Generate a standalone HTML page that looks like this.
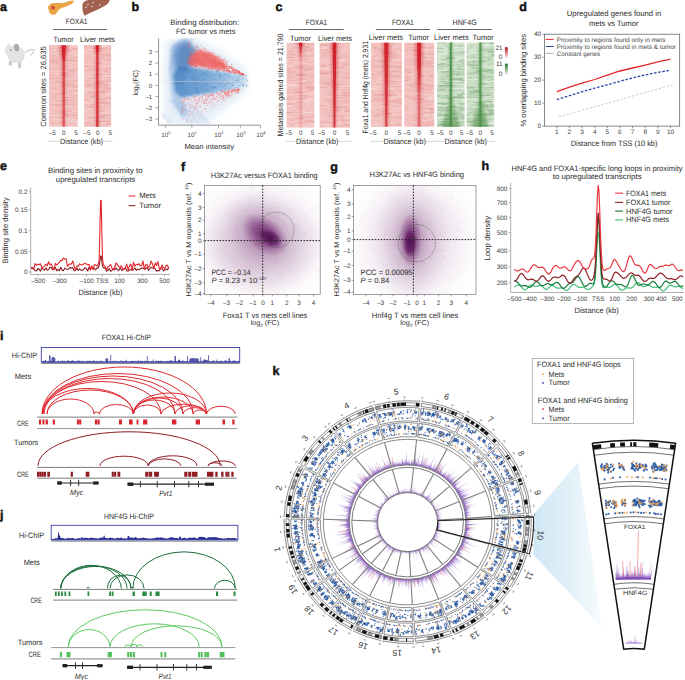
<!DOCTYPE html>
<html><head><meta charset="utf-8"><style>
html,body{margin:0;padding:0;background:#fff;}
body{width:685px;height:680px;overflow:hidden;}
svg{display:block;font-family:"Liberation Sans",sans-serif;}
</style></head><body>
<svg width="685" height="680" viewBox="0 0 685 680" text-rendering="geometricPrecision" fill="#2b2b2b">
<defs><filter id="hbl1" x="-50%" y="-5%" width="200%" height="110%"><feGaussianBlur stdDeviation="0.45 0.3"/></filter><filter id="hbl2" x="-50%" y="-5%" width="200%" height="110%"><feGaussianBlur stdDeviation="1.2 0.3"/></filter><linearGradient id="bg_red"><stop offset="0" stop-color="#c8141c" stop-opacity="0"/><stop offset="0.15" stop-color="#c8141c" stop-opacity="0.3"/><stop offset="0.3" stop-color="#c10f18"/><stop offset="0.7" stop-color="#c10f18"/><stop offset="0.85" stop-color="#c8141c" stop-opacity="0.3"/><stop offset="1" stop-color="#c8141c" stop-opacity="0"/></linearGradient><linearGradient id="bg_green"><stop offset="0" stop-color="#2e7d32" stop-opacity="0"/><stop offset="0.15" stop-color="#2e7d32" stop-opacity="0.3"/><stop offset="0.3" stop-color="#2a7530"/><stop offset="0.7" stop-color="#2a7530"/><stop offset="0.85" stop-color="#2e7d32" stop-opacity="0.3"/><stop offset="1" stop-color="#2e7d32" stop-opacity="0"/></linearGradient><linearGradient id="hb1" x1="0" y1="0" x2="0" y2="1"><stop offset="0.000" stop-color="#d0222a" stop-opacity="1.00"/><stop offset="0.025" stop-color="#d0222a" stop-opacity="1.00"/><stop offset="0.050" stop-color="#d0222a" stop-opacity="1.00"/><stop offset="0.075" stop-color="#d0222a" stop-opacity="0.95"/><stop offset="0.100" stop-color="#d0222a" stop-opacity="0.95"/><stop offset="0.125" stop-color="#d0222a" stop-opacity="0.95"/><stop offset="0.150" stop-color="#d0222a" stop-opacity="0.95"/><stop offset="0.175" stop-color="#d0222a" stop-opacity="0.95"/><stop offset="0.200" stop-color="#d0222a" stop-opacity="0.75"/><stop offset="0.225" stop-color="#d0222a" stop-opacity="0.74"/><stop offset="0.250" stop-color="#d0222a" stop-opacity="0.74"/><stop offset="0.275" stop-color="#d0222a" stop-opacity="0.73"/><stop offset="0.300" stop-color="#d0222a" stop-opacity="0.73"/><stop offset="0.325" stop-color="#d0222a" stop-opacity="0.72"/><stop offset="0.350" stop-color="#d0222a" stop-opacity="0.71"/><stop offset="0.375" stop-color="#d0222a" stop-opacity="0.71"/><stop offset="0.400" stop-color="#d0222a" stop-opacity="0.70"/><stop offset="0.425" stop-color="#d0222a" stop-opacity="0.69"/><stop offset="0.450" stop-color="#d0222a" stop-opacity="0.69"/><stop offset="0.475" stop-color="#d0222a" stop-opacity="0.68"/><stop offset="0.500" stop-color="#d0222a" stop-opacity="0.68"/><stop offset="0.525" stop-color="#d0222a" stop-opacity="0.67"/><stop offset="0.550" stop-color="#d0222a" stop-opacity="0.66"/><stop offset="0.575" stop-color="#d0222a" stop-opacity="0.66"/><stop offset="0.600" stop-color="#d0222a" stop-opacity="0.65"/><stop offset="0.625" stop-color="#d0222a" stop-opacity="0.64"/><stop offset="0.650" stop-color="#d0222a" stop-opacity="0.64"/><stop offset="0.675" stop-color="#d0222a" stop-opacity="0.63"/><stop offset="0.700" stop-color="#d0222a" stop-opacity="0.62"/><stop offset="0.725" stop-color="#d0222a" stop-opacity="0.62"/><stop offset="0.750" stop-color="#d0222a" stop-opacity="0.61"/><stop offset="0.775" stop-color="#d0222a" stop-opacity="0.61"/><stop offset="0.800" stop-color="#d0222a" stop-opacity="0.60"/><stop offset="0.825" stop-color="#d0222a" stop-opacity="0.59"/><stop offset="0.850" stop-color="#d0222a" stop-opacity="0.59"/><stop offset="0.875" stop-color="#d0222a" stop-opacity="0.58"/><stop offset="0.900" stop-color="#d0222a" stop-opacity="0.58"/><stop offset="0.925" stop-color="#d0222a" stop-opacity="0.57"/><stop offset="0.950" stop-color="#d0222a" stop-opacity="0.56"/><stop offset="0.975" stop-color="#d0222a" stop-opacity="0.56"/><stop offset="1.000" stop-color="#d0222a" stop-opacity="0.55"/></linearGradient><linearGradient id="hb2" x1="0" y1="0" x2="0" y2="1"><stop offset="0.000" stop-color="#d0222a" stop-opacity="1.00"/><stop offset="0.025" stop-color="#d0222a" stop-opacity="1.00"/><stop offset="0.050" stop-color="#d0222a" stop-opacity="1.00"/><stop offset="0.075" stop-color="#d0222a" stop-opacity="1.00"/><stop offset="0.100" stop-color="#d0222a" stop-opacity="0.85"/><stop offset="0.125" stop-color="#d0222a" stop-opacity="0.85"/><stop offset="0.150" stop-color="#d0222a" stop-opacity="0.85"/><stop offset="0.175" stop-color="#d0222a" stop-opacity="0.85"/><stop offset="0.200" stop-color="#d0222a" stop-opacity="0.85"/><stop offset="0.225" stop-color="#d0222a" stop-opacity="0.85"/><stop offset="0.250" stop-color="#d0222a" stop-opacity="0.85"/><stop offset="0.275" stop-color="#d0222a" stop-opacity="0.85"/><stop offset="0.300" stop-color="#d0222a" stop-opacity="0.85"/><stop offset="0.325" stop-color="#d0222a" stop-opacity="0.85"/><stop offset="0.350" stop-color="#d0222a" stop-opacity="0.85"/><stop offset="0.375" stop-color="#d0222a" stop-opacity="0.85"/><stop offset="0.400" stop-color="#d0222a" stop-opacity="0.85"/><stop offset="0.425" stop-color="#d0222a" stop-opacity="0.85"/><stop offset="0.450" stop-color="#d0222a" stop-opacity="0.85"/><stop offset="0.475" stop-color="#d0222a" stop-opacity="0.85"/><stop offset="0.500" stop-color="#d0222a" stop-opacity="0.85"/><stop offset="0.525" stop-color="#d0222a" stop-opacity="0.85"/><stop offset="0.550" stop-color="#d0222a" stop-opacity="0.85"/><stop offset="0.575" stop-color="#d0222a" stop-opacity="0.85"/><stop offset="0.600" stop-color="#d0222a" stop-opacity="0.85"/><stop offset="0.625" stop-color="#d0222a" stop-opacity="0.85"/><stop offset="0.650" stop-color="#d0222a" stop-opacity="0.85"/><stop offset="0.675" stop-color="#d0222a" stop-opacity="0.85"/><stop offset="0.700" stop-color="#d0222a" stop-opacity="0.85"/><stop offset="0.725" stop-color="#d0222a" stop-opacity="0.85"/><stop offset="0.750" stop-color="#d0222a" stop-opacity="0.85"/><stop offset="0.775" stop-color="#d0222a" stop-opacity="0.85"/><stop offset="0.800" stop-color="#d0222a" stop-opacity="0.85"/><stop offset="0.825" stop-color="#d0222a" stop-opacity="0.85"/><stop offset="0.850" stop-color="#d0222a" stop-opacity="0.85"/><stop offset="0.875" stop-color="#d0222a" stop-opacity="0.85"/><stop offset="0.900" stop-color="#d0222a" stop-opacity="0.85"/><stop offset="0.925" stop-color="#d0222a" stop-opacity="0.85"/><stop offset="0.950" stop-color="#d0222a" stop-opacity="0.85"/><stop offset="0.975" stop-color="#d0222a" stop-opacity="0.85"/><stop offset="1.000" stop-color="#d0222a" stop-opacity="0.85"/></linearGradient><filter id="blur1" x="-20%" y="-20%" width="140%" height="140%"><feGaussianBlur stdDeviation="1.6"/></filter><filter id="blur2" x="-20%" y="-20%" width="140%" height="140%"><feGaussianBlur stdDeviation="3"/></filter><linearGradient id="bfan" x1="0" x2="1" y1="0" y2="0"><stop offset="0" stop-color="#2f6fb8" stop-opacity="0.9"/><stop offset="0.5" stop-color="#5b93cf" stop-opacity="0.75"/><stop offset="1" stop-color="#b9d3ec" stop-opacity="0.35"/></linearGradient><clipPath id="clipb"><rect x="159" y="38" width="92" height="87.5"/></clipPath><linearGradient id="bcore" x1="0" x2="1" y1="0" y2="0"><stop offset="0" stop-color="#4f89c6"/><stop offset="0.45" stop-color="#6c9fd2"/><stop offset="0.8" stop-color="#a9c9e8"/><stop offset="1" stop-color="#d9e7f4"/></linearGradient><linearGradient id="hb3" x1="0" y1="0" x2="0" y2="1"><stop offset="0.000" stop-color="#d0222a" stop-opacity="1.00"/><stop offset="0.025" stop-color="#d0222a" stop-opacity="1.00"/><stop offset="0.050" stop-color="#d0222a" stop-opacity="0.80"/><stop offset="0.075" stop-color="#d0222a" stop-opacity="0.69"/><stop offset="0.100" stop-color="#d0222a" stop-opacity="0.58"/><stop offset="0.125" stop-color="#d0222a" stop-opacity="0.46"/><stop offset="0.150" stop-color="#d0222a" stop-opacity="0.35"/><stop offset="0.175" stop-color="#d0222a" stop-opacity="0.24"/><stop offset="0.200" stop-color="#d0222a" stop-opacity="0.16"/><stop offset="0.225" stop-color="#d0222a" stop-opacity="0.16"/><stop offset="0.250" stop-color="#d0222a" stop-opacity="0.16"/><stop offset="0.275" stop-color="#d0222a" stop-opacity="0.16"/><stop offset="0.300" stop-color="#d0222a" stop-opacity="0.16"/><stop offset="0.325" stop-color="#d0222a" stop-opacity="0.16"/><stop offset="0.350" stop-color="#d0222a" stop-opacity="0.16"/><stop offset="0.375" stop-color="#d0222a" stop-opacity="0.16"/><stop offset="0.400" stop-color="#d0222a" stop-opacity="0.16"/><stop offset="0.425" stop-color="#d0222a" stop-opacity="0.16"/><stop offset="0.450" stop-color="#d0222a" stop-opacity="0.16"/><stop offset="0.475" stop-color="#d0222a" stop-opacity="0.16"/><stop offset="0.500" stop-color="#d0222a" stop-opacity="0.16"/><stop offset="0.525" stop-color="#d0222a" stop-opacity="0.16"/><stop offset="0.550" stop-color="#d0222a" stop-opacity="0.16"/><stop offset="0.575" stop-color="#d0222a" stop-opacity="0.16"/><stop offset="0.600" stop-color="#d0222a" stop-opacity="0.16"/><stop offset="0.625" stop-color="#d0222a" stop-opacity="0.16"/><stop offset="0.650" stop-color="#d0222a" stop-opacity="0.16"/><stop offset="0.675" stop-color="#d0222a" stop-opacity="0.16"/><stop offset="0.700" stop-color="#d0222a" stop-opacity="0.16"/><stop offset="0.725" stop-color="#d0222a" stop-opacity="0.16"/><stop offset="0.750" stop-color="#d0222a" stop-opacity="0.16"/><stop offset="0.775" stop-color="#d0222a" stop-opacity="0.16"/><stop offset="0.800" stop-color="#d0222a" stop-opacity="0.16"/><stop offset="0.825" stop-color="#d0222a" stop-opacity="0.16"/><stop offset="0.850" stop-color="#d0222a" stop-opacity="0.16"/><stop offset="0.875" stop-color="#d0222a" stop-opacity="0.16"/><stop offset="0.900" stop-color="#d0222a" stop-opacity="0.16"/><stop offset="0.925" stop-color="#d0222a" stop-opacity="0.16"/><stop offset="0.950" stop-color="#d0222a" stop-opacity="0.16"/><stop offset="0.975" stop-color="#d0222a" stop-opacity="0.16"/><stop offset="1.000" stop-color="#d0222a" stop-opacity="0.16"/></linearGradient><linearGradient id="hb4" x1="0" y1="0" x2="0" y2="1"><stop offset="0.000" stop-color="#d0222a" stop-opacity="1.00"/><stop offset="0.025" stop-color="#d0222a" stop-opacity="1.00"/><stop offset="0.050" stop-color="#d0222a" stop-opacity="0.99"/><stop offset="0.075" stop-color="#d0222a" stop-opacity="0.99"/><stop offset="0.100" stop-color="#d0222a" stop-opacity="0.98"/><stop offset="0.125" stop-color="#d0222a" stop-opacity="0.98"/><stop offset="0.150" stop-color="#d0222a" stop-opacity="0.98"/><stop offset="0.175" stop-color="#d0222a" stop-opacity="0.97"/><stop offset="0.200" stop-color="#d0222a" stop-opacity="0.97"/><stop offset="0.225" stop-color="#d0222a" stop-opacity="0.97"/><stop offset="0.250" stop-color="#d0222a" stop-opacity="0.96"/><stop offset="0.275" stop-color="#d0222a" stop-opacity="0.96"/><stop offset="0.300" stop-color="#d0222a" stop-opacity="0.95"/><stop offset="0.325" stop-color="#d0222a" stop-opacity="0.95"/><stop offset="0.350" stop-color="#d0222a" stop-opacity="0.95"/><stop offset="0.375" stop-color="#d0222a" stop-opacity="0.94"/><stop offset="0.400" stop-color="#d0222a" stop-opacity="0.94"/><stop offset="0.425" stop-color="#d0222a" stop-opacity="0.94"/><stop offset="0.450" stop-color="#d0222a" stop-opacity="0.93"/><stop offset="0.475" stop-color="#d0222a" stop-opacity="0.93"/><stop offset="0.500" stop-color="#d0222a" stop-opacity="0.93"/><stop offset="0.525" stop-color="#d0222a" stop-opacity="0.92"/><stop offset="0.550" stop-color="#d0222a" stop-opacity="0.92"/><stop offset="0.575" stop-color="#d0222a" stop-opacity="0.91"/><stop offset="0.600" stop-color="#d0222a" stop-opacity="0.91"/><stop offset="0.625" stop-color="#d0222a" stop-opacity="0.91"/><stop offset="0.650" stop-color="#d0222a" stop-opacity="0.90"/><stop offset="0.675" stop-color="#d0222a" stop-opacity="0.90"/><stop offset="0.700" stop-color="#d0222a" stop-opacity="0.90"/><stop offset="0.725" stop-color="#d0222a" stop-opacity="0.89"/><stop offset="0.750" stop-color="#d0222a" stop-opacity="0.89"/><stop offset="0.775" stop-color="#d0222a" stop-opacity="0.88"/><stop offset="0.800" stop-color="#d0222a" stop-opacity="0.88"/><stop offset="0.825" stop-color="#d0222a" stop-opacity="0.88"/><stop offset="0.850" stop-color="#d0222a" stop-opacity="0.87"/><stop offset="0.875" stop-color="#d0222a" stop-opacity="0.87"/><stop offset="0.900" stop-color="#d0222a" stop-opacity="0.86"/><stop offset="0.925" stop-color="#d0222a" stop-opacity="0.86"/><stop offset="0.950" stop-color="#d0222a" stop-opacity="0.86"/><stop offset="0.975" stop-color="#d0222a" stop-opacity="0.85"/><stop offset="1.000" stop-color="#d0222a" stop-opacity="0.85"/></linearGradient><linearGradient id="hb5" x1="0" y1="0" x2="0" y2="1"><stop offset="0.000" stop-color="#d0222a" stop-opacity="0.97"/><stop offset="0.025" stop-color="#d0222a" stop-opacity="0.96"/><stop offset="0.050" stop-color="#d0222a" stop-opacity="0.96"/><stop offset="0.075" stop-color="#d0222a" stop-opacity="0.95"/><stop offset="0.100" stop-color="#d0222a" stop-opacity="0.94"/><stop offset="0.125" stop-color="#d0222a" stop-opacity="0.94"/><stop offset="0.150" stop-color="#d0222a" stop-opacity="0.93"/><stop offset="0.175" stop-color="#d0222a" stop-opacity="0.93"/><stop offset="0.200" stop-color="#d0222a" stop-opacity="0.92"/><stop offset="0.225" stop-color="#d0222a" stop-opacity="0.91"/><stop offset="0.250" stop-color="#d0222a" stop-opacity="0.91"/><stop offset="0.275" stop-color="#d0222a" stop-opacity="0.90"/><stop offset="0.300" stop-color="#d0222a" stop-opacity="0.90"/><stop offset="0.325" stop-color="#d0222a" stop-opacity="0.89"/><stop offset="0.350" stop-color="#d0222a" stop-opacity="0.88"/><stop offset="0.375" stop-color="#d0222a" stop-opacity="0.88"/><stop offset="0.400" stop-color="#d0222a" stop-opacity="0.87"/><stop offset="0.425" stop-color="#d0222a" stop-opacity="0.86"/><stop offset="0.450" stop-color="#d0222a" stop-opacity="0.86"/><stop offset="0.475" stop-color="#d0222a" stop-opacity="0.85"/><stop offset="0.500" stop-color="#d0222a" stop-opacity="0.84"/><stop offset="0.525" stop-color="#d0222a" stop-opacity="0.84"/><stop offset="0.550" stop-color="#d0222a" stop-opacity="0.83"/><stop offset="0.575" stop-color="#d0222a" stop-opacity="0.83"/><stop offset="0.600" stop-color="#d0222a" stop-opacity="0.82"/><stop offset="0.625" stop-color="#d0222a" stop-opacity="0.81"/><stop offset="0.650" stop-color="#d0222a" stop-opacity="0.81"/><stop offset="0.675" stop-color="#d0222a" stop-opacity="0.80"/><stop offset="0.700" stop-color="#d0222a" stop-opacity="0.79"/><stop offset="0.725" stop-color="#d0222a" stop-opacity="0.79"/><stop offset="0.750" stop-color="#d0222a" stop-opacity="0.78"/><stop offset="0.775" stop-color="#d0222a" stop-opacity="0.78"/><stop offset="0.800" stop-color="#d0222a" stop-opacity="0.77"/><stop offset="0.825" stop-color="#d0222a" stop-opacity="0.76"/><stop offset="0.850" stop-color="#d0222a" stop-opacity="0.76"/><stop offset="0.875" stop-color="#d0222a" stop-opacity="0.75"/><stop offset="0.900" stop-color="#d0222a" stop-opacity="0.74"/><stop offset="0.925" stop-color="#d0222a" stop-opacity="0.74"/><stop offset="0.950" stop-color="#d0222a" stop-opacity="0.73"/><stop offset="0.975" stop-color="#d0222a" stop-opacity="0.73"/><stop offset="1.000" stop-color="#d0222a" stop-opacity="0.72"/></linearGradient><linearGradient id="hb6" x1="0" y1="0" x2="0" y2="1"><stop offset="0.000" stop-color="#d0222a" stop-opacity="1.00"/><stop offset="0.025" stop-color="#d0222a" stop-opacity="1.00"/><stop offset="0.050" stop-color="#d0222a" stop-opacity="1.00"/><stop offset="0.075" stop-color="#d0222a" stop-opacity="1.00"/><stop offset="0.100" stop-color="#d0222a" stop-opacity="1.00"/><stop offset="0.125" stop-color="#d0222a" stop-opacity="1.00"/><stop offset="0.150" stop-color="#d0222a" stop-opacity="1.00"/><stop offset="0.175" stop-color="#d0222a" stop-opacity="1.00"/><stop offset="0.200" stop-color="#d0222a" stop-opacity="1.00"/><stop offset="0.225" stop-color="#d0222a" stop-opacity="1.00"/><stop offset="0.250" stop-color="#d0222a" stop-opacity="1.00"/><stop offset="0.275" stop-color="#d0222a" stop-opacity="1.00"/><stop offset="0.300" stop-color="#d0222a" stop-opacity="1.00"/><stop offset="0.325" stop-color="#d0222a" stop-opacity="0.95"/><stop offset="0.350" stop-color="#d0222a" stop-opacity="0.91"/><stop offset="0.375" stop-color="#d0222a" stop-opacity="0.86"/><stop offset="0.400" stop-color="#d0222a" stop-opacity="0.82"/><stop offset="0.425" stop-color="#d0222a" stop-opacity="0.78"/><stop offset="0.450" stop-color="#d0222a" stop-opacity="0.73"/><stop offset="0.475" stop-color="#d0222a" stop-opacity="0.69"/><stop offset="0.500" stop-color="#d0222a" stop-opacity="0.64"/><stop offset="0.525" stop-color="#d0222a" stop-opacity="0.59"/><stop offset="0.550" stop-color="#d0222a" stop-opacity="0.55"/><stop offset="0.575" stop-color="#d0222a" stop-opacity="0.51"/><stop offset="0.600" stop-color="#d0222a" stop-opacity="0.45"/><stop offset="0.625" stop-color="#d0222a" stop-opacity="0.45"/><stop offset="0.650" stop-color="#d0222a" stop-opacity="0.45"/><stop offset="0.675" stop-color="#d0222a" stop-opacity="0.45"/><stop offset="0.700" stop-color="#d0222a" stop-opacity="0.45"/><stop offset="0.725" stop-color="#d0222a" stop-opacity="0.45"/><stop offset="0.750" stop-color="#d0222a" stop-opacity="0.45"/><stop offset="0.775" stop-color="#d0222a" stop-opacity="0.45"/><stop offset="0.800" stop-color="#d0222a" stop-opacity="0.45"/><stop offset="0.825" stop-color="#d0222a" stop-opacity="0.45"/><stop offset="0.850" stop-color="#d0222a" stop-opacity="0.45"/><stop offset="0.875" stop-color="#d0222a" stop-opacity="0.45"/><stop offset="0.900" stop-color="#d0222a" stop-opacity="0.45"/><stop offset="0.925" stop-color="#d0222a" stop-opacity="0.45"/><stop offset="0.950" stop-color="#d0222a" stop-opacity="0.45"/><stop offset="0.975" stop-color="#d0222a" stop-opacity="0.45"/><stop offset="1.000" stop-color="#d0222a" stop-opacity="0.45"/></linearGradient><linearGradient id="hb7" x1="0" y1="0" x2="0" y2="1"><stop offset="0.000" stop-color="#4a8f45" stop-opacity="0.90"/><stop offset="0.025" stop-color="#4a8f45" stop-opacity="0.90"/><stop offset="0.050" stop-color="#4a8f45" stop-opacity="0.90"/><stop offset="0.075" stop-color="#4a8f45" stop-opacity="0.90"/><stop offset="0.100" stop-color="#4a8f45" stop-opacity="0.90"/><stop offset="0.125" stop-color="#4a8f45" stop-opacity="0.90"/><stop offset="0.150" stop-color="#4a8f45" stop-opacity="0.90"/><stop offset="0.175" stop-color="#4a8f45" stop-opacity="0.90"/><stop offset="0.200" stop-color="#4a8f45" stop-opacity="0.90"/><stop offset="0.225" stop-color="#4a8f45" stop-opacity="0.90"/><stop offset="0.250" stop-color="#4a8f45" stop-opacity="0.90"/><stop offset="0.275" stop-color="#4a8f45" stop-opacity="0.90"/><stop offset="0.300" stop-color="#4a8f45" stop-opacity="0.90"/><stop offset="0.325" stop-color="#4a8f45" stop-opacity="0.90"/><stop offset="0.350" stop-color="#4a8f45" stop-opacity="0.90"/><stop offset="0.375" stop-color="#4a8f45" stop-opacity="0.90"/><stop offset="0.400" stop-color="#4a8f45" stop-opacity="0.90"/><stop offset="0.425" stop-color="#4a8f45" stop-opacity="0.90"/><stop offset="0.450" stop-color="#4a8f45" stop-opacity="0.90"/><stop offset="0.475" stop-color="#4a8f45" stop-opacity="0.90"/><stop offset="0.500" stop-color="#4a8f45" stop-opacity="0.90"/><stop offset="0.525" stop-color="#4a8f45" stop-opacity="0.90"/><stop offset="0.550" stop-color="#4a8f45" stop-opacity="0.90"/><stop offset="0.575" stop-color="#4a8f45" stop-opacity="0.90"/><stop offset="0.600" stop-color="#4a8f45" stop-opacity="0.90"/><stop offset="0.625" stop-color="#4a8f45" stop-opacity="0.90"/><stop offset="0.650" stop-color="#4a8f45" stop-opacity="0.90"/><stop offset="0.675" stop-color="#4a8f45" stop-opacity="0.90"/><stop offset="0.700" stop-color="#4a8f45" stop-opacity="0.90"/><stop offset="0.725" stop-color="#4a8f45" stop-opacity="0.90"/><stop offset="0.750" stop-color="#4a8f45" stop-opacity="0.90"/><stop offset="0.775" stop-color="#4a8f45" stop-opacity="0.90"/><stop offset="0.800" stop-color="#4a8f45" stop-opacity="0.90"/><stop offset="0.825" stop-color="#4a8f45" stop-opacity="0.90"/><stop offset="0.850" stop-color="#4a8f45" stop-opacity="0.90"/><stop offset="0.875" stop-color="#4a8f45" stop-opacity="0.90"/><stop offset="0.900" stop-color="#4a8f45" stop-opacity="0.90"/><stop offset="0.925" stop-color="#4a8f45" stop-opacity="0.90"/><stop offset="0.950" stop-color="#4a8f45" stop-opacity="0.90"/><stop offset="0.975" stop-color="#4a8f45" stop-opacity="0.90"/><stop offset="1.000" stop-color="#4a8f45" stop-opacity="0.90"/></linearGradient><linearGradient id="hb7s" x1="0" y1="0" x2="0" y2="1"><stop offset="0" stop-color="#4a8f45" stop-opacity="0"/><stop offset="0.8" stop-color="#4a8f45" stop-opacity="0.45"/><stop offset="1" stop-color="#4a8f45" stop-opacity="0.6"/></linearGradient><linearGradient id="hb8" x1="0" y1="0" x2="0" y2="1"><stop offset="0.000" stop-color="#4a8f45" stop-opacity="0.85"/><stop offset="0.025" stop-color="#4a8f45" stop-opacity="0.85"/><stop offset="0.050" stop-color="#4a8f45" stop-opacity="0.85"/><stop offset="0.075" stop-color="#4a8f45" stop-opacity="0.85"/><stop offset="0.100" stop-color="#4a8f45" stop-opacity="0.85"/><stop offset="0.125" stop-color="#4a8f45" stop-opacity="0.85"/><stop offset="0.150" stop-color="#4a8f45" stop-opacity="0.85"/><stop offset="0.175" stop-color="#4a8f45" stop-opacity="0.85"/><stop offset="0.200" stop-color="#4a8f45" stop-opacity="0.85"/><stop offset="0.225" stop-color="#4a8f45" stop-opacity="0.85"/><stop offset="0.250" stop-color="#4a8f45" stop-opacity="0.85"/><stop offset="0.275" stop-color="#4a8f45" stop-opacity="0.85"/><stop offset="0.300" stop-color="#4a8f45" stop-opacity="0.85"/><stop offset="0.325" stop-color="#4a8f45" stop-opacity="0.85"/><stop offset="0.350" stop-color="#4a8f45" stop-opacity="0.85"/><stop offset="0.375" stop-color="#4a8f45" stop-opacity="0.85"/><stop offset="0.400" stop-color="#4a8f45" stop-opacity="0.85"/><stop offset="0.425" stop-color="#4a8f45" stop-opacity="0.85"/><stop offset="0.450" stop-color="#4a8f45" stop-opacity="0.85"/><stop offset="0.475" stop-color="#4a8f45" stop-opacity="0.85"/><stop offset="0.500" stop-color="#4a8f45" stop-opacity="0.85"/><stop offset="0.525" stop-color="#4a8f45" stop-opacity="0.85"/><stop offset="0.550" stop-color="#4a8f45" stop-opacity="0.85"/><stop offset="0.575" stop-color="#4a8f45" stop-opacity="0.85"/><stop offset="0.600" stop-color="#4a8f45" stop-opacity="0.85"/><stop offset="0.625" stop-color="#4a8f45" stop-opacity="0.85"/><stop offset="0.650" stop-color="#4a8f45" stop-opacity="0.85"/><stop offset="0.675" stop-color="#4a8f45" stop-opacity="0.85"/><stop offset="0.700" stop-color="#4a8f45" stop-opacity="0.85"/><stop offset="0.725" stop-color="#4a8f45" stop-opacity="0.85"/><stop offset="0.750" stop-color="#4a8f45" stop-opacity="0.85"/><stop offset="0.775" stop-color="#4a8f45" stop-opacity="0.85"/><stop offset="0.800" stop-color="#4a8f45" stop-opacity="0.85"/><stop offset="0.825" stop-color="#4a8f45" stop-opacity="0.85"/><stop offset="0.850" stop-color="#4a8f45" stop-opacity="0.85"/><stop offset="0.875" stop-color="#4a8f45" stop-opacity="0.85"/><stop offset="0.900" stop-color="#4a8f45" stop-opacity="0.85"/><stop offset="0.925" stop-color="#4a8f45" stop-opacity="0.85"/><stop offset="0.950" stop-color="#4a8f45" stop-opacity="0.85"/><stop offset="0.975" stop-color="#4a8f45" stop-opacity="0.85"/><stop offset="1.000" stop-color="#4a8f45" stop-opacity="0.85"/></linearGradient><linearGradient id="hb8s" x1="0" y1="0" x2="0" y2="1"><stop offset="0" stop-color="#4a8f45" stop-opacity="0"/><stop offset="0.8" stop-color="#4a8f45" stop-opacity="0.45"/><stop offset="1" stop-color="#4a8f45" stop-opacity="0.6"/></linearGradient><linearGradient id="lgr" x1="0" y1="0" x2="0" y2="1"><stop offset="0" stop-color="#b3121b"/><stop offset="1" stop-color="#fbecec"/></linearGradient><linearGradient id="lgg" x1="0" y1="0" x2="0" y2="1"><stop offset="0" stop-color="#23702c"/><stop offset="1" stop-color="#eef5ec"/></linearGradient><radialGradient id="pg1"><stop offset="0" stop-color="#6a1f6a" stop-opacity="0.95"/><stop offset="0.5" stop-color="#7a3278" stop-opacity="0.6"/><stop offset="1" stop-color="#8a4a88" stop-opacity="0"/></radialGradient><radialGradient id="pg0"><stop offset="0" stop-color="#c9a9c8" stop-opacity="0.55"/><stop offset="0.6" stop-color="#dcc8db" stop-opacity="0.35"/><stop offset="1" stop-color="#efe6ef" stop-opacity="0"/></radialGradient><radialGradient id="pg2"><stop offset="0" stop-color="#8e5a8c" stop-opacity="0.55"/><stop offset="0.6" stop-color="#b895b6" stop-opacity="0.3"/><stop offset="1" stop-color="#d9c6d8" stop-opacity="0"/></radialGradient><radialGradient id="pg3"><stop offset="0" stop-color="#4d0f4f" stop-opacity="1"/><stop offset="0.6" stop-color="#5e1a5f" stop-opacity="0.7"/><stop offset="1" stop-color="#6d2a6c" stop-opacity="0"/></radialGradient><clipPath id="clipf"><rect x="204.5" y="185.5" width="115.69999999999999" height="109.0"/></clipPath><clipPath id="clipg"><rect x="353.6" y="185.5" width="122.39999999999998" height="108.89999999999998"/></clipPath><linearGradient id="cone" x1="0" y1="0" x2="1" y2="0"><stop offset="0" stop-color="#cfe7f4"/><stop offset="0.55" stop-color="#e3f1f9"/><stop offset="1" stop-color="#f7fbfd"/></linearGradient><radialGradient id="spk1" gradientUnits="userSpaceOnUse" cx="407.6" cy="522.0" r="79"><stop offset="0.74" stop-color="#7b4bb8"/><stop offset="0.88" stop-color="#9a72cc"/><stop offset="1" stop-color="#c9b3e6"/></radialGradient><radialGradient id="spk2" gradientUnits="userSpaceOnUse" cx="407.6" cy="522.0" r="42"><stop offset="0.72" stop-color="#8353bd"/><stop offset="0.85" stop-color="#a582d2"/><stop offset="1" stop-color="#d2c0ea"/></radialGradient><linearGradient id="zsp" gradientUnits="userSpaceOnUse" x1="0" y1="579" x2="0" y2="552"><stop offset="0" stop-color="#7a45b5"/><stop offset="0.5" stop-color="#9a70cc"/><stop offset="1" stop-color="#c4aee6"/></linearGradient></defs>
<text x="0" y="11" font-size="12.5" fill="#111" font-weight="bold" stroke="#111" stroke-width="0.45">a</text>
<path d="M48.5,9.5 C47,6 50,3.5 54,3 C59,2.6 62,3.8 66,2.2 C69,1 72,0 73.8,0.6 C74,2.5 72,4.2 68,5.8 C64,7.4 60,8 58.5,10 C57.2,12.5 56,14.8 53,14.8 C50,14.8 49,12 48.5,9.5 Z" fill="#e9a545"/>
<circle cx="53" cy="7.8" r="2" fill="#d9493d"/>
<path d="M82.5,5 C83,1.5 86,0 90,0 L109.5,0 C110,1.5 108,4 104.5,6 C100,8.5 96,10.5 92,12 C88,13.5 86,15.5 84.5,15.5 C82.5,13 82.2,8 82.5,5 Z" fill="#a4604f"/>
<circle cx="88" cy="4.5" r="0.8" fill="#cfe3f5"/>
<circle cx="93" cy="2.5" r="0.8" fill="#cfe3f5"/>
<circle cx="92" cy="6.5" r="0.8" fill="#cfe3f5"/>
<circle cx="86" cy="7.5" r="0.8" fill="#cfe3f5"/>
<circle cx="100" cy="5" r="0.8" fill="#cfe3f5"/>
<g><path d="M24.5,52.8 C28,50.5 31,49.2 33.6,49.6 C35,50.2 33,53 30.6,55.6" fill="none" stroke="#b5b5b5" stroke-width="0.9"/><path d="M9,61 L8.6,65.2 L11.8,65.4 L12,61 Z M18,62 L18.3,68.3 L21,68.2 L21.2,62 Z" fill="#c9c9c9"/><path d="M4.8,50.8 C5.2,47 7.5,44.5 8.2,43.4 C9.5,43.6 10.2,45 10.6,46 C13,45.5 18,45.5 21,47.5 C24.5,50 25.5,55 24.2,58.8 C23,62 19,63.6 14.5,63 C10.5,62.5 8.2,59.5 7.6,55.5 C6.2,54.5 4.8,53 4.8,50.8 Z" fill="#e3e3e3"/><ellipse cx="16.6" cy="47.6" rx="2.6" ry="3.9" fill="#a9a9a9" transform="rotate(-8 16.6 47.6)"/><circle cx="10.8" cy="50" r="0.7" fill="#555"/></g>
<text x="65.8" y="23.6" font-size="7.8" textLength="21.7" lengthAdjust="spacingAndGlyphs">FOXA1</text>
<line x1="53" y1="29.5" x2="107" y2="29.5" stroke="#555" stroke-width="0.9"/>
<text x="53.4" y="41.6" font-size="7.8" textLength="20.1" lengthAdjust="spacingAndGlyphs">Tumor</text>
<text x="80" y="41.6" font-size="7.8" textLength="34.8" lengthAdjust="spacingAndGlyphs">Liver mets</text>
<rect x="49.1" y="45.3" width="28.7" height="81.4" fill="#f3c3c1"/>
<path d="M62.6,45.3h4v1.3h-4zM49.1,45.3h5v0.7h-5zM62.5,46.9h5v1.3h-5zM58.3,49.7h3.9v1.3h-3.9zM56.2,49.7h10.5v0.7h-10.5zM70.4,50.6h3.1v0.7h-3.1zM61,50.6h4.6v1.3h-4.6zM56.6,51.5h7.4v1h-7.4zM49.1,51.5h7.9v1.3h-7.9zM58.9,52.3h13.9v1h-13.9zM60.8,52.3h13.5v0.7h-13.5zM68.9,56.1h8.9v0.7h-8.9zM60.8,58.9h10.1v0.7h-10.1zM62.7,58.9h5.6v1h-5.6zM49.1,60.9h10v1.3h-10zM68.6,60.9h6v1.3h-6zM52.9,65.8h6.6v1.3h-6.6zM49.1,66.6h4.1v0.7h-4.1zM54,66.6h5.2v1h-5.2zM60,66.6h6.2v0.7h-6.2zM72.3,67.8h5.5v1.3h-5.5zM58.7,68.9h6.2v0.7h-6.2zM64.9,69.9h6.1v0.7h-6.1zM70,69.9h4v0.7h-4zM59.6,74h10.5v0.7h-10.5zM60.5,75.1h6.2v1h-6.2zM74.1,76.7h3.7v0.7h-3.7zM49.1,77.7h12.7v1.3h-12.7zM51.4,77.7h10.7v1h-10.7zM70.6,78.5h4.1v1h-4.1zM65.3,80.3h8.3v0.7h-8.3zM69.2,82.2h8.6v0.7h-8.6zM74.6,86.6h3.2v1.3h-3.2zM59.9,86.6h3.2v1.3h-3.2zM65.3,86.6h5.8v1h-5.8zM63,87.9h3.6v1h-3.6zM75.3,90.6h2.5v1h-2.5zM57.8,90.6h12v0.7h-12zM60.2,97.2h13.9v0.7h-13.9zM55.2,100.1h10.8v0.7h-10.8zM55.9,100.9h7.5v1.3h-7.5zM59.8,100.9h3.3v1h-3.3zM65.1,100.9h11.8v0.7h-11.8zM50.6,102.2h11v0.7h-11zM53.1,103.4h4.6v1.3h-4.6zM69.2,104.3h8.6v0.7h-8.6zM72.8,104.3h5v1.3h-5zM71.3,104.3h6.5v1.3h-6.5zM69.8,106.3h8v1h-8zM60.1,107.7h3.6v1h-3.6zM75.2,109h2.6v1h-2.6zM51.6,110.3h9.8v1h-9.8zM55.5,111.2h9.4v0.7h-9.4zM72.5,112.5h5.3v1.3h-5.3zM57.8,113.5h9.8v1.3h-9.8zM51.3,113.5h4.5v1.3h-4.5zM60.5,114.8h9.6v1h-9.6zM61.6,115.6h3.1v0.7h-3.1zM72.3,116.9h3.5v1h-3.5zM49.5,120.6h9.2v0.7h-9.2zM49.2,120.6h9.8v0.7h-9.8zM67.9,122.9h4v1.3h-4zM49.1,124.4h4.7v1.3h-4.7z" fill="#e07d79" opacity="0.10"/>
<path d="M49.1,46.9h6v0.7h-6zM57.7,46.9h10.5v1h-10.5zM66.3,47.9h11.5v0.7h-11.5zM49.1,47.9h12.5v1h-12.5zM55.2,48.9h6.7v1h-6.7zM63.5,49.7h6.9v1h-6.9zM71.5,49.7h6.3v1h-6.3zM75.3,51.5h2.5v1h-2.5zM52.1,51.5h4.6v1h-4.6zM59.1,54.4h11.7v0.7h-11.7zM49.1,59.7h4.3v1.3h-4.3zM63.4,59.7h11.5v0.7h-11.5zM60.2,60.9h11.9v0.7h-11.9zM49.1,62.5h11.6v0.7h-11.6zM51.7,62.5h3.8v0.7h-3.8zM51.1,63.4h13.6v0.7h-13.6zM65.3,63.4h4.8v0.7h-4.8zM56.9,63.4h13.9v1h-13.9zM61.7,64.3h3.2v1h-3.2zM69.1,64.3h8.7v0.7h-8.7zM49.1,67.8h11.7v1.3h-11.7zM57.8,68.9h12.7v0.7h-12.7zM61.4,69.9h13.7v0.7h-13.7zM49.9,69.9h5.4v1h-5.4zM66.8,71h10.2v1.3h-10.2zM49.1,72.4h7.8v0.7h-7.8zM62.1,75.1h6.3v0.7h-6.3zM65.4,75.1h6v1.3h-6zM49.1,76.7h4.2v1h-4.2zM55,77.7h4.5v1h-4.5zM64.8,80.3h11.1v1h-11.1zM61.5,81.2h7.7v0.7h-7.7zM56.2,81.2h12.6v1.3h-12.6zM54,83.3h7.8v0.7h-7.8zM70.3,83.3h4.2v1.3h-4.2zM60.7,85.6h3.8v1.3h-3.8zM63.2,85.6h5.5v0.7h-5.5zM68.2,90.6h9.2v1h-9.2zM51.5,92.9h3.3v1h-3.3zM73.1,94.5h4.7v1h-4.7zM68.9,94.5h7v0.7h-7zM51.9,94.5h11.3v0.7h-11.3zM62.1,97.2h6.2v1h-6.2zM51.9,97.2h5.2v0.7h-5.2zM62.4,97.2h12.7v1h-12.7zM55.9,100.1h13.2v0.7h-13.2zM57.1,102.2h10.6v1h-10.6zM71.5,102.2h6.3v1h-6.3zM70.1,102.2h7.7v1h-7.7zM49.1,103.4h1.1v0.7h-1.1zM61.9,105.2h3.5v1.3h-3.5zM67,109h10.5v0.7h-10.5zM60,110.3h4.6v1h-4.6zM64.3,110.3h7.4v1h-7.4zM56.6,111.2h9.9v1h-9.9zM62.6,113.5h5.5v1.3h-5.5zM65.2,114.8h4.6v1h-4.6zM67.8,118.2h10v1h-10zM69.2,122.9h4.5v1.3h-4.5zM52.4,122.9h6.7v1h-6.7zM68.3,125.7h5.2v0.7h-5.2z" fill="#e07d79" opacity="0.18"/>
<path d="M56.6,45.3h13.4v0.7h-13.4zM49.1,45.3h11v0.7h-11zM61.2,46.9h7.6v1.3h-7.6zM71.8,47.9h6v1.3h-6zM49.1,48.9h1.7v1h-1.7zM67.3,48.9h3.7v1h-3.7zM60.4,50.6h10.6v1.3h-10.6zM55,52.3h4.1v1h-4.1zM51.3,53.6h11.1v1.3h-11.1zM50.3,55.3h5.5v0.7h-5.5zM59.3,55.3h12.2v1.3h-12.2zM49.5,57.3h11v0.7h-11zM69.7,57.3h8.1v0.7h-8.1zM61.5,58.9h4.7v0.7h-4.7zM50.8,58.9h12.1v1h-12.1zM65.1,59.7h12.7v1.3h-12.7zM49.1,59.7h8.6v0.7h-8.6zM73,60.9h4.8v1h-4.8zM50.4,60.9h9.7v1h-9.7zM61.1,65.8h7.5v1.3h-7.5zM52.6,66.6h13.2v0.7h-13.2zM70.6,68.9h7.2v0.7h-7.2zM65.4,68.9h12.4v1h-12.4zM70.6,71h3.5v1.3h-3.5zM62.6,72.4h12.1v1.3h-12.1zM61.8,74h12.2v1.3h-12.2zM60,74h11.2v1.3h-11.2zM49.1,75.1h3.5v1h-3.5zM59.7,77.7h3v1h-3zM49.1,78.5h11v0.7h-11zM55.9,78.5h6.2v1h-6.2zM69.8,79.5h8v1.3h-8zM57.3,80.3h4.9v1h-4.9zM54.2,81.2h9.1v1h-9.1zM62.3,82.2h8.5v1h-8.5zM49.1,83.3h4.2v0.7h-4.2zM64,84.1h13.6v1.3h-13.6zM72.1,86.6h5.7v1h-5.7zM51.1,87.9h5.5v1h-5.5zM50,87.9h8.5v0.7h-8.5zM66.6,89.5h7.6v0.7h-7.6zM73.2,90.6h4.6v0.7h-4.6zM58.8,92.1h7.1v0.7h-7.1zM54.7,92.9h7v1.3h-7zM54.1,92.9h10.9v1h-10.9zM69.5,94.5h5v1.3h-5zM50.7,95.7h9.9v1h-9.9zM49.6,95.7h13.7v0.7h-13.7zM53.4,98.5h3.4v0.7h-3.4zM65.2,100.1h11.5v0.7h-11.5zM59.4,104.3h13.7v0.7h-13.7zM49.9,104.3h12.1v0.7h-12.1zM53.9,105.2h10.1v0.7h-10.1zM55.7,106.3h6.9v1h-6.9zM62.5,111.2h9.1v0.7h-9.1zM60.5,112.5h6.3v1h-6.3zM55.4,113.5h3v0.7h-3zM66.5,114.8h11.3v1h-11.3zM49.6,116.9h11.9v1h-11.9zM57.9,116.9h7.1v1h-7.1zM51.3,116.9h8v0.7h-8zM73.5,118.2h4.3v0.7h-4.3zM50.6,122.9h4.2v0.7h-4.2z" fill="#e07d79" opacity="0.28"/>
<path d="M63.9,64.3h6.6v1.3h-6.6zM49.1,65.8h1.5v0.7h-1.5zM49.1,66.6h10.1v0.7h-10.1zM55,67.8h13.8v1.3h-13.8zM51.5,71h6.3v1.3h-6.3zM59.8,71h10.9v1h-10.9zM68,72.4h9.8v1.3h-9.8zM73,75.1h3.8v1h-3.8zM56.7,87.9h7v0.7h-7zM74.8,87.9h3v1h-3zM64.8,89.5h5.1v1.3h-5.1zM49.1,90.6h1.4v1h-1.4zM52,92.1h9.9v1.3h-9.9zM73.2,92.9h4.6v1.3h-4.6zM51.5,95.7h12.8v1.3h-12.8zM63.8,103.4h4v1h-4zM51.9,105.2h4.4v1.3h-4.4zM51.6,115.6h7.5v0.7h-7.5zM52.4,118.2h3.2v0.7h-3.2zM74.4,121.4h3.4v1.3h-3.4z" fill="#ffffff" opacity="0.15"/>
<path d="M51.1,46.9h3.5v1.3h-3.5zM74.6,48.9h3.2v0.7h-3.2zM53.1,48.9h12v1h-12zM51.9,49.7h4.4v1h-4.4zM63.6,51.5h13.4v0.7h-13.4zM53.5,52.3h11.3v1.3h-11.3zM51.2,53.6h6.9v1.3h-6.9zM63.5,53.6h10v0.7h-10zM73.8,54.4h4v1h-4zM64.3,56.1h7.8v0.7h-7.8zM72.5,62.5h5.3v0.7h-5.3zM68.8,64.3h3.4v1h-3.4zM51.2,65.8h9.7v1h-9.7zM67.5,74h3.7v1h-3.7zM68.1,74h5.6v0.7h-5.6zM60.2,76.7h3.8v1h-3.8zM73.4,78.5h3.8v1h-3.8zM54.1,79.5h7.8v1h-7.8zM66.9,79.5h9v0.7h-9zM68,79.5h8v1.3h-8zM58.5,81.2h9.1v1h-9.1zM72.5,83.3h5.3v1h-5.3zM56.5,83.3h3v1.3h-3zM49.1,84.1h2v1.3h-2zM67.3,89.5h10.5v0.7h-10.5zM63.3,94.5h11.5v1h-11.5zM57.6,95.7h4.8v0.7h-4.8zM59.1,98.5h4.1v0.7h-4.1zM67.3,100.9h3.4v0.7h-3.4zM54,102.2h13.5v1.3h-13.5zM63.1,105.2h4.3v1.3h-4.3zM58.8,106.3h13.8v1h-13.8zM64.3,106.3h3.4v0.7h-3.4zM72.5,110.3h4.7v1h-4.7zM60.9,111.2h4.3v1.3h-4.3zM49.1,114.8h10.4v1.3h-10.4zM54.7,116.9h3.4v1.3h-3.4zM65.6,118.2h10v1.3h-10zM71.1,119.3h6.7v1.3h-6.7zM60.9,119.3h8.2v0.7h-8.2zM51.5,119.3h13.5v1h-13.5zM67.5,121.4h10.3v0.7h-10.3zM68.2,122.9h3.5v1h-3.5zM49.1,124.4h7.7v1.3h-7.7zM66.1,125.7h4.1v0.7h-4.1zM60.4,125.7h13.5v1.3h-13.5z" fill="#ffffff" opacity="0.25"/>
<polygon points="59.3,45.3 59.3,47.3 59.3,49.4 59.5,51.4 59.8,53.4 60.2,55.5 60.5,57.5 60.8,59.5 61.2,61.6 61.2,63.6 61.2,65.7 61.2,67.7 61.2,69.7 61.2,71.8 61.2,73.8 61.2,75.8 61.2,77.9 61.2,79.9 61.2,81.9 61.2,84 61.2,86 61.2,88 61.2,90.1 61.2,92.1 61.2,94.1 61.2,96.2 61.2,98.2 61.2,100.2 61.2,102.3 61.2,104.3 61.2,106.3 61.2,108.4 61.2,110.4 61.2,112.5 61.2,114.5 61.2,116.5 61.2,118.6 61.2,120.6 61.2,122.6 61.2,124.7 61.2,126.7 66.2,126.7 66.2,124.7 66.2,122.6 66.2,120.6 66.2,118.6 66.2,116.5 66.2,114.5 66.2,112.5 66.2,110.4 66.2,108.4 66.2,106.3 66.2,104.3 66.2,102.3 66.2,100.2 66.2,98.2 66.2,96.2 66.2,94.1 66.2,92.1 66.2,90.1 66.2,88 66.2,86 66.2,84 66.2,81.9 66.2,79.9 66.2,77.9 66.2,75.8 66.2,73.8 66.2,71.8 66.2,69.7 66.2,67.7 66.2,65.7 66.2,63.6 66.2,61.6 66.6,59.5 66.9,57.5 67.2,55.5 67.6,53.4 67.9,51.4 68.1,49.4 68.1,47.3 68.1,45.3" fill="url(#hb1)" opacity="0.35" filter="url(#hbl2)"/>
<polygon points="61.7,45.3 61.7,47.3 61.7,49.4 61.8,51.4 61.9,53.4 62.1,55.5 62.2,57.5 62.4,59.5 62.6,61.6 62.6,63.6 62.6,65.7 62.6,67.7 62.6,69.7 62.6,71.8 62.6,73.8 62.6,75.8 62.6,77.9 62.6,79.9 62.6,81.9 62.6,84 62.6,86 62.6,88 62.6,90.1 62.6,92.1 62.6,94.1 62.6,96.2 62.6,98.2 62.6,100.2 62.6,102.3 62.6,104.3 62.6,106.3 62.6,108.4 62.6,110.4 62.6,112.5 62.6,114.5 62.6,116.5 62.6,118.6 62.6,120.6 62.6,122.6 62.6,124.7 62.6,126.7 64.9,126.7 64.9,124.7 64.9,122.6 64.9,120.6 64.9,118.6 64.9,116.5 64.9,114.5 64.9,112.5 64.9,110.4 64.9,108.4 64.9,106.3 64.9,104.3 64.9,102.3 64.9,100.2 64.9,98.2 64.9,96.2 64.9,94.1 64.9,92.1 64.9,90.1 64.9,88 64.9,86 64.9,84 64.9,81.9 64.9,79.9 64.9,77.9 64.9,75.8 64.9,73.8 64.9,71.8 64.9,69.7 64.9,67.7 64.9,65.7 64.9,63.6 64.9,61.6 65,59.5 65.2,57.5 65.3,55.5 65.5,53.4 65.6,51.4 65.7,49.4 65.7,47.3 65.7,45.3" fill="url(#hb1)" opacity="1.0" filter="url(#hbl1)"/>
<path d="M58.6,47.4h6.7v.7h-6.7zM63.4,53h3.6v.7h-3.6zM59.3,68.4h6.9v.7h-6.9zM60.3,72.3h5v.7h-5zM61.1,75.3h4.9v.7h-4.9zM60.7,81.9h4.3v.7h-4.3zM61.3,84h3.7v.7h-3.7zM61.9,102h6.8v.7h-6.8zM62.9,109.7h2.7v.7h-2.7zM61.4,112h2.5v.7h-2.5zM61,116.9h6.3v.7h-6.3zM61.3,121.2h3.3v.7h-3.3zM59.3,122.7h6.3v.7h-6.3z" fill="#d0222a" opacity="0.18"/>
<rect x="84.1" y="45.3" width="27" height="81.4" fill="#f3c3c1"/>
<path d="M95.4,46.5h3.4v0.7h-3.4zM84.1,46.5h6.7v1.3h-6.7zM84.1,47.7h10.1v1.3h-10.1zM98.6,49.3h11.4v1h-11.4zM89.5,50.5h8.8v1.3h-8.8zM86.6,51.4h10.2v0.7h-10.2zM104.3,52.9h6.8v0.7h-6.8zM101.4,52.9h8.8v1h-8.8zM103.9,54.1h7.2v1h-7.2zM84.1,55.2h9.7v1h-9.7zM100.6,55.2h3.4v1.3h-3.4zM84.1,56.2h9.7v1.3h-9.7zM84.1,57.4h5.5v1h-5.5zM106.4,57.4h4.7v1.3h-4.7zM99.1,57.4h5.3v1h-5.3zM84.1,60.6h4.9v0.7h-4.9zM84.1,60.6h9.2v0.7h-9.2zM90.1,61.5h13.2v1.3h-13.2zM84.1,62.9h9.6v0.7h-9.6zM97.1,66.8h12.1v1h-12.1zM102,68.2h9.1v0.7h-9.1zM101.6,69.5h5.2v0.7h-5.2zM94.8,69.5h12.7v1h-12.7zM84.1,70.4h5.3v1.3h-5.3zM94.7,71.4h6.8v0.7h-6.8zM105.1,71.4h6v1h-6zM105.2,72.4h5.9v1h-5.9zM84.1,73.9h3.3v1.3h-3.3zM90.8,75.2h7.1v1h-7.1zM85,75.2h10.9v0.7h-10.9zM84.1,76.1h2.1v1.3h-2.1zM89.1,77.2h12.2v0.7h-12.2zM104.2,78.1h6.9v0.7h-6.9zM84.1,79.7h9.2v1.3h-9.2zM106.5,79.7h4.6v0.7h-4.6zM86,80.6h8.7v0.7h-8.7zM84.1,80.6h4v1.3h-4zM86.4,83.8h4.5v0.7h-4.5zM100.2,84.7h8.8v0.7h-8.8zM84.1,85.9h2.9v0.7h-2.9zM97.2,85.9h9.6v0.7h-9.6zM102.4,88.3h8.7v1h-8.7zM91,91.4h13.7v1h-13.7zM88.9,91.4h6.6v1h-6.6zM94.6,92.9h10.2v1h-10.2zM88.1,96.6h7.2v1.3h-7.2zM96.7,97.8h12.9v1.3h-12.9zM84.1,98.8h4.3v1h-4.3zM94.8,98.8h9.9v1.3h-9.9zM94.8,102.2h4.9v1h-4.9zM92.6,103.2h6.8v1h-6.8zM105.4,104.2h5.7v1h-5.7zM102.7,106.6h8.4v1.3h-8.4zM85.3,106.6h13.5v1h-13.5zM91.2,108.1h8.9v1.3h-8.9zM90.8,108.9h6.4v0.7h-6.4zM98,111.8h9.1v0.7h-9.1zM100,114.8h3.6v1h-3.6zM102.5,116h4.8v0.7h-4.8zM84.1,116h13.6v1h-13.6zM101.9,118.3h9v0.7h-9zM87.8,120.7h9.3v1.3h-9.3zM106.7,122.9h4.4v1.3h-4.4zM97.9,122.9h9.6v0.7h-9.6zM84.8,123.8h7.8v1.3h-7.8z" fill="#e07d79" opacity="0.10"/>
<path d="M98.3,45.3h10.5v1h-10.5zM84.1,45.3h7.8v1h-7.8zM90.6,47.7h5.8v0.7h-5.8zM98,47.7h13.1v1.3h-13.1zM98.3,49.3h6.9v1h-6.9zM98.7,50.5h6.9v1h-6.9zM84.1,50.5h7.4v1h-7.4zM92.7,51.4h5v0.7h-5zM106.3,54.1h4.8v1.3h-4.8zM97.1,54.1h4.8v1.3h-4.8zM96,54.1h8.1v1.3h-8.1zM84.1,55.2h5.7v0.7h-5.7zM95.7,56.2h7.6v1h-7.6zM98.7,56.2h12.4v0.7h-12.4zM103.8,58.2h7.1v1h-7.1zM84.6,58.2h12.5v0.7h-12.5zM91.5,60.6h8.2v0.7h-8.2zM95.8,62.9h6.2v1h-6.2zM88.5,64.4h7.3v1.3h-7.3zM84.1,65.7h12.1v1.3h-12.1zM92.9,69.5h11.7v0.7h-11.7zM86.1,69.5h11.5v1.3h-11.5zM102.5,70.4h6.9v0.7h-6.9zM92.3,75.2h9.5v1.3h-9.5zM93.4,76.1h12.1v1.3h-12.1zM102.8,79.7h7.9v1.3h-7.9zM105.8,80.6h5.3v1.3h-5.3zM93.9,81.8h12.5v0.7h-12.5zM96.9,82.8h7.1v0.7h-7.1zM84.1,82.8h10.8v1h-10.8zM86.9,84.7h11.1v1.3h-11.1zM84.1,85.9h11.9v1.3h-11.9zM103.9,85.9h4.8v1.3h-4.8zM94.2,88.3h7.8v0.7h-7.8zM103.3,88.3h7.8v0.7h-7.8zM107.6,89.2h3.5v1h-3.5zM101.2,90.1h6v1.3h-6zM88.2,91.4h12.8v1h-12.8zM89.1,91.4h3.3v0.7h-3.3zM102.1,94.1h3v1.3h-3zM92.7,95.6h7.2v1h-7.2zM90.4,96.6h7.8v0.7h-7.8zM105.8,96.6h5.3v0.7h-5.3zM89.8,97.8h7.3v1.3h-7.3zM99.4,97.8h11.7v1.3h-11.7zM84.1,98.8h4.3v1.3h-4.3zM94.5,101.4h12.9v0.7h-12.9zM90.8,104.2h5.7v1.3h-5.7zM84.2,104.2h4v1h-4zM90,104.2h7.4v1h-7.4zM91.8,105.3h13.6v1h-13.6zM87.6,105.3h5.1v0.7h-5.1zM86.4,106.6h11.9v0.7h-11.9zM99,108.9h6.5v0.7h-6.5zM101.9,108.9h9.2v0.7h-9.2zM100.6,109.8h4.4v1h-4.4zM99.5,109.8h3.3v1.3h-3.3zM100.2,109.8h3.3v1h-3.3zM97.4,110.9h7.5v1h-7.5zM84.1,114.8h3.8v1h-3.8zM101.3,120.7h6.6v1h-6.6zM93.8,120.7h13.5v1.3h-13.5zM84.1,122h7.5v1.3h-7.5zM98.5,122h7.2v1h-7.2zM104.8,123.8h6.3v1.3h-6.3zM96.1,125.4h10.4v1h-10.4z" fill="#e07d79" opacity="0.18"/>
<path d="M92.8,47.7h11.2v1.3h-11.2zM99.7,52.9h9.7v0.7h-9.7zM99.4,55.2h11.7v0.7h-11.7zM106.7,59.5h4.4v1h-4.4zM84.1,65.7h3v1.3h-3zM88.7,68.2h10.6v1h-10.6zM105.1,68.2h6v1.3h-6zM106.5,68.2h4.6v1h-4.6zM103.3,70.4h4v1h-4zM100.3,73.9h10.8v0.7h-10.8zM107.4,73.9h3.7v1h-3.7zM104.2,73.9h6.9v0.7h-6.9zM91.5,77.2h5.9v0.7h-5.9zM106.2,77.2h4.9v0.7h-4.9zM87.8,78.1h4.1v0.7h-4.1zM99.9,81.8h3.1v1.3h-3.1zM94.7,81.8h13.1v1h-13.1zM96,82.8h5.7v1h-5.7zM93.9,83.8h13.5v1.3h-13.5zM103.6,84.7h5.8v0.7h-5.8zM84.1,84.7h7.2v0.7h-7.2zM104.3,87.3h6.8v1.3h-6.8zM99,87.3h12.1v0.7h-12.1zM96.2,90.1h9.7v1.3h-9.7zM102.3,91.4h6.3v0.7h-6.3zM99.1,92.9h7.6v0.7h-7.6zM87.4,92.9h9.7v1.3h-9.7zM90.8,95.6h6.2v1.3h-6.2zM108,97.8h3.1v1h-3.1zM84.1,100h5.9v0.7h-5.9zM102.2,101.4h4.9v1.3h-4.9zM99.6,102.2h10.2v1.3h-10.2zM96.6,103.2h12.8v0.7h-12.8zM89.7,106.6h4.8v1.3h-4.8zM101.3,114.8h9.8v1.3h-9.8zM100.2,116h3.5v1.3h-3.5zM100.3,117.3h4.5v1.3h-4.5zM94.6,117.3h5.7v1h-5.7zM88.1,117.3h6.9v1.3h-6.9zM108.5,120.7h2.6v1h-2.6zM98.4,120.7h12.7v1.3h-12.7zM86.7,122.9h12.2v0.7h-12.2zM105.8,123.8h5.3v0.7h-5.3zM84.1,125.4h12.9v1h-12.9z" fill="#e07d79" opacity="0.28"/>
<path d="M90.8,46.5h11.6v1h-11.6zM88.2,47.7h4.2v1h-4.2zM84.1,49.3h8v0.7h-8zM96,49.3h8.2v0.7h-8.2zM90.4,49.3h5.9v1h-5.9zM84.1,50.5h9.1v1.3h-9.1zM90.1,55.2h12.5v1h-12.5zM106.7,57.4h4.4v1.3h-4.4zM100,57.4h9.9v1.3h-9.9zM91.7,58.2h12.6v0.7h-12.6zM96.2,61.5h6v1h-6zM99.6,66.8h7.1v1.3h-7.1zM93.1,69.5h10.5v0.7h-10.5zM107.5,72.4h3.6v1.3h-3.6zM84.1,73.9h7.7v0.7h-7.7zM92.1,78.1h13.7v1h-13.7zM105.1,82.8h6v1.3h-6zM106.5,87.3h4.6v1h-4.6zM84.1,87.3h6v1.3h-6zM108.8,92.9h2.3v1.3h-2.3zM109,92.9h2.1v1h-2.1zM104.4,96.6h6.6v0.7h-6.6zM91.1,97.8h7.1v1.3h-7.1zM106.6,100h4.5v1h-4.5zM84.1,101.4h9v1.3h-9zM87.1,103.2h4.9v0.7h-4.9zM85.8,103.2h5.6v0.7h-5.6zM97.2,104.2h6.3v1h-6.3zM105.6,109.8h5.5v0.7h-5.5zM84.1,110.9h3.5v1.3h-3.5zM102.4,113.4h8.7v1h-8.7zM99.5,113.4h11.6v0.7h-11.6zM84.1,114.8h8.8v1.3h-8.8zM92.9,118.3h9.6v1h-9.6zM100.1,119.6h5.2v1h-5.2zM88,122h12.2v0.7h-12.2zM92,125.4h8.7v1.3h-8.7z" fill="#ffffff" opacity="0.15"/>
<path d="M98,45.3h10.8v1h-10.8zM98.9,46.5h8.7v0.7h-8.7zM94.5,46.5h10.9v1.3h-10.9zM94.2,56.2h7.4v1h-7.4zM94.8,59.5h8.5v0.7h-8.5zM88.6,64.4h9.7v1.3h-9.7zM102.4,65.7h8.2v1h-8.2zM84.1,72.4h1.9v0.7h-1.9zM84.1,75.2h3v0.7h-3zM103.3,75.2h7.8v1.3h-7.8zM84.1,76.1h12v1h-12zM98,76.1h12.3v1h-12.3zM98.3,88.3h3.4v1h-3.4zM84.1,89.2h8.7v1.3h-8.7zM94.4,90.1h7.8v1h-7.8zM96.3,94.1h13.6v1h-13.6zM94,96.6h9.2v1.3h-9.2zM87.9,98.8h10.2v1h-10.2zM109,108.1h2.1v1.3h-2.1zM84.1,108.1h8.2v1h-8.2zM100.6,111.8h9.3v1h-9.3zM85.3,119.6h7v0.7h-7zM100.7,122h4.1v1h-4.1zM93.9,122.9h13.4v1h-13.4z" fill="#ffffff" opacity="0.25"/>
<polygon points="93.3,45.3 93.7,47.3 94.1,49.4 94.5,51.4 94.9,53.4 94.9,55.5 94.9,57.5 94.9,59.5 94.9,61.6 94.9,63.6 94.9,65.7 94.9,67.7 94.9,69.7 94.9,71.8 94.9,73.8 94.9,75.8 94.9,77.9 94.9,79.9 94.9,81.9 94.9,84 94.9,86 94.9,88 94.9,90.1 94.9,92.1 94.9,94.1 94.9,96.2 94.9,98.2 94.9,100.2 94.9,102.3 94.9,104.3 94.9,106.3 94.9,108.4 94.9,110.4 94.9,112.5 94.9,114.5 94.9,116.5 94.9,118.6 94.9,120.6 94.9,122.6 94.9,124.7 94.9,126.7 99.7,126.7 99.7,124.7 99.7,122.6 99.7,120.6 99.7,118.6 99.7,116.5 99.7,114.5 99.7,112.5 99.7,110.4 99.7,108.4 99.7,106.3 99.7,104.3 99.7,102.3 99.7,100.2 99.7,98.2 99.7,96.2 99.7,94.1 99.7,92.1 99.7,90.1 99.7,88 99.7,86 99.7,84 99.7,81.9 99.7,79.9 99.7,77.9 99.7,75.8 99.7,73.8 99.7,71.8 99.7,69.7 99.7,67.7 99.7,65.7 99.7,63.6 99.7,61.6 99.7,59.5 99.7,57.5 99.7,55.5 99.7,53.4 100.1,51.4 100.5,49.4 100.9,47.3 101.3,45.3" fill="url(#hb2)" opacity="0.35" filter="url(#hbl2)"/>
<polygon points="95.5,45.3 95.7,47.3 95.8,49.4 96,51.4 96.2,53.4 96.2,55.5 96.2,57.5 96.2,59.5 96.2,61.6 96.2,63.6 96.2,65.7 96.2,67.7 96.2,69.7 96.2,71.8 96.2,73.8 96.2,75.8 96.2,77.9 96.2,79.9 96.2,81.9 96.2,84 96.2,86 96.2,88 96.2,90.1 96.2,92.1 96.2,94.1 96.2,96.2 96.2,98.2 96.2,100.2 96.2,102.3 96.2,104.3 96.2,106.3 96.2,108.4 96.2,110.4 96.2,112.5 96.2,114.5 96.2,116.5 96.2,118.6 96.2,120.6 96.2,122.6 96.2,124.7 96.2,126.7 98.4,126.7 98.4,124.7 98.4,122.6 98.4,120.6 98.4,118.6 98.4,116.5 98.4,114.5 98.4,112.5 98.4,110.4 98.4,108.4 98.4,106.3 98.4,104.3 98.4,102.3 98.4,100.2 98.4,98.2 98.4,96.2 98.4,94.1 98.4,92.1 98.4,90.1 98.4,88 98.4,86 98.4,84 98.4,81.9 98.4,79.9 98.4,77.9 98.4,75.8 98.4,73.8 98.4,71.8 98.4,69.7 98.4,67.7 98.4,65.7 98.4,63.6 98.4,61.6 98.4,59.5 98.4,57.5 98.4,55.5 98.4,53.4 98.6,51.4 98.8,49.4 98.9,47.3 99.1,45.3" fill="url(#hb2)" opacity="1.0" filter="url(#hbl1)"/>
<path d="M92.7,53h4.9v.7h-4.9zM97.1,58h6.4v.7h-6.4zM95.3,62.6h5.3v.7h-5.3zM94.7,70.8h2.9v.7h-2.9zM95.7,73.7h6.3v.7h-6.3zM96.8,80.5h4.9v.7h-4.9zM94.9,98.7h6.2v.7h-6.2zM97.2,107h3.9v.7h-3.9zM94.8,110h3.5v.7h-3.5zM95.3,122.2h5.7v.7h-5.7z" fill="#d0222a" opacity="0.18"/>
<text x="46.5" y="126.7" font-size="7.8" textLength="80.5" lengthAdjust="spacingAndGlyphs" transform="rotate(-90 46.5 126.7)">Common sites = 26,635</text>
<text x="52.3" y="135" font-size="6.4" text-anchor="middle" fill="#444">–5</text>
<text x="63.7" y="135" font-size="6.4" text-anchor="middle" fill="#444">0</text>
<text x="76" y="135" font-size="6.4" text-anchor="middle" fill="#444">5</text>
<text x="86.9" y="135" font-size="6.4" text-anchor="middle" fill="#444">–5</text>
<text x="97.8" y="135" font-size="6.4" text-anchor="middle" fill="#444">0</text>
<text x="110.4" y="135" font-size="6.4" text-anchor="middle" fill="#444">5</text>
<text x="60" y="143.5" font-size="7.8" textLength="43" lengthAdjust="spacingAndGlyphs">Distance (kb)</text>
<line x1="49" y1="141.3" x2="59.5" y2="141.3" stroke="#777" stroke-width="0.6" stroke-dasharray="0.8 0.8"/>
<line x1="103.5" y1="141.3" x2="113" y2="141.3" stroke="#777" stroke-width="0.6" stroke-dasharray="0.8 0.8"/>
<text x="131.5" y="11.3" font-size="12.5" fill="#111" font-weight="bold" stroke="#111" stroke-width="0.45">b</text>
<text x="170.3" y="25" font-size="7.8" textLength="68.9" lengthAdjust="spacingAndGlyphs">Binding distribution:</text>
<text x="176" y="33.8" font-size="7.8" textLength="59.4" lengthAdjust="spacingAndGlyphs">FC tumor vs mets</text>
<g clip-path="url(#clipb)">
<path d="M166,40 L196,38.5 L222,52 L246,70 L247,92 L226,108 L205,125 L166,125 L163,80 Z" fill="#dde9f5" opacity="0.75" filter="url(#blur2)"/>
<path d="M168.5,99.5 L189,123.5 M170.9,99.9 L191.4,123.5 M173.3,100.3 L193.8,123.5 M175.7,100.7 L196.2,123.5 M178.1,101.1 L198.6,123.5 M180.5,101.5 L201,123.5 M182.9,101.9 L203.4,123.5 M185.3,102.3 L205.8,123.5 M187.7,102.7 L208.2,123.5 M190.1,103.1 L210.6,123.5" stroke="#a9c6e6" stroke-width="0.6" fill="none" opacity="0.9"/>
<path d="M161.5,114.5 L169,123 M163,113 L171.5,123" stroke="#b3cde9" stroke-width="0.7" fill="none"/>
<path d="M168,52 L180,38.5 M170.2,51.4 L182.2,38.5 M172.4,50.8 L184.4,38.5 M174.6,50.2 L186.6,38.5 M176.8,49.6 L188.8,38.5 M179,49 L191,38.5 M181.2,48.4 L193.2,38.5 M183.4,47.8 L195.4,38.5" stroke="#b9d1eb" stroke-width="0.6" fill="none" opacity="0.8"/>
<path d="M172,45 L186,39 L196,50 L190,66 L181,98 L188,112 L182,118 L172,100 L169,70 Z" fill="#9fc0e4" opacity="0.75" filter="url(#blur1)"/>
<path d="M179,65.7 L236,73.7 L247,78 L247,85 L236,89 L181.3,97.8 L175,91 L173,75 Z" fill="url(#bcore)" opacity="0.9" filter="url(#blur1)"/>
<path d="M176,46 L186,40 L197,50 L194,65.5 L186,70 L177,72 L173,58 Z" fill="#3168ad" opacity="0.62" filter="url(#blur2)"/>
<path d="M189,65 L228,70.5 L224,61 L211,53 L199,49.5 L191,55 Z" fill="#f25e5e" opacity="0.85" filter="url(#blur1)"/>
<path transform="scale(.1)" d="m1904 426h0m-5 15h0m-8 8h0m-14-26h0m161 56h0m-25-22h0m-35 16h0m0-7h0m-11-14h0m-18 22h0m-46 1h0m-12-14h0m-2 13h0m37 34h0m9-15h0m11 16h0m13-12h0m42 10h0m11-7h0m31-15h0m3 20h0m18-8h0m137 61h0m-19 7h0m-23 1h0m-20-15h0m-23 4h0m-5-6h0m-2 8h0m-40-3h0m-1 2h0m-18 7h0m-5-21h0m-1 1h0m-17 17h0m-7-3h0m-49 2h0m-6 10h0m-23-24h0m-20 11h0m-2 1h0m-16-11h0m-8 23h0m-7-7h0m8-38h0m7 12h0m55-5h0m4 8h0m2-25h0m48-3h0m5 8h0m53 11h0m14 4h0m6-11h0m27 12h0m9-8h0m120 66h0m-54-15h0m-32 1h0m-8 2h0m-3 6h0m-9 11h0m-26 1h0m-26 0h0m-3-9h0m-15-12h0m-13 22h0m-8-27h0m-10 1h0m-10 14h0m-7 12h0m-25-18h0m-3 5h0m-20-17h0m-12 18h0m-2 7h0m-1-3h0m-7 3h0m-7 4h0m-5-1h0m-1-23h0m-5 3h0m-12-6h0m-17 9h0m-3 10h0m-2-11h0m-8 0h0m-11 12h0m-6-8h0m-2 26h0m2 9h0m1 5h0m4-5h0m9 9h0m4-1h0m9 0h0m0-13h0m2 8h0m1 2h0m3-9h0m6-9h0m13 1h0m4 18h0m4-15h0m3 4h0m4-3h0m8 13h0m6-1h0m1 6h0m18-24h0m1 2h0m0 1h0m8 9h0m2 9h0m5 2h0m9-25h0m3 2h0m2 17h0m25-14h0m1 4h0m45-11h0m17 15h0m16 5h0m9-13h0m1 21h0m7-21h0m7 3h0m4 8h0m6-15h0m11 13h0m6 10h0m38-2h0m3-2h0m32-21h0m4 0h0m31 13h0m9 4h0m61 61h0m-9-6h0m-3 12h0m-6-1h0m-2-1h0m-2-2h0m0 2h0m-3-6h0m-1-13h0m-2 14h0m-10-2h0m0-15h0m-1 15h0m-7 8h0m-1-8h0m0-9h0m-7 14h0m-7-17h0m-3 21h0m-2-23h0m-8 1h0m-3 12h0m-1 11h0m-1-20h0m-10-5h0m-3 4h0m-4 2h0m-4 11h0m-6-13h0m-11 10h0m-1 0h0m-1 4h0m-13 2h0m-3 1h0m-28 1h0m-6 3h0m-16-6h0m-2-3h0m-6-4h0m0-12h0m-2 27h0m-3-6h0m-12 6h0m-8-2h0m-1-12h0m-2 2h0m-1-5h0m-8 16h0m-1-25h0m-21 22h0m-1-11h0m-1 0h0m-13-9h0m-10 17h0m-36-8h0m-63-6h0m-2-3h0m-2 1h0m-10-3h0m-63-32h0m15 12h0m1 8h0m4-17h0m6 8h0m8 8h0m7 5h0m3-7h0m4-2h0m21 12h0m4-5h0m2 0h0m3-23h0m7 24h0m7-9h0m13-7h0m11 7h0m1 5h0m6 7h0m9-23h0m8 24h0m12-8h0m2-11h0m0 21h0m0-6h0m10 4h0m8-2h0m12 1h0m32-21h0m12 13h0m1 11h0m13-6h0m5-23h0m2-1h0m17 1h0m0 25h0m10 1h0m2-14h0m9 5h0m1-4h0m8-8h0m5 23h0m7-28h0m2 1h0m10 15h0m0-10h0m7 3h0m2 10h0m2-2h0m3-1h0m5-12h0m1 17h0m1-7h0m7-6h0m5 21h0m9-12h0m14-15h0m4 10h0m7 5h0m23 10h0m20-11h0m79 66h0m-3 4h0m-3-2h0m-2 3h0m-5-1h0m-3-6h0m-1-6h0m-1 5h0m-1-3h0m-7 2h0m-1 7h0m-3-12h0m-1-9h0m-6 10h0m-4-14h0m-3 24h0m0-17h0m-3 17h0m-1-5h0m-6 8h0m0-9h0m-1-3h0m0-10h0m-2 6h0m0-4h0m-6 7h0m-1 2h0m-2-3h0m-3-8h0m-2 16h0m-1-14h0m-3 18h0m-13 2h0m0 1h0m-6-2h0m-2-9h0m-4-4h0m-1 15h0m-2-10h0m-1-4h0m-1 0h0m-1 0h0m-3 8h0m-5-22h0m-3 28h0m-1-28h0m-3 16h0m0 1h0m-11-1h0m-1 9h0m-16-10h0m-1-2h0m-3 2h0m-9 1h0m-8 1h0m-32-5h0m-1-10h0m-6 6h0m0-3h0m-9 6h0m-2-12h0m-12 12h0m-74-12h0m203 31h0m20 0h0m5 6h0m17-1h0m3 3h0m1-3h0m7 4h0m2-2h0m8 2h0m1-4h0m1 6h0m1-3h0m5 6h0m1 0h0m12-6h0m0-8h0m1 4h0m6 0h0m0 1h0m8 0h0m0-2h0m1 3h0m1 5h0m2 4h0m2 4h0m3-9h0m1-1h0m2-2h0m4 14h0m4 1h0m0-7h0m1 2h0m0-2h0m2 1h0m2 2h0m0-2h0m0-3h0m3 8h0m0-10h0m0 8h0m3 4h0m1-10h0m0 10h0m1-8h0m2 7h0m3 2h0m0 0h0m2-6h0m1 3h0m0 2h0m2 2h0m2 0h0m1 1h0m2 1h0m0-2h0m4 2h0m0 0h0" stroke="#ef5a5a" stroke-width="8" stroke-linecap="square" fill="none" opacity="0.8"/>
<path transform="scale(.1)" d="m2399 901h0m-2 3h0m-10 12h0m-1-15h0m-2 14h0m-1-12h0m-1-2h0m0 20h0m-1-17h0m0 7h0m-1-8h0m-1 22h0m0 2h0m-1-17h0m0 14h0m-5-22h0m-1 17h0m-3-12h0m0 22h0m-1 0h0m-1-24h0m-1 24h0m-4-24h0m-1 12h0m-6 1h0m-4-14h0m-1 16h0m-2-17h0m-2 10h0m0-2h0m-3-9h0m-3 6h0m-4 2h0m0-7h0m-1 14h0m0-17h0m-2 5h0m-4-4h0m-1 2h0m-1 5h0m-2 13h0m-3 1h0m0-3h0m-2 10h0m-1-10h0m-1-5h0m-3 6h0m-2 3h0m-1-22h0m-1 10h0m0-2h0m-7 12h0m-4-5h0m-5 8h0m-1-17h0m-1 2h0m-7-4h0m0 19h0m-1 3h0m-1-6h0m0 2h0m-2-16h0m-5 13h0m-1 4h0m0-5h0m-1-10h0m-2 17h0m-6-12h0m0-3h0m-1 4h0m-6 4h0m-6 10h0m-1-2h0m-2-3h0m-1-6h0m-1-7h0m0 18h0m-2-11h0m-13-3h0m0-2h0m0 0h0m-9-1h0m-2 2h0m-2 3h0m-5-2h0m-1 7h0m-6 6h0m-31-9h0m-9 7h0m-5 2h0m145-28h0m4 0h0m14-4h0m3 1h0m13 1h0m5 0h0m1 1h0m5-1h0m2-3h0m0 0h0m7-3h0m3 0h0m3 7h0m6-1h0m0-1h0m3 1h0m3-8h0m3 4h0m0-7h0m2 8h0m0 0h0m2 0h0m2-8h0m0 7h0m7 2h0m-48 41h0m-24 10h0m-7-8h0m-1 19h0m-5-8h0m-11 7h0m-3-18h0m-3 13h0m-1-6h0m-3 13h0m0-6h0m-3-19h0m-3 2h0m-3 18h0m0-19h0m-2 13h0m-1-3h0m-2-6h0m-6 4h0m0-6h0m-1 10h0m-2 12h0m-1-18h0m-2-6h0m0-3h0m-2 15h0m-1-9h0m-1 17h0m-3-10h0m-1 4h0m-5-2h0m0-14h0m-1 0h0m-5 2h0m-2 6h0m-1 18h0m-8-6h0m-3-2h0m-10-19h0m-4 24h0m-3 2h0m-7-25h0m-2 12h0m-3 3h0m0 2h0m-2-12h0m-11 13h0m-4-8h0m0 6h0m-1-6h0m-1-5h0m-5-1h0m-8-1h0m-2 0h0m-7 24h0m-20-26h0m-2 8h0m-3 13h0m-4-20h0m-4 23h0m-3-8h0m-3 3h0m0-9h0m0 6h0m-5 5h0m-1-4h0m-2-8h0m-3-12h0m-4 12h0m-3 10h0m-4-19h0m-1 24h0m-6-8h0m-10 9h0m-4-4h0m-12-10h0m-3 7h0m-10-12h0m-1 10h0m-10 2h0m-4-7h0m-6 12h0m-4-13h0m-82 15h0m-127 25h0m17 1h0m19 0h0m0 3h0m9-5h0m0-10h0m11 16h0m19-2h0m26-14h0m11-1h0m2 0h0m9 13h0m2-18h0m9 7h0m1-9h0m14 8h0m8-11h0m9 25h0m11-15h0m0 14h0m6-12h0m14-5h0m2-3h0m4 18h0m0 2h0m0-21h0m17 25h0m15-26h0m4 15h0m13-8h0m0 4h0m3-14h0m8 0h0m7 7h0m0 3h0m7-2h0m2 2h0m29 4h0m5 13h0m1-25h0m1 12h0m0-12h0m1 19h0m13 3h0m9-2h0m1-3h0m6-13h0m0-6h0m14 13h0m6 5h0m19 11h0m3-21h0m1-3h0m1-1h0m1-1h0m15 19h0m1-2h0m3-4h0m2 13h0m3-17h0m0-7h0m7 6h0m11 15h0m6-1h0m6-25h0m1 5h0m8 18h0m6-23h0m5 3h0m23 7h0m-94 52h0m-24 22h0m-30 0h0m-11-4h0m-16-19h0m-16 16h0m-9-16h0m-17 15h0m-1 0h0m-2-16h0m-21 17h0m-3-10h0m0-7h0m-7 11h0m-8 0h0m-8-2h0m-5 9h0m-2-5h0m-15-13h0m-16 27h0m-1-25h0m-22 6h0m-5 4h0m-1-2h0m-3-5h0m-6 14h0m0-3h0m-1-6h0m-12-1h0m-2 19h0m-25-22h0m-2 23h0m-11-28h0m-9 19h0m-17 2h0m-6-9h0m-38-12h0m-3 25h0m-2-23h0m-13 6h0m-4 8h0m-3-16h0m-1 10h0m-5-29h0m9-2h0m10 9h0m5 3h0m6 6h0m3-17h0m2-10h0m7 3h0m4 15h0m19 5h0m2-19h0m8-4h0m0 0h0m1 16h0m15 8h0m8-16h0m7-3h0m15 13h0m5 0h0m9 3h0m0-20h0m7 1h0m1 4h0m3 7h0m12 1h0m2 0h0m10-7h0m1 2h0m8-8h0m0 0h0m6 19h0m2-5h0m1 7h0m19-4h0m5-18h0m8 19h0m5-1h0m6 8h0m5-4h0m1-11h0m8-6h0m0-5h0m6 13h0m3-13h0m2 4h0m2 8h0m7-14h0m4 5h0m15 19h0m3 1h0m2-21h0m16 2h0m0 19h0m7-18h0m2-5h0m19 1h0m13 5h0m0-5h0m9 27h0m13-14h0m1 7h0m4-9h0m2-4h0m16 18h0m28-20h0m4 5h0m12 7h0m-105 56h0m-7-7h0m-27-7h0m-5 24h0m-29-22h0m-3-1h0m-59 13h0m-2 4h0m-6-7h0m-13-1h0m-14-11h0m-7 0h0m-7 14h0m-5 3h0m-8 4h0m-6-13h0m-9 13h0m-13-12h0m-13 5h0m-3 2h0m-9 5h0m-36-18h0m-1 0h0m-6 12h0m-7-13h0m-15 25h0m-1-7h0m-13-8h0m-7 40h0m8-7h0m7 4h0m3 0h0m4-7h0m17 1h0m0 11h0m12-15h0m36 20h0m11-22h0m37-7h0m1 15h0m4-2h0m6-13h0m16 1h0m6 0h0m3 23h0m60-13h0m9-6h0m4 4h0m12-1h0m52 1h0m-90 56h0m-47 2h0m-55 14h0m-31-12h0m0 8h0m-5 8h0m-18-20h0m-16-5h0m-38 1h0m-6-18h0m8-4h0m1 1h0m60-6h0m23 4h0m9 19h0m6-11h0m3-17h0m14 22h0m39-15h0m3 7h0m31 8h0m8-20h0m5 3h0m42-3h0m-119 79h0m-62 8h0m-53-4h0m-4 4h0m39 21h0m13-19h0m41 12h0" stroke="#f07070" stroke-width="7.5" stroke-linecap="square" fill="none" opacity="0.55"/>
<path transform="scale(.1)" d="m1989 686h0m-138-16h0m-29-4h0m-68 8h0m431 45h0m-8-3h0m-3 1h0m-7-6h0m-1-1h0m-89-8h0m-9 7h0m-4-1h0m-30 9h0m-20-24h0m-43 2h0m-9 9h0m-12-1h0m-20 0h0m-16 4h0m-50-14h0m-11 27h0m-5-24h0m-3-5h0m-8 20h0m-84 4h0m16 32h0m26-6h0m36 4h0m7-12h0m27 4h0m13-16h0m47 26h0m26-14h0m52 1h0m22 14h0m18-9h0m4-16h0m7 12h0m1 14h0m18-3h0m1-1h0m31 3h0m18 0h0m6 2h0m38-23h0m8 20h0m15-16h0m16 10h0m7 5h0m18-10h0m13 11h0m7-4h0m7-8h0m18 2h0m3 10h0m9-16h0m3 19h0m17-18h0m72 15h0m16-4h0m77 62h0m-8-23h0m0 13h0m-12-14h0m-18 17h0m-3-17h0m-3 16h0m-9-12h0m-17 11h0m-10-16h0m-4 16h0m-3 9h0m-4-4h0m-3-16h0m-3 5h0m-5 12h0m-1 4h0m-3-1h0m-10-24h0m-7 19h0m-21-1h0m-36-12h0m-30 18h0m-20-7h0m-5 11h0m-7-18h0m-20-10h0m-18 11h0m-38 9h0m-2-6h0m-19-5h0m-14 18h0m-82-16h0m-9-6h0m-36 0h0m-20 13h0m-11 1h0m-18 5h0m-4-13h0m-15 0h0m-8-10h0m-3-1h0m-66 3h0m-4 11h0m-6-9h0m-3 6h0m-71-42h0m7 26h0m5-12h0m32-2h0m14-12h0m1 0h0m20 10h0m21 9h0m1 9h0m8-3h0m45-6h0m4-13h0m10 11h0m17-4h0m10 13h0m4-4h0m20 3h0m21-19h0m15 0h0m17 1h0m41-3h0m9 21h0m23 1h0m31-20h0m2-4h0m55 14h0m3 7h0m0-21h0m4 2h0m4 7h0m1-10h0m31 28h0m0-11h0m19 2h0m5-17h0m11 18h0m8-3h0m3-8h0m18 13h0m2-14h0m18 14h0m28-11h0m1 5h0m23-5h0m9-11h0m1 23h0m11-17h0m7 2h0m6 1h0m5-8h0m0 11h0m10 5h0m9-7h0m25-4h0m4 2h0m2 0h0m7 53h0m-26 24h0m-1-3h0m-28-3h0m-16-9h0m-6-7h0m-16 2h0m-3 4h0m-6-4h0m-11-2h0m-2 1h0m-24 2h0m-3 8h0m-12 12h0m-20-8h0m-3 1h0m-15 4h0m-4-1h0m-5 0h0m-36-18h0m-3 20h0m-6-13h0m-8 2h0m-1 8h0m-25-6h0m-12 11h0m-7-23h0m-10 1h0m-28 8h0m-10-6h0m-3 11h0m-26-11h0m-40 17h0m-2-19h0m-6-4h0m-33 2h0m-8-1h0m-22 20h0m-11-4h0m-18-3h0m-21 13h0m-95-7h0m-11 9h0m-14-12h0m-25-8h0m-5 10h0m-9-1h0m-16 11h0m-1-7h0m-1-11h0m-3 28h0m7-1h0m55 0h0m53 16h0m11-24h0m56 26h0m3-20h0m22-7h0m12 6h0m9 5h0m33 18h0m2-5h0m4-1h0m3-13h0m20 5h0m23 6h0m5-19h0m12 17h0m64 6h0m28-23h0m16 21h0m4-16h0m0-6h0m31 13h0m19-6h0m1 6h0m4-10h0m11 10h0m57-3h0m0-3h0m2 6h0m5 2h0m4-1h0m54 0h0m13 4h0m1-2h0m18-12h0m1 0h0m10 10h0m2-7h0m1 4h0m3 17h0m0-11h0m26-6h0m5 9h0m1 1h0m1-4h0m2-5h0m-224 48h0m-20 2h0m-21 4h0m-29-6h0m-32 21h0m-22 0h0m-16 6h0m-27-10h0m-6-10h0m-7-7h0m-20 10h0m-17 9h0m-33 5h0m-11-2h0m-5-4h0m-3-7h0m-7-12h0m-8 23h0m-2-21h0m-73 24h0m-35-18h0m-11 16h0m-74-13h0m-3 11h0m-13-14h0m29-24h0m26 10h0m0-2h0m12-15h0m16 15h0m15 7h0m13-6h0m29-18h0m4 14h0m13-16h0m13-2h0m26 10h0m2 5h0m15-7h0m3 20h0m2-4h0m1-7h0m7 5h0m2-12h0m12 16h0m12-18h0m6 12h0m21 9h0m8-2h0m3-27h0m44 23h0m18-24h0m13 29h0m9-29h0m5 2h0m7 10h0m0-7h0m10-2h0m5 7h0m4-3h0m9 3h0m54 10h0m8-18h0m24 9h0m5 8h0m12-12h0m18 5h0m6 8h0m6-9h0m11-4h0m39 3h0m13-5h0m7 4h0m13-4h0m-339 56h0m-43 13h0m-26-12h0m-67 9h0m-1 1h0m-13 7h0m-27-14h0m-9-2h0m-28 8h0m-7 13h0m-4-23h0m-27 22h0m-8-3h0m1 30h0m64-13h0m3-5h0" stroke="#3f7cc0" stroke-width="7.5" stroke-linecap="square" fill="none" opacity="0.45"/>
</g>
<line x1="159" y1="81.5" x2="251" y2="81.5" stroke="#e6d6d6" stroke-width="0.4"/>
<line x1="158.6" y1="38.4" x2="158.6" y2="125.5" stroke="#888" stroke-width="0.9"/>
<line x1="158.6" y1="125.2" x2="260.8" y2="125.2" stroke="#888" stroke-width="0.9"/>
<line x1="155" y1="51.8" x2="158.6" y2="51.8" stroke="#888" stroke-width="0.7"/>
<text x="152.2" y="54" font-size="6.1" text-anchor="end" fill="#444">3</text>
<line x1="155" y1="63" x2="158.6" y2="63" stroke="#888" stroke-width="0.7"/>
<text x="152.2" y="65.2" font-size="6.1" text-anchor="end" fill="#444">2</text>
<line x1="155" y1="74.2" x2="158.6" y2="74.2" stroke="#888" stroke-width="0.7"/>
<text x="152.2" y="76.4" font-size="6.1" text-anchor="end" fill="#444">1</text>
<line x1="155" y1="85.4" x2="158.6" y2="85.4" stroke="#888" stroke-width="0.7"/>
<text x="152.2" y="87.6" font-size="6.1" text-anchor="end" fill="#444">0</text>
<line x1="155" y1="96.6" x2="158.6" y2="96.6" stroke="#888" stroke-width="0.7"/>
<text x="152.2" y="98.8" font-size="6.1" text-anchor="end" fill="#444">–1</text>
<line x1="155" y1="107.8" x2="158.6" y2="107.8" stroke="#888" stroke-width="0.7"/>
<text x="152.2" y="110" font-size="6.1" text-anchor="end" fill="#444">–2</text>
<line x1="155" y1="119" x2="158.6" y2="119" stroke="#888" stroke-width="0.7"/>
<text x="152.2" y="121.2" font-size="6.1" text-anchor="end" fill="#444">–3</text>
<line x1="165.4" y1="125.2" x2="165.4" y2="128.2" stroke="#888" stroke-width="0.7"/>
<line x1="191.8" y1="125.2" x2="191.8" y2="128.2" stroke="#888" stroke-width="0.7"/>
<line x1="218.5" y1="125.2" x2="218.5" y2="128.2" stroke="#888" stroke-width="0.7"/>
<line x1="240.4" y1="125.2" x2="240.4" y2="128.2" stroke="#888" stroke-width="0.7"/>
<line x1="260.4" y1="125.2" x2="260.4" y2="128.2" stroke="#888" stroke-width="0.7"/>
<text x="161.2" y="137.2" font-size="6.3" fill="#444">10<tspan font-size="4" dy="-2.8">0</tspan></text>
<text x="187.6" y="137.2" font-size="6.3" fill="#444">10<tspan font-size="4" dy="-2.8">1</tspan></text>
<text x="214.3" y="137.2" font-size="6.3" fill="#444">10<tspan font-size="4" dy="-2.8">2</tspan></text>
<text x="236.2" y="137.2" font-size="6.3" fill="#444">10<tspan font-size="4" dy="-2.8">3</tspan></text>
<text x="256.2" y="137.2" font-size="6.3" fill="#444">10<tspan font-size="4" dy="-2.8">4</tspan></text>
<text x="184.4" y="148.7" font-size="7.3" textLength="49.6" lengthAdjust="spacingAndGlyphs">Mean intensity</text>
<text x="137.8" y="95.5" font-size="7" transform="rotate(-90 137.8 95.5)" textLength="25.5" lengthAdjust="spacingAndGlyphs">log<tspan font-size="4.5" dy="1.5">2</tspan><tspan dy="-1.5">(FC)</tspan></text>
<text x="275.5" y="11" font-size="12.5" fill="#111" font-weight="bold" stroke="#111" stroke-width="0.45">c</text>
<text x="305.8" y="24.7" font-size="7.8" textLength="21.4" lengthAdjust="spacingAndGlyphs">FOXA1</text>
<line x1="289" y1="29.5" x2="343.7" y2="29.5" stroke="#555" stroke-width="0.9"/>
<text x="290.1" y="40.5" font-size="7.8" textLength="20.8" lengthAdjust="spacingAndGlyphs">Tumor</text>
<text x="317.9" y="40.5" font-size="7.8" textLength="34.1" lengthAdjust="spacingAndGlyphs">Liver mets</text>
<rect x="286.6" y="42.8" width="27.7" height="84.8" fill="#f3c3c1"/>
<path d="M293.6,42.8h8.4v0.7h-8.4zM290.8,43.6h11v1.3h-11zM287.1,50.3h10.9v0.7h-10.9zM286.6,50.3h2.8v1.3h-2.8zM306,50.3h8.3v0.7h-8.3zM303.2,52.7h3.9v1h-3.9zM286.6,55.6h11.3v0.7h-11.3zM303.1,55.6h10v0.7h-10zM303.1,58.5h7.4v1.3h-7.4zM300.7,59.4h7.4v1.3h-7.4zM309.7,59.4h4.6v0.7h-4.6zM300,60.5h4.9v0.7h-4.9zM304.7,61.3h9.6v1.3h-9.6zM302.8,66.6h9v1h-9zM299.5,67.6h12.2v1.3h-12.2zM310.6,68.7h3.7v1.3h-3.7zM305,68.7h6.8v1.3h-6.8zM302.8,73.9h9.8v0.7h-9.8zM295.6,74.7h13.5v0.7h-13.5zM301.3,75.6h8.3v1.3h-8.3zM286.6,76.6h9.8v1h-9.8zM290.9,77.6h11.7v0.7h-11.7zM302,79h3.2v1h-3.2zM302.8,79h11.5v1.3h-11.5zM297.7,79h6.2v0.7h-6.2zM298.8,87.6h10v1.3h-10zM296.7,87.6h6.2v1h-6.2zM304.9,87.6h7.4v1.3h-7.4zM286.6,89.7h6.4v1.3h-6.4zM310.7,89.7h3.6v0.7h-3.6zM286.6,91.3h2.9v1.3h-2.9zM301.5,95.1h3.7v1h-3.7zM291.5,95.1h12.7v0.7h-12.7zM309.9,96.6h4.4v0.7h-4.4zM286.6,96.6h11.7v1.3h-11.7zM296.3,97.5h4.2v1.3h-4.2zM298.9,97.5h4.9v1.3h-4.9zM286.6,98.5h8.5v0.7h-8.5zM297.1,99.6h4.4v0.7h-4.4zM286.6,101h2.5v1.3h-2.5zM292.3,102h9v1.3h-9zM309,107.5h5.3v1.3h-5.3zM292.8,108.5h6.1v0.7h-6.1zM309,112h3.8v0.7h-3.8zM310.7,113h3.6v1.3h-3.6zM311.5,113.9h2.8v1h-2.8zM286.6,113.9h11v1h-11zM299.2,115.4h13.2v1.3h-13.2zM295.6,115.4h7.8v0.7h-7.8zM297.4,117.6h3.9v0.7h-3.9zM303.1,117.6h8.9v0.7h-8.9zM295.5,118.5h3.5v0.7h-3.5zM298.1,118.5h5.9v1h-5.9zM286.6,118.5h7.1v1h-7.1zM301,121h7v1h-7zM303.1,127.1h4.8v1h-4.8z" fill="#e07d79" opacity="0.10"/>
<path d="M294.1,45.1h3.4v1.3h-3.4zM302,46.1h7.4v1.3h-7.4zM299.8,48.8h9.9v1.3h-9.9zM300.5,51.4h6.3v1.3h-6.3zM297.3,51.4h3.4v1h-3.4zM289.9,52.7h3.8v1.3h-3.8zM308.2,55.6h6v0.7h-6zM299.4,55.6h13.4v1.3h-13.4zM288.4,57.1h12.9v0.7h-12.9zM296.1,60.5h4.8v0.7h-4.8zM300.1,65.4h6.7v1h-6.7zM292.8,65.4h7.2v0.7h-7.2zM307.4,68.7h6.9v1h-6.9zM299.2,69.7h11.3v1.3h-11.3zM289.9,69.7h5.3v1.3h-5.3zM306.5,69.7h7.8v0.7h-7.8zM287.7,69.7h8.3v1h-8.3zM299.9,72.3h5.7v1.3h-5.7zM292.1,72.3h4.8v0.7h-4.8zM294.8,74.7h13.4v1h-13.4zM310.5,74.7h3.8v0.7h-3.8zM286.6,75.6h4.5v1.3h-4.5zM305.9,76.6h5.5v0.7h-5.5zM294.9,77.6h11.1v1h-11.1zM307.7,77.6h6.6v0.7h-6.6zM286.6,77.6h3.4v0.7h-3.4zM299.9,79h6.2v1h-6.2zM306.5,80.3h7.8v1h-7.8zM294.1,80.3h4.4v0.7h-4.4zM286.6,81.5h5v1h-5zM310.1,82.6h4.2v1.3h-4.2zM311.2,82.6h3.1v1.3h-3.1zM297.3,84.1h9.1v1h-9.1zM304.9,85.4h9.4v1h-9.4zM307.2,86.7h6.6v0.7h-6.6zM306.3,87.6h8v1.3h-8zM310.7,88.9h3.6v1.3h-3.6zM305.3,89.7h4.2v1.3h-4.2zM294.1,91.3h8.5v1.3h-8.5zM294.1,92.5h10.5v1h-10.5zM301.7,92.5h4.4v0.7h-4.4zM299.2,95.1h4.5v0.7h-4.5zM310.5,96.6h3.4v1h-3.4zM304.1,96.6h9.3v0.7h-9.3zM299.3,97.5h5.7v1.3h-5.7zM298.5,98.5h7.8v1.3h-7.8zM295.3,101h13.6v0.7h-13.6zM286.6,103.4h3.3v1h-3.3zM303.9,104.9h9.1v0.7h-9.1zM286.6,106h1.1v0.7h-1.1zM306,109.4h7.8v0.7h-7.8zM304.9,110.6h3.9v1.3h-3.9zM293.3,110.6h3.4v0.7h-3.4zM286.6,112h11.5v1.3h-11.5zM300.9,116.5h3.4v1.3h-3.4zM299,116.5h10.6v0.7h-10.6zM295,118.5h10.9v0.7h-10.9zM295.1,122.3h10.9v1h-10.9zM295.1,123.4h4.9v1h-4.9z" fill="#e07d79" opacity="0.18"/>
<path d="M294.4,42.8h8.3v1.3h-8.3zM304.3,43.6h10v1.3h-10zM303.1,46.1h5.5v1h-5.5zM299.1,47.2h11.3v1h-11.3zM304.1,47.2h3.4v1h-3.4zM295.1,47.2h13.3v1h-13.3zM291.6,47.2h7.8v1h-7.8zM308.7,48.8h5.6v1.3h-5.6zM302.5,50.3h11.8v1h-11.8zM288.4,51.4h7.8v1h-7.8zM304.4,54.1h9.9v0.7h-9.9zM304.5,54.1h5.9v1h-5.9zM286.6,54.1h10.7v0.7h-10.7zM286.6,57.1h7.3v1h-7.3zM301.5,58.5h7.8v0.7h-7.8zM289.3,59.4h13.4v1.3h-13.4zM303.6,59.4h6.1v0.7h-6.1zM286.6,62.7h3.8v0.7h-3.8zM293.5,64.3h6.6v1h-6.6zM296.2,64.3h9.2v1h-9.2zM300.1,65.4h4.1v1.3h-4.1zM294.2,66.6h5.1v1.3h-5.1zM307.1,66.6h7.2v1h-7.2zM286.6,67.6h8.2v0.7h-8.2zM286.6,68.7h4.8v0.7h-4.8zM299.1,68.7h7.3v1h-7.3zM286.6,71.3h8.9v0.7h-8.9zM286.8,71.3h9.6v0.7h-9.6zM286.6,72.3h5.6v1.3h-5.6zM310.3,73.9h4v1.3h-4zM295.3,74.7h13v1.3h-13zM287.1,80.3h7.2v0.7h-7.2zM306,81.5h5.3v1.3h-5.3zM299.4,82.6h9.5v1h-9.5zM305.2,86.7h8.5v1h-8.5zM311.8,87.6h2.5v1h-2.5zM302,88.9h12.3v0.7h-12.3zM293.6,88.9h4v1.3h-4zM296.9,91.3h3.9v1h-3.9zM291.9,92.5h9.9v1.3h-9.9zM302.1,95.1h5.3v1.3h-5.3zM286.6,98.5h4.7v1.3h-4.7zM293.3,98.5h6.1v0.7h-6.1zM294.4,98.5h11.7v0.7h-11.7zM286.6,103.4h7.4v1.3h-7.4zM310.9,103.4h3.4v1.3h-3.4zM309.6,108.5h4.7v0.7h-4.7zM286.6,112h4.8v0.7h-4.8zM304.4,113h4.8v1h-4.8zM302.7,113h7.1v0.7h-7.1zM306.8,113.9h7.1v0.7h-7.1zM311.3,115.4h3v1.3h-3zM299.3,117.6h4.7v0.7h-4.7zM304.2,119.9h10.1v1.3h-10.1zM286.6,119.9h8.3v0.7h-8.3zM306.5,121h7.8v1h-7.8zM304,122.3h10.3v0.7h-10.3zM298.5,123.4h11.5v1h-11.5zM304.4,124.3h7.9v0.7h-7.9zM290.5,124.3h3.5v0.7h-3.5z" fill="#e07d79" opacity="0.28"/>
<path d="M300.4,45.1h3.1v1h-3.1zM286.6,45.1h7.3v1h-7.3zM309.2,45.1h5.1v0.7h-5.1zM287.4,47.2h8.1v0.7h-8.1zM305.9,50.3h8.1v1.3h-8.1zM294.6,58.5h11v1.3h-11zM286.6,60.5h11.5v0.7h-11.5zM294.4,61.3h4.3v1h-4.3zM295.3,62.7h13.9v1h-13.9zM291.4,69.7h12.2v1.3h-12.2zM301.3,75.6h8.9v1h-8.9zM307.9,79h6.4v1h-6.4zM293,81.5h14v1h-14zM286.6,84.1h5.7v1.3h-5.7zM308,95.1h3.3v0.7h-3.3zM307.2,97.5h7.1v1h-7.1zM307,106h6.9v0.7h-6.9zM290.2,107.5h4v1h-4zM308.2,109.4h6.1v1h-6.1zM301.6,112h12.6v1h-12.6zM290.7,113h13.8v1.3h-13.8zM299.4,113.9h14v1h-14zM299.2,116.5h4.1v1h-4.1zM293.2,116.5h9v0.7h-9zM286.6,119.9h4.5v1h-4.5zM305.4,122.3h7v1.3h-7zM308.8,124.3h5.5v1.3h-5.5zM286.6,127.1h6.4v1.3h-6.4z" fill="#ffffff" opacity="0.15"/>
<path d="M294.3,45.1h6.8v1h-6.8zM295.4,51.4h4.3v0.7h-4.3zM292.2,51.4h5.8v1.3h-5.8zM305.1,52.7h4.6v1.3h-4.6zM306.7,54.1h6.4v1h-6.4zM307,58.5h7.3v1h-7.3zM297.7,61.3h6.2v1h-6.2zM292.6,64.3h11.2v1.3h-11.2zM286.6,66.6h8.8v1h-8.8zM295.5,76.6h5.5v0.7h-5.5zM286.6,76.6h2.1v0.7h-2.1zM294.7,77.6h6.2v0.7h-6.2zM300.7,80.3h11.3v1.3h-11.3zM289.9,84.1h8.5v1h-8.5zM292.8,84.1h6.4v1.3h-6.4zM291,84.1h3.6v0.7h-3.6zM287.5,85.4h7.8v1.3h-7.8zM302.8,88.9h4.3v1h-4.3zM307.7,92.5h6.4v1.3h-6.4zM291.2,93.7h13.3v1h-13.3zM297.2,93.7h9.3v1.3h-9.3zM294.2,97.5h9.8v1h-9.8zM298.1,99.6h13.6v1.3h-13.6zM306.4,99.6h7.9v1h-7.9zM286.6,101h7.2v1h-7.2zM293.6,101h13.1v1h-13.1zM304.6,102h7.4v0.7h-7.4zM310.8,103.4h3.4v1h-3.4zM287.7,104.9h5.9v1h-5.9zM286.6,106h5.7v0.7h-5.7zM308.8,109.4h5.5v0.7h-5.5zM301.7,109.4h12v0.7h-12zM296.5,110.6h10.9v1h-10.9zM302.4,112h9.4v1.3h-9.4zM305.9,113h5v0.7h-5zM286.6,116.5h6.8v1.3h-6.8zM311.7,119.9h2.6v0.7h-2.6zM294.7,121h10.8v0.7h-10.8zM296.4,123.4h4.3v1h-4.3zM299.6,123.4h13.8v1.3h-13.8zM295.1,124.3h7.6v1.3h-7.6zM300.4,124.3h13.8v1h-13.8zM293.8,125.6h4.9v0.7h-4.9zM300.1,125.6h7.2v1h-7.2zM296.4,127.1h13.7v0.7h-13.7z" fill="#ffffff" opacity="0.25"/>
<polygon points="297,42.8 297,44.9 297.8,47 297.8,49.2 297.8,51.3 297.8,53.4 297.8,55.5 297.8,57.6 298.5,59.8 298.5,61.9 298.5,64 298.5,66.1 298.5,68.2 298.5,70.4 298.5,72.5 298.5,74.6 298.5,76.7 298.5,78.8 298.5,81 298.5,83.1 298.5,85.2 298.5,87.3 298.5,89.4 298.5,91.6 298.5,93.7 298.5,95.8 298.5,97.9 298.5,100 298.5,102.2 298.5,104.3 298.5,106.4 298.5,108.5 298.5,110.6 298.5,112.8 298.5,114.9 298.5,117 298.5,119.1 298.5,121.2 298.5,123.4 298.5,125.5 298.5,127.6 302.9,127.6 302.9,125.5 302.9,123.4 302.9,121.2 302.9,119.1 302.9,117 302.9,114.9 302.9,112.8 302.9,110.6 302.9,108.5 302.9,106.4 302.9,104.3 302.9,102.2 302.9,100 302.9,97.9 302.9,95.8 302.9,93.7 302.9,91.6 302.9,89.4 302.9,87.3 302.9,85.2 302.9,83.1 302.9,81 302.9,78.8 302.9,76.7 302.9,74.6 302.9,72.5 302.9,70.4 302.9,68.2 302.9,66.1 302.9,64 302.9,61.9 302.9,59.8 303.6,57.6 303.6,55.5 303.6,53.4 303.6,51.3 303.6,49.2 303.6,47 304.4,44.9 304.4,42.8" fill="url(#hb3)" opacity="0.35" filter="url(#hbl2)"/>
<polygon points="299,42.8 299,44.9 299.4,47 299.4,49.2 299.4,51.3 299.4,53.4 299.4,55.5 299.4,57.6 299.7,59.8 299.7,61.9 299.7,64 299.7,66.1 299.7,68.2 299.7,70.4 299.7,72.5 299.7,74.6 299.7,76.7 299.7,78.8 299.7,81 299.7,83.1 299.7,85.2 299.7,87.3 299.7,89.4 299.7,91.6 299.7,93.7 299.7,95.8 299.7,97.9 299.7,100 299.7,102.2 299.7,104.3 299.7,106.4 299.7,108.5 299.7,110.6 299.7,112.8 299.7,114.9 299.7,117 299.7,119.1 299.7,121.2 299.7,123.4 299.7,125.5 299.7,127.6 301.7,127.6 301.7,125.5 301.7,123.4 301.7,121.2 301.7,119.1 301.7,117 301.7,114.9 301.7,112.8 301.7,110.6 301.7,108.5 301.7,106.4 301.7,104.3 301.7,102.2 301.7,100 301.7,97.9 301.7,95.8 301.7,93.7 301.7,91.6 301.7,89.4 301.7,87.3 301.7,85.2 301.7,83.1 301.7,81 301.7,78.8 301.7,76.7 301.7,74.6 301.7,72.5 301.7,70.4 301.7,68.2 301.7,66.1 301.7,64 301.7,61.9 301.7,59.8 302,57.6 302,55.5 302,53.4 302,51.3 302,49.2 302,47 302.4,44.9 302.4,42.8" fill="url(#hb3)" opacity="1.0" filter="url(#hbl1)"/>
<path d="M296.9,51.2h5.5v.7h-5.5zM300.4,67.4h4v.7h-4zM298.5,74.5h6.3v.7h-6.3zM294.6,83.2h6.1v.7h-6.1zM299.8,88.5h2v.7h-2zM297,101.3h6.4v.7h-6.4zM296.7,105.9h6.2v.7h-6.2z" fill="#d0222a" opacity="0.18"/>
<rect x="319.6" y="42.8" width="30.4" height="84.8" fill="#f3c3c1"/>
<path d="M344,42.8h6v0.7h-6zM332.6,42.8h13.3v1.3h-13.3zM321.3,44.8h9.7v1.3h-9.7zM319.6,49.8h8.6v1h-8.6zM341.8,53.4h7.1v1h-7.1zM326.6,53.4h13.4v0.7h-13.4zM340.9,54.4h6.6v1.3h-6.6zM319.6,58.4h10.6v1h-10.6zM335.3,58.4h10v1h-10zM329.9,58.4h11.5v1.3h-11.5zM344.2,62.7h5.8v1.3h-5.8zM323.6,64h8v0.7h-8zM347,65.3h3v1.3h-3zM337.3,65.3h3.9v1h-3.9zM333.1,66.7h6.9v0.7h-6.9zM340.8,67.9h7.7v1h-7.7zM327.2,68.9h4.6v1.3h-4.6zM333,71.6h13.5v1h-13.5zM320.9,71.6h5.8v1.3h-5.8zM325.2,74.2h11.5v1h-11.5zM333.9,75.6h12.5v1.3h-12.5zM335.2,75.6h9.8v1.3h-9.8zM340.8,77.1h9.2v0.7h-9.2zM336.1,78.5h13.4v0.7h-13.4zM319.6,81.3h7.1v0.7h-7.1zM319.6,82.5h9v1.3h-9zM319.6,84.4h8.5v0.7h-8.5zM336.5,84.4h7.1v0.7h-7.1zM331.3,85.4h11.8v1.3h-11.8zM331.9,87h7.2v1h-7.2zM326.9,88.6h3.3v1.3h-3.3zM340.6,89.4h9.4v1.3h-9.4zM327.5,90.4h5.7v1h-5.7zM322.3,92.3h12.5v0.7h-12.5zM337.3,97.5h4.7v1h-4.7zM323.8,98.6h6.6v1.3h-6.6zM343.9,102.3h5.5v1.3h-5.5zM338.6,103.8h3.5v1.3h-3.5zM336.4,106.1h9v1h-9zM342.6,107.3h3.8v1.3h-3.8zM335.2,107.3h5.2v1h-5.2zM326.4,109.7h13.5v1.3h-13.5zM319.6,110.6h1.2v1h-1.2zM324.7,110.6h5.5v0.7h-5.5zM345.5,111.9h4.5v1h-4.5zM334.8,112.8h3.8v1h-3.8zM322,118.9h9.6v0.7h-9.6zM331.5,121.4h4.5v0.7h-4.5zM319.6,123h6.7v1h-6.7zM341.5,123h4.2v0.7h-4.2zM326.5,125.3h4.4v0.7h-4.4zM328.2,125.3h6v1.3h-6zM319.6,126.1h5.7v1.3h-5.7zM341.1,126.1h8.9v1h-8.9z" fill="#e07d79" opacity="0.10"/>
<path d="M325.3,42.8h8.4v1.3h-8.4zM346.2,42.8h3.8v1.3h-3.8zM338,43.8h4.5v0.7h-4.5zM321,43.8h6.6v1.3h-6.6zM328.9,46.4h5.9v1.3h-5.9zM334.7,46.4h9.5v1h-9.5zM329.4,48.5h13.1v1h-13.1zM319.6,49.8h9.8v1.3h-9.8zM326.2,49.8h9.6v0.7h-9.6zM342,54.4h7.1v1h-7.1zM328.1,54.4h6.6v1.3h-6.6zM321.5,55.5h10.4v1.3h-10.4zM319.6,58.4h2.4v1h-2.4zM333.9,60.5h3.2v1h-3.2zM335.4,61.5h7.5v1h-7.5zM334.3,62.7h13.3v0.7h-13.3zM328.1,64h8.2v1.3h-8.2zM319.6,65.3h6.2v1.3h-6.2zM330.6,66.7h6.1v1h-6.1zM332.8,66.7h10.8v1h-10.8zM326.7,71.6h4.5v0.7h-4.5zM326.3,72.7h4.1v0.7h-4.1zM336.3,72.7h13.1v0.7h-13.1zM319.6,72.7h9.8v0.7h-9.8zM346.6,74.2h3.4v1h-3.4zM345.8,77.1h4.2v1.3h-4.2zM325.1,77.1h10.3v1h-10.3zM331.4,79.8h5.7v1h-5.7zM319.6,79.8h3v0.7h-3zM338.5,81.3h11.5v0.7h-11.5zM327.7,81.3h6.9v1.3h-6.9zM324.8,82.5h12.1v1.3h-12.1zM347.5,89.4h2.5v0.7h-2.5zM324.5,90.4h13.4v0.7h-13.4zM326.3,91.4h3.9v1.3h-3.9zM341.7,92.3h8.3v1h-8.3zM343.1,92.3h6.9v1h-6.9zM342.4,93.9h7.6v1.3h-7.6zM332.5,95h4.9v0.7h-4.9zM320.8,95h9v1h-9zM342.7,96.5h5.5v1h-5.5zM326.6,100.8h9.3v1h-9.3zM339.7,102.3h4.7v1h-4.7zM333.5,107.3h6.9v1.3h-6.9zM334.3,108.4h9v1h-9zM328.8,108.4h12v0.7h-12zM319.6,108.4h4.2v1.3h-4.2zM326.2,110.6h8.4v0.7h-8.4zM322.7,112.8h12v1.3h-12zM324.6,112.8h6.9v0.7h-6.9zM325,113.9h9.9v1h-9.9zM340.9,115.3h4.6v1.3h-4.6zM338.2,116.4h4.5v1.3h-4.5zM347.5,116.4h2.5v1.3h-2.5zM341.9,116.4h8.1v0.7h-8.1zM341.1,119.9h4v1.3h-4zM333.7,119.9h8.7v1h-8.7zM327.3,121.4h9.2v0.7h-9.2zM345.7,125.3h4.3v1h-4.3zM333.1,126.1h4.9v1h-4.9zM339.3,126.1h3.9v1h-3.9z" fill="#e07d79" opacity="0.18"/>
<path d="M330.9,42.8h10.1v1h-10.1zM319.6,44.8h9.5v1h-9.5zM319.6,46.4h2v1h-2zM330.3,47.4h11.5v1.3h-11.5zM327.2,51.2h11.6v0.7h-11.6zM322.5,52.2h9v0.7h-9zM319.6,52.2h9.2v1.3h-9.2zM322.7,54.4h4.6v1.3h-4.6zM344.7,56.8h5.3v0.7h-5.3zM337.4,56.8h4.8v1h-4.8zM342.3,64h7v1.3h-7zM322.3,65.3h3.9v1.3h-3.9zM335.4,66.7h11.1v0.7h-11.1zM319.6,70.4h2.3v1h-2.3zM322,71.6h10.9v0.7h-10.9zM319.6,72.7h8.7v1.3h-8.7zM324.3,72.7h12.8v1.3h-12.8zM320,74.2h6.6v0.7h-6.6zM347.2,77.1h2.8v0.7h-2.8zM320,79.8h11.2v0.7h-11.2zM323.7,79.8h10.1v1h-10.1zM319.6,82.5h11.2v0.7h-11.2zM335.6,83.4h10.4v1h-10.4zM325.9,84.4h13.9v1.3h-13.9zM326.4,84.4h9.1v1h-9.1zM330.5,87h10.2v0.7h-10.2zM343.8,87h4.9v0.7h-4.9zM319.6,87h6.6v1h-6.6zM335.2,88.6h3.7v1h-3.7zM342.3,92.3h7.7v1.3h-7.7zM326.4,93.9h5.3v1.3h-5.3zM337.7,95h12.3v0.7h-12.3zM343.4,95h6.6v1.3h-6.6zM346.4,96.5h3.6v0.7h-3.6zM332.2,97.5h13.4v1h-13.4zM324.5,99.6h11.4v0.7h-11.4zM344.2,99.6h5.6v1h-5.6zM335.7,100.8h12.9v1h-12.9zM326.9,102.3h10v1h-10zM329.8,103.8h7.2v1.3h-7.2zM330.4,103.8h7v0.7h-7zM319.6,105h11.2v1.3h-11.2zM330.4,106.1h11.9v1.3h-11.9zM342.1,106.1h6v0.7h-6zM344.4,107.3h4.1v1h-4.1zM332.7,109.7h7.9v1h-7.9zM344.2,109.7h3.8v1.3h-3.8zM344.6,110.6h5.4v1.3h-5.4zM326,111.9h5.2v0.7h-5.2zM335.4,115.3h8.4v0.7h-8.4zM327.1,115.3h9.5v1.3h-9.5zM340.7,118.9h4.1v1h-4.1zM341.7,119.9h8.3v1h-8.3zM321.1,121.4h9.2v1h-9.2zM319.6,121.4h9v1h-9zM343.8,123.9h6.2v1.3h-6.2zM339.3,125.3h7.4v0.7h-7.4z" fill="#e07d79" opacity="0.28"/>
<path d="M344.3,44.8h5.7v1.3h-5.7zM319.6,46.4h7.6v1.3h-7.6zM320.2,47.4h4.6v1.3h-4.6zM343.5,49.8h6.5v1h-6.5zM319.6,51.2h4v1h-4zM341.8,53.4h4.7v0.7h-4.7zM324.1,53.4h7.8v0.7h-7.8zM343.5,54.4h6.5v0.7h-6.5zM347.8,55.5h2.2v1h-2.2zM335.7,61.5h7.2v1.3h-7.2zM347.3,64h2.7v1.3h-2.7zM333.3,77.1h8.8v0.7h-8.8zM334.9,78.5h6.3v1h-6.3zM333,78.5h4.3v1.3h-4.3zM320.2,79.8h13.6v1h-13.6zM330.9,83.4h6v0.7h-6zM334.8,87h8.3v0.7h-8.3zM319.6,89.4h2.4v1.3h-2.4zM324.8,91.4h12v0.7h-12zM326.1,96.5h6.8v1.3h-6.8zM327.2,103.8h3.3v1h-3.3zM340.9,103.8h6.8v0.7h-6.8zM325.6,105h8.2v1.3h-8.2zM323.3,105h5.5v0.7h-5.5zM321.5,107.3h5.8v0.7h-5.8zM319.6,108.4h3v1.3h-3zM324.2,112.8h12.2v1.3h-12.2zM325.9,112.8h12.3v1h-12.3zM329.8,113.9h4.3v1.3h-4.3zM344.1,117.7h5.9v1.3h-5.9zM319.6,117.7h4.2v1h-4.2zM328,119.9h5.2v1.3h-5.2zM329.7,123h4.6v1.3h-4.6zM335.8,125.3h12.7v0.7h-12.7zM322.5,126.1h7.3v1h-7.3z" fill="#ffffff" opacity="0.15"/>
<path d="M333.2,43.8h6.9v1h-6.9zM332.9,47.4h8.1v1.3h-8.1zM334.7,48.5h12.3v1.3h-12.3zM328.3,53.4h10.9v0.7h-10.9zM325.6,59.4h13.4v1h-13.4zM332.7,59.4h8.5v1h-8.5zM319.6,59.4h7.6v0.7h-7.6zM334,59.4h11.5v1h-11.5zM339.7,60.5h5v1h-5zM344.6,66.7h5.4v0.7h-5.4zM321,67.9h8.9v1h-8.9zM326.3,68.9h3.5v1h-3.5zM327.6,70.4h10.9v0.7h-10.9zM319.6,82.5h1.1v1.3h-1.1zM343.1,85.4h6.9v1.3h-6.9zM336.9,85.4h10.9v1h-10.9zM324.8,90.4h4.6v0.7h-4.6zM328,91.4h12.4v0.7h-12.4zM321.1,95h8.7v0.7h-8.7zM345.4,98.6h4.6v1h-4.6zM347.3,111.9h2.7v1h-2.7zM344.3,116.4h5.7v1.3h-5.7zM337.6,119.9h3v0.7h-3zM334.7,123h4.2v1.3h-4.2zM322.5,123.9h8.8v1.3h-8.8z" fill="#ffffff" opacity="0.25"/>
<polygon points="330.3,42.8 330.4,44.9 330.4,47 330.5,49.2 330.6,51.3 330.6,53.4 330.7,55.5 330.7,57.6 330.8,59.8 330.9,61.9 330.9,64 331,66.1 331,68.2 331.1,70.4 331.2,72.5 331.2,74.6 331.3,76.7 331.3,78.8 331.4,81 331.5,83.1 331.5,85.2 331.6,87.3 331.7,89.4 331.7,91.6 331.8,93.7 331.8,95.8 331.9,97.9 332,100 332,102.2 332.1,104.3 332.1,106.4 332.2,108.5 332.3,110.6 332.3,112.8 332.4,114.9 332.4,117 332.5,119.1 332.6,121.2 332.6,123.4 332.7,125.5 332.7,127.6 336.3,127.6 336.3,125.5 336.4,123.4 336.4,121.2 336.5,119.1 336.6,117 336.6,114.9 336.7,112.8 336.7,110.6 336.8,108.5 336.9,106.4 336.9,104.3 337,102.2 337,100 337.1,97.9 337.2,95.8 337.2,93.7 337.3,91.6 337.3,89.4 337.4,87.3 337.5,85.2 337.5,83.1 337.6,81 337.7,78.8 337.7,76.7 337.8,74.6 337.8,72.5 337.9,70.4 338,68.2 338,66.1 338.1,64 338.1,61.9 338.2,59.8 338.3,57.6 338.3,55.5 338.4,53.4 338.4,51.3 338.5,49.2 338.6,47 338.6,44.9 338.7,42.8" fill="url(#hb4)" opacity="0.35" filter="url(#hbl2)"/>
<polygon points="332.6,42.8 332.6,44.9 332.7,47 332.7,49.2 332.7,51.3 332.7,53.4 332.8,55.5 332.8,57.6 332.8,59.8 332.8,61.9 332.9,64 332.9,66.1 332.9,68.2 333,70.4 333,72.5 333,74.6 333,76.7 333.1,78.8 333.1,81 333.1,83.1 333.1,85.2 333.2,87.3 333.2,89.4 333.2,91.6 333.3,93.7 333.3,95.8 333.3,97.9 333.3,100 333.4,102.2 333.4,104.3 333.4,106.4 333.5,108.5 333.5,110.6 333.5,112.8 333.5,114.9 333.6,117 333.6,119.1 333.6,121.2 333.6,123.4 333.7,125.5 333.7,127.6 335.3,127.6 335.3,125.5 335.4,123.4 335.4,121.2 335.4,119.1 335.4,117 335.5,114.9 335.5,112.8 335.5,110.6 335.5,108.5 335.6,106.4 335.6,104.3 335.6,102.2 335.7,100 335.7,97.9 335.7,95.8 335.7,93.7 335.8,91.6 335.8,89.4 335.8,87.3 335.9,85.2 335.9,83.1 335.9,81 335.9,78.8 336,76.7 336,74.6 336,72.5 336,70.4 336.1,68.2 336.1,66.1 336.1,64 336.2,61.9 336.2,59.8 336.2,57.6 336.2,55.5 336.3,53.4 336.3,51.3 336.3,49.2 336.3,47 336.4,44.9 336.4,42.8" fill="url(#hb4)" opacity="1.0" filter="url(#hbl1)"/>
<path d="M332.6,42.8h2.4v.7h-2.4zM330.5,48.3h4.5v.7h-4.5zM331,54.9h4.6v.7h-4.6zM330.8,59.3h4.7v.7h-4.7zM330.4,60.9h4.2v.7h-4.2zM333.2,71.9h5.8v.7h-5.8zM332.9,77.9h3.3v.7h-3.3zM332.5,81.6h2.6v.7h-2.6zM333.1,95.3h4.8v.7h-4.8zM331.4,102.4h4.1v.7h-4.1zM334.4,111.1h4.4v.7h-4.4zM329.3,123h5.8v.7h-5.8zM333.5,124.6h4.4v.7h-4.4z" fill="#d0222a" opacity="0.18"/>
<text x="282.5" y="136.5" font-size="7.8" textLength="103" lengthAdjust="spacingAndGlyphs" transform="rotate(-90 282.5 136.5)">Metastasis gained sites = 21,790</text>
<text x="288.5" y="134.8" font-size="6.4" text-anchor="middle" fill="#444">–5</text>
<text x="300.7" y="134.8" font-size="6.4" text-anchor="middle" fill="#444">0</text>
<text x="312.5" y="134.8" font-size="6.4" text-anchor="middle" fill="#444">5</text>
<text x="321.5" y="134.8" font-size="6.4" text-anchor="middle" fill="#444">–5</text>
<text x="334.5" y="134.8" font-size="6.4" text-anchor="middle" fill="#444">0</text>
<text x="347.5" y="134.8" font-size="6.4" text-anchor="middle" fill="#444">5</text>
<text x="296" y="143.6" font-size="7.8" textLength="42.5" lengthAdjust="spacingAndGlyphs">Distance (kb)</text>
<line x1="286" y1="141.4" x2="295.5" y2="141.4" stroke="#777" stroke-width="0.6" stroke-dasharray="0.8 0.8"/>
<line x1="339" y1="141.4" x2="351" y2="141.4" stroke="#777" stroke-width="0.6" stroke-dasharray="0.8 0.8"/>
<text x="392.1" y="24.6" font-size="7.8" textLength="21.6" lengthAdjust="spacingAndGlyphs">FOXA1</text>
<line x1="375.8" y1="29.5" x2="430" y2="29.5" stroke="#555" stroke-width="0.9"/>
<text x="452.6" y="24.6" font-size="7.8" textLength="24.1" lengthAdjust="spacingAndGlyphs">HNF4G</text>
<line x1="437.3" y1="29.5" x2="492" y2="29.5" stroke="#555" stroke-width="0.9"/>
<text x="368.8" y="40.4" font-size="7.8" textLength="34.2" lengthAdjust="spacingAndGlyphs">Liver mets</text>
<text x="408.2" y="40.4" font-size="7.8" textLength="20.7" lengthAdjust="spacingAndGlyphs">Tumor</text>
<text x="434" y="40.4" font-size="7.8" textLength="34.7" lengthAdjust="spacingAndGlyphs">Liver mets</text>
<text x="472.6" y="40.4" font-size="7.8" textLength="21.2" lengthAdjust="spacingAndGlyphs">Tumor</text>
<rect x="371" y="42.7" width="30.9" height="84.1" fill="#f3c3c1"/>
<path d="M378.4,42.7h9.1v1h-9.1zM371,44h5.6v1h-5.6zM391.3,44h10.6v1h-10.6zM381,44h5.4v1h-5.4zM371,45.5h4.2v1h-4.2zM395.4,48.2h5.9v1.3h-5.9zM389.3,48.2h5.7v1h-5.7zM371,51.2h9.2v0.7h-9.2zM383.3,52.1h13v1h-13zM373.2,54.1h10.4v1.3h-10.4zM393.8,57.5h8.1v1h-8.1zM372.9,57.5h8.4v1h-8.4zM373.7,59.1h4.4v1h-4.4zM371,59.1h4.2v1h-4.2zM371,60.2h5.5v0.7h-5.5zM371,61.3h5.6v1.3h-5.6zM399,61.3h2.9v1h-2.9zM387,61.3h12.4v0.7h-12.4zM398.9,62.3h3v0.7h-3zM371,63.8h6v1h-6zM382.4,64.9h4.5v1h-4.5zM385.2,66.1h13.1v1.3h-13.1zM394.6,66.9h7.3v1h-7.3zM378.2,66.9h5.2v1.3h-5.2zM371,69.4h4.3v0.7h-4.3zM371.3,69.4h6.5v0.7h-6.5zM391.8,70.5h5v0.7h-5zM393.8,72.4h8.1v1h-8.1zM386,73.2h6.8v0.7h-6.8zM371,74.2h12.4v0.7h-12.4zM372.9,76.7h3.7v1h-3.7zM397.7,79.7h4.2v1h-4.2zM393.9,80.9h8v1h-8zM390.3,80.9h11.2v1h-11.2zM389.7,83.4h3.1v0.7h-3.1zM391.5,85.7h5.8v1h-5.8zM397.4,89h4.5v1.3h-4.5zM387.5,93.7h5v1.3h-5zM394,94.8h3v0.7h-3zM377.7,96.9h3.2v1.3h-3.2zM396.8,98.3h5.1v1.3h-5.1zM399.6,102.5h2.3v1h-2.3zM387.6,105.2h13.4v0.7h-13.4zM385.9,108.6h7.8v1.3h-7.8zM371,109.5h9.4v1.3h-9.4zM375.2,109.5h7.9v1h-7.9zM398.3,115.9h3.6v1.3h-3.6zM371,119.9h1.3v1h-1.3zM378.2,122.5h7.6v1.3h-7.6zM394.9,122.5h7v1.3h-7zM387.2,124.4h4.8v0.7h-4.8z" fill="#e07d79" opacity="0.10"/>
<path d="M375.4,42.7h4.1v1.3h-4.1zM383.3,45.5h9.3v0.7h-9.3zM385,45.5h8.2v0.7h-8.2zM386.4,46.7h5.2v1h-5.2zM381.8,49.2h14v1h-14zM399.3,49.2h2.6v1h-2.6zM385.9,51.2h13.2v1h-13.2zM376.8,53.1h11.3v1.3h-11.3zM378.8,53.1h11.1v1h-11.1zM385.2,54.1h13.3v1.3h-13.3zM389.7,55.5h8.1v1h-8.1zM379.1,55.5h9.2v0.7h-9.2zM399.6,55.5h2.3v0.7h-2.3zM371,56.5h4.4v1h-4.4zM391.8,64.9h10.1v0.7h-10.1zM397,66.9h4.9v0.7h-4.9zM390.7,66.9h10.4v1h-10.4zM397.2,68.5h4.7v1h-4.7zM390.3,70.5h11.1v0.7h-11.1zM375.5,71.4h6.8v1.3h-6.8zM398.5,72.4h3.4v0.7h-3.4zM375.5,73.2h7.9v0.7h-7.9zM371,73.2h4.5v0.7h-4.5zM372.2,74.2h10.1v0.7h-10.1zM389,76.7h12.9v1h-12.9zM371.9,78.2h3.1v1.3h-3.1zM379.1,79.7h13.1v1h-13.1zM381.5,80.9h8.7v0.7h-8.7zM392.5,81.8h3.2v0.7h-3.2zM386.2,83.4h13.3v1.3h-13.3zM375,83.4h13v1.3h-13zM385.3,84.6h13.5v0.7h-13.5zM378.6,88.1h10.7v1h-10.7zM371,89h7.9v1h-7.9zM390,90.4h6.6v1h-6.6zM371,91.4h5.5v1h-5.5zM371,91.4h3.6v1.3h-3.6zM379.2,93.7h10.7v0.7h-10.7zM376.5,94.8h7.4v1h-7.4zM374.2,96.9h13.7v0.7h-13.7zM378.8,96.9h8.3v0.7h-8.3zM373.7,98.3h11.5v1h-11.5zM379.3,101.1h5.7v0.7h-5.7zM398,102.5h3.9v1h-3.9zM381.3,103.7h5.6v1.3h-5.6zM390.1,106.2h11.3v1h-11.3zM385.2,108.6h3.8v1.3h-3.8zM376.5,109.5h3.4v1.3h-3.4zM383.4,109.5h7.9v1.3h-7.9zM371,111h4.2v0.7h-4.2zM394.8,112h5.2v0.7h-5.2zM384.1,115.9h10.6v1h-10.6zM397.9,117.2h4v1h-4zM372.7,118.5h5.8v1h-5.8zM390.8,121.4h11.1v1.3h-11.1zM386.3,121.4h9.2v1.3h-9.2zM399.2,123.5h2.7v1h-2.7zM394.6,124.4h6v1.3h-6z" fill="#e07d79" opacity="0.18"/>
<path d="M392.2,42.7h3.3v1.3h-3.3zM372.6,46.7h6.2v1h-6.2zM374.1,48.2h11.3v1.3h-11.3zM380,50.1h6.2v1h-6.2zM384.8,50.1h3.5v0.7h-3.5zM378,50.1h10v1h-10zM387,52.1h5.1v0.7h-5.1zM388,53.1h6.7v1h-6.7zM373.9,54.1h5.9v1.3h-5.9zM390.4,56.5h6.6v1.3h-6.6zM384.4,56.5h7.6v1.3h-7.6zM379.6,60.2h6.5v1.3h-6.5zM377.2,61.3h11.9v1.3h-11.9zM395.8,62.3h6.1v1.3h-6.1zM371,63.8h2.8v1h-2.8zM382.9,64.9h7v1h-7zM371,66.1h7.1v1.3h-7.1zM391,66.1h10.5v0.7h-10.5zM371,66.1h12.5v1h-12.5zM391.5,70.5h7.7v1.3h-7.7zM382.5,70.5h6.2v1h-6.2zM396.8,71.4h5.1v1.3h-5.1zM371,73.2h3.7v1.3h-3.7zM387.9,75.5h12.4v1.3h-12.4zM371,78.2h1.8v0.7h-1.8zM387.6,81.8h7.6v1.3h-7.6zM393.6,85.7h8.3v0.7h-8.3zM392.5,85.7h7.2v1.3h-7.2zM394.1,85.7h5.5v0.7h-5.5zM382.3,90.4h8.5v1h-8.5zM379.5,90.4h6.7v1.3h-6.7zM399.7,91.4h2.2v0.7h-2.2zM388.2,92.5h6.7v1.3h-6.7zM379.8,93.7h9.1v0.7h-9.1zM380.2,94.8h3.5v0.7h-3.5zM383.4,94.8h13.7v1.3h-13.7zM373.1,94.8h10.4v1.3h-10.4zM371.3,99.6h13.5v1.3h-13.5zM392.6,99.6h9.3v1.3h-9.3zM388.8,101.1h8.3v1.3h-8.3zM385.6,101.1h4.3v1.3h-4.3zM396.4,102.5h5.2v1h-5.2zM396,105.2h3.1v1.3h-3.1zM381.7,111h6v1.3h-6zM380.4,111h7.8v1.3h-7.8zM371,112h2.6v0.7h-2.6zM387.8,112h5v1.3h-5zM376.1,113.2h12.4v1.3h-12.4zM386.8,113.2h4.3v1.3h-4.3zM372.5,114.8h12.7v1.3h-12.7zM388.3,117.2h4.2v1h-4.2zM393.4,117.2h8.5v1h-8.5zM394.8,123.5h7.1v1.3h-7.1zM379.6,124.4h13.3v1h-13.3zM371.1,125.3h13.8v1.3h-13.8z" fill="#e07d79" opacity="0.28"/>
<path d="M373,42.7h5.4v0.7h-5.4zM390.3,44h8.4v0.7h-8.4zM381.8,49.2h5.7v0.7h-5.7zM371,53.1h10.6v0.7h-10.6zM397.1,57.5h4.8v1.3h-4.8zM376.1,57.5h12.1v1.3h-12.1zM395.8,60.2h6.1v1.3h-6.1zM382.9,61.3h8.6v1.3h-8.6zM375.1,63.8h3.6v0.7h-3.6zM376.7,66.9h3.8v0.7h-3.8zM382,68.5h12.1v0.7h-12.1zM390.9,69.4h11v1.3h-11zM390.6,69.4h11.3v1.3h-11.3zM393.1,72.4h8.4v1.3h-8.4zM377.2,73.2h8.5v0.7h-8.5zM381,75.5h6.7v0.7h-6.7zM396.4,79.7h5.5v1.3h-5.5zM375.9,83.4h3.9v0.7h-3.9zM375,86.7h10.2v1.3h-10.2zM372.5,86.7h5.4v0.7h-5.4zM372.3,88.1h3v1.3h-3zM371.2,88.1h7.1v0.7h-7.1zM371,89h10.1v1h-10.1zM379.3,90.4h7.9v0.7h-7.9zM394.6,92.5h7.3v1h-7.3zM383.3,92.5h3.1v0.7h-3.1zM396.9,96.1h5v1h-5zM373.4,96.9h9v0.7h-9zM385.5,98.3h11.9v1.3h-11.9zM390.8,103.7h7.2v0.7h-7.2zM394.2,105.2h6.4v1h-6.4zM386.9,108.6h7.1v1.3h-7.1zM384.1,111h13.1v0.7h-13.1zM372.2,111h6.1v0.7h-6.1zM385.8,119.9h8.4v0.7h-8.4zM393.5,121.4h8.4v1.3h-8.4zM375.2,122.5h12.5v1.3h-12.5zM378.5,125.3h11.5v0.7h-11.5zM376.6,125.3h11.1v1h-11.1zM394.8,125.3h7.1v1.3h-7.1z" fill="#ffffff" opacity="0.15"/>
<path d="M394.7,51.2h4.5v0.7h-4.5zM398.9,53.1h3v1.3h-3zM371,54.1h11.1v1.3h-11.1zM371,57.5h7.9v0.7h-7.9zM397.9,60.2h4v0.7h-4zM393.7,60.2h5.5v1h-5.5zM397.5,63.8h4.4v1h-4.4zM387.1,63.8h5.9v1.3h-5.9zM371,72.4h6.2v1h-6.2zM384.8,78.2h3.1v1h-3.1zM379.4,78.2h4v1.3h-4zM376.1,80.9h5.4v1h-5.4zM388.8,83.4h6.8v0.7h-6.8zM393.3,84.6h8.6v1.3h-8.6zM371,85.7h4v1h-4zM371,86.7h1.7v1h-1.7zM380.6,88.1h12.9v1.3h-12.9zM371,88.1h8.1v1.3h-8.1zM371,89h3.1v1.3h-3.1zM392,96.1h3v1.3h-3zM378.1,107.2h7.7v0.7h-7.7zM393.8,107.2h8.1v1h-8.1zM371,108.6h5.4v1h-5.4zM386.2,112h7.8v0.7h-7.8zM379.3,114.8h7.4v0.7h-7.4zM372.8,118.5h6.2v1.3h-6.2zM390.9,122.5h11v1.3h-11zM372.8,124.4h12.3v1.3h-12.3zM371.5,124.4h5.3v1h-5.3z" fill="#ffffff" opacity="0.25"/>
<polygon points="381.7,42.7 381.7,44.8 381.8,46.9 381.9,49 381.9,51.1 382,53.2 382,55.3 382.1,57.4 382.2,59.5 382.2,61.6 382.3,63.7 382.3,65.8 382.4,67.9 382.5,70 382.5,72.1 382.6,74.2 382.6,76.3 382.7,78.4 382.8,80.5 382.8,82.6 382.9,84.8 383,86.9 383,89 383.1,91.1 383.1,93.2 383.2,95.3 383.3,97.4 383.3,99.5 383.4,101.6 383.4,103.7 383.5,105.8 383.6,107.9 383.6,110 383.7,112.1 383.7,114.2 383.8,116.3 383.9,118.4 383.9,120.5 384,122.6 384,124.7 384.1,126.8 388.5,126.8 388.6,124.7 388.6,122.6 388.7,120.5 388.7,118.4 388.8,116.3 388.9,114.2 388.9,112.1 389,110 389,107.9 389.1,105.8 389.2,103.7 389.2,101.6 389.3,99.5 389.3,97.4 389.4,95.3 389.5,93.2 389.5,91.1 389.6,89 389.6,86.9 389.7,84.8 389.8,82.6 389.8,80.5 389.9,78.4 390,76.3 390,74.2 390.1,72.1 390.1,70 390.2,67.9 390.3,65.8 390.3,63.7 390.4,61.6 390.4,59.5 390.5,57.4 390.6,55.3 390.6,53.2 390.7,51.1 390.7,49 390.8,46.9 390.9,44.8 390.9,42.7" fill="url(#hb5)" opacity="0.35" filter="url(#hbl2)"/>
<polygon points="384.2,42.7 384.2,44.8 384.3,46.9 384.3,49 384.3,51.1 384.3,53.2 384.4,55.3 384.4,57.4 384.4,59.5 384.4,61.6 384.5,63.7 384.5,65.8 384.5,67.9 384.6,70 384.6,72.1 384.6,74.2 384.6,76.3 384.7,78.4 384.7,80.5 384.7,82.6 384.8,84.8 384.8,86.9 384.8,89 384.8,91.1 384.9,93.2 384.9,95.3 384.9,97.4 384.9,99.5 385,101.6 385,103.7 385,105.8 385.1,107.9 385.1,110 385.1,112.1 385.1,114.2 385.2,116.3 385.2,118.4 385.2,120.5 385.2,122.6 385.3,124.7 385.3,126.8 387.3,126.8 387.3,124.7 387.4,122.6 387.4,120.5 387.4,118.4 387.4,116.3 387.5,114.2 387.5,112.1 387.5,110 387.5,107.9 387.6,105.8 387.6,103.7 387.6,101.6 387.7,99.5 387.7,97.4 387.7,95.3 387.7,93.2 387.8,91.1 387.8,89 387.8,86.9 387.9,84.8 387.9,82.6 387.9,80.5 387.9,78.4 388,76.3 388,74.2 388,72.1 388,70 388.1,67.9 388.1,65.8 388.1,63.7 388.2,61.6 388.2,59.5 388.2,57.4 388.2,55.3 388.3,53.2 388.3,51.1 388.3,49 388.3,46.9 388.4,44.8 388.4,42.7" fill="url(#hb5)" opacity="1.0" filter="url(#hbl1)"/>
<path d="M384.8,42.7h2.9v.7h-2.9zM384.5,48.8h2.9v.7h-2.9zM381.3,52.1h5.6v.7h-5.6zM385.5,56.8h2.5v.7h-2.5zM384.1,74.7h5.5v.7h-5.5zM385.7,80.3h4.1v.7h-4.1zM384.8,82.1h4.3v.7h-4.3zM380.5,87.6h6v.7h-6zM385.5,95.1h6.2v.7h-6.2zM382.6,98.1h4.9v.7h-4.9zM385.7,100.4h2.7v.7h-2.7zM384.3,103.7h6.1v.7h-6.1zM385.7,113h5.5v.7h-5.5zM386.1,115h2.6v.7h-2.6zM383.5,122.9h2.8v.7h-2.8zM384.5,125.1h2.7v.7h-2.7z" fill="#d0222a" opacity="0.18"/>
<rect x="404.2" y="42.7" width="30" height="84.1" fill="#f3c3c1"/>
<path d="M404.2,44h5.7v0.7h-5.7zM416.4,45.4h8v1.3h-8zM417.6,46.9h13.4v1.3h-13.4zM431.1,51.8h3.1v1.3h-3.1zM419.3,51.8h13.9v1.3h-13.9zM421.3,53.1h5.1v1.3h-5.1zM428.8,54.3h5.4v1h-5.4zM422.7,54.3h6.1v0.7h-6.1zM423.2,60.3h11v1h-11zM406,60.3h3.2v0.7h-3.2zM406.2,61.2h9v1.3h-9zM422.5,61.2h10.4v1.3h-10.4zM424.6,63.8h3.1v0.7h-3.1zM411.5,63.8h10.5v1h-10.5zM409.5,63.8h13.2v1h-13.2zM413.5,70.2h3.4v0.7h-3.4zM404.2,70.2h5.3v1h-5.3zM427.7,71.6h6.4v1.3h-6.4zM404.9,74.3h12v1h-12zM419.9,74.3h6.3v1.3h-6.3zM425.5,76.3h8.7v0.7h-8.7zM425,77.5h9.2v0.7h-9.2zM404.2,78.8h7.8v1h-7.8zM404.2,84h4.2v0.7h-4.2zM413.2,86.5h7.9v1.3h-7.9zM428.1,86.5h6.1v1.3h-6.1zM428.3,87.8h5.9v1.3h-5.9zM412.7,87.8h12.5v1.3h-12.5zM413.1,90.7h7.4v1.3h-7.4zM427.3,93.5h6.9v0.7h-6.9zM404.2,96.8h10.6v0.7h-10.6zM414.4,98.2h7.4v0.7h-7.4zM419.3,99.4h6.3v1h-6.3zM413.6,100.9h5.6v0.7h-5.6zM428.8,102.1h5.4v1h-5.4zM422.4,103.5h3.5v1.3h-3.5zM418,111.8h9.4v0.7h-9.4zM431,112.9h3.2v0.7h-3.2zM427.8,112.9h5.3v0.7h-5.3zM422.8,114.2h3.2v1.3h-3.2zM414.4,118.1h9v1h-9zM421.3,118.1h10.7v1h-10.7zM431,122.3h3.2v1.3h-3.2zM428.7,123.4h5.5v1.3h-5.5zM429.2,123.4h3v1h-3zM414.6,125.6h6.4v1.3h-6.4z" fill="#e07d79" opacity="0.10"/>
<path d="M409.9,44h10.4v1.3h-10.4zM406.8,44h7.1v1.3h-7.1zM429,46.9h5.2v1h-5.2zM421.7,46.9h5v1h-5zM408.5,46.9h5.7v1.3h-5.7zM405.5,46.9h6.9v1.3h-6.9zM426.8,47.9h7.4v1h-7.4zM411,49.1h7.2v1.3h-7.2zM406.6,50.5h13.8v1.3h-13.8zM406.3,53.1h3.9v1.3h-3.9zM429.7,53.1h4.5v0.7h-4.5zM411,54.3h12.1v0.7h-12.1zM427.9,54.3h6.3v1h-6.3zM428.6,56.7h5.5v1h-5.5zM429.2,61.2h5v1h-5zM425.7,61.2h8.5v1h-8.5zM411.4,63.8h10.2v1h-10.2zM422.5,63.8h8.8v1.3h-8.8zM422.3,66.7h9.8v1.3h-9.8zM416.4,66.7h13.9v1.3h-13.9zM412.3,66.7h10.7v0.7h-10.7zM404.2,67.6h6.3v1h-6.3zM404.2,68.9h11v1.3h-11zM409,68.9h6.5v1h-6.5zM427.8,72.9h3.8v0.7h-3.8zM414.8,72.9h8.1v1.3h-8.1zM430,74.3h4.2v1h-4.2zM429.5,75.5h4.7v1h-4.7zM416.6,78.8h5.5v1.3h-5.5zM428.1,79.8h4.9v0.7h-4.9zM422.9,79.8h10.2v1.3h-10.2zM404.2,80.8h7.3v1.3h-7.3zM413.8,82.5h4.2v1h-4.2zM404.2,84h9.9v1h-9.9zM412.8,84h5.6v0.7h-5.6zM417.8,90.7h3.5v1h-3.5zM416.5,90.7h4.2v1h-4.2zM407.7,90.7h3.8v0.7h-3.8zM422.9,92.2h11.3v1.3h-11.3zM423.7,92.2h7.5v1.3h-7.5zM404.2,95.7h4.9v0.7h-4.9zM404.2,95.7h2.6v1h-2.6zM418.5,95.7h9.7v0.7h-9.7zM404.7,96.8h12.1v0.7h-12.1zM413.7,98.2h11.8v1h-11.8zM414.7,98.2h12.4v1h-12.4zM418.7,100.9h8v0.7h-8zM404.2,102.1h1.2v0.7h-1.2zM428.6,103.5h5.6v1.3h-5.6zM428.6,103.5h5.6v1h-5.6zM404.2,104.6h4.3v0.7h-4.3zM424.3,104.6h8.8v1h-8.8zM404.2,107.2h3.6v1h-3.6zM421,108.1h11.8v0.7h-11.8zM416.4,109.6h6.3v1.3h-6.3zM430,111.8h4.2v1h-4.2zM419.1,112.9h6.6v0.7h-6.6zM410.1,114.2h3.7v1h-3.7zM409.4,114.2h9.2v0.7h-9.2zM424.2,118.1h3.5v1.3h-3.5zM406.6,118.1h4.8v0.7h-4.8zM426.3,121.1h7.9v1.3h-7.9zM428.1,121.1h6.1v0.7h-6.1zM417.5,122.3h10.7v1h-10.7zM410.7,124.3h8.4v0.7h-8.4zM418.3,124.3h11.3v1.3h-11.3z" fill="#e07d79" opacity="0.18"/>
<path d="M419.7,47.9h4.2v1h-4.2zM422.9,47.9h9v0.7h-9zM404.6,49.1h5.3v1h-5.3zM413.1,50.5h5v1.3h-5zM412.9,54.3h4.4v1.3h-4.4zM420.4,56.7h7.1v1.3h-7.1zM408.5,57.7h5.1v1h-5.1zM430.2,57.7h4v0.7h-4zM415.6,59.1h5.6v1h-5.6zM409.1,60.3h6.6v1.3h-6.6zM413.6,62.6h9.4v0.7h-9.4zM421.8,62.6h12v1h-12zM429.3,65.4h3.5v0.7h-3.5zM426.1,65.4h8.1v1.3h-8.1zM406.5,71.6h8.8v1.3h-8.8zM405.8,71.6h5.7v0.7h-5.7zM431.8,75.5h2.4v0.7h-2.4zM428.1,75.5h6.1v1h-6.1zM404.2,76.3h5.6v0.7h-5.6zM404.9,77.5h5.2v1h-5.2zM404.2,79.8h4.2v1.3h-4.2zM413.9,84h13v1h-13zM409.6,85.1h4.3v1.3h-4.3zM422.6,85.1h11.6v1.3h-11.6zM414.4,87.8h9.4v1h-9.4zM404.2,89.3h8.4v0.7h-8.4zM422.6,89.3h9v1h-9zM411.3,94.7h5v1h-5zM405.9,94.7h11v1h-11zM412.6,94.7h4.1v1.3h-4.1zM413.4,95.7h6.2v0.7h-6.2zM411.7,98.2h13.2v1h-13.2zM416.8,99.4h10.9v0.7h-10.9zM431.6,100.9h2.6v1.3h-2.6zM419.9,100.9h10.8v1h-10.8zM419.7,106.1h8v0.7h-8zM426.2,107.2h8v0.7h-8zM404.2,108.1h2.3v0.7h-2.3zM420.4,108.1h7.2v0.7h-7.2zM427.7,108.1h6.5v1.3h-6.5zM430,109.6h4.2v1.3h-4.2zM424.7,111.8h9.5v1.3h-9.5zM430.7,111.8h3.5v1h-3.5zM411.9,116.7h9.1v1.3h-9.1zM408.7,116.7h4v0.7h-4zM411.8,119.7h8.2v0.7h-8.2zM412,119.7h6.2v1h-6.2zM426.3,123.4h7.9v0.7h-7.9zM423.7,124.3h10.5v1.3h-10.5z" fill="#e07d79" opacity="0.28"/>
<path d="M420.6,42.7h7.8v0.7h-7.8zM407.4,45.4h11.3v0.7h-11.3zM421.7,45.4h5.7v1.3h-5.7zM421.5,49.1h12.7v0.7h-12.7zM422,49.1h11.6v1.3h-11.6zM416.9,50.5h5v1.3h-5zM421.2,50.5h4.1v1.3h-4.1zM404.2,53.1h8.7v1h-8.7zM424.8,55.6h6.6v0.7h-6.6zM406.8,56.7h3.1v0.7h-3.1zM428.3,59.1h3.8v1.3h-3.8zM431.7,61.2h2.5v1h-2.5zM429.8,72.9h4.4v1h-4.4zM415.1,76.3h5.4v0.7h-5.4zM421.4,80.8h7.1v0.7h-7.1zM425.6,81.7h8.6v0.7h-8.6zM404.2,82.5h2.9v1.3h-2.9zM404.2,86.5h1.8v0.7h-1.8zM408.3,87.8h10.7v0.7h-10.7zM408.2,89.3h3.7v0.7h-3.7zM431.9,90.7h2.3v0.7h-2.3zM426,94.7h8.2v1h-8.2zM404.9,100.9h6.2v0.7h-6.2zM419.6,110.5h7.2v1.3h-7.2zM409.3,111.8h3.7v1h-3.7zM417.4,114.2h8v1.3h-8zM404.2,116.7h11.3v1h-11.3zM427.3,118.1h6.9v0.7h-6.9z" fill="#ffffff" opacity="0.15"/>
<path d="M417.2,47.9h10v1.3h-10zM424.5,47.9h9.7v0.7h-9.7zM417.6,50.5h8.4v0.7h-8.4zM428.3,55.6h5.9v1h-5.9zM411.1,66.7h12.2v0.7h-12.2zM406,66.7h8.5v0.7h-8.5zM419.5,67.6h10.6v1h-10.6zM412.2,71.6h5.6v1.3h-5.6zM421.6,72.9h3.3v1.3h-3.3zM408.4,74.3h9.5v0.7h-9.5zM431.2,79.8h3v0.7h-3zM404.4,81.7h5.7v0.7h-5.7zM424.5,93.5h9.7v0.7h-9.7zM407,93.5h12.2v0.7h-12.2zM406.8,94.7h9.3v1h-9.3zM426.9,96.8h7.3v1.3h-7.3zM424.2,98.2h8.9v1.3h-8.9zM429.4,102.1h4.8v1h-4.8zM404.2,103.5h1.8v1.3h-1.8zM430.1,103.5h4.1v0.7h-4.1zM424.9,106.1h8.7v1.3h-8.7zM426.1,110.5h4.7v1.3h-4.7zM404.2,112.9h8.2v0.7h-8.2zM420.2,114.2h9.7v1h-9.7zM424.4,115.3h4v1h-4zM422.7,119.7h7.5v0.7h-7.5zM429.8,125.6h4v0.7h-4z" fill="#ffffff" opacity="0.25"/>
<polygon points="414.5,42.7 414.5,44.8 414.6,46.9 414.6,49 414.7,51.1 414.8,53.2 414.8,55.3 414.9,57.4 414.9,59.5 415,61.6 415,63.7 415.1,65.8 415.6,67.9 415.6,70 415.6,72.1 415.6,74.2 415.6,76.3 415.6,78.4 415.6,80.5 415.6,82.6 415.6,84.8 415.6,86.9 415.6,89 415.6,91.1 416.2,93.2 416.2,95.3 416.2,97.4 416.2,99.5 416.2,101.6 416.2,103.7 416.2,105.8 416.2,107.9 416.2,110 416.2,112.1 416.2,114.2 416.2,116.3 416.2,118.4 416.2,120.5 416.2,122.6 416.2,124.7 416.2,126.8 422,126.8 422,124.7 422,122.6 422,120.5 422,118.4 422,116.3 422,114.2 422,112.1 422,110 422,107.9 422,105.8 422,103.7 422,101.6 422,99.5 422,97.4 422,95.3 422,93.2 422.6,91.1 422.6,89 422.6,86.9 422.6,84.8 422.6,82.6 422.6,80.5 422.6,78.4 422.6,76.3 422.6,74.2 422.6,72.1 422.6,70 422.6,67.9 423.1,65.8 423.2,63.7 423.2,61.6 423.3,59.5 423.3,57.4 423.4,55.3 423.4,53.2 423.5,51.1 423.6,49 423.6,46.9 423.7,44.8 423.7,42.7" fill="url(#hb6)" opacity="0.35" filter="url(#hbl2)"/>
<polygon points="417,42.7 417,44.8 417.1,46.9 417.1,49 417.1,51.1 417.1,53.2 417.2,55.3 417.2,57.4 417.2,59.5 417.2,61.6 417.2,63.7 417.3,65.8 417.5,67.9 417.5,70 417.5,72.1 417.5,74.2 417.5,76.3 417.5,78.4 417.5,80.5 417.5,82.6 417.5,84.8 417.5,86.9 417.5,89 417.5,91.1 417.8,93.2 417.8,95.3 417.8,97.4 417.8,99.5 417.8,101.6 417.8,103.7 417.8,105.8 417.8,107.9 417.8,110 417.8,112.1 417.8,114.2 417.8,116.3 417.8,118.4 417.8,120.5 417.8,122.6 417.8,124.7 417.8,126.8 420.4,126.8 420.4,124.7 420.4,122.6 420.4,120.5 420.4,118.4 420.4,116.3 420.4,114.2 420.4,112.1 420.4,110 420.4,107.9 420.4,105.8 420.4,103.7 420.4,101.6 420.4,99.5 420.4,97.4 420.4,95.3 420.4,93.2 420.7,91.1 420.7,89 420.7,86.9 420.7,84.8 420.7,82.6 420.7,80.5 420.7,78.4 420.7,76.3 420.7,74.2 420.7,72.1 420.7,70 420.7,67.9 420.9,65.8 421,63.7 421,61.6 421,59.5 421,57.4 421.1,55.3 421.1,53.2 421.1,51.1 421.1,49 421.2,46.9 421.2,44.8 421.2,42.7" fill="url(#hb6)" opacity="1.0" filter="url(#hbl1)"/>
<path d="M414.6,46.7h5.9v.7h-5.9zM413.7,49.1h5.6v.7h-5.6zM417.4,52.3h3.4v.7h-3.4zM419,55.3h4v.7h-4zM416.3,68.5h4.3v.7h-4.3zM418.2,76h6.7v.7h-6.7zM417.4,95.2h3.9v.7h-3.9zM417.5,99h4.1v.7h-4.1zM416.3,102.5h6.6v.7h-6.6zM417.5,106.6h2.7v.7h-2.7zM412.4,108.4h6.9v.7h-6.9zM418.1,114.3h6.2v.7h-6.2z" fill="#d0222a" opacity="0.18"/>
<rect x="437" y="42.5" width="27.6" height="84.3" fill="#d4e4cf"/>
<path d="M460.4,43.8h4.2v1.3h-4.2zM451.2,45h9.9v0.7h-9.9zM442.9,45h3.4v0.7h-3.4zM445.2,45.9h3.3v1.3h-3.3zM437,48.7h6.9v0.7h-6.9zM448.5,50h7.8v0.7h-7.8zM458.9,51.3h5.7v1.3h-5.7zM460.9,51.3h3.7v1.3h-3.7zM460.5,54.1h4.1v0.7h-4.1zM458.7,54.1h5.9v1h-5.9zM445.4,55h10.7v1.3h-10.7zM455.6,55h3.9v0.7h-3.9zM439.6,57.6h10.5v0.7h-10.5zM461.4,61.4h3.2v1.3h-3.2zM437,63h5.4v1h-5.4zM457.3,64.9h6.7v1.3h-6.7zM456.6,66.3h4.5v1.3h-4.5zM459.2,66.3h5.4v1h-5.4zM458,67.9h6.6v1.3h-6.6zM449.5,68.9h3.3v1h-3.3zM456.6,69.7h8v0.7h-8zM450.7,69.7h3.8v1.3h-3.8zM440.9,71.2h11.8v1.3h-11.8zM458.4,71.2h6.2v0.7h-6.2zM443.9,71.2h4.4v0.7h-4.4zM454.8,73.2h5v1h-5zM438.6,75.7h11.7v1.3h-11.7zM442.8,78.2h10.6v0.7h-10.6zM437,78.2h7.1v1.3h-7.1zM450.7,78.2h11.8v1h-11.8zM441.8,79.6h9.8v0.7h-9.8zM438.8,81h7.4v1.3h-7.4zM451.1,81.9h10.1v1h-10.1zM456,82.7h8.6v1.3h-8.6zM437,84.3h4.6v0.7h-4.6zM447.2,84.3h3.8v1.3h-3.8zM445.3,85.1h11.1v1.3h-11.1zM439.6,86.4h8.3v1h-8.3zM440.6,95.3h8.7v1h-8.7zM454,96.7h10.6v1h-10.6zM453.9,99.9h7.1v1.3h-7.1zM462.1,102.2h2.5v0.7h-2.5zM450.1,106.3h8.6v1h-8.6zM442.3,106.3h3.5v1h-3.5zM456.9,106.3h7.7v1h-7.7zM444,108.3h11v1.3h-11zM458.7,108.3h5.9v0.7h-5.9zM461.9,109.6h2.7v1.3h-2.7zM444,110.9h12.2v0.7h-12.2zM437,110.9h6.2v1h-6.2zM451.5,113.1h5.6v1.3h-5.6zM459.8,114.2h4.8v0.7h-4.8zM441,115h3.9v1h-3.9zM452.7,117.2h11.9v1.3h-11.9zM440,123.9h8.1v1h-8.1zM461.8,123.9h2.8v1.3h-2.8zM462,124.9h2.6v0.7h-2.6z" fill="#73a36d" opacity="0.16"/>
<path d="M454.8,45h7.2v0.7h-7.2zM437,45.9h1.2v1h-1.2zM458.3,45.9h6.3v1.3h-6.3zM457.6,48.7h7v1h-7zM455,51.3h9.6v1.3h-9.6zM437,51.3h6.7v1.3h-6.7zM445,56.5h8.1v0.7h-8.1zM454.7,61.4h9.9v1h-9.9zM453.6,61.4h5.4v1h-5.4zM460.8,63h3.8v1h-3.8zM454.4,64.1h10.2v1h-10.2zM447.6,64.9h6.4v1h-6.4zM457.2,66.3h7.4v0.7h-7.4zM454.8,66.3h5.5v0.7h-5.5zM437,67.9h7.7v1h-7.7zM458.2,68.9h6.4v1h-6.4zM462.6,69.7h2v1h-2zM453.9,69.7h10.7v0.7h-10.7zM441.1,71.2h13.6v0.7h-13.6zM441.4,72.2h4.9v0.7h-4.9zM457.4,72.2h7.2v1h-7.2zM462.4,73.2h2.2v1.3h-2.2zM445.6,74.2h12.8v1h-12.8zM448.6,74.2h11.8v1h-11.8zM455.9,74.2h8.7v1h-8.7zM462.1,78.2h2.5v0.7h-2.5zM456.5,79.6h7.7v0.7h-7.7zM440.7,81h11.5v1h-11.5zM440.5,85.1h13.2v1.3h-13.2zM440.7,85.1h8.6v1h-8.6zM442.6,87.7h3.5v1.3h-3.5zM438.2,87.7h6.5v1h-6.5zM448.6,89.2h4.4v1.3h-4.4zM450.2,90.5h14v0.7h-14zM458.9,90.5h5.7v1h-5.7zM437,91.3h8.8v0.7h-8.8zM446.7,96.7h4.4v1.3h-4.4zM450.5,96.7h13.1v1.3h-13.1zM441.2,97.7h13.8v1.3h-13.8zM437,102.2h5.6v1.3h-5.6zM461.1,104.3h3.5v0.7h-3.5zM458.4,104.3h6.2v1.3h-6.2zM448.4,105.4h8.1v1.3h-8.1zM450.3,106.3h6.7v1h-6.7zM439.8,107.2h7.7v0.7h-7.7zM441.6,107.2h6.7v1.3h-6.7zM445.9,108.3h3.7v1h-3.7zM457.7,109.6h6.9v1.3h-6.9zM437,109.6h6.7v1.3h-6.7zM451.6,111.8h12.8v1h-12.8zM437,113.1h4v1.3h-4zM452.9,113.1h8.3v1h-8.3zM454.1,114.2h10.5v0.7h-10.5zM437,115h11.6v1h-11.6zM448.3,116.3h11.2v1.3h-11.2zM445,117.2h10.6v0.7h-10.6zM446.9,117.2h11.1v0.7h-11.1zM457.1,118.6h7.5v0.7h-7.5zM444.8,118.6h13.2v1.3h-13.2zM461.8,121.1h2.8v1.3h-2.8zM456.4,122.5h6.5v1h-6.5zM437,124.9h11.5v0.7h-11.5z" fill="#73a36d" opacity="0.29"/>
<path d="M437,42.5h9.7v1h-9.7zM437,47.7h6.4v1.3h-6.4zM447.4,52.8h9v1.3h-9zM455.8,52.8h8.8v1h-8.8zM445.7,57.6h8.9v1.3h-8.9zM441.6,59.2h6.6v0.7h-6.6zM461.2,59.2h3.4v1h-3.4zM441.5,59.2h7.3v1h-7.3zM458.3,60h6.3v1.3h-6.3zM440.6,63h6.7v1h-6.7zM439.2,64.1h9.7v0.7h-9.7zM437,64.1h6.3v1.3h-6.3zM437,66.3h11.2v0.7h-11.2zM457,67.9h3.3v1.3h-3.3zM456.1,74.2h3.5v1.3h-3.5zM445.8,75.7h5.4v1h-5.4zM451.8,78.2h10.4v1h-10.4zM450.5,79.6h13v1h-13zM459.9,79.6h4.7v1.3h-4.7zM458.7,81.9h5.9v0.7h-5.9zM443.3,82.7h7.2v1.3h-7.2zM442.6,84.3h10v1h-10zM438.1,85.1h10.4v1.3h-10.4zM437,89.2h12.4v0.7h-12.4zM439.3,89.2h5.7v1.3h-5.7zM437,90.5h2.7v0.7h-2.7zM461.3,92.7h3.3v1.3h-3.3zM457.8,93.9h5.2v1.3h-5.2zM457.6,93.9h7v0.7h-7zM445.2,95.3h3.1v0.7h-3.1zM437,95.3h4.3v0.7h-4.3zM457.1,95.3h5.6v0.7h-5.6zM437,95.3h2.5v1.3h-2.5zM454.5,96.7h10.1v0.7h-10.1zM455.8,97.7h7.3v0.7h-7.3zM462.5,97.7h2.1v1.3h-2.1zM458,98.8h3.5v1.3h-3.5zM438,103h12.3v1.3h-12.3zM457.6,103h7v1.3h-7zM461.2,103h3.4v1.3h-3.4zM442,104.3h4v0.7h-4zM437.9,107.2h5.4v1.3h-5.4zM456.1,107.2h8.5v1h-8.5zM459.8,108.3h4.8v1h-4.8zM442,109.6h9.7v0.7h-9.7zM438.9,114.2h12.7v1h-12.7zM437,115h2.3v0.7h-2.3zM457.3,115h7.3v1.3h-7.3zM460.9,116.3h3.7v1.3h-3.7zM461.7,118.6h2.9v0.7h-2.9zM442.1,119.5h12.5v0.7h-12.5zM444.3,119.5h9v0.7h-9zM437,121.1h9.6v0.7h-9.6zM446.6,121.1h4.9v0.7h-4.9zM438.7,122.5h12.3v1h-12.3zM445.2,123.9h7.2v0.7h-7.2zM437,123.9h7.7v1.3h-7.7z" fill="#73a36d" opacity="0.45"/>
<path d="M437.8,43.8h3.6v1h-3.6zM438,45.9h6.1v0.7h-6.1zM459.8,48.7h4.8v0.7h-4.8zM445.7,52.8h10.8v1h-10.8zM455.5,52.8h5.9v1.3h-5.9zM444.8,54.1h9.1v1h-9.1zM456.8,59.2h7.8v1.3h-7.8zM459.2,64.1h5.4v0.7h-5.4zM452.1,64.9h4.8v1h-4.8zM447.7,76.6h3.2v1.3h-3.2zM445.4,79.6h13.7v1.3h-13.7zM451.7,81h10v1.3h-10zM457.2,82.7h7.4v1h-7.4zM437,82.7h6.8v1h-6.8zM454.2,84.3h9.3v0.7h-9.3zM461.2,87.7h3.4v1.3h-3.4zM460.1,89.2h3v1h-3zM458.7,90.5h5.9v1h-5.9zM441.7,92.7h9.4v0.7h-9.4zM453.9,97.7h10.5v1.3h-10.5zM456.6,98.8h8v1.3h-8zM455.8,99.9h8.8v1h-8.8zM440.1,101.3h3.2v1h-3.2zM453.2,102.2h6.9v1h-6.9zM459.7,103h4.9v1h-4.9zM437,104.3h1.3v1.3h-1.3zM437,105.4h6.8v0.7h-6.8zM461.9,108.3h2.7v1h-2.7zM442.3,111.8h11.2v1h-11.2zM445.9,116.3h10.8v1h-10.8zM452.8,119.5h9.4v1.3h-9.4zM437.4,121.1h4.9v0.7h-4.9zM449.2,125.9h5.4v1.3h-5.4z" fill="#ffffff" opacity="0.15"/>
<path d="M456.1,46.8h8.5v1.3h-8.5zM453.6,46.8h8.6v0.7h-8.6zM437.9,47.7h4.2v0.7h-4.2zM457.7,48.7h6.9v1.3h-6.9zM437,48.7h4.9v0.7h-4.9zM449.6,50h11.1v1.3h-11.1zM449.1,51.3h11.7v1h-11.7zM439.7,52.8h14v1h-14zM457.1,56.5h5.2v1.3h-5.2zM455.6,59.2h6.8v0.7h-6.8zM462.4,60h2.2v1.3h-2.2zM445.4,63h8.9v0.7h-8.9zM451.5,69.7h10.6v1h-10.6zM437.5,71.2h7.7v1h-7.7zM446.4,75.7h13.4v1h-13.4zM437,75.7h8.5v0.7h-8.5zM451.5,76.6h8.2v0.7h-8.2zM448.3,81h9.2v1.3h-9.2zM442,84.3h9.6v1.3h-9.6zM442.2,86.4h11.8v0.7h-11.8zM452.7,87.7h11.9v1.3h-11.9zM444.2,89.2h5.9v1.3h-5.9zM437,91.3h8.1v1h-8.1zM452.7,91.3h9.6v1h-9.6zM458.2,98.8h6.4v0.7h-6.4zM437,101.3h11.7v0.7h-11.7zM437.1,101.3h3.7v0.7h-3.7zM446.1,101.3h9.1v1h-9.1zM448.7,102.2h13.3v0.7h-13.3zM447.3,103h6.6v0.7h-6.6zM455.2,104.3h7.6v1.3h-7.6zM462.1,106.3h2.5v0.7h-2.5zM437,110.9h3.1v1h-3.1zM445.6,111.8h4.5v1h-4.5zM444.2,111.8h12.2v1.3h-12.2zM459.6,111.8h5v1.3h-5zM451,115h13.6v1.3h-13.6zM437,117.2h9.5v1.3h-9.5zM454.2,123.9h5.2v1.3h-5.2zM456.4,125.9h8.2v1.3h-8.2z" fill="#ffffff" opacity="0.25"/>
<path d="M437.8,71.3H463.4v.6H437.8zM437.8,72.2H460.9v.6H437.8zM441,73.3H462.1v.6H441zM439.7,74.9H462v.6H439.7zM439.2,77.3H462.6v.6H439.2zM439.6,79.1H461.7v.6H439.6zM439.9,82H463.7v.6H439.9zM440.7,85.6H463.4v.6H440.7zM437.4,87.2H464.1v.6H437.4zM439.7,90.3H462.8v.6H439.7zM440.9,92H463.9v.6H440.9zM438,94.4H461.9v.6H438zM437.5,96.3H462.6v.6H437.5zM438.4,97.3H461v.6H438.4zM440.6,101.3H461.7v.6H440.6zM439.8,102.7H461.7v.6H439.8zM439.9,103.7H462.7v.6H439.9zM437.7,106.7H463.1v.6H437.7zM437.6,109.8H462.3v.6H437.6zM440.2,111.6H461.8v.6H440.2zM438.5,112.7H462.2v.6H438.5zM439.7,114H462v.6H439.7zM438.3,115.7H464.6v.6H438.3zM439.5,118.4H461.5v.6H439.5zM437.2,119.5H462.3v.6H437.2zM439.8,121.6H462.6v.6H439.8zM440.2,122.9H462.9v.6H440.2zM439.7,124.5H463.6v.6H439.7zM437.9,125.3H461.1v.6H437.9zM437.6,126.1H462.4v.6H437.6z" fill="#5f965a" opacity="0.22"/>
<polygon points="448.6,42.5 448.6,44.6 448.6,46.7 448.6,48.8 448.6,50.9 448.6,53 448.6,55.1 448.6,57.3 448.6,59.4 448.6,61.5 448.6,63.6 448.6,65.7 448.6,67.8 448.6,69.9 448.6,72 448.6,74.1 448.6,76.2 448.6,78.3 448.6,80.4 448.6,82.5 448.6,84.7 448.6,86.8 448.6,88.9 448.6,91 448.6,93.1 448.6,95.2 448.6,97.3 448.6,99.4 448.6,101.5 448.6,103.6 448.6,105.7 448.6,107.8 448.6,109.9 448.6,112 448.6,114.2 448.6,116.3 448.6,118.4 448.6,120.5 448.6,122.6 448.6,124.7 448.6,126.8 453.2,126.8 453.2,124.7 453.2,122.6 453.2,120.5 453.2,118.4 453.2,116.3 453.2,114.2 453.2,112 453.2,109.9 453.2,107.8 453.2,105.7 453.2,103.6 453.2,101.5 453.2,99.4 453.2,97.3 453.2,95.2 453.2,93.1 453.2,91 453.2,88.9 453.2,86.8 453.2,84.7 453.2,82.5 453.2,80.4 453.2,78.3 453.2,76.2 453.2,74.1 453.2,72 453.2,69.9 453.2,67.8 453.2,65.7 453.2,63.6 453.2,61.5 453.2,59.4 453.2,57.3 453.2,55.1 453.2,53 453.2,50.9 453.2,48.8 453.2,46.7 453.2,44.6 453.2,42.5" fill="url(#hb7)" opacity="0.35" filter="url(#hbl2)"/>
<polygon points="449.8,42.5 449.8,44.6 449.8,46.7 449.8,48.8 449.8,50.9 449.8,53 449.8,55.1 449.8,57.3 449.8,59.4 449.8,61.5 449.8,63.6 449.8,65.7 449.8,67.8 449.8,69.9 449.8,72 449.8,74.1 449.8,76.2 449.8,78.3 449.8,80.4 449.8,82.5 449.8,84.7 449.8,86.8 449.8,88.9 449.8,91 449.8,93.1 449.8,95.2 449.8,97.3 449.8,99.4 449.8,101.5 449.8,103.6 449.8,105.7 449.8,107.8 449.8,109.9 449.8,112 449.8,114.2 449.8,116.3 449.8,118.4 449.8,120.5 449.8,122.6 449.8,124.7 449.8,126.8 451.9,126.8 451.9,124.7 451.9,122.6 451.9,120.5 451.9,118.4 451.9,116.3 451.9,114.2 451.9,112 451.9,109.9 451.9,107.8 451.9,105.7 451.9,103.6 451.9,101.5 451.9,99.4 451.9,97.3 451.9,95.2 451.9,93.1 451.9,91 451.9,88.9 451.9,86.8 451.9,84.7 451.9,82.5 451.9,80.4 451.9,78.3 451.9,76.2 451.9,74.1 451.9,72 451.9,69.9 451.9,67.8 451.9,65.7 451.9,63.6 451.9,61.5 451.9,59.4 451.9,57.3 451.9,55.1 451.9,53 451.9,50.9 451.9,48.8 451.9,46.7 451.9,44.6 451.9,42.5" fill="url(#hb7)" opacity="1.0" filter="url(#hbl1)"/>
<polygon points="449.4,94.8 452.4,94.8 459.9,126.8 441.9,126.8" fill="url(#hb7s)" filter="url(#hbl2)"/>
<path d="M447.9,98.2H452.1v.7H447.9zM448.6,99.2H452.7v.7H448.6zM449.1,101.1H454.4v.7H449.1zM447.2,105.9H454.5v.7H447.2zM445.5,107.2H456.3v.7H445.5zM447.3,109.7H456.4v.7H447.3zM447.7,111.7H453.9v.7H447.7zM445.5,113.8H454.8v.7H445.5zM444.5,115.1H454.3v.7H444.5zM446.6,116.4H454.4v.7H446.6zM445,118.1H457.7v.7H445zM442.2,121.8H460.9v.7H442.2zM445.9,123.5H456.4v.7H445.9zM442.5,125.1H460.5v.7H442.5z" fill="#4a8f45" opacity="0.2"/>
<path d="M450.4,42.5h5v.7h-5zM447.2,45.8h6.3v.7h-6.3zM448.2,48.5h3.9v.7h-3.9zM449.2,51.6h6v.7h-6zM450.2,57h3v.7h-3zM445.7,61.6h6.2v.7h-6.2zM449.6,64.8h3.1v.7h-3.1zM450.8,68.8h6.1v.7h-6.1zM450.4,97.1h6.5v.7h-6.5zM447.7,98.7h6.5v.7h-6.5zM446.7,102.6h6v.7h-6z" fill="#4a8f45" opacity="0.18"/>
<rect x="466.6" y="42.5" width="27.6" height="84.3" fill="#d4e4cf"/>
<path d="M491,43.6h3.2v0.7h-3.2zM479.9,46.5h3.9v1.3h-3.9zM466.6,46.5h6.1v1.3h-6.1zM487,46.5h7.2v0.7h-7.2zM466.7,47.8h13.8v0.7h-13.8zM466.6,47.8h4.9v1.3h-4.9zM466.6,48.7h3.1v1.3h-3.1zM476.2,49.8h6.5v1h-6.5zM480.6,49.8h13.6v1.3h-13.6zM472.7,51.1h7.5v0.7h-7.5zM489.9,52h4.3v1h-4.3zM484.2,53.2h3.2v0.7h-3.2zM478.3,53.2h6.9v1h-6.9zM469.6,54h9.5v1h-9.5zM472.8,54h10.8v1.3h-10.8zM490.7,54.9h3.5v1.3h-3.5zM471.8,54.9h6.5v0.7h-6.5zM466.6,56.4h1.3v1.3h-1.3zM486.4,58.7h5.1v1.3h-5.1zM472.2,59.8h4.7v1h-4.7zM487.9,62.3h6.3v1h-6.3zM486.7,64.6h3.8v0.7h-3.8zM468.5,64.6h6.5v1h-6.5zM478.7,65.6h3.7v1h-3.7zM475.7,68.1h11.8v1.3h-11.8zM488.7,70.4h4.5v0.7h-4.5zM467.3,71.8h11v1h-11zM472.7,73.7h13.3v0.7h-13.3zM490.4,73.7h3.8v1.3h-3.8zM477.3,73.7h9v1.3h-9zM475.2,76.3h11.2v1.3h-11.2zM480.1,77.4h6.3v1h-6.3zM468.7,77.4h3.5v1.3h-3.5zM481.2,81.9h3.6v1.3h-3.6zM477,83.3h10.5v1h-10.5zM484.7,84.3h9.5v0.7h-9.5zM486.9,84.3h7.3v1.3h-7.3zM466.8,85.2h11.7v1h-11.7zM476.4,87.2h6.7v0.7h-6.7zM484.2,88.7h6.4v0.7h-6.4zM482.4,89.6h11.8v0.7h-11.8zM466.6,89.6h6.9v0.7h-6.9zM486.3,91.8h7.9v1.3h-7.9zM468,92.7h8.1v1h-8.1zM480.5,92.7h9.5v0.7h-9.5zM467.9,94.1h6.7v1.3h-6.7zM484.8,95h9.4v1h-9.4zM473.6,95h9.9v0.7h-9.9zM491.4,96.5h2.8v0.7h-2.8zM490.2,104.5h4v1.3h-4zM470.9,107.9h9.3v0.7h-9.3zM466.6,107.9h8.2v1h-8.2zM486.5,110.8h7.7v0.7h-7.7zM467.4,112.1h9.1v1h-9.1zM479.1,113.6h6.7v0.7h-6.7zM466.6,113.6h5.4v0.7h-5.4zM471.6,117.6h11.7v1h-11.7zM480.6,120.6h12.2v1.3h-12.2zM466.6,121.5h10.5v1.3h-10.5zM474.6,122.8h11.1v1h-11.1zM468.7,124.1h3.2v1.3h-3.2zM466.6,125.2h8.7v1h-8.7z" fill="#73a36d" opacity="0.16"/>
<path d="M486.8,42.5h7.4v1h-7.4zM483.8,51.1h10.4v1h-10.4zM490.8,51.1h3.4v1h-3.4zM467.3,54.9h5.6v0.7h-5.6zM483,56.4h10.4v1h-10.4zM468.1,57.5h13.3v0.7h-13.3zM480.6,57.5h11v1.3h-11zM488.8,59.8h5.4v1h-5.4zM486.2,63.6h8v1h-8zM466.6,63.6h6.5v1.3h-6.5zM466.6,63.6h11.3v0.7h-11.3zM466.6,64.6h5.4v1h-5.4zM471.6,65.6h5.7v1.3h-5.7zM470.5,66.9h10.6v1h-10.6zM469.7,66.9h8.7v1.3h-8.7zM478.3,69.5h12v1h-12zM485.1,70.4h8.7v1h-8.7zM472.4,71.8h10.8v0.7h-10.8zM474.3,72.7h7.1v0.7h-7.1zM466.6,72.7h5.8v0.7h-5.8zM486.9,76.3h7.3v0.7h-7.3zM467.6,77.4h6.4v1h-6.4zM475.7,77.4h9.4v1.3h-9.4zM480.9,78.6h12.1v0.7h-12.1zM481.2,78.6h7.1v0.7h-7.1zM491.1,81.9h3.1v1.3h-3.1zM491.2,85.2h3v1h-3zM477.5,86.4h3.9v1h-3.9zM466.6,86.4h8.8v1h-8.8zM482.8,87.2h10.1v1h-10.1zM491.4,88.7h2.8v1.3h-2.8zM471,91.8h8.3v1h-8.3zM468.1,91.8h4.6v1.3h-4.6zM473.5,96.5h11.3v1h-11.3zM486.8,100.7h5v1.3h-5zM473.9,101.9h9.9v1.3h-9.9zM489.7,103.4h3.3v0.7h-3.3zM483.1,104.5h5.3v1h-5.3zM484.7,105.5h9.5v1h-9.5zM484.4,105.5h4.4v1.3h-4.4zM471.1,110.8h11.9v1h-11.9zM489.1,114.8h3.5v1.3h-3.5zM487.9,118.4h6.3v1.3h-6.3zM487.8,118.4h4.6v1h-4.6zM477.1,119.6h7.7v1.3h-7.7zM473.1,119.6h12.2v1h-12.2zM470.5,122.8h4.7v1h-4.7zM469.8,124.1h7.6v1h-7.6zM473.7,124.1h13v0.7h-13zM476.1,125.2h11.5v1.3h-11.5z" fill="#73a36d" opacity="0.29"/>
<path d="M480.2,42.5h7v1.3h-7zM488.8,42.5h5.1v1.3h-5.1zM469.2,44.9h6v0.7h-6zM490.4,47.8h3.8v0.7h-3.8zM480.6,48.7h13.6v1.3h-13.6zM466.6,51.1h2.4v1.3h-2.4zM487.8,51.1h6.4v1.3h-6.4zM488.3,54h5.9v1h-5.9zM492.1,54.9h2.1v1.3h-2.1zM466.6,56.4h9.2v1h-9.2zM480.6,59.8h10v1h-10zM466.6,60.9h3.7v0.7h-3.7zM472.3,60.9h14v1.3h-14zM466.6,62.3h8.1v0.7h-8.1zM469,64.6h9.8v1.3h-9.8zM472,68.1h5.1v0.7h-5.1zM487.8,69.5h6.4v1.3h-6.4zM476,70.4h12.7v1.3h-12.7zM484.8,70.4h8v0.7h-8zM475.6,70.4h10.2v1h-10.2zM486.6,71.8h7.6v1h-7.6zM468.1,73.7h6.3v0.7h-6.3zM480.5,76.3h12.4v0.7h-12.4zM485.7,76.3h4.1v1h-4.1zM491.5,78.6h2.7v1h-2.7zM487.7,79.9h4.7v0.7h-4.7zM477.8,84.3h7.9v1h-7.9zM466.6,87.2h8.8v1.3h-8.8zM490.5,87.2h3.7v0.7h-3.7zM473.5,89.6h6.6v1.3h-6.6zM471.6,90.7h7.9v1h-7.9zM467.8,91.8h12.3v1h-12.3zM466.6,94.1h3.4v0.7h-3.4zM484.9,95h4.9v1h-4.9zM481,95h3.2v1h-3.2zM466.6,96.5h10.6v1.3h-10.6zM466.6,96.5h4.1v1.3h-4.1zM485,99.2h9.2v0.7h-9.2zM483.8,100.7h8v1.3h-8zM478.8,101.9h8.1v0.7h-8.1zM481,103.4h5v1h-5zM489.9,104.5h4.3v0.7h-4.3zM490.9,104.5h3.3v0.7h-3.3zM479.8,105.5h8.3v1.3h-8.3zM487.3,106.6h6.9v0.7h-6.9zM481.1,106.6h9.9v1.3h-9.9zM486.3,109.4h7.9v1.3h-7.9zM488.3,110.8h5.9v1h-5.9zM489,112.1h5.2v1.3h-5.2zM485.6,113.6h8.6v1.3h-8.6zM477.2,113.6h13v1.3h-13zM482.8,114.8h6.9v1h-6.9zM466.6,114.8h3.1v1.3h-3.1zM472.9,114.8h11.9v1.3h-11.9zM477.4,116.3h8.6v1.3h-8.6zM466.6,118.4h3.6v1h-3.6zM479.6,119.6h3.6v0.7h-3.6zM466.6,120.6h9.4v0.7h-9.4zM466.6,121.5h7.4v1h-7.4zM476.8,121.5h3.2v1h-3.2zM485.8,125.2h8.4v1h-8.4zM488.3,125.2h3.9v0.7h-3.9z" fill="#73a36d" opacity="0.45"/>
<path d="M473.7,43.6h12.3v0.7h-12.3zM469.3,43.6h8.2v0.7h-8.2zM485.5,43.6h3.2v1.3h-3.2zM487.8,47.8h6.4v1h-6.4zM482.7,49.8h4v0.7h-4zM471,58.7h12v1h-12zM466.6,58.7h7.5v0.7h-7.5zM466.6,65.6h10.2v1h-10.2zM470.7,66.9h12.8v1h-12.8zM485.3,66.9h5.4v0.7h-5.4zM466.6,68.1h5.6v1h-5.6zM485.2,72.7h5.1v1h-5.1zM476,76.3h11v1.3h-11zM471.3,77.4h13.6v1.3h-13.6zM485.8,81h4.7v0.7h-4.7zM466.6,83.3h3.8v0.7h-3.8zM480.3,85.2h8.6v1.3h-8.6zM491.8,85.2h2.4v0.7h-2.4zM468.4,87.2h6.4v1h-6.4zM480.3,97.9h9.3v1h-9.3zM471.5,97.9h8.5v1.3h-8.5zM475.3,97.9h7.7v1h-7.7zM480.7,104.5h5.5v0.7h-5.5zM469.6,105.5h11.5v1h-11.5zM466.6,109.4h6.8v1h-6.8zM485.4,117.6h4.6v0.7h-4.6zM467.8,119.6h12.2v0.7h-12.2zM466.6,119.6h3.6v1.3h-3.6zM481.3,121.5h10.5v0.7h-10.5zM475.1,124.1h7.1v1h-7.1z" fill="#ffffff" opacity="0.15"/>
<path d="M477.8,43.6h10.8v1h-10.8zM482.9,44.9h6v1h-6zM473.9,46.5h5.4v0.7h-5.4zM466.6,49.8h7.6v0.7h-7.6zM466.6,49.8h7.5v0.7h-7.5zM466.6,52h8v1h-8zM467.8,56.4h3.2v1.3h-3.2zM481.3,58.7h7.6v1h-7.6zM489.4,75.1h4.1v0.7h-4.1zM488.6,75.1h5.6v1h-5.6zM475.2,75.1h7.2v1h-7.2zM466.6,78.6h11.9v1.3h-11.9zM483,81h11.2v1.3h-11.2zM467.8,84.3h5.5v0.7h-5.5zM485.4,85.2h8.8v0.7h-8.8zM475.9,86.4h9.5v1h-9.5zM470,88.7h13.9v0.7h-13.9zM483.8,88.7h10.4v0.7h-10.4zM484.1,90.7h9.5v1h-9.5zM466.6,91.8h6.3v0.7h-6.3zM473.5,96.5h13.9v1.3h-13.9zM480.5,97.9h3.8v1h-3.8zM490.5,97.9h3.7v1.3h-3.7zM483.2,99.2h10.3v1.3h-10.3zM479.9,101.9h12.1v0.7h-12.1zM467.5,103.4h3.5v0.7h-3.5zM466.6,105.5h2.1v1h-2.1zM467.9,116.3h10.2v0.7h-10.2zM481.7,116.3h11.6v1h-11.6zM481.9,121.5h12.3v1.3h-12.3zM484.4,122.8h8.1v0.7h-8.1zM471.7,122.8h3.1v0.7h-3.1zM483.5,122.8h4.4v0.7h-4.4zM480.8,124.1h5.4v0.7h-5.4z" fill="#ffffff" opacity="0.25"/>
<path d="M469.8,68.7H491.4v.6H469.8zM469.2,70.5H492.8v.6H469.2zM468.4,73.3H493.7v.6H468.4zM468.3,74.9H492.2v.6H468.3zM466.8,77.7H492.6v.6H466.8zM468.2,80H491.6v.6H468.2zM466.6,82.8H492.4v.6H466.6zM467,83.7H491.3v.6H467zM467,87.6H493.8v.6H467zM468.1,89.6H491.3v.6H468.1zM468.4,91.1H490.5v.6H468.4zM470.1,92.8H493.9v.6H470.1zM470.2,94.1H492.3v.6H470.2zM468.8,95H491.9v.6H468.8zM470.4,96.9H493.9v.6H470.4zM466.9,100.9H493.7v.6H466.9zM469.4,102.5H492.4v.6H469.4zM470.5,104H492.2v.6H470.5zM467.7,105.1H492.9v.6H467.7zM467.7,108H492.2v.6H467.7zM468.6,109H492.4v.6H468.6zM467.5,110.3H493v.6H467.5zM467.7,112H491.3v.6H467.7zM470.3,113.2H491.3v.6H470.3zM467.7,114.1H492.8v.6H467.7zM469.6,116H490.7v.6H469.6zM468.2,117.6H491.2v.6H468.2zM467.1,118.8H492v.6H467.1zM468.7,119.8H490.8v.6H468.7zM468.7,121.1H490.3v.6H468.7zM466.7,122.5H490.4v.6H466.7zM468.4,125.3H493.1v.6H468.4z" fill="#5f965a" opacity="0.22"/>
<polygon points="478.1,42.5 478.1,44.6 478.1,46.7 478.1,48.8 478.1,50.9 478.1,53 478.1,55.1 478.1,57.3 478.1,59.4 478.1,61.5 478.1,63.6 478.1,65.7 478.1,67.8 478.1,69.9 478.1,72 478.1,74.1 478.1,76.2 478.1,78.3 478.1,80.4 478.1,82.5 478.1,84.7 478.1,86.8 478.1,88.9 478.1,91 478.1,93.1 478.1,95.2 478.1,97.3 478.1,99.4 478.1,101.5 478.1,103.6 478.1,105.7 478.1,107.8 478.1,109.9 478.1,112 478.1,114.2 478.1,116.3 478.1,118.4 478.1,120.5 478.1,122.6 478.1,124.7 478.1,126.8 482.7,126.8 482.7,124.7 482.7,122.6 482.7,120.5 482.7,118.4 482.7,116.3 482.7,114.2 482.7,112 482.7,109.9 482.7,107.8 482.7,105.7 482.7,103.6 482.7,101.5 482.7,99.4 482.7,97.3 482.7,95.2 482.7,93.1 482.7,91 482.7,88.9 482.7,86.8 482.7,84.7 482.7,82.5 482.7,80.4 482.7,78.3 482.7,76.2 482.7,74.1 482.7,72 482.7,69.9 482.7,67.8 482.7,65.7 482.7,63.6 482.7,61.5 482.7,59.4 482.7,57.3 482.7,55.1 482.7,53 482.7,50.9 482.7,48.8 482.7,46.7 482.7,44.6 482.7,42.5" fill="url(#hb8)" opacity="0.35" filter="url(#hbl2)"/>
<polygon points="479.3,42.5 479.3,44.6 479.3,46.7 479.3,48.8 479.3,50.9 479.3,53 479.3,55.1 479.3,57.3 479.3,59.4 479.3,61.5 479.3,63.6 479.3,65.7 479.3,67.8 479.3,69.9 479.3,72 479.3,74.1 479.3,76.2 479.3,78.3 479.3,80.4 479.3,82.5 479.3,84.7 479.3,86.8 479.3,88.9 479.3,91 479.3,93.1 479.3,95.2 479.3,97.3 479.3,99.4 479.3,101.5 479.3,103.6 479.3,105.7 479.3,107.8 479.3,109.9 479.3,112 479.3,114.2 479.3,116.3 479.3,118.4 479.3,120.5 479.3,122.6 479.3,124.7 479.3,126.8 481.4,126.8 481.4,124.7 481.4,122.6 481.4,120.5 481.4,118.4 481.4,116.3 481.4,114.2 481.4,112 481.4,109.9 481.4,107.8 481.4,105.7 481.4,103.6 481.4,101.5 481.4,99.4 481.4,97.3 481.4,95.2 481.4,93.1 481.4,91 481.4,88.9 481.4,86.8 481.4,84.7 481.4,82.5 481.4,80.4 481.4,78.3 481.4,76.2 481.4,74.1 481.4,72 481.4,69.9 481.4,67.8 481.4,65.7 481.4,63.6 481.4,61.5 481.4,59.4 481.4,57.3 481.4,55.1 481.4,53 481.4,50.9 481.4,48.8 481.4,46.7 481.4,44.6 481.4,42.5" fill="url(#hb8)" opacity="1.0" filter="url(#hbl1)"/>
<polygon points="478.9,94.8 481.9,94.8 488.4,126.8 472.4,126.8" fill="url(#hb8s)" filter="url(#hbl2)"/>
<path d="M479.4,94.8H482.1v.7H479.4zM478.3,97.8H482.5v.7H478.3zM477.6,101.9H483v.7H477.6zM477.7,103.6H483.4v.7H477.7zM476.8,104.8H483.8v.7H476.8zM475.4,109H485v.7H475.4zM477.7,110.9H483.1v.7H477.7zM475.4,112.7H486.6v.7H475.4zM473.7,114.6H487.2v.7H473.7zM476,116.1H483.6v.7H476zM476.7,118.2H484.6v.7H476.7zM474.4,119.8H485.5v.7H474.4zM475,122.7H485.3v.7H475zM474.8,123.9H484.7v.7H474.8zM475.1,125H490.2v.7H475.1z" fill="#4a8f45" opacity="0.2"/>
<path d="M477,51.1h4.3v.7h-4.3zM480.3,56.2h2.3v.7h-2.3zM477.4,62.6h6.1v.7h-6.1zM476.4,71.7h4.2v.7h-4.2zM478.3,75h5v.7h-5zM475,81.3h6.6v.7h-6.6zM477.7,86.7h3.2v.7h-3.2zM477.9,93.8h4.2v.7h-4.2zM480,101.4h5.6v.7h-5.6zM478,103.6h6.4v.7h-6.4zM477.7,111.1h6.8v.7h-6.8zM479,120.7h6v.7h-6z" fill="#4a8f45" opacity="0.18"/>
<text x="368.3" y="133.5" font-size="7.8" textLength="92.5" lengthAdjust="spacingAndGlyphs" transform="rotate(-90 368.3 133.5)">Foxa1 and Hnf4g (mets) 2,931</text>
<text x="373" y="134.8" font-size="6.4" text-anchor="middle" fill="#444">–5</text>
<text x="386.3" y="134.8" font-size="6.4" text-anchor="middle" fill="#444">0</text>
<text x="399.5" y="134.8" font-size="6.4" text-anchor="middle" fill="#444">5</text>
<text x="407" y="134.8" font-size="6.4" text-anchor="middle" fill="#444">–5</text>
<text x="419.1" y="134.8" font-size="6.4" text-anchor="middle" fill="#444">0</text>
<text x="432" y="134.8" font-size="6.4" text-anchor="middle" fill="#444">5</text>
<text x="440" y="134.8" font-size="6.4" text-anchor="middle" fill="#444">–5</text>
<text x="450.9" y="134.8" font-size="6.4" text-anchor="middle" fill="#444">0</text>
<text x="461.5" y="134.8" font-size="6.4" text-anchor="middle" fill="#444">5</text>
<text x="469.5" y="134.8" font-size="6.4" text-anchor="middle" fill="#444">–5</text>
<text x="480.4" y="134.8" font-size="6.4" text-anchor="middle" fill="#444">0</text>
<text x="492" y="134.8" font-size="6.4" text-anchor="middle" fill="#444">5</text>
<text x="383.5" y="143.6" font-size="7.8" textLength="42.5" lengthAdjust="spacingAndGlyphs">Distance (kb)</text>
<text x="444.5" y="143.6" font-size="7.8" textLength="42.5" lengthAdjust="spacingAndGlyphs">Distance (kb)</text>
<line x1="371" y1="141.4" x2="383" y2="141.4" stroke="#777" stroke-width="0.6" stroke-dasharray="0.8 0.8"/>
<line x1="426.5" y1="141.4" x2="444" y2="141.4" stroke="#777" stroke-width="0.6" stroke-dasharray="0.8 0.8"/>
<line x1="487.5" y1="141.4" x2="495" y2="141.4" stroke="#777" stroke-width="0.6" stroke-dasharray="0.8 0.8"/>
<rect x="504.9" y="47.2" width="2.9" height="11" fill="url(#lgr)"/>
<rect x="504.9" y="63.7" width="2.9" height="11.3" fill="url(#lgg)"/>
<text x="502.6" y="49.7" font-size="6.4" text-anchor="end" fill="#444">21</text>
<text x="502.3" y="59.3" font-size="6.4" text-anchor="end" fill="#444">0</text>
<text x="502.6" y="65.9" font-size="6.4" text-anchor="end" fill="#444">11</text>
<text x="502.3" y="76" font-size="6.4" text-anchor="end" fill="#444">0</text>
<text x="519.3" y="11" font-size="12.5" fill="#111" font-weight="bold" stroke="#111" stroke-width="0.45">d</text>
<text x="566.7" y="16.3" font-size="7.8" textLength="94.6" lengthAdjust="spacingAndGlyphs">Upregulated genes found in</text>
<text x="589" y="25.5" font-size="7.8" textLength="49.5" lengthAdjust="spacingAndGlyphs">mets vs Tumor</text>
<rect x="544.4" y="34.2" width="135.3" height="91.9" fill="none" stroke="#555" stroke-width="0.7"/>
<line x1="542.4" y1="126.1" x2="544.4" y2="126.1" stroke="#555" stroke-width="0.6"/>
<text x="541" y="128.2" font-size="6.4" text-anchor="end" fill="#444">0</text>
<line x1="542.4" y1="103.1" x2="544.4" y2="103.1" stroke="#555" stroke-width="0.6"/>
<text x="541" y="105.2" font-size="6.4" text-anchor="end" fill="#444">10</text>
<line x1="542.4" y1="80.2" x2="544.4" y2="80.2" stroke="#555" stroke-width="0.6"/>
<text x="541" y="82.3" font-size="6.4" text-anchor="end" fill="#444">20</text>
<line x1="542.4" y1="57.2" x2="544.4" y2="57.2" stroke="#555" stroke-width="0.6"/>
<text x="541" y="59.4" font-size="6.4" text-anchor="end" fill="#444">30</text>
<line x1="542.4" y1="34.3" x2="544.4" y2="34.3" stroke="#555" stroke-width="0.6"/>
<text x="541" y="36.4" font-size="6.4" text-anchor="end" fill="#444">40</text>
<line x1="556.8" y1="126.1" x2="556.8" y2="128.1" stroke="#555" stroke-width="0.6"/>
<text x="556.8" y="133.6" font-size="6.4" text-anchor="middle" fill="#444">1</text>
<line x1="569.4" y1="126.1" x2="569.4" y2="128.1" stroke="#555" stroke-width="0.6"/>
<text x="569.4" y="133.6" font-size="6.4" text-anchor="middle" fill="#444">2</text>
<line x1="582.1" y1="126.1" x2="582.1" y2="128.1" stroke="#555" stroke-width="0.6"/>
<text x="582.1" y="133.6" font-size="6.4" text-anchor="middle" fill="#444">3</text>
<line x1="594.7" y1="126.1" x2="594.7" y2="128.1" stroke="#555" stroke-width="0.6"/>
<text x="594.7" y="133.6" font-size="6.4" text-anchor="middle" fill="#444">4</text>
<line x1="607.3" y1="126.1" x2="607.3" y2="128.1" stroke="#555" stroke-width="0.6"/>
<text x="607.3" y="133.6" font-size="6.4" text-anchor="middle" fill="#444">5</text>
<line x1="619.9" y1="126.1" x2="619.9" y2="128.1" stroke="#555" stroke-width="0.6"/>
<text x="619.9" y="133.6" font-size="6.4" text-anchor="middle" fill="#444">6</text>
<line x1="632.6" y1="126.1" x2="632.6" y2="128.1" stroke="#555" stroke-width="0.6"/>
<text x="632.6" y="133.6" font-size="6.4" text-anchor="middle" fill="#444">7</text>
<line x1="645.2" y1="126.1" x2="645.2" y2="128.1" stroke="#555" stroke-width="0.6"/>
<text x="645.2" y="133.6" font-size="6.4" text-anchor="middle" fill="#444">8</text>
<line x1="657.8" y1="126.1" x2="657.8" y2="128.1" stroke="#555" stroke-width="0.6"/>
<text x="657.8" y="133.6" font-size="6.4" text-anchor="middle" fill="#444">9</text>
<line x1="670.5" y1="126.1" x2="670.5" y2="128.1" stroke="#555" stroke-width="0.6"/>
<text x="670.5" y="133.6" font-size="6.4" text-anchor="middle" fill="#444">10</text>
<text x="570.7" y="145.8" font-size="7.8" textLength="86.7" lengthAdjust="spacingAndGlyphs">Distance from TSS (10 kb)</text>
<text x="526.2" y="126.5" font-size="7.8" textLength="92.5" lengthAdjust="spacingAndGlyphs" transform="rotate(-90 526.2 126.5)">% overlapping binding sites</text>
<polyline points="556.8,91.7 569.4,87.1 582.1,83.2 594.7,79.5 607.3,75.2 619.9,71 632.6,68 645.2,65.1 657.8,61.8 670.5,59.1" fill="none" stroke="#e8262b" stroke-width="1.3"/>
<polyline points="556.8,99.7 569.4,95.6 582.1,91.7 594.7,88.2 607.3,84.8 619.9,81.3 632.6,77.9 645.2,74.9 657.8,72.4 670.5,70.3" fill="none" stroke="#2745a8" stroke-width="1.3" stroke-dasharray="2.6 1.6"/>
<line x1="558.9" y1="116.9" x2="673.2" y2="84.6" stroke="#c8c8c8" stroke-width="1" stroke-dasharray="2.2 1.8"/>
<line x1="545.7" y1="39.4" x2="553.6" y2="39.4" stroke="#e8262b" stroke-width="1"/>
<line x1="545.7" y1="46.5" x2="553.6" y2="46.5" stroke="#2745a8" stroke-width="1"/>
<line x1="545.7" y1="53.3" x2="553.6" y2="53.3" stroke="#aaa" stroke-width="1"/>
<text x="556.8" y="42" font-size="6.4" fill="#444" textLength="108.5" lengthAdjust="spacingAndGlyphs">Proximity to regions found only in mets</text>
<text x="556.8" y="48.9" font-size="6.4" fill="#444" textLength="119" lengthAdjust="spacingAndGlyphs">Proximity to regions found in mets &amp; tumor</text>
<text x="556.8" y="55.7" font-size="6.4" fill="#444" textLength="43.3" lengthAdjust="spacingAndGlyphs">Constant genes</text>
<text x="0" y="170.4" font-size="12.5" fill="#111" font-weight="bold" stroke="#111" stroke-width="0.45">e</text>
<text x="48" y="173" font-size="7.8" textLength="94.5" lengthAdjust="spacingAndGlyphs">Binding sites in proximity to</text>
<text x="55.8" y="181.5" font-size="7.8" textLength="79.5" lengthAdjust="spacingAndGlyphs">upregulated transcripts</text>
<line x1="30.7" y1="187.5" x2="30.7" y2="274.4" stroke="#999" stroke-width="0.8"/>
<line x1="30.7" y1="274.4" x2="170" y2="274.4" stroke="#999" stroke-width="0.8"/>
<line x1="28.8" y1="191.8" x2="30.7" y2="191.8" stroke="#777" stroke-width="0.6"/>
<text x="27.5" y="193.9" font-size="6.4" text-anchor="end" fill="#444">0.2</text>
<line x1="28.8" y1="209.8" x2="30.7" y2="209.8" stroke="#777" stroke-width="0.6"/>
<text x="27.5" y="211.9" font-size="6.4" text-anchor="end" fill="#444">0.15</text>
<line x1="28.8" y1="230.6" x2="30.7" y2="230.6" stroke="#777" stroke-width="0.6"/>
<text x="27.5" y="232.7" font-size="6.4" text-anchor="end" fill="#444">0.1</text>
<line x1="28.8" y1="251.7" x2="30.7" y2="251.7" stroke="#777" stroke-width="0.6"/>
<text x="27.5" y="253.8" font-size="6.4" text-anchor="end" fill="#444">0.05</text>
<line x1="28.8" y1="272" x2="30.7" y2="272" stroke="#777" stroke-width="0.6"/>
<text x="27.5" y="274.1" font-size="6.4" text-anchor="end" fill="#444">0</text>
<line x1="38.1" y1="274.4" x2="38.1" y2="276.3" stroke="#777" stroke-width="0.6"/>
<text x="38.1" y="282.7" font-size="6.4" text-anchor="middle" fill="#444">–500</text>
<line x1="59.8" y1="274.4" x2="59.8" y2="276.3" stroke="#777" stroke-width="0.6"/>
<text x="59.8" y="282.7" font-size="6.4" text-anchor="middle" fill="#444">–300</text>
<line x1="86.7" y1="274.4" x2="86.7" y2="276.3" stroke="#777" stroke-width="0.6"/>
<text x="86.7" y="282.7" font-size="6.4" text-anchor="middle" fill="#444">–100</text>
<line x1="102.2" y1="274.4" x2="102.2" y2="276.3" stroke="#777" stroke-width="0.6"/>
<text x="102.2" y="282.7" font-size="6.4" text-anchor="middle" fill="#444">TSS</text>
<line x1="119.6" y1="274.4" x2="119.6" y2="276.3" stroke="#777" stroke-width="0.6"/>
<text x="119.6" y="282.7" font-size="6.4" text-anchor="middle" fill="#444">100</text>
<line x1="142.6" y1="274.4" x2="142.6" y2="276.3" stroke="#777" stroke-width="0.6"/>
<text x="142.6" y="282.7" font-size="6.4" text-anchor="middle" fill="#444">300</text>
<line x1="164.5" y1="274.4" x2="164.5" y2="276.3" stroke="#777" stroke-width="0.6"/>
<text x="164.5" y="282.7" font-size="6.4" text-anchor="middle" fill="#444">500</text>
<text x="78.6" y="295.2" font-size="7.8" textLength="43.8" lengthAdjust="spacingAndGlyphs">Distance (kb)</text>
<text x="8.2" y="263.7" font-size="7.8" textLength="66.5" lengthAdjust="spacingAndGlyphs" transform="rotate(-90 8.2 263.7)">Binding site density</text>
<polyline points="31,267.5 32.4,268.8 33.7,268.7 35.1,270.8 36.4,271 37.8,268.6 39.1,269.1 40.5,271.1 41.8,267.8 43.2,269.2 44.5,270.1 45.9,267.8 47.2,270.3 48.6,269.6 49.9,267.3 51.3,267.5 52.6,269.6 54,268.1 55.3,267.3 56.7,270.8 58,269.4 59.4,270.7 60.7,267.3 62.1,270.3 63.4,270.8 64.8,268.1 66.1,268.9 67.5,269.4 68.8,268.9 70.2,267.5 71.5,268.2 72.8,267.6 74.2,270.8 75.5,270.2 76.9,267.9 78.2,270.5 79.6,268.9 80.9,270.1 82.3,270.1 83.6,269.7 85,267.6 86.3,268.4 87.7,271.1 89,267.3 90.4,269.3 91.7,267.2 93.1,268.2 94.4,268.4 95.8,269.8 97.1,267.7 98.2,268 99.5,264 100.6,255.9 101.4,256.7 102.4,266 103.5,268 105.2,267.8 106.6,271.1 107.9,270.3 109.3,268.7 110.6,271.2 112,270.4 113.3,268.5 114.7,269.9 116,268 117.4,269.7 118.7,270.6 120.1,267.8 121.4,270.1 122.8,270.1 124.1,268.7 125.5,267.8 126.8,270.9 128.2,271 129.5,270 130.9,269.4 132.2,270.2 133.6,269.4 134.9,268 136.3,270.4 137.6,269.3 139,269.8 140.3,268.7 141.7,268 143,268.3 144.4,268.7 145.7,268.9 147.1,267.4 148.4,270.4 149.8,268.6 151.1,267.3 152.5,268 153.8,267.8 155.2,269 156.5,271.1 157.9,270.5 159.2,270.6 160.6,268.3 161.9,267.4 163.3,270.9 164.6,270 166,269.1 167.3,269.9 168.7,267.6" fill="none" stroke="#8c1c22" stroke-width="1.1" stroke-linejoin="round"/>
<polyline points="31,267.5 32.4,267.4 33.7,269.2 35.1,263.5 36.4,265.2 37.8,264.1 39.1,264.7 40.5,263.8 41.8,267.4 43.2,267.1 44.5,266.1 45.9,264 47.2,265.8 48.6,261.7 49.9,264.9 51.3,263.9 52.6,267.4 54,269.9 55.3,263.4 56.7,265 58,263.7 59.4,262.2 60.7,260.2 62.1,260.7 63.4,257.9 64.8,259.2 66.1,258.7 67.5,266.5 68.8,264.2 70.2,264.1 71.5,264 72.8,260.9 74.2,266.5 75.5,270.1 76.9,265.9 78.2,266.6 79.6,263.8 80.9,264.9 82.3,264.7 83.6,264.1 85,263.3 86.3,264.1 87.7,264.6 89,264.5 90.4,270.3 91.7,265.7 93.1,269.9 94.4,264.6 95.8,265.3 97.1,266 98.2,264 99.2,259.9 100,223.8 100.6,200.4 101.2,200.4 101.8,231.8 102.6,259.9 103.5,264.8 105.2,266.7 106.6,269.9 107.9,266.5 109.3,265.9 110.6,264.5 112,268.5 113.3,269.3 114.7,267.5 116,263 117.4,264.5 118.7,266.6 120.1,267.2 121.4,265.8 122.8,269.3 124.1,269 125.5,267.2 126.8,264.1 128.2,270.2 129.5,265.8 130.9,264.2 132.2,270.2 133.6,262.2 134.9,266.3 136.3,264.2 137.6,264.7 139,263.7 140.3,265.9 141.7,265.5 143,261 144.4,269.6 145.7,264.5 147.1,264.7 148.4,267.4 149.8,265.7 151.1,261.1 152.5,264.1 153.8,268.3 155.2,263 156.5,265.5 157.9,261.5 159.2,268.2 160.6,269.4 161.9,265 163.3,267.2 164.6,269 166,265.7 167.3,265 168.7,267.9" fill="none" stroke="#e3262d" stroke-width="1.1" stroke-linejoin="round"/>
<line x1="128.5" y1="196" x2="135.4" y2="196" stroke="#e3262d" stroke-width="1"/>
<line x1="128.5" y1="205.7" x2="135.4" y2="205.7" stroke="#8c1c22" stroke-width="1"/>
<text x="139.2" y="198.4" font-size="7.8" textLength="16.6" lengthAdjust="spacingAndGlyphs">Mets</text>
<text x="139.2" y="208.1" font-size="7.8" textLength="21.8" lengthAdjust="spacingAndGlyphs">Tumor</text>
<text x="181" y="170.5" font-size="12.5" fill="#111" font-weight="bold" stroke="#111" stroke-width="0.45">f</text>
<text x="210.7" y="178" font-size="7.8" textLength="107" lengthAdjust="spacingAndGlyphs">H3K27Ac versus FOXA1 binding</text>
<g clip-path="url(#clipf)">
<ellipse cx="262" cy="240" rx="80" ry="70" fill="url(#pg0)" opacity="1" transform="rotate(0 262 240)"/>
<ellipse cx="262" cy="245" rx="62" ry="52" fill="url(#pg2)" opacity="0.9" transform="rotate(0 262 245)"/>
<ellipse cx="262" cy="232" rx="46" ry="36" fill="url(#pg2)" opacity="1" transform="rotate(40 262 232)"/>
<ellipse cx="265" cy="235" rx="27" ry="17" fill="url(#pg1)" opacity="1" transform="rotate(38 265 235)"/>
<ellipse cx="270" cy="238" rx="13.5" ry="8.5" fill="url(#pg3)" opacity="1" transform="rotate(33 270 238)"/>
<path transform="scale(.1)" d="m2633 1572h0m541 134h0m-1004 26h0m497 60h0m-36 32h0m311 45h0m-277 16h0m-149 0h0m-105-27h0m588 53h0m-347-3h0m-144-4h0m157 28h0m-54 58h0m-13-7h0m-89-17h0m21-2h0m482 47h0m-239 20h0m-188 30h0m251-13h0m52-3h0m287 19h0m40 56h0m-286-19h0m-46 2h0m-59 15h0m-111 8h0m-50-1h0m-37-24h0m-152 3h0m-7 9h0m-54-2h0m-97-4h0m-200-5h0m414-22h0m218-7h0m45 5h0m313 20h0m198-12h0m-466 68h0m-34-7h0m-15 12h0m-4-26h0m-339 14h0m-177-9h0m277 50h0m36-8h0m185 2h0m500-11h0m72 65h0m-380 14h0m-140-4h0m-105-14h0m-26-7h0m-138 12h0m-223-45h0m68 21h0m53-23h0m26 10h0m110-9h0m78 11h0m46 12h0m241 45h0m-30 14h0m-21-8h0m-36-14h0m-140 13h0m-311-3h0m-45 17h0m-4 1h0m-184-17h0m-193 45h0m296-26h0m29 23h0m32-8h0m2 5h0m163-9h0m136 15h0m21-9h0m39-4h0m17 13h0m7-7h0m79 6h0m173-1h0m118-6h0m306 55h0m-180-7h0m-318 19h0m-101-20h0m-109-3h0m-68 18h0m-235-16h0m-24 0h0m-190-7h0m39-1h0m67 2h0m54-10h0m45 4h0m120-13h0m27 16h0m35-17h0m19-7h0m20 28h0m79-27h0m141 23h0m214 2h0m4-3h0m22-7h0m45-10h0m14 2h0m108 14h0m193 56h0m-310 10h0m-3-12h0m-282-14h0m-82 19h0m-103-19h0m-13 22h0m-60-23h0m-40 3h0m-21-5h0m-143 2h0m-140 20h0m-49-9h0m133 29h0m475 10h0m38 6h0m59-9h0m81-3h0m-40 67h0m-105-23h0m-107 24h0m-26-5h0m-99 7h0m-52-14h0m-111-38h0m35 23h0m210-15h0m80 3h0m41 10h0m4-3h0m77 3h0m170-11h0m-50 69h0m-85-1h0m-180-17h0m-143 4h0m-28 15h0m-78-20h0m-52 19h0m-237-6h0m78 33h0m109-9h0m274 15h0m26-25h0m394 88h0m-19-16h0m-143 12h0m-127-5h0m-22-19h0m-264 10h0m-31 4h0m-15-33h0m21-12h0m51 15h0m12 0h0m151 13h0m61-26h0m21 14h0m2 6h0m581 1h0m-407 51h0m-497-5h0m-134 15h0m190 20h0m27 13h0m32-20h0m128 8h0m64-16h0m71 30h0m43-13h0m144 1h0m59 10h0m199-7h0m99-9h0m-181 63h0m-371 12h0m-171-24h0m-103 12h0m-29-12h0m-265-19h0m181 12h0m215-14h0m29-9h0m102-1h0m81 4h0m137 75h0m-158-2h0m-452-10h0m-191 29h0m595 19h0m19-21h0m158 11h0m200-3h0m-435 53h0m-11 7h0m-132-15h0m325-11h0m11-6h0m-142 50h0m57 57h0m-193 54h0m-228-2h0m266 26h0m-31 7h0m-173 95h0m288-43h0m-75 108h0m208 193h0" stroke="#b592b3" stroke-width="6" stroke-linecap="square" fill="none" opacity="0.45"/>
</g>
<rect x="204.5" y="185.5" width="115.69999999999999" height="109.0" fill="none" stroke="#777" stroke-width="0.7"/>
<line x1="262.7" y1="185.5" x2="262.7" y2="294.5" stroke="#222" stroke-width="1" stroke-dasharray="1.6 1.4"/>
<line x1="204.5" y1="240.6" x2="320.2" y2="240.6" stroke="#222" stroke-width="1" stroke-dasharray="1.6 1.4"/>
<circle cx="276.2" cy="229.9" r="17.8" fill="none" stroke="#666" stroke-width="0.85" stroke-dasharray="0.9 0.9"/>
<line x1="202.5" y1="193.4" x2="204.5" y2="193.4" stroke="#666" stroke-width="0.6"/>
<text x="201.5" y="195.5" font-size="6.4" text-anchor="end" fill="#444">4</text>
<line x1="202.5" y1="207.6" x2="204.5" y2="207.6" stroke="#666" stroke-width="0.6"/>
<text x="201.5" y="209.7" font-size="6.4" text-anchor="end" fill="#444">3</text>
<line x1="202.5" y1="220.2" x2="204.5" y2="220.2" stroke="#666" stroke-width="0.6"/>
<text x="201.5" y="222.3" font-size="6.4" text-anchor="end" fill="#444">2</text>
<line x1="202.5" y1="233.9" x2="204.5" y2="233.9" stroke="#666" stroke-width="0.6"/>
<text x="201.5" y="236" font-size="6.4" text-anchor="end" fill="#444">1</text>
<line x1="202.5" y1="241.3" x2="204.5" y2="241.3" stroke="#666" stroke-width="0.6"/>
<text x="201.5" y="243.4" font-size="6.4" text-anchor="end" fill="#444">0</text>
<line x1="202.5" y1="254.2" x2="204.5" y2="254.2" stroke="#666" stroke-width="0.6"/>
<text x="201.5" y="256.3" font-size="6.4" text-anchor="end" fill="#444">–1</text>
<line x1="202.5" y1="268.6" x2="204.5" y2="268.6" stroke="#666" stroke-width="0.6"/>
<text x="201.5" y="270.7" font-size="6.4" text-anchor="end" fill="#444">–2</text>
<line x1="202.5" y1="282.8" x2="204.5" y2="282.8" stroke="#666" stroke-width="0.6"/>
<text x="201.5" y="284.9" font-size="6.4" text-anchor="end" fill="#444">–3</text>
<line x1="202.5" y1="293.5" x2="204.5" y2="293.5" stroke="#666" stroke-width="0.6"/>
<text x="201.5" y="295.6" font-size="6.4" text-anchor="end" fill="#444">–4</text>
<line x1="211" y1="294.5" x2="211" y2="296.5" stroke="#666" stroke-width="0.6"/>
<text x="211" y="305.3" font-size="6.4" text-anchor="middle" fill="#444">–4</text>
<line x1="226.6" y1="294.5" x2="226.6" y2="296.5" stroke="#666" stroke-width="0.6"/>
<text x="226.6" y="305.3" font-size="6.4" text-anchor="middle" fill="#444">–3</text>
<line x1="239.5" y1="294.5" x2="239.5" y2="296.5" stroke="#666" stroke-width="0.6"/>
<text x="239.5" y="305.3" font-size="6.4" text-anchor="middle" fill="#444">–2</text>
<line x1="253.1" y1="294.5" x2="253.1" y2="296.5" stroke="#666" stroke-width="0.6"/>
<text x="253.1" y="305.3" font-size="6.4" text-anchor="middle" fill="#444">–1</text>
<line x1="263" y1="294.5" x2="263" y2="296.5" stroke="#666" stroke-width="0.6"/>
<text x="263" y="305.3" font-size="6.4" text-anchor="middle" fill="#444">0</text>
<line x1="272.3" y1="294.5" x2="272.3" y2="296.5" stroke="#666" stroke-width="0.6"/>
<text x="272.3" y="305.3" font-size="6.4" text-anchor="middle" fill="#444">1</text>
<line x1="286.7" y1="294.5" x2="286.7" y2="296.5" stroke="#666" stroke-width="0.6"/>
<text x="286.7" y="305.3" font-size="6.4" text-anchor="middle" fill="#444">2</text>
<line x1="299" y1="294.5" x2="299" y2="296.5" stroke="#666" stroke-width="0.6"/>
<text x="299" y="305.3" font-size="6.4" text-anchor="middle" fill="#444">3</text>
<line x1="313.5" y1="294.5" x2="313.5" y2="296.5" stroke="#666" stroke-width="0.6"/>
<text x="313.5" y="305.3" font-size="6.4" text-anchor="middle" fill="#444">4</text>
<text x="211.5" y="274.7" font-size="7.8" textLength="39" lengthAdjust="spacingAndGlyphs">PCC = –0.14</text>
<text x="211.5" y="282.8" font-size="7.6"><tspan font-style="italic">P</tspan> = 8.23 × 10<tspan font-size="4.2" dy="-2.6">–107</tspan></text>
<text x="222.7" y="317.5" font-size="7.8" textLength="84.6" lengthAdjust="spacingAndGlyphs">Foxa1 T vs mets cell lines</text>
<text x="250.7" y="325" font-size="7" textLength="28.5" lengthAdjust="spacingAndGlyphs">log<tspan font-size="4.5" dy="1.6">2</tspan><tspan dy="-1.6"> (FC)</tspan></text>
<text x="190.5" y="296.5" font-size="7" transform="rotate(-90 190.5 296.5)" textLength="114" lengthAdjust="spacingAndGlyphs">H3K27Ac T vs M organoids (ref. <tspan font-size="4.2" dy="-2.5">10</tspan><tspan dy="2.5">)</tspan></text>
<text x="330.2" y="170.5" font-size="12.5" fill="#111" font-weight="bold" stroke="#111" stroke-width="0.45">g</text>
<text x="369.6" y="177.3" font-size="7.8" textLength="94.4" lengthAdjust="spacingAndGlyphs">H3K27Ac vs HNF4G binding</text>
<g clip-path="url(#clipg)">
<ellipse cx="414" cy="240" rx="70" ry="75" fill="url(#pg0)" opacity="1" transform="rotate(0 414 240)"/>
<ellipse cx="412" cy="242" rx="40" ry="62" fill="url(#pg2)" opacity="0.9" transform="rotate(0 412 242)"/>
<ellipse cx="411" cy="240" rx="21" ry="42" fill="url(#pg2)" opacity="1" transform="rotate(0 411 240)"/>
<ellipse cx="410.5" cy="240" rx="11.5" ry="27" fill="url(#pg1)" opacity="1" transform="rotate(0 410.5 240)"/>
<ellipse cx="410" cy="243" rx="7" ry="15" fill="url(#pg3)" opacity="1" transform="rotate(0 410 243)"/>
<path transform="scale(.1)" d="m3591 1753h0m1333 39h0m-952 7h0m138 28h0m157 74h0m-182-2h0m-181 33h0m329 17h0m96-15h0m189 14h0m476-2h0m-469 41h0m-60-2h0m-528 4h0m312-27h0m622 65h0m-709 11h0m-161-19h0m-26-8h0m139 30h0m261 25h0m21 3h0m22-14h0m-134 73h0m-403-18h0m107-23h0m74 13h0m220-19h0m135 9h0m227 6h0m55-16h0m264 20h0m-661 47h0m-125 13h0m-359-5h0m-157 3h0m-49 5h0m4-1h0m327 10h0m221-12h0m5 8h0m42 1h0m144 16h0m99-24h0m54-1h0m99 62h0m-240-2h0m-64 16h0m-2 12h0m-31-23h0m-29 15h0m-82-14h0m-72 7h0m-599-32h0m309 6h0m271-2h0m85 2h0m63-10h0m49 10h0m253-2h0m-32 58h0m-315-5h0m-43 9h0m-59 4h0m-32 4h0m-14-25h0m-14 20h0m-142-12h0m-64 8h0m34 40h0m66-24h0m60 17h0m217-19h0m89 14h0m67 10h0m30-12h0m205-10h0m20 18h0m10 7h0m315 40h0m-182-1h0m-349 3h0m-64-8h0m-95 12h0m-70-12h0m-27 16h0m-16-14h0m-19 25h0m-105-1h0m-137-24h0m-5 3h0m8-35h0m135 10h0m50 8h0m528 44h0m-193 13h0m-80-1h0m-9 9h0m-68 3h0m-90 3h0m-10-16h0m-99 16h0m-44-27h0m-69 22h0m-130-24h0m-96 1h0m-51 9h0m72 49h0m296-10h0m29 8h0m137-4h0m312 4h0m24-8h0m48 0h0m218-16h0m-306 57h0m-294 20h0m-6 5h0m-416 1h0m-501-10h0m631-40h0m32 15h0m102-21h0m86 6h0m9 12h0m9 8h0m232-18h0m50-6h0m31 15h0m133-13h0m577 19h0m-297 58h0m-343-8h0m-58 2h0m-18 9h0m-3-9h0m-12-5h0m-13 2h0m-97 12h0m0-22h0m-75 8h0m-307 15h0m-189-9h0m10 16h0m134-2h0m145 20h0m59 0h0m211-1h0m23-9h0m342 2h0m539 59h0m-284 9h0m-461 6h0m-47 1h0m-28-23h0m-48-3h0m-210 6h0m-660-21h0m280 2h0m212-14h0m44-3h0m22 7h0m195 21h0m100-1h0m137-17h0m7 4h0m29 69h0m-222-7h0m-10-2h0m-23 1h0m-91 6h0m-16-18h0m-118 15h0m-51 6h0m-212-5h0m-114 10h0m214 3h0m31 6h0m51-6h0m84 10h0m108 0h0m234-7h0m342 17h0m116-5h0m-557 52h0m-269 16h0m-41-22h0m-12 12h0m-17-32h0m183 11h0m230-8h0m328-11h0m-31 73h0m-104-19h0m-51 17h0m-176 1h0m-49 2h0m-59 7h0m-1-26h0m-31 2h0m-301 14h0m298 32h0m198-16h0m153 22h0m22-11h0m127 64h0m-117-13h0m-223 14h0m-605-29h0m1240 2h0m-767 68h0m41 5h0m-151 72h0m-175-13h0m551-26h0m27 11h0m326-19h0m-766 75h0m426 28h0m-375 197h0" stroke="#b592b3" stroke-width="6" stroke-linecap="square" fill="none" opacity="0.45"/>
</g>
<rect x="353.6" y="185.5" width="122.39999999999998" height="108.89999999999998" fill="none" stroke="#777" stroke-width="0.7"/>
<line x1="413.4" y1="185.5" x2="413.4" y2="294.4" stroke="#222" stroke-width="1" stroke-dasharray="1.6 1.4"/>
<line x1="353.6" y1="239.6" x2="476" y2="239.6" stroke="#222" stroke-width="1" stroke-dasharray="1.6 1.4"/>
<circle cx="416.8" cy="243.1" r="18.6" fill="none" stroke="#666" stroke-width="0.85" stroke-dasharray="0.9 0.9"/>
<line x1="351.6" y1="189.7" x2="353.6" y2="189.7" stroke="#666" stroke-width="0.6"/>
<text x="350.6" y="191.8" font-size="6.4" text-anchor="end" fill="#444">4</text>
<line x1="351.6" y1="204.1" x2="353.6" y2="204.1" stroke="#666" stroke-width="0.6"/>
<text x="350.6" y="206.2" font-size="6.4" text-anchor="end" fill="#444">3</text>
<line x1="351.6" y1="216.5" x2="353.6" y2="216.5" stroke="#666" stroke-width="0.6"/>
<text x="350.6" y="218.6" font-size="6.4" text-anchor="end" fill="#444">2</text>
<line x1="351.6" y1="230.7" x2="353.6" y2="230.7" stroke="#666" stroke-width="0.6"/>
<text x="350.6" y="232.8" font-size="6.4" text-anchor="end" fill="#444">1</text>
<line x1="351.6" y1="239.4" x2="353.6" y2="239.4" stroke="#666" stroke-width="0.6"/>
<text x="350.6" y="241.5" font-size="6.4" text-anchor="end" fill="#444">0</text>
<line x1="351.6" y1="251.3" x2="353.6" y2="251.3" stroke="#666" stroke-width="0.6"/>
<text x="350.6" y="253.4" font-size="6.4" text-anchor="end" fill="#444">–1</text>
<line x1="351.6" y1="265.4" x2="353.6" y2="265.4" stroke="#666" stroke-width="0.6"/>
<text x="350.6" y="267.5" font-size="6.4" text-anchor="end" fill="#444">–2</text>
<line x1="351.6" y1="280.3" x2="353.6" y2="280.3" stroke="#666" stroke-width="0.6"/>
<text x="350.6" y="282.4" font-size="6.4" text-anchor="end" fill="#444">–3</text>
<line x1="351.6" y1="292.2" x2="353.6" y2="292.2" stroke="#666" stroke-width="0.6"/>
<text x="350.6" y="294.3" font-size="6.4" text-anchor="end" fill="#444">–4</text>
<line x1="366" y1="294.4" x2="366" y2="296.4" stroke="#666" stroke-width="0.6"/>
<text x="366" y="305.3" font-size="6.4" text-anchor="middle" fill="#444">–4</text>
<line x1="380.6" y1="294.4" x2="380.6" y2="296.4" stroke="#666" stroke-width="0.6"/>
<text x="380.6" y="305.3" font-size="6.4" text-anchor="middle" fill="#444">–3</text>
<line x1="393" y1="294.4" x2="393" y2="296.4" stroke="#666" stroke-width="0.6"/>
<text x="393" y="305.3" font-size="6.4" text-anchor="middle" fill="#444">–2</text>
<line x1="407" y1="294.4" x2="407" y2="296.4" stroke="#666" stroke-width="0.6"/>
<text x="407" y="305.3" font-size="6.4" text-anchor="middle" fill="#444">–1</text>
<line x1="417" y1="294.4" x2="417" y2="296.4" stroke="#666" stroke-width="0.6"/>
<text x="417" y="305.3" font-size="6.4" text-anchor="middle" fill="#444">0</text>
<line x1="424.3" y1="294.4" x2="424.3" y2="296.4" stroke="#666" stroke-width="0.6"/>
<text x="424.3" y="305.3" font-size="6.4" text-anchor="middle" fill="#444">1</text>
<line x1="438.5" y1="294.4" x2="438.5" y2="296.4" stroke="#666" stroke-width="0.6"/>
<text x="438.5" y="305.3" font-size="6.4" text-anchor="middle" fill="#444">2</text>
<line x1="451.3" y1="294.4" x2="451.3" y2="296.4" stroke="#666" stroke-width="0.6"/>
<text x="451.3" y="305.3" font-size="6.4" text-anchor="middle" fill="#444">3</text>
<line x1="466.2" y1="294.4" x2="466.2" y2="296.4" stroke="#666" stroke-width="0.6"/>
<text x="466.2" y="305.3" font-size="6.4" text-anchor="middle" fill="#444">4</text>
<text x="360.6" y="274.7" font-size="7.8" textLength="52" lengthAdjust="spacingAndGlyphs">PCC = 0.00095</text>
<text x="360.6" y="282.8" font-size="7.6"><tspan font-style="italic">P</tspan> = 0.84</text>
<text x="371.7" y="317.5" font-size="7.8" textLength="86.6" lengthAdjust="spacingAndGlyphs">Hnf4g T vs mets cell lines</text>
<text x="400.2" y="325" font-size="7" textLength="29" lengthAdjust="spacingAndGlyphs">log<tspan font-size="4.5" dy="1.6">2</tspan><tspan dy="-1.6"> (FC)</tspan></text>
<text x="338.5" y="296.5" font-size="7" transform="rotate(-90 338.5 296.5)" textLength="114" lengthAdjust="spacingAndGlyphs">H3K27Ac T vs M organoids (ref. <tspan font-size="4.2" dy="-2.5">10</tspan><tspan dy="2.5">)</tspan></text>
<text x="481.5" y="170" font-size="12.5" fill="#111" font-weight="bold" stroke="#111" stroke-width="0.45">h</text>
<text x="511.5" y="170.6" font-size="7.8" textLength="171" lengthAdjust="spacingAndGlyphs">HNF4G and FOXA1-specific long loops in proximity</text>
<text x="552.7" y="178.7" font-size="7.8" textLength="88.9" lengthAdjust="spacingAndGlyphs">to upregulated transcripts</text>
<line x1="510.7" y1="183" x2="510.7" y2="292.5" stroke="#999" stroke-width="0.8"/>
<line x1="510.7" y1="292.5" x2="684" y2="292.5" stroke="#999" stroke-width="0.8"/>
<line x1="508.8" y1="188.6" x2="510.7" y2="188.6" stroke="#777" stroke-width="0.6"/>
<text x="507.4" y="190.7" font-size="6.4" text-anchor="end" fill="#444">800</text>
<line x1="508.8" y1="202.7" x2="510.7" y2="202.7" stroke="#777" stroke-width="0.6"/>
<text x="507.4" y="204.8" font-size="6.4" text-anchor="end" fill="#444">700</text>
<line x1="508.8" y1="217.5" x2="510.7" y2="217.5" stroke="#777" stroke-width="0.6"/>
<text x="507.4" y="219.6" font-size="6.4" text-anchor="end" fill="#444">600</text>
<line x1="508.8" y1="232.6" x2="510.7" y2="232.6" stroke="#777" stroke-width="0.6"/>
<text x="507.4" y="234.7" font-size="6.4" text-anchor="end" fill="#444">500</text>
<line x1="508.8" y1="251.2" x2="510.7" y2="251.2" stroke="#777" stroke-width="0.6"/>
<text x="507.4" y="253.3" font-size="6.4" text-anchor="end" fill="#444">400</text>
<line x1="508.8" y1="267.2" x2="510.7" y2="267.2" stroke="#777" stroke-width="0.6"/>
<text x="507.4" y="269.3" font-size="6.4" text-anchor="end" fill="#444">300</text>
<line x1="508.8" y1="283.1" x2="510.7" y2="283.1" stroke="#777" stroke-width="0.6"/>
<text x="507.4" y="285.2" font-size="6.4" text-anchor="end" fill="#444">200</text>
<text x="514.4" y="301.3" font-size="6.4" text-anchor="middle" fill="#444">–500</text>
<text x="529.6" y="301.3" font-size="6.4" text-anchor="middle" fill="#444">–400</text>
<text x="547.3" y="301.3" font-size="6.4" text-anchor="middle" fill="#444">–300</text>
<text x="563.8" y="301.3" font-size="6.4" text-anchor="middle" fill="#444">–200</text>
<text x="580.3" y="301.3" font-size="6.4" text-anchor="middle" fill="#444">–100</text>
<text x="598.2" y="301.3" font-size="6.4" text-anchor="middle" fill="#444">TSS</text>
<text x="614.7" y="301.3" font-size="6.4" text-anchor="middle" fill="#444">100</text>
<text x="631.7" y="301.3" font-size="6.4" text-anchor="middle" fill="#444">200</text>
<text x="649.1" y="301.3" font-size="6.4" text-anchor="middle" fill="#444">300</text>
<text x="661.3" y="301.3" font-size="6.4" text-anchor="middle" fill="#444">400</text>
<text x="677.3" y="301.3" font-size="6.4" text-anchor="middle" fill="#444">500</text>
<text x="574.5" y="313.2" font-size="7.8" textLength="44.2" lengthAdjust="spacingAndGlyphs">Distance (kb)</text>
<text x="490.3" y="260.7" font-size="7.8" textLength="45" lengthAdjust="spacingAndGlyphs" transform="rotate(-90 490.3 260.7)">Loop density</text>
<polyline points="514.2,286.8 514.9,286.6 515.6,286.3 516.3,285.9 517,285.5 517.7,285.2 518.4,285.1 519.1,285.2 519.9,285.6 520.6,286.1 521.3,286.8 522,287.6 522.7,288.5 523.4,289.1 524.1,289.6 524.8,289.9 525.5,289.8 526.2,289.4 526.9,288.8 527.6,288 528.3,287.2 529,286.5 529.7,285.8 530.4,285.4 531.2,285.2 531.9,285.2 532.6,285.4 533.3,285.7 534,286 534.7,286.3 535.4,286.5 536.1,286.5 536.8,286.4 537.5,286.1 538.2,285.8 538.9,285.6 539.6,285.4 540.3,285.4 541,285.7 541.7,286.1 542.5,286.6 543.2,287.3 543.9,288 544.6,288.6 545.3,289.1 546,289.3 546.7,289.3 547.4,289 548.1,288.4 548.8,287.8 549.5,287.1 550.2,286.4 550.9,285.9 551.6,285.6 552.3,285.5 553,285.6 553.8,285.9 554.5,286.4 555.2,286.9 555.9,287.4 556.6,287.8 557.3,288.1 558,288.2 558.7,288.2 559.4,288.1 560.1,288 560.8,287.9 561.5,287.9 562.2,288.1 562.9,288.4 563.6,288.8 564.3,289.2 565.1,289.7 565.8,290.1 566.5,290.3 567.2,290.2 567.9,289.9 568.6,289.4 569.3,288.6 570,287.7 570.7,286.7 571.4,285.8 572.1,285.1 572.8,284.6 573.5,284.4 574.2,284.4 574.9,284.7 575.6,285.2 576.4,285.8 577.1,286.3 577.8,286.8 578.5,287.2 579.2,287.4 579.9,287.5 580.6,287.4 581.3,287.3 582,287.2 582.7,287.2 583.4,287.3 584.1,287.5 584.8,287.8 585.5,288.2 586.2,288.7 586.9,289.1 587.7,289.4 588.4,289.5 589.1,289.4 589.8,289 590.5,288.5 591.2,287.8 591.9,287.1 592.6,286.4 593.3,285.7 594,284.4 594.7,281.4 595.4,275.2 596.1,264.4 596.8,250.5 597.5,237.7 598.2,232 599,236.4 599.7,248.6 600.4,263.4 601.1,275.5 601.8,283 602.5,286.5 603.2,287.6 603.9,287.7 604.6,287.5 605.3,287.3 606,287.2 606.7,287.2 607.4,287.3 608.1,287.4 608.8,287.5 609.5,287.4 610.3,287.2 611,286.8 611.7,286.3 612.4,285.8 613.1,285.2 613.8,284.7 614.5,284.4 615.2,284.4 615.9,284.6 616.6,285 617.3,285.8 618,286.6 618.7,287.6 619.4,288.5 620.1,289.3 620.8,289.9 621.6,290.2 622.3,290.2 623,290.1 623.7,289.7 624.4,289.2 625.1,288.8 625.8,288.3 626.5,288 627.2,287.9 627.9,287.9 628.6,287.9 629.3,288.1 630,288.1 630.7,288.1 631.4,287.9 632.1,287.6 632.9,287 633.6,286.3 634.3,285.4 635,284.6 635.7,283.8 636.4,283.2 637.1,282.8 637.8,282.6 638.5,282.8 639.2,283.2 639.9,283.8 640.6,284.5 641.3,285.3 642,285.9 642.7,286.4 643.4,286.6 644.2,286.6 644.9,286.5 645.6,286.2 646.3,285.8 647,285.5 647.7,285.3 648.4,285.2 649.1,285.3 649.8,285.6 650.5,286 651.2,286.4 651.9,286.8 652.6,287.1 653.3,287.3 654,287.4 654.7,287.3 655.5,287.2 656.2,287.1 656.9,287 657.6,287.1 658.3,287.4 659,287.8 659.7,288.4 660.4,289 661.1,289.7 661.8,290.3 662.5,290.7 663.2,290.9 663.9,290.8 664.6,290.4 665.3,289.8 666,289 666.8,288.1 667.5,287.2 668.2,286.3 668.9,285.7 669.6,285.3 670.3,285.2 671,285.3 671.7,285.6 672.4,285.9 673.1,286.3 673.8,286.6 674.5,286.8 675.2,286.9 675.9,286.9 676.6,286.8 677.3,286.6 678.1,286.4 678.8,286.4 679.5,286.5 680.2,286.8 680.9,287.2 681.6,287.7 682.3,288.2 683,288.8" fill="none" stroke="#40c07a" stroke-width="1.2" stroke-linejoin="round"/>
<polyline points="514.2,281 514.9,280.7 515.6,280.8 516.3,281.2 517,281.8 517.7,282.6 518.4,283.4 519.1,284.2 519.9,284.9 520.6,285.5 521.3,285.8 522,285.9 522.7,285.8 523.4,285.7 524.1,285.6 524.8,285.6 525.5,285.6 526.2,285.8 526.9,286.1 527.6,286.5 528.3,286.9 529,287.1 529.7,287.2 530.4,287.1 531.2,286.7 531.9,286.1 532.6,285.2 533.3,284.3 534,283.4 534.7,282.6 535.4,282 536.1,281.7 536.8,281.6 537.5,281.9 538.2,282.5 538.9,283.2 539.6,284 540.3,284.7 541,285.3 541.7,285.6 542.5,285.7 543.2,285.6 543.9,285.3 544.6,284.9 545.3,284.4 546,284 546.7,283.8 547.4,283.7 548.1,283.7 548.8,283.9 549.5,284.2 550.2,284.5 550.9,284.7 551.6,284.7 552.3,284.6 553,284.3 553.8,283.9 554.5,283.4 555.2,282.9 555.9,282.5 556.6,282.3 557.3,282.4 558,282.8 558.7,283.4 559.4,284.3 560.1,285.2 560.8,286.2 561.5,287.1 562.2,287.8 562.9,288.2 563.6,288.3 564.3,288 565.1,287.5 565.8,286.8 566.5,286.1 567.2,285.3 567.9,284.6 568.6,284.1 569.3,283.7 570,283.4 570.7,283.2 571.4,283 572.1,282.7 572.8,282.2 573.5,281.5 574.2,280.6 574.9,279.6 575.6,278.5 576.4,277.6 577.1,276.9 577.8,276.5 578.5,276.6 579.2,277.1 579.9,278.1 580.6,279.4 581.3,280.9 582,282.4 582.7,283.9 583.4,285 584.1,285.9 584.8,286.3 585.5,286.3 586.2,286.1 586.9,285.5 587.7,284.9 588.4,284.3 589.1,283.8 589.8,283.4 590.5,283.3 591.2,283.4 591.9,283.7 592.6,284 593.3,283.9 594,282.8 594.7,279 595.4,270.9 596.1,257.3 596.8,239.9 597.5,224.4 598.2,217.5 599,222.7 599.7,237.2 600.4,254.6 601.1,268.9 601.8,278.2 602.5,283.1 603.2,285.4 603.9,286.5 604.6,287 605.3,287 606,286.8 606.7,286.2 607.4,285.4 608.1,284.4 608.8,283.3 609.5,282.4 610.3,281.6 611,281.1 611.7,280.9 612.4,281 613.1,281.3 613.8,281.9 614.5,282.5 615.2,283.2 615.9,283.7 616.6,284.1 617.3,284.4 618,284.5 618.7,284.5 619.4,284.4 620.1,284.4 620.8,284.5 621.6,284.7 622.3,285.1 623,285.6 623.7,286.1 624.4,286.6 625.1,287 625.8,287 626.5,286.6 627.2,285.8 627.9,284.5 628.6,282.8 629.3,280.9 630,278.9 630.7,277.2 631.4,276 632.1,275.4 632.9,275.5 633.6,276.4 634.3,277.7 635,279.3 635.7,281 636.4,282.6 637.1,283.8 637.8,284.7 638.5,285.2 639.2,285.3 639.9,285.2 640.6,284.9 641.3,284.5 642,284.2 642.7,284 643.4,283.9 644.2,284 644.9,284.2 645.6,284.5 646.3,284.7 647,284.9 647.7,284.9 648.4,284.7 649.1,284.3 649.8,283.8 650.5,283.1 651.2,282.4 651.9,281.9 652.6,281.5 653.3,281.4 654,281.7 654.7,282.2 655.5,283 656.2,284 656.9,285 657.6,286 658.3,286.7 659,287.3 659.7,287.4 660.4,287.2 661.1,286.7 661.8,285.8 662.5,284.8 663.2,283.7 663.9,282.6 664.6,281.8 665.3,281.3 666,281.1 666.8,281.3 667.5,281.7 668.2,282.3 668.9,282.8 669.6,283.1 670.3,283.2 671,283 671.7,282.6 672.4,282.2 673.1,281.7 673.8,281.3 674.5,281.2 675.2,281.4 675.9,281.8 676.6,282.4 677.3,283.3 678.1,284.2 678.8,285.1 679.5,285.8 680.2,286.3 680.9,286.5 681.6,286.4 682.3,286 683,285.5" fill="none" stroke="#17793a" stroke-width="1.2" stroke-linejoin="round"/>
<polyline points="514.2,281.1 514.9,281.1 515.6,280.8 516.3,280.1 517,279.2 517.7,278.1 518.4,276.9 519.1,275.7 519.9,274.6 520.6,273.9 521.3,273.5 522,273.6 522.7,274.1 523.4,274.8 524.1,275.8 524.8,276.9 525.5,277.9 526.2,278.8 526.9,279.4 527.6,279.7 528.3,279.8 529,279.7 529.7,279.5 530.4,279.3 531.2,279.1 531.9,279.1 532.6,279.3 533.3,279.6 534,280.1 534.7,280.5 535.4,280.9 536.1,281.1 536.8,281 537.5,280.7 538.2,280.1 538.9,279.3 539.6,278.3 540.3,277.4 541,276.6 541.7,276.1 542.5,275.9 543.2,276.1 543.9,276.6 544.6,277.4 545.3,278.3 546,279.3 546.7,280.2 547.4,280.9 548.1,281.2 548.8,281.2 549.5,280.9 550.2,280.3 550.9,279.6 551.6,278.8 552.3,278 553,277.5 553.8,277.1 554.5,277 555.2,277 555.9,277.2 556.6,277.4 557.3,277.6 558,277.6 558.7,277.5 559.4,277.2 560.1,276.7 560.8,276.2 561.5,275.6 562.2,275.3 562.9,275.2 563.6,275.4 564.3,276 565.1,276.9 565.8,278 566.5,279.3 567.2,280.6 567.9,281.7 568.6,282.6 569.3,283.1 570,283.2 570.7,282.9 571.4,282.3 572.1,281.4 572.8,280.4 573.5,279.4 574.2,278.5 574.9,277.7 575.6,277.1 576.4,276.6 577.1,276.1 577.8,275.5 578.5,274.8 579.2,274 579.9,272.9 580.6,271.7 581.3,270.5 582,269.4 582.7,268.6 583.4,268.1 584.1,268.2 584.8,268.8 585.5,269.9 586.2,271.4 586.9,273.2 587.7,275 588.4,276.8 589.1,278.3 589.8,279.5 590.5,280.2 591.2,280.3 591.9,280 592.6,279.3 593.3,278 594,275.8 594.7,271.6 595.4,263.6 596.1,250.7 596.8,234.4 597.5,219.6 598.2,213 599,218 599.7,232.2 600.4,249.3 601.1,263.4 601.8,272.4 602.5,276.9 603.2,278.6 603.9,279.1 604.6,279.1 605.3,279 606,279.1 606.7,279.3 607.4,279.7 608.1,280.3 608.8,280.8 609.5,281 610.3,280.9 611,280.3 611.7,279.1 612.4,277.4 613.1,275.6 613.8,274 614.5,272.8 615.2,272.2 615.9,272.1 616.6,272.3 617.3,272.7 618,273.2 618.7,273.8 619.4,274.5 620.1,275.3 620.8,276.2 621.6,277 622.3,277.6 623,278.1 623.7,278.3 624.4,278.2 625.1,277.9 625.8,277.5 626.5,276.8 627.2,276.1 627.9,275.3 628.6,274.6 629.3,273.9 630,273.3 630.7,273 631.4,272.9 632.1,273.2 632.9,273.6 633.6,274.2 634.3,274.7 635,275.1 635.7,275.3 636.4,275.4 637.1,275.4 637.8,275.3 638.5,275.4 639.2,275.7 639.9,276.3 640.6,277.1 641.3,278.1 642,279.1 642.7,280 643.4,280.8 644.2,281.3 644.9,281.4 645.6,281.3 646.3,280.9 647,280.3 647.7,279.6 648.4,279 649.1,278.5 649.8,278.2 650.5,278.1 651.2,278.2 651.9,278.3 652.6,278.4 653.3,278.5 654,278.4 654.7,278 655.5,277.5 656.2,276.7 656.9,275.9 657.6,275 658.3,274.2 659,273.6 659.7,273.2 660.4,273.1 661.1,273.2 661.8,273.5 662.5,274 663.2,274.7 663.9,275.4 664.6,276.1 665.3,276.9 666,277.6 666.8,278.1 667.5,278.5 668.2,278.8 668.9,278.8 669.6,278.8 670.3,278.7 671,278.7 671.7,278.7 672.4,278.9 673.1,279.1 673.8,279.4 674.5,279.5 675.2,279.6 675.9,279.4 676.6,279 677.3,278.5 678.1,277.8 678.8,277.1 679.5,276.4 680.2,276 680.9,275.8 681.6,276 682.3,276.4 683,277.2" fill="none" stroke="#8e1f25" stroke-width="1.2" stroke-linejoin="round"/>
<polyline points="514.2,269.4 514.9,269.8 515.6,270.3 516.3,270.6 517,270.8 517.7,270.8 518.4,270.6 519.1,270.3 519.9,269.9 520.6,269.5 521.3,269.2 522,269 522.7,269 523.4,269.3 524.1,269.8 524.8,270.4 525.5,271.1 526.2,271.7 526.9,272 527.6,272.1 528.3,271.7 529,271 529.7,270 530.4,268.9 531.2,267.6 531.9,266.5 532.6,265.6 533.3,265 534,264.8 534.7,264.9 535.4,265.3 536.1,265.8 536.8,266.4 537.5,267 538.2,267.4 538.9,267.6 539.6,267.6 540.3,267.5 541,267.3 541.7,267.2 542.5,267.3 543.2,267.6 543.9,268.2 544.6,269.1 545.3,270.2 546,271.3 546.7,272.4 547.4,273.3 548.1,273.9 548.8,274.1 549.5,273.8 550.2,273 550.9,271.9 551.6,270.5 552.3,269.1 553,267.8 553.8,266.7 554.5,265.9 555.2,265.5 555.9,265.5 556.6,265.8 557.3,266.4 558,267 558.7,267.5 559.4,267.9 560.1,268.1 560.8,268.1 561.5,267.9 562.2,267.5 562.9,267.2 563.6,266.9 564.3,266.9 565.1,267 565.8,267.5 566.5,268.1 567.2,268.9 567.9,269.7 568.6,270.3 569.3,270.7 570,270.8 570.7,270.5 571.4,269.8 572.1,268.8 572.8,267.5 573.5,266.2 574.2,264.8 574.9,263.5 575.6,262.4 576.4,261.5 577.1,260.8 577.8,260.6 578.5,260.6 579.2,261.1 579.9,261.9 580.6,263 581.3,264.3 582,265.6 582.7,266.8 583.4,267.7 584.1,268.4 584.8,268.8 585.5,269 586.2,269.1 586.9,269 587.7,268.6 588.4,267.9 589.1,266.7 589.8,264.9 590.5,262.9 591.2,261 591.9,259.7 592.6,259 593.3,258.7 594,257.9 594.7,254.6 595.4,246.2 596.1,231.3 596.8,211.6 597.5,193.6 598.2,185.5 599,191.8 599.7,209.6 600.4,231.1 601.1,249 601.8,260.7 602.5,266.8 603.2,269.5 603.9,270.4 604.6,270.4 605.3,270.1 606,269.6 606.7,269.1 607.4,268.8 608.1,268.5 608.8,268.3 609.5,268 610.3,267.4 611,266.4 611.7,264.8 612.4,262.9 613.1,261.1 613.8,259.8 614.5,259.3 615.2,259.7 615.9,260.8 616.6,262 617.3,263.3 618,264.5 618.7,265.6 619.4,266.6 620.1,267.8 620.8,269 621.6,270.1 622.3,271 623,271.6 623.7,271.6 624.4,271 625.1,269.8 625.8,267.9 626.5,265.5 627.2,262.8 627.9,260.2 628.6,258 629.3,256.5 630,255.8 630.7,256 631.4,257.1 632.1,258.6 632.9,260.4 633.6,262.2 634.3,263.6 635,264.6 635.7,265.1 636.4,265.3 637.1,265.3 637.8,265.2 638.5,265.3 639.2,265.6 639.9,266.2 640.6,267.1 641.3,268.3 642,269.7 642.7,271 643.4,272.2 644.2,273 644.9,273.2 645.6,272.8 646.3,271.8 647,270.2 647.7,268.4 648.4,266.6 649.1,265.3 649.8,264.5 650.5,264.4 651.2,264.7 651.9,265.4 652.6,266.2 653.3,267 654,267.7 654.7,268.2 655.5,268.5 656.2,268.5 656.9,268.3 657.6,268 658.3,267.5 659,267 659.7,266.6 660.4,266.4 661.1,266.3 661.8,266.3 662.5,266.3 663.2,266.1 663.9,265.8 664.6,265.4 665.3,265.1 666,265 666.8,265.2 667.5,265.5 668.2,265.7 668.9,265.7 669.6,265.4 670.3,265 671,264.5 671.7,264.2 672.4,264.2 673.1,264.6 673.8,265.3 674.5,266.2 675.2,267.3 675.9,268.4 676.6,269.3 677.3,270 678.1,270.4 678.8,270.6 679.5,270.5 680.2,270.3 680.9,270.1 681.6,270 682.3,270.1 683,270.3" fill="none" stroke="#e8363d" stroke-width="1.2" stroke-linejoin="round"/>
<line x1="615.1" y1="193.2" x2="623" y2="193.2" stroke="#e8363d" stroke-width="1.1"/>
<text x="626" y="195.6" font-size="7.8" textLength="40.2" lengthAdjust="spacingAndGlyphs">FOXA1 mets</text>
<line x1="615.1" y1="202.4" x2="623" y2="202.4" stroke="#8e1f25" stroke-width="1.1"/>
<text x="626" y="204.8" font-size="7.8" textLength="44.4" lengthAdjust="spacingAndGlyphs">FOXA1 tumor</text>
<line x1="615.1" y1="211.1" x2="623" y2="211.1" stroke="#17793a" stroke-width="1.1"/>
<text x="626" y="213.5" font-size="7.8" textLength="46.6" lengthAdjust="spacingAndGlyphs">HNF4G tumor</text>
<line x1="615.1" y1="219.9" x2="623" y2="219.9" stroke="#40c07a" stroke-width="1.1"/>
<text x="626" y="222.3" font-size="7.8" textLength="43" lengthAdjust="spacingAndGlyphs">HNF4G mets</text>
<text x="0" y="339.5" font-size="12.5" fill="#111" font-weight="bold" stroke="#111" stroke-width="0.45">i</text>
<text x="101.7" y="339.9" font-size="7.8" textLength="49.3" lengthAdjust="spacingAndGlyphs">FOXA1 Hi-ChIP</text>
<text x="11.8" y="358.4" font-size="7.8" textLength="25.2" lengthAdjust="spacingAndGlyphs">Hi-ChIP</text>
<rect x="41.3" y="347.5" width="198.39999999999998" height="14.600000000000023" fill="none" stroke="#3a3fa8" stroke-width="0.9"/>
<line x1="41.3" y1="363.5" x2="239.7" y2="363.5" stroke="#8a8a8a" stroke-width="1.0"/>
<path d="M42.3,362.1v-0.8M43.5,362.1v-1.2M44.1,362.1v-1.4M45.3,362.1v-2M45.9,362.1v-2.2M48.3,362.1v-1.1M49.5,362.1v-6.9M50.1,362.1v-6.2M50.7,362.1v-1.4M51.9,362.1v-4.4M52.5,362.1v-4.8M53.1,362.1v-5.2M53.7,362.1v-5.2M54.3,362.1v-4.3M54.9,362.1v-4.1M56.7,362.1v-0.7M58.5,362.1v-1.6M60.3,362.1v-1M60.9,362.1v-0.8M62.1,362.1v-1.4M62.7,362.1v-1.5M63.3,362.1v-1M64.5,362.1v-1.1M65.1,362.1v-1.4M67.5,362.1v-1.7M68.1,362.1v-1.8M68.7,362.1v-1.1M69.3,362.1v-0.9M69.9,362.1v-0.8M70.5,362.1v-1M71.1,362.1v-1.2M71.7,362.1v-1.1M72.3,362.1v-2M72.9,362.1v-1.1M73.5,362.1v-0.7M74.1,362.1v-1.3M74.7,362.1v-1.1M75.3,362.1v-0.6M75.9,362.1v-0.6M77.1,362.1v-1.2M78.3,362.1v-2.3M78.9,362.1v-0.8M79.5,362.1v-1.3M80.1,362.1v-1.3M81.9,362.1v-1.6M82.5,362.1v-0.7M83.1,362.1v-0.5M83.7,362.1v-1.2M86.1,362.1v-1.2M87.3,362.1v-1.3M87.9,362.1v-0.7M88.5,362.1v-1.2M89.1,362.1v-0.9M89.7,362.1v-1.4M90.3,362.1v-1.2M91.5,362.1v-0.7M92.1,362.1v-0.9M92.7,362.1v-0.5M93.3,362.1v-0.5M93.9,362.1v-2.1M94.5,362.1v-0.7M95.7,362.1v-0.6M96.3,362.1v-1M96.9,362.1v-0.5M97.5,362.1v-1.3M98.7,362.1v-0.8M100.5,362.1v-0.9M101.1,362.1v-1.8M102.9,362.1v-0.9M105.3,362.1v-0.5M105.9,362.1v-3.7M106.5,362.1v-3.8M107.1,362.1v-3.1M107.7,362.1v-3.8M108.3,362.1v-1.2M110.7,362.1v-7.2M111.3,362.1v-0.6M112.5,362.1v-0.8M113.1,362.1v-0.8M113.7,362.1v-1.4M115.5,362.1v-1.5M116.7,362.1v-0.5M117.9,362.1v-1.1M118.5,362.1v-0.6M119.1,362.1v-0.6M120.9,362.1v-2M122.1,362.1v-0.6M122.7,362.1v-1.2M123.9,362.1v-0.9M125.1,362.1v-1.1M125.7,362.1v-1.1M126.3,362.1v-2.4M128.1,362.1v-0.7M130.5,362.1v-1.1M131.1,362.1v-1.2M131.7,362.1v-1M132.3,362.1v-1.3M132.9,362.1v-1M133.5,362.1v-0.9M134.1,362.1v-1.1M135.3,362.1v-1.3M136.5,362.1v-1.1M138.3,362.1v-2.2M138.9,362.1v-0.8M140.1,362.1v-1M140.7,362.1v-1.3M141.3,362.1v-1.3M141.9,362.1v-1.1M142.5,362.1v-1M143.1,362.1v-0.6M144.3,362.1v-1.2M144.9,362.1v-1.3M145.5,362.1v-0.6M146.1,362.1v-0.7M146.7,362.1v-1.2M147.3,362.1v-6.2M147.9,362.1v-0.5M149.1,362.1v-0.8M150.3,362.1v-0.5M150.9,362.1v-0.9M151.5,362.1v-0.7M152.1,362.1v-1.2M153.3,362.1v-2.6M155.7,362.1v-1.2M156.3,362.1v-0.9M156.9,362.1v-1.5M158.1,362.1v-1.4M158.7,362.1v-1.2M159.3,362.1v-0.8M159.9,362.1v-0.9M160.5,362.1v-1.3M161.1,362.1v-1.3M162.3,362.1v-1.2M164.7,362.1v-0.6M165.9,362.1v-1.1M167.1,362.1v-1.3M167.7,362.1v-0.8M168.3,362.1v-0.6M168.9,362.1v-1.2M169.5,362.1v-0.6M170.1,362.1v-1.6M170.7,362.1v-1.7M171.3,362.1v-1.7M171.9,362.1v-0.8M172.5,362.1v-1.4M173.1,362.1v-0.9M174.3,362.1v-0.5M174.9,362.1v-6.3M175.5,362.1v-6M176.7,362.1v-1.1M177.9,362.1v-0.6M178.5,362.1v-2.4M179.1,362.1v-2.1M179.7,362.1v-2.4M180.3,362.1v-1M180.9,362.1v-0.7M181.5,362.1v-0.8M182.7,362.1v-1.8M183.3,362.1v-1.3M183.9,362.1v-0.6M184.5,362.1v-0.7M186.3,362.1v-0.6M186.9,362.1v-0.9M187.5,362.1v-6.2M189.3,362.1v-1.3M189.9,362.1v-3.3M190.5,362.1v-3.3M191.1,362.1v-3.9M191.7,362.1v-3.9M192.3,362.1v-4.2M192.9,362.1v-4M193.5,362.1v-3.8M194.1,362.1v-4M194.7,362.1v-3.4M195.3,362.1v-3.5M195.9,362.1v-3.9M196.5,362.1v-3.6M197.1,362.1v-4M197.7,362.1v-3.4M198.3,362.1v-3.3M198.9,362.1v-0.5M200.7,362.1v-4.9M201.3,362.1v-0.5M201.9,362.1v-1.3M203.7,362.1v-2.6M204.3,362.1v-2.3M204.9,362.1v-2.6M205.5,362.1v-2.2M206.1,362.1v-2.2M206.7,362.1v-2.1M207.3,362.1v-2.2M208.5,362.1v-6.8M209.1,362.1v-1.2M210.9,362.1v-0.7M211.5,362.1v-0.9M212.7,362.1v-1.3M213.3,362.1v-0.6M213.9,362.1v-2.2M214.5,362.1v-0.5M216.9,362.1v-2.5M217.5,362.1v-0.9M218.1,362.1v-0.6M218.7,362.1v-0.7M219.3,362.1v-1M220.5,362.1v-0.5M221.1,362.1v-1.7M221.7,362.1v-0.7M222.3,362.1v-1M224.7,362.1v-1.4M225.3,362.1v-1.7M225.9,362.1v-1.5M226.5,362.1v-1.4M227.1,362.1v-0.9M228.9,362.1v-3.5M229.5,362.1v-3.8M230.7,362.1v-1.3M232.5,362.1v-1.2M233.1,362.1v-1.3M233.7,362.1v-0.8M234.3,362.1v-2.2M234.9,362.1v-0.6M235.5,362.1v-1.1M236.7,362.1v-0.7M237.3,362.1v-0.7M237.9,362.1v-0.9M238.5,362.1v-1.4" stroke="#2b3190" stroke-width="0.7" fill="none"/>
<line x1="41.3" y1="362.1" x2="239.7" y2="362.1" stroke="#3a3fa8" stroke-width="0.9"/>
<text x="14.8" y="378.8" font-size="7.8" textLength="16.4" lengthAdjust="spacingAndGlyphs">Mets</text>
<path d="M42,414A82.2,47 0 0 1 206.5,414M42.5,414A75.4,40.5 0 0 1 193.3,414M43,414A70,38 0 0 1 183,414M44,414A65.5,35.5 0 0 1 175,414M42.5,414A59.2,32.5 0 0 1 161,414M42.2,414A45.6,25.6 0 0 1 133.4,414M47,414A43.2,24 0 0 1 133.4,414M47,414A23.5,15 0 0 1 94,414M94,414A2.7,2 0 0 1 99.4,414M99.4,414A17,9.5 0 0 1 133.4,414M133.4,414A36.5,21 0 0 1 206.5,414M133.4,414A30,18 0 0 1 193.3,414M133.4,414A24.8,16 0 0 1 183,414M133.4,414A20.8,14 0 0 1 175,414M133.4,414A13.8,9 0 0 1 161,414M161,414A22.8,10.5 0 0 1 206.5,414M175,414A15.8,9 0 0 1 206.5,414M183,414A11.8,7 0 0 1 206.5,414M193.3,414A6.6,4 0 0 1 206.5,414M206.5,414A14.5,8.5 0 0 1 235.4,414" fill="none" stroke="#df2a30" stroke-width="1.0"/>
<line x1="37.3" y1="417.1" x2="237.4" y2="417.1" stroke="#444" stroke-width="0.7"/>
<line x1="37.3" y1="428.6" x2="237.4" y2="428.6" stroke="#666" stroke-width="0.7"/>
<path d="M39,419.4H41.1V424.6H39zM42.4,419.4H44.5V424.6H42.4zM45.7,419.4H47.9V424.6H45.7zM52.8,419.4H54.9V424.6H52.8zM76.9,419.4H79V424.6H76.9zM79.2,419.4H81.3V424.6H79.2zM94.9,419.4H97.1V424.6H94.9zM97.5,419.4H99.7V424.6H97.5zM119,419.4H121.9V424.6H119zM129,419.4H132.6V424.6H129zM136.6,419.4H138.4V424.6H136.6zM143.1,419.4H147.3V424.6H143.1zM171.9,419.4H176.4V424.6H171.9zM195.7,419.4H200V424.6H195.7zM222.5,419.4H225V424.6H222.5zM232.3,419.4H234.6V424.6H232.3z" fill="#d8262d"/>
<text x="17" y="426.4" font-size="7.8" textLength="11.8" lengthAdjust="spacingAndGlyphs">CRE</text>
<text x="14" y="445.4" font-size="7.8" textLength="24.2" lengthAdjust="spacingAndGlyphs">Tumors</text>
<path d="M38,465.8A91,34 0 0 1 220.1,465.8M100,465.8A24.1,9.6 0 0 1 148.2,465.8M148.2,465.8A24.4,10 0 0 1 197,465.8M148.2,465.8A16.4,7.5 0 0 1 180.9,465.8M208.2,465.8A13.7,5.3 0 0 1 235.5,465.8M208.2,465.8A6.9,3 0 0 1 222,465.8" fill="none" stroke="#8e1c22" stroke-width="1.0"/>
<line x1="37.3" y1="467.4" x2="236.6" y2="467.4" stroke="#444" stroke-width="0.7"/>
<line x1="37.3" y1="478.2" x2="236.6" y2="478.2" stroke="#444" stroke-width="0.7"/>
<path d="M37,471.7H39.1V476.8H37zM39.3,471.7H41.4V476.8H39.3zM41.6,471.7H43.7V476.8H41.6zM43.9,471.7H46V476.8H43.9zM47.3,471.7H49.9V476.8H47.3zM70.7,471.7H72.9V476.8H70.7zM85.7,471.7H89.4V476.8H85.7zM111.7,471.7H113.8V476.8H111.7zM114.1,471.7H116.2V476.8H114.1zM117.5,471.7H120.3V476.8H117.5zM145.2,471.7H148V476.8H145.2zM148.5,471.7H152.2V476.8H148.5zM154.1,471.7H158.9V476.8H154.1zM184.3,471.7H187.4V476.8H184.3zM188.2,471.7H191.1V476.8H188.2zM191.8,471.7H197.5V476.8H191.8zM207,471.7H213.4V476.8H207zM215.3,471.7H217.6V476.8H215.3zM221.2,471.7H223.5V476.8H221.2zM225.4,471.7H227.4V476.8H225.4zM227.6,471.7H229.4V476.8H227.6zM231.3,471.7H233.6V476.8H231.3z" fill="#8e1c22"/>
<text x="17" y="476.6" font-size="7.8" textLength="11.8" lengthAdjust="spacingAndGlyphs">CRE</text>
<line x1="57.2" y1="483" x2="98.6" y2="483" stroke="#222" stroke-width="1.2"/>
<rect x="57.2" y="481.3" width="4.6" height="3.4" fill="#222"/>
<rect x="93.1" y="481.4" width="5.5" height="3.2" fill="#222"/>
<line x1="70.6" y1="479.8" x2="70.6" y2="486.2" stroke="#222" stroke-width="0.9"/>
<line x1="78.7" y1="479.8" x2="78.7" y2="486.2" stroke="#222" stroke-width="0.9"/>
<line x1="127.5" y1="484.2" x2="214" y2="484.2" stroke="#222" stroke-width="1.2"/>
<rect x="127.5" y="482.5" width="5.9" height="3.4" fill="#222"/>
<rect x="205" y="482.6" width="9" height="3.2" fill="#222"/>
<line x1="140.4" y1="481" x2="140.4" y2="487.4" stroke="#222" stroke-width="0.9"/>
<line x1="157.2" y1="481" x2="157.2" y2="487.4" stroke="#222" stroke-width="0.9"/>
<line x1="174.5" y1="481" x2="174.5" y2="487.4" stroke="#222" stroke-width="0.9"/>
<line x1="188.8" y1="481" x2="188.8" y2="487.4" stroke="#222" stroke-width="0.9"/>
<line x1="198.5" y1="481" x2="198.5" y2="487.4" stroke="#222" stroke-width="0.9"/>
<text x="70" y="495.2" font-size="7.8" fill="#333" textLength="13.5" lengthAdjust="spacingAndGlyphs" font-style="italic">Myc</text>
<text x="159.2" y="496.1" font-size="7.8" fill="#333" textLength="13.1" lengthAdjust="spacingAndGlyphs" font-style="italic">Pvt1</text>
<text x="0" y="518.8" font-size="12.5" fill="#111" font-weight="bold" stroke="#111" stroke-width="0.45">j</text>
<text x="104" y="519" font-size="7.8" textLength="50" lengthAdjust="spacingAndGlyphs">HNF4G Hi-ChIP</text>
<text x="19" y="537.6" font-size="7.8" textLength="25" lengthAdjust="spacingAndGlyphs">Hi-ChIP</text>
<rect x="51.2" y="525.3" width="186.7" height="14.5" fill="none" stroke="#3a3fa8" stroke-width="0.9"/>
<line x1="51.2" y1="541.2" x2="237.9" y2="541.2" stroke="#8a8a8a" stroke-width="1.0"/>
<path d="M51.7,539.8L52.2,539L52.8,538.9L53.4,538.9L54,538.4L54.6,538.7L55.2,538.5L55.8,538.1L56.4,538.4L57,538.3L57.6,538.1L58.2,532.2L58.8,532.1L59.4,535.5L60,535.5L60.6,537.9L61.2,538L61.8,538L62.4,538.2L63,538L63.6,538.2L64.2,538.5L64.8,538.6L65.4,538.7L66,538.7L66.6,538.3L67.2,538.4L67.8,538L68.4,537.8L69,538L69.6,538.4L70.2,538L70.8,537.9L71.4,538.3L72,538.2L72.6,537.8L73.2,538.1L73.8,538.5L74.4,538.7L75,538.5L75.6,538.8L76.2,538.9L76.8,538.7L77.4,538.2L78,538.2L78.6,538.3L79.2,538.1L79.8,538.4L80.4,538.3L81,538.5L81.6,536.9L82.2,537.2L82.8,537.4L83.4,538.5L84,538L84.6,537.6L85.2,538.1L85.8,537.9L86.4,537.6L87,538L87.6,537.9L88.2,538.3L88.8,538.4L89.4,538.1L90,538.1L90.6,537.7L91.2,537.3L91.8,538L92.4,538.1L93,538.2L93.6,537.8L94.2,537.8L94.8,538.3L95.4,538L96,538.2L96.6,538.2L97.2,538.4L97.8,538.3L98.4,538.4L99,538.6L99.6,537.8L100.2,537.9L100.8,537.5L101.4,537.5L102,537.5L102.6,537.8L103.2,537.8L103.8,535.6L104.4,535.6L105,537.7L105.6,538.1L106.2,537.8L106.8,538.1L107.4,538.4L108,538L108.6,538.3L109.2,537.9L109.8,537.6L110.4,537.6L111,538L111.6,537.9L112.2,537.6L112.8,538.3L113.4,538.5L114,538.3L114.6,538.5L115.2,538.7L115.8,538.5L116.4,538L117,537.7L117.6,538L118.2,538.1L118.8,537.8L119.4,538.2L120,538L120.6,537.8L121.2,537.6L121.8,537.7L122.4,538.2L123,538.5L123.6,538.4L124.2,538.5L124.8,538.3L125.4,538.6L126,538.2L126.6,538.4L127.2,538.7L127.8,535.9L128.4,536L129,535.9L129.6,537.6L130.2,537.8L130.8,537.5L131.4,537.6L132,537.8L132.6,537.8L133.2,537.6L133.8,538.1L134.4,538L135,537.3L135.6,537L136.2,537L136.8,538.2L137.4,538.2L138,538.1L138.6,538.4L139.2,538.2L139.8,538.3L140.4,537.9L141,538.2L141.6,537.9L142.2,537.8L142.8,537.8L143.4,537.6L144,538.1L144.6,538L145.2,538L145.8,537.9L146.4,538L147,538.4L147.6,538.5L148.2,538.3L148.8,538.5L149.4,538.7L150,538.6L150.6,538.5L151.2,538.4L151.8,538.6L152.4,538.3L153,538.3L153.6,538.1L154.2,538.5L154.8,538L155.4,538L156,537.6L156.6,537.4L157.2,537.3L157.8,537.7L158.4,537.5L159,537.8L159.6,537.8L160.2,537.4L160.8,537.5L161.4,537.6L162,537.6L162.6,537.8L163.2,537.8L163.8,538.3L164.4,537.9L165,538.3L165.6,538.5L166.2,538.6L166.8,538.3L167.4,538.5L168,538.5L168.6,538.2L169.2,537.8L169.8,537.6L170.4,537.5L171,537.3L171.6,537.3L172.2,537.1L172.8,537.6L173.4,537.7L174,537.9L174.6,537.7L175.2,537.9L175.8,538.1L176.4,538L177,538.1L177.6,538.2L178.2,538.3L178.8,538.5L179.4,536.8L180,536.5L180.6,536.5L181.2,538.4L181.8,538.4L182.4,538.2L183,538L183.6,537.7L184.2,537.6L184.8,538L185.4,538L186,538.2L186.6,538.5L187.2,538.4L187.8,538.3L188.4,538L189,538.1L189.6,537.6L190.2,537.5L190.8,537.6L191.4,537.9L192,537.9L192.6,537.8L193.2,537.5L193.8,537.6L194.4,537.5L195,537.8L195.6,538L196.2,538.1L196.8,538.3L197.4,538.4L198,538.4L198.6,536.9L199.2,536.9L199.8,536.8L200.4,537L201,536.8L201.6,536.8L202.2,537.2L202.8,536.8L203.4,537.1L204,537.1L204.6,536.9L205.2,537.7L205.8,538.2L206.4,538.4L207,538.1L207.6,537.5L208.2,537.4L208.8,537L209.4,537.4L210,537.3L210.6,536.9L211.2,537.1L211.8,537.5L212.4,537.3L213,537.1L213.6,537.2L214.2,536.9L214.8,537.3L215.4,537L216,537.4L216.6,536.9L217.2,537.7L217.8,537.7L218.4,537.5L219,537.9L219.6,538.3L220.2,538L220.8,537.9L221.4,538.2L222,538.4L222.6,538.4L223.2,538.4L223.8,538.4L224.4,538.6L225,538.5L225.6,538.5L226.2,538.5L226.8,538.2L227.4,537.8L228,538L228.6,538.1L229.2,538.1L229.8,538.4L230.4,538L231,537.9L231.6,538.3L232.2,537.9L232.8,537.9L233.4,538.2L234,538.1L234.6,537.7L235.2,538L235.8,538.4L236.4,538.5L237.4,539.8z" fill="#2b3190"/>
<line x1="51.2" y1="539.8" x2="237.9" y2="539.8" stroke="#3a3fa8" stroke-width="0.9"/>
<text x="23.7" y="564.5" font-size="7.8" textLength="16.1" lengthAdjust="spacingAndGlyphs">Mets</text>
<path d="M60.7,588.4A30.4,24.5 0 0 1 121.4,588.4M60.7,588.4A33.1,22.5 0 0 1 127,588.4M60.7,588.4A35.1,22 0 0 1 131,588.4M107.4,588.4A11.8,13 0 0 1 131,588.4M110,588.4A17,13.5 0 0 1 144,588.4M132.8,588.4A51.2,36.5 0 0 1 235.3,588.4M214.4,588.4A10.5,9 0 0 1 235.3,588.4M87.2,588.4A1,1.2 0 0 1 89.2,588.4M130.5,588.4A1.8,1.5 0 0 1 134,588.4" fill="none" stroke="#1e6e3c" stroke-width="1.0"/>
<line x1="53.1" y1="589.4" x2="237.2" y2="589.4" stroke="#444" stroke-width="0.7"/>
<line x1="53.1" y1="600.1" x2="237.2" y2="600.1" stroke="#444" stroke-width="0.7"/>
<path d="M54.9,591.4H56.7V595.9H54.9zM57.9,591.4H59.7V595.9H57.9zM61,591.4H62.8V595.9H61zM64.4,591.4H66.2V595.9H64.4zM68.5,591.4H70.3V595.9H68.5zM87.5,591.4H89.3V595.9H87.5zM109.1,591.4H110.9V595.9H109.1zM111.7,591.4H113.5V595.9H111.7zM132.5,591.4H134.9V595.9H132.5zM142.3,591.4H144.5V595.9H142.3zM144.5,591.4H146.7V595.9H144.5zM149.7,591.4H151.7V595.9H149.7zM155.5,591.4H157.7V595.9H155.5zM157.5,591.4H159.6V595.9H157.5zM216,591.4H218.1V595.9H216zM233.5,591.4H235.5V595.9H233.5z" fill="#2a8a44"/>
<text x="30.4" y="603.1" font-size="7.8" textLength="11.5" lengthAdjust="spacingAndGlyphs">CRE</text>
<text x="17.8" y="644.8" font-size="7.8" textLength="24.7" lengthAdjust="spacingAndGlyphs">Tumors</text>
<path d="M68.3,646.8A76.8,37 0 0 1 222,646.8M68.3,646.8A20.9,18.5 0 0 1 110,646.8M110,646.8A44.6,23 0 0 1 199.2,646.8M131,646.8A45.5,21 0 0 1 222,646.8M125,646.8A3,1.8 0 0 1 131,646.8M131,646.8A3,2.5 0 0 1 137,646.8M137,646.8A2.8,2.5 0 0 1 142.5,646.8" fill="none" stroke="#5ccb62" stroke-width="1.0"/>
<line x1="51.2" y1="647.6" x2="235.3" y2="647.6" stroke="#666" stroke-width="0.7"/>
<line x1="51.2" y1="658.9" x2="235.3" y2="658.9" stroke="#444" stroke-width="0.7"/>
<path d="M59.9,652.1H61.9V657.3H59.9zM66.5,652.1H68.6V657.3H66.5zM68.3,652.1H70.5V657.3H68.3zM107.7,652.1H109.9V657.3H107.7zM109.9,652.1H111.9V657.3H109.9zM127.2,652.1H129.3V657.3H127.2zM129.9,652.1H131.9V657.3H129.9zM132.7,652.1H134.9V657.3H132.7zM160.5,652.1H162.5V657.3H160.5zM164.3,652.1H166.3V657.3H164.3zM198.1,652.1H200.1V657.3H198.1zM200.7,652.1H202.7V657.3H200.7zM204.3,652.1H206.5V657.3H204.3zM206.7,652.1H209.1V657.3H206.7zM219.7,652.1H222.3V657.3H219.7zM222.2,652.1H224.5V657.3H222.2z" fill="#52c05a"/>
<text x="28.5" y="657.2" font-size="7.8" textLength="12.3" lengthAdjust="spacingAndGlyphs">CRE</text>
<line x1="62.6" y1="665.7" x2="102.5" y2="665.7" stroke="#222" stroke-width="1.2"/>
<rect x="62.6" y="664" width="4.6" height="3.4" fill="#222"/>
<rect x="97" y="664.1" width="5.5" height="3.2" fill="#222"/>
<line x1="75.5" y1="662.5" x2="75.5" y2="668.9" stroke="#222" stroke-width="0.9"/>
<line x1="82.5" y1="662.5" x2="82.5" y2="668.9" stroke="#222" stroke-width="0.9"/>
<line x1="127.1" y1="667.3" x2="211.8" y2="667.3" stroke="#222" stroke-width="1.2"/>
<rect x="127.1" y="665.6" width="5.9" height="3.4" fill="#222"/>
<rect x="203.3" y="665.7" width="8.5" height="3.2" fill="#222"/>
<line x1="140" y1="664.1" x2="140" y2="670.5" stroke="#222" stroke-width="0.9"/>
<line x1="157" y1="664.1" x2="157" y2="670.5" stroke="#222" stroke-width="0.9"/>
<line x1="173.5" y1="664.1" x2="173.5" y2="670.5" stroke="#222" stroke-width="0.9"/>
<line x1="186.8" y1="664.1" x2="186.8" y2="670.5" stroke="#222" stroke-width="0.9"/>
<line x1="196.5" y1="664.1" x2="196.5" y2="670.5" stroke="#222" stroke-width="0.9"/>
<text x="74.8" y="678.6" font-size="7.8" fill="#333" textLength="13.2" lengthAdjust="spacingAndGlyphs" font-style="italic">Myc</text>
<text x="158.6" y="678.6" font-size="7.8" fill="#333" textLength="12.9" lengthAdjust="spacingAndGlyphs" font-style="italic">Pvt1</text>
<text x="272.6" y="375.3" font-size="12.5" fill="#111" font-weight="bold" stroke="#111" stroke-width="0.45">k</text>
<polygon points="534.8,512.9 578.1,462.6 601.9,627.5 533.4,554.8" fill="url(#cone)"/>
<g transform="translate(0 9.5) scale(1 0.982)">
<path d="M296.2,571.1A121.8,121.8 0 0 1 294.8,568L298,566.7A118.4,118.4 0 0 0 299.3,569.8ZM291.6,559.1A121.8,121.8 0 0 1 290.9,557L294.2,556A118.4,118.4 0 0 0 294.8,558.1ZM290.5,555.6A121.8,121.8 0 0 1 289.5,551.8L292.8,551A118.4,118.4 0 0 0 293.8,554.7ZM288.9,549.3A121.8,121.8 0 0 1 288.4,547.1L291.7,546.4A118.4,118.4 0 0 0 292.2,548.5ZM286.8,537.9A121.8,121.8 0 0 1 286.4,533.9L289.8,533.6A118.4,118.4 0 0 0 290.2,537.5ZM286.3,532.6A121.8,121.8 0 0 1 286,529.1L289.4,528.9A118.4,118.4 0 0 0 289.6,532.3ZM285.9,526A121.8,121.8 0 0 1 285.8,523.2L289.2,523.1A118.4,118.4 0 0 0 289.3,525.9ZM285.9,516.9A121.8,121.8 0 0 1 286.1,513.7L289.5,514A118.4,118.4 0 0 0 289.3,517ZM287,505.2A121.8,121.8 0 0 1 287.5,501.5L290.9,502.1A118.4,118.4 0 0 0 290.3,505.7ZM287.8,500.2A121.8,121.8 0 0 1 288.9,494.6L292.2,495.3A118.4,118.4 0 0 0 291.1,500.8ZM295.2,475A121.8,121.8 0 0 1 296.7,471.7L299.8,473.1A118.4,118.4 0 0 0 298.4,476.3ZM303.2,459.2A121.8,121.8 0 0 1 306.2,454.5L309.1,456.3A118.4,118.4 0 0 0 306.2,460.9ZM317.7,439.8A121.8,121.8 0 0 1 319.2,438.3L321.6,440.6A118.4,118.4 0 0 0 320.2,442.1ZM328.5,429.4A121.8,121.8 0 0 1 330.3,427.9L332.5,430.5A118.4,118.4 0 0 0 330.7,432ZM332.4,426.2A121.8,121.8 0 0 1 333.4,425.4L335.5,428.1A118.4,118.4 0 0 0 334.5,428.9ZM334.6,424.5A121.8,121.8 0 0 1 335.9,423.5L337.9,426.3A118.4,118.4 0 0 0 336.7,427.2ZM345.6,417.1A121.8,121.8 0 0 1 347,416.4L348.7,419.3A118.4,118.4 0 0 0 347.4,420.1ZM362.3,408.9A121.8,121.8 0 0 1 363.4,408.5L364.7,411.7A118.4,118.4 0 0 0 363.6,412.1ZM364.4,408.1A121.8,121.8 0 0 1 367.8,406.9L368.9,410.1A118.4,118.4 0 0 0 365.6,411.3ZM382.8,402.8A121.8,121.8 0 0 1 386,402.1L386.6,405.5A118.4,118.4 0 0 0 383.5,406.1ZM386.9,402A121.8,121.8 0 0 1 389.4,401.6L389.9,404.9A118.4,118.4 0 0 0 387.4,405.3ZM392.2,401.2A121.8,121.8 0 0 1 395.7,400.8L396,404.2A118.4,118.4 0 0 0 392.6,404.5ZM396.7,400.7A121.8,121.8 0 0 1 399.7,400.5L399.9,403.8A118.4,118.4 0 0 0 397,404.1ZM400.3,400.4A121.8,121.8 0 0 1 406,400.2L406.1,403.6A118.4,118.4 0 0 0 400.5,403.8ZM416,400.5A121.8,121.8 0 0 1 419.3,400.8L419,404.2A118.4,118.4 0 0 0 415.7,403.9ZM437.4,403.9A121.8,121.8 0 0 1 438.7,404.2L437.8,407.5A118.4,118.4 0 0 0 436.5,407.2ZM441.6,405A121.8,121.8 0 0 1 443.2,405.5L442.3,408.8A118.4,118.4 0 0 0 440.7,408.3ZM445,406.1A121.8,121.8 0 0 1 446.3,406.5L445.2,409.7A118.4,118.4 0 0 0 443.9,409.3ZM451.9,408.5A121.8,121.8 0 0 1 455.2,409.9L453.8,413A118.4,118.4 0 0 0 450.7,411.7ZM455.8,410.2A121.8,121.8 0 0 1 457.2,410.8L455.8,413.9A118.4,118.4 0 0 0 454.5,413.3ZM465.4,414.8A121.8,121.8 0 0 1 470.3,417.6L468.5,420.5A118.4,118.4 0 0 0 463.8,417.8ZM471.8,418.5A121.8,121.8 0 0 1 474.9,420.5L473,423.3A118.4,118.4 0 0 0 470,421.4ZM476.7,421.7A121.8,121.8 0 0 1 479.7,423.8L477.7,426.6A118.4,118.4 0 0 0 474.8,424.5ZM481.8,425.4A121.8,121.8 0 0 1 485.3,428.2L483.1,430.8A118.4,118.4 0 0 0 479.7,428.1ZM485.8,428.6A121.8,121.8 0 0 1 489,431.4L486.7,433.9A118.4,118.4 0 0 0 483.6,431.2ZM494.4,436.5A121.8,121.8 0 0 1 496.9,439.2L494.4,441.5A118.4,118.4 0 0 0 492,438.9ZM508.1,453.2A121.8,121.8 0 0 1 509,454.5L506.1,456.4A118.4,118.4 0 0 0 505.3,455.1ZM509.5,455.3A121.8,121.8 0 0 1 510.6,457L507.8,458.8A118.4,118.4 0 0 0 506.7,457.2ZM514.9,464.4A121.8,121.8 0 0 1 517.4,469.2L514.3,470.7A118.4,118.4 0 0 0 511.9,466ZM520.8,477.2A121.8,121.8 0 0 1 522.1,480.3L518.9,481.5A118.4,118.4 0 0 0 517.7,478.4ZM522.7,482A121.8,121.8 0 0 1 523.1,483.3L519.9,484.4A118.4,118.4 0 0 0 519.4,483.1ZM527.2,498.8A121.8,121.8 0 0 1 528,503.8L524.7,504.3A118.4,118.4 0 0 0 523.8,499.4ZM529.4,519.9A121.8,121.8 0 0 1 529.4,524.7L526,524.6A118.4,118.4 0 0 0 526,520ZM527.2,545.1A121.8,121.8 0 0 1 526.7,547.7L523.3,547A118.4,118.4 0 0 0 523.9,544.4ZM526.6,548.2A121.8,121.8 0 0 1 525.5,552.6L522.2,551.8A118.4,118.4 0 0 0 523.2,547.5ZM523.1,560.6A121.8,121.8 0 0 1 522.2,563.2L519,562A118.4,118.4 0 0 0 519.9,559.5ZM521.8,564.4A121.8,121.8 0 0 1 520.8,567L517.6,565.7A118.4,118.4 0 0 0 518.6,563.3ZM520.6,567.5A121.8,121.8 0 0 1 518.9,571.4L515.8,570A118.4,118.4 0 0 0 517.4,566.2ZM509,589.5A121.8,121.8 0 0 1 507.6,591.5L504.8,589.6A118.4,118.4 0 0 0 506.2,587.6ZM506.2,593.5A121.8,121.8 0 0 1 505.1,595L502.4,593A118.4,118.4 0 0 0 503.5,591.5ZM499.2,602.2A121.8,121.8 0 0 1 497.1,604.6L494.6,602.3A118.4,118.4 0 0 0 496.7,600ZM476.3,622.6A121.8,121.8 0 0 1 471.8,625.5L470,622.6A118.4,118.4 0 0 0 474.3,619.8ZM465.4,629.2A121.8,121.8 0 0 1 460.4,631.7L459,628.7A118.4,118.4 0 0 0 463.8,626.2ZM458.1,632.8A121.8,121.8 0 0 1 456.4,633.6L455.1,630.5A118.4,118.4 0 0 0 456.7,629.7ZM454.5,634.4A121.8,121.8 0 0 1 453.3,634.9L452.1,631.7A118.4,118.4 0 0 0 453.2,631.3ZM443.8,638.3A121.8,121.8 0 0 1 440.6,639.2L439.7,636A118.4,118.4 0 0 0 442.8,635ZM439,639.7A121.8,121.8 0 0 1 434.2,640.9L433.4,637.5A118.4,118.4 0 0 0 438.1,636.4ZM407.1,643.8A121.8,121.8 0 0 1 406,643.8L406,640.4A118.4,118.4 0 0 0 407.1,640.4ZM393,642.9A121.8,121.8 0 0 1 389.9,642.5L390.3,639.1A118.4,118.4 0 0 0 393.4,639.5ZM387.2,642.1A121.8,121.8 0 0 1 382.9,641.3L383.6,637.9A118.4,118.4 0 0 0 387.8,638.7ZM378.8,640.4A121.8,121.8 0 0 1 374.5,639.2L375.4,635.9A118.4,118.4 0 0 0 379.7,637.1ZM366,636.5A121.8,121.8 0 0 1 361.6,634.8L362.9,631.6A118.4,118.4 0 0 0 367.1,633.3ZM351.9,630.3A121.8,121.8 0 0 1 350,629.3L351.6,626.3A118.4,118.4 0 0 0 353.5,627.3ZM341.9,624.6A121.8,121.8 0 0 1 338.9,622.6L340.8,619.8A118.4,118.4 0 0 0 343.8,621.7ZM338.5,622.3A121.8,121.8 0 0 1 335.3,620L337.3,617.3A118.4,118.4 0 0 0 340.4,619.5ZM333.8,618.9A121.8,121.8 0 0 1 331.9,617.4L334,614.7A118.4,118.4 0 0 0 335.8,616.2ZM330.4,616.2A121.8,121.8 0 0 1 329.2,615.2L331.4,612.6A118.4,118.4 0 0 0 332.5,613.6ZM327.2,613.5A121.8,121.8 0 0 1 324,610.6L326.3,608.1A118.4,118.4 0 0 0 329.4,610.9ZM321.9,608.6A121.8,121.8 0 0 1 319.6,606.2L322,603.8A118.4,118.4 0 0 0 324.3,606.2ZM311.7,597.1A121.8,121.8 0 0 1 310.3,595.3L313,593.2A118.4,118.4 0 0 0 314.4,595ZM308,592.1A121.8,121.8 0 0 1 304.9,587.4L307.7,585.6A118.4,118.4 0 0 0 310.8,590.2ZM304.5,586.8A121.8,121.8 0 0 1 303,584.3L305.9,582.6A118.4,118.4 0 0 0 307.3,585ZM301.5,581.8A121.8,121.8 0 0 1 300.6,580.3L303.6,578.6A118.4,118.4 0 0 0 304.4,580.1Z" fill="#111"/>
<path d="M297.8,574.8A121.8,121.8 0 0 1 297.1,573.1L300.1,571.7A118.4,118.4 0 0 0 300.9,573.3ZM293.9,565.6A121.8,121.8 0 0 1 292.2,560.9L295.4,559.8A118.4,118.4 0 0 0 297,564.4ZM290.5,488.3A121.8,121.8 0 0 1 292.2,483.2L295.4,484.3A118.4,118.4 0 0 0 293.8,489.3ZM292.4,482.5A121.8,121.8 0 0 1 294.1,477.8L297.3,479.1A118.4,118.4 0 0 0 295.6,483.6ZM297.4,470.2A121.8,121.8 0 0 1 299,466.8L302.1,468.3A118.4,118.4 0 0 0 300.4,471.7ZM308,452A121.8,121.8 0 0 1 311.3,447.4L314,449.4A118.4,118.4 0 0 0 310.7,453.9ZM321.2,436.2A121.8,121.8 0 0 1 322.4,435L324.8,437.4A118.4,118.4 0 0 0 323.6,438.6ZM338.1,422A121.8,121.8 0 0 1 340.8,420.1L342.7,423A118.4,118.4 0 0 0 340.1,424.7ZM348.2,415.7A121.8,121.8 0 0 1 349.6,414.9L351.2,417.9A118.4,118.4 0 0 0 349.8,418.6ZM357,411.2A121.8,121.8 0 0 1 361.2,409.4L362.5,412.5A118.4,118.4 0 0 0 358.4,414.3ZM368.4,406.7A121.8,121.8 0 0 1 373.2,405.2L374.1,408.4A118.4,118.4 0 0 0 369.5,409.9ZM375.2,404.6A121.8,121.8 0 0 1 380.2,403.3L381,406.6A118.4,118.4 0 0 0 376.1,407.9ZM432.5,402.8A121.8,121.8 0 0 1 436.9,403.8L436,407.1A118.4,118.4 0 0 0 431.8,406.1ZM448.6,407.3A121.8,121.8 0 0 1 451.3,408.3L450.1,411.5A118.4,118.4 0 0 0 447.5,410.5ZM462.9,413.5A121.8,121.8 0 0 1 463.7,413.9L462.2,416.9A118.4,118.4 0 0 0 461.4,416.5ZM518.2,470.9A121.8,121.8 0 0 1 519.5,473.9L516.4,475.2A118.4,118.4 0 0 0 515.1,472.3ZM528.4,506.1A121.8,121.8 0 0 1 528.5,507.1L525.1,507.5A118.4,118.4 0 0 0 525,506.5ZM529,512.8A121.8,121.8 0 0 1 529.1,513L525.7,513.2A118.4,118.4 0 0 0 525.7,513ZM529.2,514.9A121.8,121.8 0 0 1 529.3,517.1L525.9,517.2A118.4,118.4 0 0 0 525.8,515.1ZM529.3,526.9A121.8,121.8 0 0 1 529,532.1L525.6,531.8A118.4,118.4 0 0 0 525.9,526.8ZM528.9,532.9A121.8,121.8 0 0 1 528.6,536.2L525.2,535.8A118.4,118.4 0 0 0 525.5,532.6ZM528,540.5A121.8,121.8 0 0 1 527.3,544.6L523.9,544A118.4,118.4 0 0 0 524.6,540ZM517.8,573.8A121.8,121.8 0 0 1 516.4,576.8L513.3,575.3A118.4,118.4 0 0 0 514.7,572.4ZM515.2,579.1A121.8,121.8 0 0 1 513.8,581.6L510.8,580A118.4,118.4 0 0 0 512.2,577.5ZM493.9,608A121.8,121.8 0 0 1 491.2,610.6L488.8,608.1A118.4,118.4 0 0 0 491.4,605.6ZM483.8,617A121.8,121.8 0 0 1 481,619.2L479,616.5A118.4,118.4 0 0 0 481.7,614.4ZM479.2,620.5A121.8,121.8 0 0 1 477.3,621.9L475.3,619.1A118.4,118.4 0 0 0 477.2,617.8ZM469.9,626.7A121.8,121.8 0 0 1 467.8,627.9L466.2,624.9A118.4,118.4 0 0 0 468.2,623.7ZM433.2,641.1A121.8,121.8 0 0 1 427.7,642.1L427.1,638.8A118.4,118.4 0 0 0 432.5,637.7ZM398.5,643.5A121.8,121.8 0 0 1 393.6,643L394,639.6A118.4,118.4 0 0 0 398.8,640.1ZM381,640.9A121.8,121.8 0 0 1 379.4,640.5L380.1,637.2A118.4,118.4 0 0 0 381.7,637.5ZM371.7,638.4A121.8,121.8 0 0 1 367.1,636.9L368.2,633.7A118.4,118.4 0 0 0 372.7,635.1ZM360.4,634.3A121.8,121.8 0 0 1 355.7,632.2L357.1,629.1A118.4,118.4 0 0 0 361.7,631.2Z" fill="#9a9a9a"/>
<path d="M306.2,569.9A112.1,112.1 0 0 1 295.5,519.8" fill="none" stroke="#2356a3" stroke-width="2.8" stroke-dasharray="1.6 2.4 1.1 0.6 3.1 1.4 2.9 1.3 3.4 4.2 2.8 3.6 2.3 3.5 1.0 2.4 3.0 1.3 3.3 4.1 1.8 1.9" opacity="0.85"/>
<path d="M308,569.1A110.2,110.2 0 0 1 297.4,519.8" fill="none" stroke="#2356a3" stroke-width="1.6" stroke-dasharray="1.9 4.1 3.5 4.1 0.7 1.6 2.7 9.2 2.0 4.9 2.2 7.1 1.2 5.9" opacity="0.6"/>
<path d="M320.4,563.2A96.5,96.5 0 0 1 311.1,520.1" fill="none" stroke="#2356a3" stroke-width="2.8" stroke-dasharray="1.8 5.1 3.0 5.5 3.1 4.7 0.7 4.6 3.1 5.5 2.9 2.8 0.8 5.9" opacity="0.85"/>
<path d="M322.1,562.4A94.5,94.5 0 0 1 313.1,520.1" fill="none" stroke="#2356a3" stroke-width="1.6" stroke-dasharray="2.8 4.0 0.7 10.8 0.7 6.3 3.4 5.3 3.3 6.1 2.8 1.9" opacity="0.6"/>
<path d="M295.6,516.5A112.1,112.1 0 0 1 308.1,470.4" fill="none" stroke="#2356a3" stroke-width="2.8" stroke-dasharray="2.2 1.2 3.1 3.2 1.1 2.2 3.1 2.7 1.0 3.8 2.7 1.2 2.6 3.8 2.3 4.2 2.2 0.4 2.5 3.7" opacity="0.85"/>
<path d="M297.6,516.6A110.2,110.2 0 0 1 309.8,471.3" fill="none" stroke="#2356a3" stroke-width="1.6" stroke-dasharray="3.3 6.8 3.3 7.2 2.0 1.3 1.1 1.2 3.3 7.2 3.2 7.0 1.9 5.3" opacity="0.6"/>
<path d="M311.2,517.2A96.5,96.5 0 0 1 321.9,477.6" fill="none" stroke="#2356a3" stroke-width="2.8" stroke-dasharray="2.3 4.4 0.9 3.9 2.5 2.8 3.2 1.7 2.4 3.6 3.5 3.9 2.2 3.3 3.4 2.4" opacity="0.85"/>
<path d="M313.2,517.3A94.5,94.5 0 0 1 323.7,478.5" fill="none" stroke="#2356a3" stroke-width="1.6" stroke-dasharray="1.1 1.6 1.2 2.6 2.0 9.3 2.3 9.5 1.1 9.7 1.1 1.1" opacity="0.6"/>
<path d="M309.6,467.5A112.1,112.1 0 0 1 336.4,435.4" fill="none" stroke="#2356a3" stroke-width="2.8" stroke-dasharray="1.0 3.7 1.7 4.2 2.7 2.4 1.2 0.7 3.3 0.5 2.4 4.0 3.3 3.9 3.5 5.5" opacity="0.85"/>
<path d="M311.3,468.5A110.2,110.2 0 0 1 337.6,436.9" fill="none" stroke="#2356a3" stroke-width="1.6" stroke-dasharray="2.5 6.2 0.8 4.5 0.8 6.8 1.7 10.5 3.2 6.6" opacity="0.6"/>
<path d="M323.3,475.1A96.5,96.5 0 0 1 346.3,447.5" fill="none" stroke="#2356a3" stroke-width="2.8" stroke-dasharray="3.2 2.4 1.9 2.2 2.9 2.3 3.5 3.3 1.7 7.2 1.2 4.4" opacity="0.85"/>
<path d="M325,476.1A94.5,94.5 0 0 1 347.5,449" fill="none" stroke="#2356a3" stroke-width="1.6" stroke-dasharray="1.4 14.5 1.1 11.3 0.8 4.6 0.9 4.1" opacity="0.6"/>
<path d="M339,433.3A112.1,112.1 0 0 1 375.3,414.6" fill="none" stroke="#2356a3" stroke-width="2.8" stroke-dasharray="2.4 10.0 2.9 11.6 1.8 13.2" opacity="0.85"/>
<path d="M340.2,434.9A110.2,110.2 0 0 1 375.9,416.5" fill="none" stroke="#2356a3" stroke-width="1.6" stroke-dasharray="1.0 19.2 1.1 25.7" opacity="0.6"/>
<path d="M348.5,445.7A96.5,96.5 0 0 1 379.8,429.6" fill="none" stroke="#2356a3" stroke-width="2.8" stroke-dasharray="2.3 8.5 1.3 6.8 1.5 7.2 3.3 9.4" opacity="0.85"/>
<path d="M349.7,447.2A94.5,94.5 0 0 1 380.4,431.5" fill="none" stroke="#2356a3" stroke-width="1.6" stroke-dasharray="2.2 3.8 2.9 18.1 1.8 7.5" opacity="0.6"/>
<path d="M378.5,413.7A112.1,112.1 0 0 1 417.9,410.4" fill="none" stroke="#2356a3" stroke-width="2.8" stroke-dasharray="2.4 3.1 1.5 3.5 3.1 8.3 1.6 5.0 1.3 6.7 2.4 1.1" opacity="0.85"/>
<path d="M379,415.6A110.2,110.2 0 0 1 417.8,412.3" fill="none" stroke="#2356a3" stroke-width="1.6" stroke-dasharray="3.2 8.0 1.1 6.0 3.2 12.2 1.4 11.2" opacity="0.6"/>
<path d="M382.5,428.8A96.5,96.5 0 0 1 416.5,425.9" fill="none" stroke="#2356a3" stroke-width="2.8" stroke-dasharray="2.4 5.0 1.1 6.8 2.8 3.7 2.0 6.2 2.6 6.4" opacity="0.85"/>
<path d="M383.1,430.7A94.5,94.5 0 0 1 416.3,427.9" fill="none" stroke="#2356a3" stroke-width="1.6" stroke-dasharray="1.8 7.5 1.7 3.3 0.6 6.7 1.7 3.3 2.5 6.4" opacity="0.6"/>
<path d="M421.2,410.7A112.1,112.1 0 0 1 458.6,422.1" fill="none" stroke="#2356a3" stroke-width="2.8" stroke-dasharray="2.5 1.3 1.3 1.4 3.4 1.2 2.7 4.6 1.9 3.9 2.3 4.5 1.9 3.7 2.6 3.1" opacity="0.85"/>
<path d="M421,412.6A110.2,110.2 0 0 1 457.7,423.9" fill="none" stroke="#2356a3" stroke-width="1.6" stroke-dasharray="1.5 10.9 0.7 7.0 3.2 10.9 2.6 11.0" opacity="0.6"/>
<path d="M419.3,426.2A96.5,96.5 0 0 1 451.5,436" fill="none" stroke="#2356a3" stroke-width="2.8" stroke-dasharray="3.3 4.0 2.5 2.3 2.3 5.5 2.0 5.5 1.9 4.0 2.1 3.1" opacity="0.85"/>
<path d="M419.1,428.2A94.5,94.5 0 0 1 450.6,437.8" fill="none" stroke="#2356a3" stroke-width="1.6" stroke-dasharray="2.1 6.8 2.4 8.4 1.2 1.1 3.5 11.3" opacity="0.6"/>
<path d="M461.5,423.7A112.1,112.1 0 0 1 491.2,447.3" fill="none" stroke="#2356a3" stroke-width="2.8" stroke-dasharray="2.0 10.0 1.7 6.8 2.8 2.9 3.1 6.3 3.0 1.0" opacity="0.85"/>
<path d="M460.6,425.4A110.2,110.2 0 0 1 489.7,448.5" fill="none" stroke="#2356a3" stroke-width="1.6" stroke-dasharray="1.0 19.5 2.9 11.3 1.9 2.2" opacity="0.6"/>
<path d="M454,437.4A96.5,96.5 0 0 1 479.5,457.7" fill="none" stroke="#2356a3" stroke-width="2.8" stroke-dasharray="3.3 4.9 2.7 5.0 3.3 3.9 1.4 7.7 2.1 2.5" opacity="0.85"/>
<path d="M453,439.1A94.5,94.5 0 0 1 478.1,459" fill="none" stroke="#2356a3" stroke-width="1.6" stroke-dasharray="1.9 16.4 2.2 16.2" opacity="0.6"/>
<path d="M493.3,449.8A112.1,112.1 0 0 1 510.9,478.4" fill="none" stroke="#2356a3" stroke-width="2.8" stroke-dasharray="1.0 5.0 1.9 4.9 2.4 2.8 1.9 3.2 1.3 1.4 2.0 1.2 1.7 2.3 1.6 5.7" opacity="0.85"/>
<path d="M491.9,451A110.2,110.2 0 0 1 509.1,479.1" fill="none" stroke="#2356a3" stroke-width="1.6" stroke-dasharray="3.4 2.5 3.4 12.1 3.2 1.5 2.5 5.3" opacity="0.6"/>
<path d="M481.4,459.8A96.5,96.5 0 0 1 496.5,484.4" fill="none" stroke="#2356a3" stroke-width="2.8" stroke-dasharray="1.1 4.6 2.1 4.8 3.2 2.7 2.3 5.8 3.3 6.7" opacity="0.85"/>
<path d="M479.9,461.1A94.5,94.5 0 0 1 494.7,485.2" fill="none" stroke="#2356a3" stroke-width="1.6" stroke-dasharray="0.6 6.7 2.9 12.5 3.4 13.5" opacity="0.6"/>
<path d="M512.1,481.5A112.1,112.1 0 0 1 519.3,512.9" fill="none" stroke="#2356a3" stroke-width="2.8" stroke-dasharray="2.9 4.4 1.0 2.4 0.8 7.4 2.0 8.6 1.2 2.8" opacity="0.85"/>
<path d="M510.3,482.2A110.2,110.2 0 0 1 517.4,513.1" fill="none" stroke="#2356a3" stroke-width="1.6" stroke-dasharray="2.0 4.1 3.0 2.3 2.7 4.1 1.6 5.4 1.3 7.5" opacity="0.6"/>
<path d="M497.6,487.1A96.5,96.5 0 0 1 503.8,514.2" fill="none" stroke="#2356a3" stroke-width="2.8" stroke-dasharray="3.0 6.9 1.3 3.7 2.2 5.6 1.0 7.6" opacity="0.85"/>
<path d="M495.7,487.8A94.5,94.5 0 0 1 501.8,514.3" fill="none" stroke="#2356a3" stroke-width="1.6" stroke-dasharray="2.1 1.7 2.8 6.8 2.5 7.0 1.5 8.2" opacity="0.6"/>
<path d="M519.6,516.2A112.1,112.1 0 0 1 516.2,550" fill="none" stroke="#2356a3" stroke-width="2.8" stroke-dasharray="1.5 3.8 2.2 3.3 1.7 3.1 2.5 8.3 2.2 5.2 2.9 6.5" opacity="0.85"/>
<path d="M517.6,516.3A110.2,110.2 0 0 1 514.3,549.5" fill="none" stroke="#2356a3" stroke-width="1.6" stroke-dasharray="1.0 17.1 0.8 10.5 3.4 5.6" opacity="0.6"/>
<path d="M504,517A96.5,96.5 0 0 1 501.1,546.1" fill="none" stroke="#2356a3" stroke-width="2.8" stroke-dasharray="2.4 5.6 0.7 5.8 3.4 3.1 2.3 1.6 1.6 3.4" opacity="0.85"/>
<path d="M502,517.1A94.5,94.5 0 0 1 499.1,545.6" fill="none" stroke="#2356a3" stroke-width="1.6" stroke-dasharray="2.9 1.1 1.3 10.4 0.9 6.1 3.1 11.2" opacity="0.6"/>
<path d="M515.3,553.2A112.1,112.1 0 0 1 502.3,582" fill="none" stroke="#2356a3" stroke-width="2.8" stroke-dasharray="2.2 0.7 3.3 4.1 1.7 2.9 1.0 5.6 0.7 3.5 2.9 2.7 2.4 4.2" opacity="0.85"/>
<path d="M513.4,552.6A110.2,110.2 0 0 1 500.7,581" fill="none" stroke="#2356a3" stroke-width="1.6" stroke-dasharray="2.3 2.7 1.4 10.7 1.8 5.7 1.6 2.9 1.3 11.3" opacity="0.6"/>
<path d="M500.3,548.8A96.5,96.5 0 0 1 489.1,573.6" fill="none" stroke="#2356a3" stroke-width="2.8" stroke-dasharray="0.8 3.4 0.8 3.2 2.7 2.2 2.2 5.2 3.4 5.6" opacity="0.85"/>
<path d="M498.4,548.3A94.5,94.5 0 0 1 487.5,572.6" fill="none" stroke="#2356a3" stroke-width="1.6" stroke-dasharray="2.8 1.7 1.8 5.0 0.9 9.7 1.5 5.0" opacity="0.6"/>
<path d="M500.5,584.8A112.1,112.1 0 0 1 479.7,607.9" fill="none" stroke="#2356a3" stroke-width="2.8" stroke-dasharray="1.2 3.2 2.9 5.3 2.5 4.0 1.6 2.5 1.1 4.8 1.5 3.1" opacity="0.85"/>
<path d="M498.9,583.7A110.2,110.2 0 0 1 478.5,606.4" fill="none" stroke="#2356a3" stroke-width="1.6" stroke-dasharray="2.3 8.6 2.4 14.4 3.5 12.5" opacity="0.6"/>
<path d="M487.6,576A96.5,96.5 0 0 1 469.7,595.9" fill="none" stroke="#2356a3" stroke-width="2.8" stroke-dasharray="1.6 5.9 1.6 0.8 2.3 1.6 1.2 7.8 2.3 1.7 1.3 1.7" opacity="0.85"/>
<path d="M485.9,574.9A94.5,94.5 0 0 1 468.4,594.4" fill="none" stroke="#2356a3" stroke-width="1.6" stroke-dasharray="1.6 11.2 2.2 9.1 1.7 14.8" opacity="0.6"/>
<path d="M477.1,610A112.1,112.1 0 0 1 450.2,625.7" fill="none" stroke="#2356a3" stroke-width="2.8" stroke-dasharray="2.0 2.2 3.1 0.9 3.0 1.6 2.1 1.6 2.2 4.2 3.2 0.7 1.8 3.2" opacity="0.85"/>
<path d="M475.9,608.4A110.2,110.2 0 0 1 449.5,623.9" fill="none" stroke="#2356a3" stroke-width="1.6" stroke-dasharray="1.2 5.1 2.6 4.9 3.1 11.3 3.0 8.4" opacity="0.6"/>
<path d="M467.4,597.7A96.5,96.5 0 0 1 444.3,611.3" fill="none" stroke="#2356a3" stroke-width="2.8" stroke-dasharray="1.7 2.6 2.0 6.1 2.5 3.5 1.4 3.9 1.9 7.9" opacity="0.85"/>
<path d="M466.2,596.2A94.5,94.5 0 0 1 443.6,609.4" fill="none" stroke="#2356a3" stroke-width="1.6" stroke-dasharray="2.7 18.3 2.9 15.2" opacity="0.6"/>
<path d="M447.1,626.9A112.1,112.1 0 0 1 415.5,633.8" fill="none" stroke="#2356a3" stroke-width="2.8" stroke-dasharray="0.9 4.8 1.3 2.3 1.8 7.0 1.1 5.8 1.9 6.0" opacity="0.85"/>
<path d="M446.5,625.1A110.2,110.2 0 0 1 415.4,631.9" fill="none" stroke="#2356a3" stroke-width="1.6" stroke-dasharray="3.1 9.9 2.3 5.1 1.5 5.0 2.7 8.9" opacity="0.6"/>
<path d="M441.6,612.3A96.5,96.5 0 0 1 414.4,618.3" fill="none" stroke="#2356a3" stroke-width="2.8" stroke-dasharray="2.4 3.6 1.4 3.7 2.1 1.6 1.3 6.5 2.1 6.6" opacity="0.85"/>
<path d="M440.9,610.5A94.5,94.5 0 0 1 414.3,616.3" fill="none" stroke="#2356a3" stroke-width="1.6" stroke-dasharray="0.7 9.0 2.8 2.7 0.8 9.7 1.8 2.9" opacity="0.6"/>
<path d="M412.2,634A112.1,112.1 0 0 1 385.6,631.9" fill="none" stroke="#2356a3" stroke-width="2.8" stroke-dasharray="1.4 3.1 2.1 6.8 2.7 3.7 0.8 2.0 2.3 5.9" opacity="0.85"/>
<path d="M412.1,632.1A110.2,110.2 0 0 1 386,630" fill="none" stroke="#2356a3" stroke-width="1.6" stroke-dasharray="1.1 11.4 3.4 8.4 0.8 2.2" opacity="0.6"/>
<path d="M411.6,618.4A96.5,96.5 0 0 1 388.7,616.6" fill="none" stroke="#2356a3" stroke-width="2.8" stroke-dasharray="1.3 7.0 1.6 6.5 2.4 8.4" opacity="0.85"/>
<path d="M411.5,616.5A94.5,94.5 0 0 1 389,614.7" fill="none" stroke="#2356a3" stroke-width="1.6" stroke-dasharray="1.7 16.1 3.4 12.1" opacity="0.6"/>
<path d="M382.3,631.2A112.1,112.1 0 0 1 358.6,622.9" fill="none" stroke="#2356a3" stroke-width="2.8" stroke-dasharray="0.7 2.2 2.6 4.8 1.8 4.8 2.3 2.4 3.1 1.3" opacity="0.85"/>
<path d="M382.8,629.3A110.2,110.2 0 0 1 359.5,621.1" fill="none" stroke="#2356a3" stroke-width="1.6" stroke-dasharray="0.8 7.1 1.4 6.1 1.6 10.6" opacity="0.6"/>
<path d="M385.9,616A96.5,96.5 0 0 1 365.5,608.8" fill="none" stroke="#2356a3" stroke-width="2.8" stroke-dasharray="2.6 6.9 0.6 3.1 1.4 2.5 1.8 2.2 1.4 2.7" opacity="0.85"/>
<path d="M386.3,614.1A94.5,94.5 0 0 1 366.3,607" fill="none" stroke="#2356a3" stroke-width="1.6" stroke-dasharray="2.8 8.5 2.9 14.3" opacity="0.6"/>
<path d="M355.7,621.4A112.1,112.1 0 0 1 335.5,607.9" fill="none" stroke="#2356a3" stroke-width="2.8" stroke-dasharray="1.5 0.7 3.1 2.0 2.5 1.8 3.0 1.8 1.6 4.0 1.0 1.1 1.3 4.0" opacity="0.85"/>
<path d="M356.6,619.6A110.2,110.2 0 0 1 336.8,606.4" fill="none" stroke="#2356a3" stroke-width="1.6" stroke-dasharray="1.1 5.4 1.1 2.5 3.3 5.4 1.5 4.6" opacity="0.6"/>
<path d="M362.9,607.5A96.5,96.5 0 0 1 345.5,595.9" fill="none" stroke="#2356a3" stroke-width="2.8" stroke-dasharray="0.8 2.4 1.5 4.0 2.3 0.8 1.6 1.9 2.8 2.2 1.1 3.9" opacity="0.85"/>
<path d="M363.8,605.8A94.5,94.5 0 0 1 346.8,594.4" fill="none" stroke="#2356a3" stroke-width="1.6" stroke-dasharray="1.2 9.5 3.0 2.2 3.0 4.8" opacity="0.6"/>
<path d="M333,605.7A112.1,112.1 0 0 1 317.4,588.6" fill="none" stroke="#2356a3" stroke-width="2.8" stroke-dasharray="3.3 3.9 1.7 1.4 1.8 2.4 1.8 3.1 2.2 3.4" opacity="0.85"/>
<path d="M334.3,604.2A110.2,110.2 0 0 1 319,587.5" fill="none" stroke="#2356a3" stroke-width="1.6" stroke-dasharray="3.4 3.8 3.3 3.0 1.8 4.2 1.9 6.8" opacity="0.6"/>
<path d="M343.4,594A96.5,96.5 0 0 1 330,579.3" fill="none" stroke="#2356a3" stroke-width="2.8" stroke-dasharray="0.9 4.4 0.6 3.9 2.1 2.0 2.6 1.2 1.6 2.2" opacity="0.85"/>
<path d="M344.7,592.6A94.5,94.5 0 0 1 331.6,578.2" fill="none" stroke="#2356a3" stroke-width="1.6" stroke-dasharray="2.7 4.0 2.5 3.2 3.3 2.5 3.0 4.6" opacity="0.6"/>
<path d="M315.5,585.9A112.1,112.1 0 0 1 307.7,572.9" fill="none" stroke="#2356a3" stroke-width="2.8" stroke-dasharray="2.6 2.7 1.0 5.5 1.3 1.1 2.3 1.5" opacity="0.85"/>
<path d="M317.1,584.8A110.2,110.2 0 0 1 309.4,572" fill="none" stroke="#2356a3" stroke-width="1.6" stroke-dasharray="2.4 12.3 3.0 8.3" opacity="0.6"/>
<path d="M328.3,577A96.5,96.5 0 0 1 321.6,565.8" fill="none" stroke="#2356a3" stroke-width="2.8" stroke-dasharray="2.1 1.6 2.6 1.1 3.4 2.4" opacity="0.85"/>
<path d="M329.9,575.9A94.5,94.5 0 0 1 323.4,564.9" fill="none" stroke="#2356a3" stroke-width="1.6" stroke-dasharray="2.2 12.7" opacity="0.6"/>
<path transform="scale(.1)" d="m4235 4073h0m-77-1h0m-63-1h0m-17 7h0m-6-1h0m-151-5h0m-13 33h0m21-1h0m3 2h0m1-18h0m1 1h0m5 2h0m1 0h0m1 14h0m1-1h0m91-19h0m73 10h0m5-12h0m33 2h0m5 15h0m1-7h0m3 4h0m2 5h0m79-22h0m1 14h0m5 4h0m2 1h0m36 9h0m3-11h0m2-1h0m2 9h0m4-8h0m0 9h0m2-7h0m0 7h0m1-2h0m0-5h0m49 7h0m13 2h0m3-8h0m11-1h0m15 61h0m-6-14h0m0-4h0m-2 4h0m-2 2h0m-3 5h0m-55-7h0m-37 23h0m-52-2h0m-53-5h0m-65-5h0m-2 2h0m-24 4h0m-5 0h0m-9-2h0m-38 6h0m-7-8h0m-7-1h0m-30 4h0m-26 1h0m-4 5h0m-32-25h0m-69 11h0m-6-2h0m-10 12h0m-89-12h0m-4-12h0m-19 19h0m-2 7h0m-3-14h0m-5-5h0m-1 1h0m-3 15h0m-1-7h0m-3 6h0m-13-11h0m-47 14h0m-1 3h0m-9 1h0m86-42h0m13 8h0m3-12h0m6-3h0m0 16h0m1-9h0m78-12h0m11 3h0m13 8h0m5-8h0m2 20h0m8-7h0m4-2h0m2-18h0m7 0h0m8 8h0m4 8h0m0-17h0m4 18h0m2 7h0m4-18h0m7-2h0m9 13h0m1-12h0m3 1h0m5 13h0m5-19h0m19 11h0m48-4h0m34 2h0m1-4h0m92 23h0m27-28h0m1 27h0m105-4h0m14-19h0m3-4h0m1 18h0m1 2h0m3-21h0m0 19h0m1-13h0m1 17h0m0-6h0m0-15h0m1 21h0m4-17h0m3 21h0m4-16h0m2 0h0m3-1h0m19 18h0m3-16h0m5 13h0m1-4h0m1-18h0m5 0h0m2 7h0m3 2h0m3 10h0m2 5h0m15-13h0m5 6h0m0-5h0m3 4h0m4-3h0m3-13h0m2 14h0m2-11h0m2 20h0m0-2h0m0-15h0m7 7h0m1-9h0m0 0h0m209 68h0m-13 12h0m-2-1h0m-29-25h0m-8 7h0m-5-4h0m-4 21h0m-1-11h0m-2-5h0m-27 18h0m-19-5h0m-1 0h0m-3-11h0m-1-7h0m-6 15h0m-8 1h0m-61 10h0m-53-1h0m-20-4h0m-11-4h0m-30-12h0m-2 7h0m-3-7h0m-12 4h0m-6 2h0m-15-3h0m-12-3h0m-6-2h0m-18-2h0m-56-5h0m-208 1h0m-1 4h0m-67 3h0m-2-3h0m-45 17h0m-2-3h0m-11 6h0m-140-20h0m-24 8h0m-4-2h0m0-4h0m-2 21h0m-1-14h0m-1 6h0m-4-13h0m-1 5h0m-162 41h0m109-11h0m71-12h0m42 27h0m17-1h0m218 0h0m105 3h0m64-5h0m109 3h0m138-25h0m10 8h0m22 3h0m1-6h0m143-6h0m55 4h0m75 18h0m99 65h0m-5 2h0m-32-1h0m-19-4h0m-14-22h0m-2 12h0m-1-3h0m-6 17h0m0-3h0m-2-21h0m0 5h0m-14 11h0m-21-10h0m-108-6h0m-197 22h0m-6-15h0m0 14h0m-3 0h0m-2-9h0m-4 0h0m-1-2h0m-2 9h0m-22-13h0m-1-4h0m-9 2h0m-1 8h0m-2 8h0m-138-25h0m-1 2h0m-2 24h0m-2-11h0m-10 5h0m-50-10h0m-3 4h0m-1-8h0m-131 2h0m-5-5h0m-6 20h0m-2 5h0m0-7h0m0-4h0m-1-2h0m0 0h0m-2 15h0m-4-3h0m-2-20h0m-2-2h0m-3 22h0m-5-18h0m-3 13h0m-6-11h0m-1 0h0m-1 2h0m-4 5h0m-5-18h0m-1 11h0m-1-9h0m-1 10h0m0 4h0m0 12h0m-30-10h0m-4 4h0m-24-12h0m-52 10h0m-4 8h0m-5-13h0m0 5h0m-8 7h0m-4 1h0m-4-18h0m-124-6h0m-33 6h0m-9 7h0m-14 7h0m-146-1h0m-2-2h0m-10-8h0m49-21h0m11-9h0m3 4h0m4-1h0m8-7h0m0 5h0m3-8h0m4 1h0m6 18h0m157-9h0m12-6h0m15-8h0m178 18h0m15-15h0m1 23h0m4-17h0m0 8h0m1 5h0m1 2h0m4-3h0m5 1h0m1 0h0m4-18h0m25 1h0m5-4h0m0 1h0m3 14h0m8 8h0m1-22h0m23-2h0m20 5h0m0 9h0m4 5h0m1-20h0m7 13h0m4 13h0m31-6h0m7-19h0m1 6h0m2 0h0m4 11h0m6-11h0m21 10h0m4 1h0m3 11h0m5-1h0m48 0h0m12 0h0m2 1h0m62-16h0m4 3h0m1 5h0m3-2h0m227-19h0m4 4h0m12 9h0m13-4h0m6 6h0m6-2h0m158 3h0m12 3h0m2 1h0m1-6h0m1-8h0m1 5h0m2-10h0m88 71h0m-3-10h0m0 3h0m-6 5h0m-1-9h0m-3 17h0m-3 3h0m-8-8h0m-31 5h0m0-10h0m-1 8h0m-3-2h0m-8-14h0m0 14h0m-15-7h0m-1-3h0m-62 20h0m-117-2h0m-9-2h0m-14 8h0m-35-5h0m-4 3h0m-11-9h0m-2-5h0m-2 8h0m0-12h0m-2 15h0m-3-10h0m-1 16h0m0-17h0m-8 8h0m-1 1h0m-1 2h0m-1-17h0m-43-3h0m-3 7h0m-8-1h0m-7 5h0m-3-1h0m-2 10h0m-4-18h0m-31-4h0m-6 17h0m-2-8h0m-2-4h0m-1 1h0m-3 4h0m-38 5h0m-118 10h0m-11-1h0m-34-15h0m-29 18h0m-69 1h0m-47-18h0m-35-2h0m-1-8h0m-43 14h0m-77 0h0m-1-6h0m-3 9h0m-8 9h0m-1-2h0m-1-24h0m-8 16h0m-21 0h0m-160-18h0m-34 13h0m-9-1h0m-99-2h0m-9-8h0m-2 3h0m-115 51h0m34 3h0m97-10h0m40 6h0m126-5h0m39 7h0m97-16h0m3-7h0m1 4h0m25-4h0m7 1h0m0 4h0m2 2h0m3-5h0m1 4h0m58-9h0m20 24h0m5-8h0m21 4h0m11-18h0m9 6h0m4 9h0m12-2h0m13-9h0m2 8h0m15-9h0m25-1h0m54-4h0m24 3h0m1 1h0m16-1h0m33-2h0m17 4h0m7-6h0m9 1h0m7-1h0m33 9h0m8 4h0m6-6h0m11-1h0m2 1h0m20 2h0m5 9h0m8-6h0m5 7h0m4-4h0m5 10h0m14-6h0m8 9h0m1-6h0m86-6h0m21 5h0m3 0h0m3 3h0m6-7h0m2-12h0m0 4h0m0-6h0m0 14h0m1-6h0m1-2h0m0 12h0m0-3h0m1-17h0m0 15h0m2-1h0m0-13h0m2 8h0m0-2h0m1-6h0m0 3h0m0 10h0m1-15h0m1 23h0m2-12h0m3-8h0m1 0h0m0 5h0m1-5h0m7 6h0m4-6h0m0 3h0m9-2h0m1-2h0m3 7h0m18 13h0m4-11h0m8 3h0m4-7h0m10 2h0m1 1h0m1 2h0m1-9h0m1 20h0m3-4h0m6-11h0m2 5h0m148 6h0m9 0h0m2-3h0m8 8h0m43-23h0m138 69h0m-8-4h0m-3 1h0m-2-4h0m-2 5h0m-3-5h0m0 17h0m-3-15h0m-80 20h0m-25-21h0m-96 17h0m-45 7h0m-4-11h0m0 0h0m-1-16h0m0 7h0m-1-8h0m-1 12h0m0 6h0m0-16h0m-5 18h0m-3-14h0m-3-4h0m-3 19h0m-5-14h0m-6 0h0m-2 8h0m-2 5h0m-1-4h0m0-10h0m-7-1h0m-3 9h0m-13 9h0m-33-3h0m-33-1h0m-22 3h0m-3-6h0m-4 3h0m-12-12h0m-669-3h0m-28 9h0m-93 3h0m-3-14h0m-2 0h0m-2-1h0m0 8h0m-3 8h0m-18 6h0m-20-15h0m-185 18h0m-1 0h0m-60 2h0m-2-15h0m0-5h0m-1 0h0m0 12h0m-2-3h0m0-14h0m-3 1h0m-22 0h0m-20 25h0m33-32h0m11-3h0m20-17h0m1 12h0m7 3h0m118-22h0m102 18h0m8-4h0m2 12h0m6 4h0m22-23h0m4 22h0m33-25h0m13 4h0m3 15h0m0 0h0m71-17h0m5 23h0m103-26h0m492 8h0m14-1h0m4 2h0m16 4h0m13 6h0m18-20h0m4 27h0m25-26h0m7 1h0m120 14h0m4 4h0m14-14h0m104-4h0m10 6h0m3 5h0m16 15h0m2-10h0m104-17h0m49 20h0m37 49h0m-11-4h0m-8 12h0m-25 8h0m-10-21h0m-69 22h0m-8-10h0m-115-16h0m-81 8h0m-56 15h0m-8-1h0m-24-19h0m-3 3h0m-10-2h0m-1-6h0m0 3h0m-782-2h0m-18 2h0m-13 1h0m-6 7h0m-29 12h0m-9 5h0m-39-21h0m-70 20h0m-4-13h0m-5-4h0m0 14h0m-3-8h0m0 9h0m-8-20h0m-6 19h0m-2-4h0m-86-3h0m-21 10h0m-10-1h0m-16-6h0m-24 9h0m-3-11h0m-25-6h0m-1 0h0m-1-3h0m-5 12h0m-1-5h0m-6-9h0m-10 0h0m-35 21h0m-4 23h0m1-12h0m1 18h0m4-23h0m1 6h0m4 7h0m4 1h0m3 5h0m3 6h0m1-3h0m1 3h0m4-22h0m53-6h0m24 20h0m23-19h0m57 25h0m66-22h0m1-1h0m8 1h0m15 12h0m89-1h0m24-17h0m1056 14h0m24 14h0m85-27h0m27 21h0m55-12h0m18-5h0m67 85h0m-4-4h0m-90-25h0m-86 8h0m-42-4h0m-99 5h0m-1128 12h0m-2 4h0m-9 4h0m-19-3h0m-10-17h0m-8-7h0m-28 10h0m-2 11h0m-1 2h0m-2-4h0m-4-16h0m-1 23h0m-7-16h0m-5 4h0m-13-9h0m-8 22h0m-5-19h0m-97 6h0m-3 2h0m-38-18h0m-30-13h0m9-4h0m11-10h0m7 11h0m1-9h0m9 0h0m3 0h0m4 15h0m1-2h0m1-15h0m3 3h0m3 21h0m3-21h0m2-1h0m1 5h0m2-4h0m1 1h0m4-6h0m31 16h0m8-1h0m11-6h0m76-1h0m12 11h0m5 5h0m2 3h0m1-11h0m0 2h0m2 1h0m3 9h0m2-27h0m2 15h0m0 0h0m1-2h0m1 5h0m3 7h0m1-10h0m10 1h0m3 9h0m97-8h0m4-2h0m2-5h0m3-4h0m1040 12h0m17-10h0m9 17h0m50-5h0m4 3h0m1-18h0m6 13h0m6-17h0m1 8h0m1-2h0m5 1h0m1-8h0m0-2h0m5 13h0m41 16h0m5-10h0m2 10h0m91-16h0m0-3h0m176 77h0m-4-20h0m-12 19h0m0 0h0m-1-5h0m-5 0h0m-11-5h0m-9-1h0m-9-7h0m-15 6h0m-2-5h0m-1 5h0m-53-1h0m-8-6h0m-2 8h0m-100 1h0m-6 11h0m-6-6h0m-3-1h0m-2 2h0m-21-10h0m-70 9h0m-4-2h0m-5-8h0m-16-8h0m-1157 7h0m-9 5h0m-10 3h0m-7 0h0m-76-8h0m-14-5h0m-112-2h0m-1 15h0m-10 0h0m-27 11h0m-32-20h0m-71 36h0m12-12h0m6 16h0m6-10h0m9 13h0m0-9h0m0 2h0m1-6h0m1 8h0m4 4h0m3 2h0m4-9h0m4 6h0m40-10h0m13 13h0m2 5h0m3-17h0m2 8h0m16-16h0m77 2h0m15 9h0m5 2h0m6 10h0m82 2h0m19-14h0m1238-14h0m12 15h0m67 0h0m0-11h0m14 5h0m7-6h0m4-4h0m113 9h0m64-8h0m13 12h0m2 3h0m7-6h0m13-10h0m22 16h0m-15 53h0m-2 9h0m-1-4h0m-3-7h0m-8 8h0m-2 1h0m-3-12h0m-2 11h0m-26 14h0m-7-14h0m-7-4h0m-5 3h0m-95 4h0m-9 0h0m-3 0h0m-1 0h0m-3-12h0m-9-2h0m-2 3h0m-10 15h0m-43 4h0m-3 2h0m-2-5h0m-1378 1h0m-3-2h0m-28-6h0m-8 5h0m-50-17h0m0 7h0m-1 14h0m0-1h0m-6-12h0m-5-2h0m-12-8h0m-70 2h0m-8 12h0m-3-12h0m-10 12h0m-33-7h0m-4 10h0m-3-8h0m-3 13h0m-8-24h0m-3 2h0m-1 12h0m-6-4h0m0-8h0m-11-12h0m6 0h0m2 7h0m3-17h0m9 5h0m5 7h0m6-13h0m5 19h0m5-4h0m1-20h0m4 20h0m40 2h0m7-7h0m5-8h0m10-4h0m55 15h0m7 7h0m3 0h0m86-23h0m42 7h0m1-5h0m0 16h0m13-20h0m1-1h0m1308 18h0m3-1h0m105 6h0m81-16h0m1 4h0m9 6h0m6-3h0m71 9h0m2-4h0m1-10h0m7 17h0m2-7h0m5-21h0m1 26h0m12-12h0m13 69h0m-80-11h0m-2-6h0m-5-6h0m-155 0h0m-49-1h0m-1389 17h0m-54-7h0m-5 7h0m-9-8h0m-21-2h0m-44 16h0m-60-14h0m-12 18h0m-19 17h0m9-6h0m2-1h0m77 15h0m11-1h0m1-5h0m3 5h0m4 7h0m1 1h0m30-27h0m55 4h0m1461 18h0m2-1h0m75 4h0m2-4h0m19-1h0m86-16h0m67 1h0m6 17h0m3-13h0m1 11h0m5-8h0m1-9h0m2 20h0m3-11h0m33 64h0m-4 4h0m-22-4h0m-61 2h0m-10-1h0m-64 7h0m-61-18h0m-42 10h0m-5-16h0m-5 3h0m-1525 5h0m-2-5h0m-2 5h0m-12 18h0m-36-23h0m-132 6h0m-16 6h0m-35-5h0m-2 1h0m-14-6h0m-10 0h0m-7 11h0m-9-15h0m-12-10h0m11 6h0m10-8h0m1 3h0m82 0h0m8 3h0m102-6h0m4-4h0m0 3h0m5-7h0m0 9h0m4-7h0m1 9h0m8-23h0m6 4h0m37 12h0m20 4h0m5-8h0m9-6h0m1491 18h0m2 4h0m1-5h0m9 4h0m32-9h0m15-18h0m1 0h0m122 21h0m1-11h0m6 17h0m47-27h0m6 25h0m55 35h0m-9-1h0m-6 4h0m-10-4h0m-5 7h0m0 3h0m-3-9h0m-10 2h0m0 5h0m-21-3h0m-16 22h0m-5-17h0m-1-3h0m-8 6h0m0-12h0m-60 25h0m-4 0h0m-14 1h0m-6-3h0m-2-22h0m-3 24h0m0 1h0m-5-22h0m-2 8h0m-1-12h0m-4 3h0m-2 1h0m-4 9h0m-12 10h0m-4-2h0m-32 7h0m-12-14h0m-1668 10h0m-3-9h0m-2 5h0m-2-1h0m-3 5h0m-12-18h0m-2 8h0m-5 6h0m-57-14h0m-5 5h0m-3 9h0m-43-14h0m33 50h0m14-22h0m55 15h0m1-7h0m1-9h0m0 14h0m4-9h0m5 4h0m1 1h0m1-8h0m4 3h0m0-3h0m2 0h0m2-2h0m0 1h0m2 0h0m2 20h0m1 3h0m0-15h0m0 3h0m1-11h0m2-4h0m1 20h0m0-5h0m1-15h0m0 17h0m0 9h0m2-14h0m0-1h0m6-8h0m2 3h0m1 16h0m2-20h0m6 0h0m60 4h0m0-4h0m2 6h0m1604-1h0m7 19h0m5 2h0m15-6h0m11-10h0m2 6h0m8 7h0m2-5h0m0-15h0m0 12h0m2-1h0m1-9h0m2 12h0m2 2h0m2-9h0m0 0h0m2 10h0m4-15h0m0 6h0m3 8h0m3-9h0m13 3h0m3 11h0m9 0h0m0-5h0m5-17h0m62 2h0m1-4h0m78 18h0m4-5h0m5 1h0m5 6h0m0 2h0m0-5h0m36 62h0m-5-12h0m-16 7h0m-5 7h0m-65-3h0m-10-14h0m-3-3h0m-169-1h0m-1653 15h0m-2 2h0m-1-1h0m0 3h0m-25-19h0m-7 6h0m-1-1h0m-6 2h0m-13-4h0m-4 1h0m-6 3h0m-4 2h0m-4-8h0m-15 17h0m-5 6h0m-2-5h0m-4 0h0m-67-4h0m-8 9h0m-51-22h0m-1 2h0m-1-6h0m-33 6h0m-10-6h0m2-5h0m50-19h0m1 6h0m6 4h0m39 9h0m6-2h0m2-8h0m0 13h0m4-3h0m60-10h0m10-6h0m11 8h0m1 3h0m3 5h0m0-5h0m3 8h0m0-2h0m10-25h0m5 21h0m1-7h0m1 3h0m4 8h0m4-5h0m7 8h0m3-3h0m0 1h0m18-3h0m32-11h0m3-10h0m1628 3h0m6 18h0m8-1h0m1 5h0m12-24h0m41 2h0m18 2h0m2-4h0m93 7h0m114 61h0m-3 7h0m0-11h0m-9 8h0m-9-3h0m-2-12h0m-5 25h0m-1-2h0m-1-15h0m-6 3h0m-12-10h0m-27 12h0m-28-5h0m-5-9h0m-84 20h0m-4-5h0m-7 2h0m-1 5h0m0 5h0m-5-17h0m-2 7h0m-6 5h0m-42 2h0m-6-24h0m-6 3h0m-1675 0h0m0 12h0m-2-4h0m-3 10h0m0-6h0m-6 10h0m-44-18h0m-15 4h0m-2 0h0m-3 1h0m-7-8h0m-3 19h0m0-17h0m-2 18h0m-2-17h0m-3-3h0m-1 25h0m-18-10h0m-61-2h0m-40 0h0m-16-2h0m-2 12h0m-2-13h0m0 4h0m-1 5h0m-2 5h0m0-6h0m-1-17h0m-1 5h0m-4 17h0m-5-12h0m0 9h0m0 1h0m-1-21h0m-2 15h0m-1-11h0m-3 8h0m0 5h0m-6 2h0m0-4h0m-2-4h0m0 12h0m0-14h0m-1 14h0m-1-5h0m-10 13h0m10 8h0m8 14h0m0-17h0m2 1h0m1-3h0m4-5h0m2 0h0m2 4h0m3-6h0m2 18h0m2-1h0m1-10h0m6 1h0m2 14h0m1-4h0m40 1h0m6-15h0m0 2h0m2-2h0m66-2h0m14 5h0m3-2h0m1-4h0m1 5h0m2 9h0m3 12h0m0-15h0m3-4h0m0-9h0m1 4h0m0 13h0m10 0h0m60 0h0m1703-13h0m31 16h0m34-8h0m1 13h0m1 1h0m4-3h0m11 3h0m84-7h0m61-19h0m36 87h0m-84-18h0m-51 8h0m0 3h0m-11-4h0m0 4h0m-3 7h0m-7-8h0m0 9h0m-1-19h0m-1 19h0m0-9h0m-1 2h0m0 4h0m-3-13h0m-1 5h0m-2 11h0m0-7h0m-1-22h0m-4 17h0m-8-8h0m-6 7h0m-2 11h0m-2-18h0m-1 2h0m-1-4h0m0 20h0m-3-26h0m-1 16h0m0-4h0m-1 9h0m-1-20h0m-1 1h0m-2 14h0m-42-12h0m-1737 1h0m-3 2h0m-3-2h0m-4 21h0m-2-7h0m-49 9h0m-7-20h0m-17 21h0m-13-10h0m-1 10h0m-4-3h0m-63-19h0m-9 19h0m-58-48h0m18-6h0m1-2h0m11 5h0m2-1h0m18 18h0m17-13h0m1 1h0m9-7h0m3 0h0m71 1h0m6 17h0m19-20h0m36 9h0m16 8h0m6-16h0m1727 11h0m3 13h0m32-14h0m4-3h0m10-8h0m21 28h0m3-1h0m16 0h0m7-14h0m69-10h0m79 59h0m-1 4h0m-1 3h0m0-3h0m-1 2h0m-6 6h0m0-3h0m-9-2h0m-2-9h0m-7 11h0m-34 10h0m-4 5h0m-162-13h0m-7-3h0m-1745-8h0m-3-2h0m-3 1h0m-30 13h0m-22 2h0m-1-1h0m0 3h0m-6-3h0m-6-8h0m-4-4h0m-1 11h0m-5-7h0m0-1h0m-2 1h0m-2 4h0m0-9h0m0 3h0m-2-5h0m-5 13h0m-1-9h0m-4 5h0m0 3h0m-1-7h0m-10-7h0m-132 23h0m-22-2h0m5 33h0m1-18h0m4-3h0m6 8h0m4-2h0m0-2h0m3 8h0m2-8h0m2-4h0m0 16h0m2-3h0m1 12h0m0-5h0m1-5h0m1 6h0m2-8h0m10 4h0m2 1h0m16-20h0m25 19h0m0-2h0m1-3h0m82 14h0m80-6h0m1 5h0m1762-18h0m7 8h0m1-16h0m82 28h0m3-8h0m1-5h0m6 6h0m1 1h0m6-2h0m3-11h0m58 17h0m65-5h0m6-8h0m3 1h0m2 3h0m-2 51h0m-11-3h0m-9 11h0m-4-12h0m-5-4h0m-33 20h0m-3-7h0m-79 2h0m-4 0h0m-3-13h0m-17 20h0m-1843 2h0m-9-16h0m-2 16h0m-64 0h0m-14-1h0m-69-20h0m-46 3h0m-27 5h0m-1-1h0m-2 8h0m0-9h0m-2-4h0m-2-4h0m-2 11h0m-3-6h0m-2 7h0m0-14h0m-1 9h0m0-6h0m-10 2h0m-4 23h0m-3-18h0m7-31h0m7 2h0m3-4h0m0 10h0m5-11h0m1 22h0m1-26h0m3 6h0m4-1h0m1 5h0m0 16h0m8-27h0m5 8h0m7 5h0m2 10h0m3-15h0m2 2h0m5-9h0m1 12h0m21-8h0m2 21h0m9 1h0m0-6h0m2-2h0m1-14h0m3 19h0m1-16h0m0-6h0m1-4h0m2 10h0m9 6h0m74-4h0m4-2h0m5-9h0m2 1h0m2 9h0m1-8h0m3 7h0m1 2h0m3-6h0m4 6h0m46 18h0m2-7h0m3-12h0m0 8h0m1774-5h0m3-4h0m1-1h0m4 10h0m58-19h0m88 1h0m4 19h0m2 1h0m55-2h0m1 9h0m-20 35h0m-30-3h0m-135 11h0m-1811-8h0m-8 10h0m-46-10h0m-7 5h0m-10 9h0m-2-11h0m-4-2h0m-1-1h0m-79 27h0m-3-6h0m-1 1h0m-1-23h0m-3 11h0m-1 5h0m0 6h0m0-18h0m-2 15h0m-25 3h0m-2 2h0m-7-6h0m-9 5h0m-1 0h0m-2 4h0m-2-1h0m-1 2h0m-1-1h0m0-7h0m-4 4h0m-5 4h0m0-1h0m-4-6h0m-5 5h0m-1-5h0m-1-9h0m-5 15h0m0 0h0m-3-1h0m-9 7h0m6 2h0m9-3h0m3-3h0m1 2h0m13 3h0m4-1h0m1-2h0m6-1h0m6 5h0m11-3h0m184 8h0m1797 11h0m3 6h0m5-4h0m76 2h0m10-2h0m70-5h0m61-9h0m9 79h0m-26-1h0m-39-1h0m-59-12h0m-3 3h0m-4 10h0m-8-12h0m-6 8h0m-17-9h0m-7 10h0m-22-13h0m-36-4h0m-4 15h0m0 2h0m-2-6h0m-1789-12h0m-8 18h0m-2-14h0m-55-9h0m-5 16h0m-6-14h0m-2-2h0m-7 25h0m-8 0h0m-4-23h0m-64 4h0m-3 9h0m-3 10h0m-4-20h0m-47 17h0m50-41h0m1-5h0m4 4h0m2 14h0m3-16h0m67 0h0m9 9h0m6 1h0m1 3h0m1 1h0m1-5h0m2 3h0m2 3h0m24-13h0m40 8h0m5-8h0m1798 4h0m69-9h0m21-5h0m108 2h0m0 13h0m1-1h0m3-8h0m1 5h0m2 8h0m0-8h0m0 7h0m2-10h0m1-1h0m1 2h0m4 0h0m1 10h0m6-3h0m15-12h0m5 2h0m8 6h0m-14 54h0m0-6h0m-2 3h0m-5 8h0m-2-4h0m-1 1h0m-6-1h0m-2 2h0m-7 1h0m-59-10h0m-57 26h0m-19-3h0m-71-23h0m-4 2h0m-4-3h0m-1793 23h0m-2-2h0m-5 1h0m-1-7h0m-2-7h0m-38 14h0m-2 6h0m-15-5h0m-4-24h0m-2 26h0m-5-5h0m-15-19h0m-1 17h0m-1-1h0m-5-5h0m-63 16h0m-1-8h0m-2-21h0m-15 25h0m-34-11h0m-5-10h0m-3 12h0m-1-13h0m-1 12h0m-2-11h0m-3-4h0m0 27h0m-2 0h0m0-11h0m-8-15h0m-2 0h0m0 28h0m0-23h0m-7 1h0m-4-4h0m-7 31h0m19 1h0m8 1h0m3 1h0m2 2h0m19-3h0m42 16h0m1-18h0m2-2h0m3 19h0m66-13h0m1 4h0m2 7h0m10 3h0m1-19h0m5 3h0m2 3h0m2-8h0m5 16h0m1-6h0m1-7h0m1 12h0m3-3h0m1-12h0m2 1h0m0 19h0m0-17h0m1 11h0m1-11h0m0 9h0m23-2h0m24-1h0m8 5h0m1 2h0m1784-5h0m11-6h0m39 22h0m5 0h0m15-27h0m11 16h0m11-11h0m0 2h0m1 12h0m3-10h0m71-8h0m24 12h0m51 53h0m-7-4h0m-155 20h0m0-13h0m-3 3h0m-4-6h0m-1-2h0m0-1h0m-17 22h0m-1 2h0m-13-17h0m-36-6h0m-7 14h0m-1774 1h0m-7-18h0m-2 6h0m-39 16h0m-4-1h0m0-7h0m-1 0h0m-1 1h0m-5-1h0m-2 2h0m-2-5h0m-7 5h0m-11-9h0m-2 9h0m-1 3h0m-3-10h0m0 0h0m0 2h0m0 9h0m-6-8h0m-1-4h0m-61 0h0m-39 15h0m-11 2h0m-6-1h0m-7-22h0m-9 16h0m-8-12h0m-2-9h0m0 5h0m-1 1h0m-11-13h0m3 4h0m5 2h0m12-6h0m6-3h0m2-5h0m0 4h0m5 7h0m1-17h0m2 11h0m1-2h0m1-2h0m16-2h0m24 16h0m3-6h0m1 2h0m0-25h0m145 1h0m9 25h0m3-22h0m2 21h0m1781-2h0m8 1h0m40-16h0m10 2h0m3-3h0m5 0h0m0-1h0m9 1h0m1-6h0m1 27h0m1-23h0m9 5h0m2 12h0m77-22h0m2 5h0m17 18h0m17 3h0m15-12h0m14 11h0m5 1h0m1-6h0m1-4h0m1 12h0m1-9h0m11 2h0m-99 51h0m-73 2h0m-14 2h0m-1-15h0m-1 21h0m-2 2h0m-1-17h0m-1-4h0m-2 18h0m-1-18h0m-3-3h0m-5 2h0m-9 5h0m-8 3h0m0 1h0m-31-3h0m-1-6h0m-4 22h0m-3-15h0m-1762 1h0m-7 8h0m-1-2h0m-151-3h0m-7-9h0m-3-1h0m-33 17h0m-1-10h0m-4-2h0m-2 2h0m-1-3h0m-1 11h0m0-13h0m-6 24h0m-21-26h0m-1 16h0m-12 8h0m6 7h0m6 21h0m8-6h0m3-19h0m0 4h0m14-2h0m4 26h0m5-2h0m5-21h0m40 24h0m3-24h0m2 21h0m0-23h0m0 12h0m5 12h0m152-2h0m1756 1h0m40-6h0m40-20h0m12 2h0m2-2h0m13 3h0m66-2h0m38 18h0m5-2h0m6-2h0m2 2h0m1 12h0m6-7h0m17-5h0m-19 63h0m-4 7h0m-7-8h0m-2-6h0m-3 7h0m-30 1h0m-2 2h0m-30 1h0m-73-21h0m-2-1h0m-87 21h0m-6-5h0m-1717-5h0m-7 11h0m0-11h0m-67-6h0m-3-7h0m-7 10h0m-11-8h0m-12 9h0m-115-4h0m-11-1h0m-2 3h0m-2-10h0m-4 4h0m-1 1h0m-37-33h0m40 13h0m0 7h0m0 5h0m4-25h0m1 26h0m4-8h0m3-3h0m0-2h0m2 9h0m1-1h0m7 3h0m2-10h0m42 3h0m0 6h0m54-9h0m4-9h0m5 8h0m3-1h0m12-2h0m3 14h0m13 0h0m0-7h0m10 3h0m1-8h0m7 7h0m2-8h0m1823-3h0m3 3h0m1 1h0m8-5h0m0 5h0m5 0h0m7 2h0m0 5h0m4-5h0m3 9h0m3-7h0m8 2h0m135 8h0m15-18h0m9-8h0m-24 66h0m-9-5h0m-55 21h0m-73-1h0m-2-9h0m-19 2h0m-3 1h0m-9-2h0m-11-12h0m-4 19h0m-39-6h0m-2-7h0m-3 10h0m-1-5h0m-7 15h0m-1703-16h0m-4-5h0m-53-5h0m-4 8h0m-4 9h0m-1-8h0m-4 6h0m-2 0h0m-5-4h0m-2 15h0m-2-2h0m-3-5h0m-9-9h0m-63 16h0m-32-1h0m-3-14h0m-4 11h0m-11-5h0m-8 10h0m-3-1h0m-16-2h0m-1-4h0m-4-3h0m-13-17h0m-6 26h0m16 3h0m1-1h0m9 13h0m9-13h0m0 23h0m2 6h0m1-25h0m3 25h0m4-30h0m9 13h0m3-9h0m7 18h0m2-2h0m32-15h0m2 12h0m5 8h0m171-11h0m3 7h0m1669 4h0m2-3h0m13-16h0m52 10h0m4 13h0m4-14h0m6 10h0m8 4h0m7-29h0m2 28h0m2-20h0m70 12h0m3 1h0m8-12h0m-28 62h0m-57 4h0m-3-8h0m-6-6h0m-2 3h0m-3-4h0m0 8h0m-1-1h0m-7-6h0m-1 2h0m-2-2h0m-80 11h0m-5-9h0m-1 6h0m-1632 6h0m-7 9h0m-1-4h0m-1-11h0m-167 8h0m-2 4h0m0-5h0m-1 5h0m-1-9h0m-34 1h0m-3 3h0m-4-12h0m-6 4h0m-4 16h0m-2-17h0m-1 7h0m0-7h0m-1 23h0m-3-19h0m-2 18h0m-8 0h0m-17-26h0m-3 8h0m0-11h0m-1 1h0m-1 16h0m-5-5h0m-2-4h0m-13-21h0m11-11h0m0 6h0m9 14h0m4-15h0m1-4h0m6 1h0m0-5h0m1 8h0m2 15h0m1-6h0m2-6h0m0-13h0m1 29h0m2-25h0m2 4h0m3 9h0m53-18h0m11 17h0m94-7h0m65 8h0m1733-17h0m0 22h0m0 5h0m1 0h0m3-23h0m3-4h0m4 6h0m2 22h0m1-6h0m2-2h0m1-18h0m1 4h0m9 1h0m10-1h0m9 3h0m50 15h0m5-1h0m1-8h0m6-4h0m1-3h0m37 8h0m-61 58h0m-2-6h0m-8 11h0m-76 4h0m-4-6h0m0 1h0m-1 8h0m-3-5h0m-7 5h0m-86-1h0m-2 0h0m-1586 1h0m-4 1h0m-49-27h0m-15 0h0m-1 13h0m-8-5h0m-4 0h0m-1 18h0m-1-10h0m0-1h0m-3 6h0m-1-9h0m-1-4h0m-2 12h0m-4 5h0m-3-12h0m-3 6h0m-1-4h0m-1-4h0m-6 7h0m-3 2h0m0-1h0m-78-9h0m-37 0h0m-10 1h0m-3-4h0m-3 7h0m-3-3h0m-1 0h0m-4 13h0m-3-17h0m-2-4h0m-4 18h0m-3-8h0m-2-1h0m0 4h0m-1-9h0m-1-6h0m-1 10h0m-1-5h0m-1-6h0m-9 16h0m0-3h0m-2-11h0m-2-3h0m-6 14h0m0-1h0m-9-10h0m125 38h0m2 3h0m5 2h0m63-11h0m11 24h0m11-1h0m15-3h0m1-3h0m13-8h0m3-6h0m13 20h0m0 1h0m1-11h0m1 9h0m23-13h0m5-8h0m10 12h0m1-3h0m2 13h0m6-2h0m1556-2h0m1-3h0m9-4h0m1 0h0m5-14h0m50 5h0m4-3h0m14 9h0m2-7h0m1 2h0m5 19h0m1-9h0m4-8h0m2 3h0m28-1h0m52 13h0m4-20h0m11-3h0m31 13h0m3 2h0m2 2h0m5-15h0m1 9h0m0 9h0m4-7h0m2-5h0m8 5h0m1 10h0m2-7h0m1 8h0m1 0h0m2-16h0m1-1h0m7 4h0m-20 72h0m0 2h0m-4-12h0m-1-6h0m-4 6h0m0 11h0m-3-7h0m-1-5h0m-3-6h0m0 5h0m-5 2h0m0 3h0m-7-7h0m-53 0h0m-6-10h0m-85 12h0m-14-2h0m-4 3h0m-16-13h0m-1 2h0m-4-3h0m-2 0h0m-1564 6h0m-1 7h0m-54-12h0m-122 15h0m-4-6h0m-56 12h0m-39-31h0m12 0h0m4 2h0m5-4h0m2 6h0m7-4h0m111-7h0m15-1h0m1-12h0m0 4h0m5-6h0m3 4h0m2 15h0m6-14h0m4 2h0m3-2h0m3 1h0m0-1h0m3 2h0m3 1h0m2 12h0m5-14h0m59 6h0m0-11h0m2 4h0m1544 17h0m27 5h0m19-6h0m121 8h0m7 1h0m8-18h0m4-12h0m17 26h0m24-1h0m11-8h0m1-16h0m0 2h0m3 3h0m8 8h0m3 0h0m7 6h0m2 5h0m0-20h0m3 24h0m-7 40h0m-6-7h0m-14-1h0m-8 27h0m-41-12h0m-27-15h0m-17 28h0m-4-3h0m-189 3h0m-1440-1h0m-1-4h0m-188 3h0m-1 0h0m-9-18h0m-28-4h0m-10 13h0m-2-14h0m-1 15h0m-6-5h0m-4 6h0m-2-9h0m0 13h0m-5 2h0m-1-3h0m-5-8h0m-1 11h0m-4-9h0m-2 9h0m-5-1h0m0 4h0m-8-9h0m-10-11h0m104 27h0m2 11h0m2-9h0m5 11h0m2-7h0m87-10h0m94 13h0m1408 12h0m3-13h0m7 13h0m9-14h0m3-13h0m53 25h0m3 0h0m1-8h0m1 12h0m3-4h0m8 1h0m1-3h0m109-2h0m5 3h0m6-14h0m56-9h0m8 18h0m2-11h0m5 1h0m6-3h0m31 12h0m-37 44h0m-16 2h0m-49 19h0m-13 0h0m-41 1h0m-77-13h0m-9 15h0m-16-8h0m0 7h0m-4 1h0m-3-8h0m-1-12h0m0 17h0m-5 1h0m0-4h0m-11-1h0m-38-5h0m-34 5h0m-5 7h0m-1-3h0m-18 6h0m-1276 0h0m-12-14h0m-9-11h0m-6 4h0m-34 5h0m-7-7h0m-4 17h0m-3-9h0m0-6h0m-2 11h0m-3 3h0m-2-8h0m-3 8h0m-3 5h0m-3-5h0m-6 6h0m-16-21h0m-191 6h0m-1-3h0m-15-2h0m-6 4h0m0 2h0m8-14h0m11 0h0m8-3h0m6-5h0m44-17h0m1 8h0m13 5h0m103 12h0m27-2h0m2-4h0m1-14h0m0 10h0m16-9h0m3-2h0m27-4h0m0-1h0m13 3h0m1 17h0m12 4h0m1399-13h0m4 8h0m0-6h0m3 1h0m2 1h0m9 4h0m1 4h0m8-7h0m1 1h0m14-11h0m4-1h0m1-6h0m0 7h0m5-7h0m2 2h0m1-5h0m5 7h0m3 2h0m3-3h0m1 7h0m6 15h0m8-23h0m111 2h0m14 5h0m0 4h0m0-10h0m2 9h0m2 1h0m4 12h0m0-4h0m1-4h0m1 8h0m1-27h0m0 29h0m1-11h0m0-9h0m1 17h0m0-18h0m2 10h0m3 3h0m0 2h0m1-10h0m2 13h0m6-18h0m2 14h0m0-9h0m5-4h0m1 2h0m3 9h0m9-6h0m-87 73h0m-69-3h0m-48-22h0m-2 3h0m-4 4h0m-2 3h0m-3-5h0m-7-5h0m-3-1h0m-3-2h0m-12 2h0m-109 2h0m-3 2h0m-5 7h0m-1245 13h0m-11-18h0m-1-3h0m-1 0h0m0 11h0m-1-10h0m-1 3h0m-11-6h0m-30 21h0m-6 1h0m-13-1h0m-2-2h0m-1 5h0m-19-24h0m-11 11h0m-6 12h0m-2-12h0m-97 16h0m-8-10h0m-9-18h0m-27 21h0m-31 36h0m2-5h0m9-20h0m2 24h0m0-6h0m2-2h0m5-1h0m4-12h0m0 8h0m1 10h0m2-23h0m3 2h0m2 22h0m2-9h0m0-6h0m0-7h0m1 11h0m0 10h0m4-17h0m4-4h0m0 22h0m8-2h0m6 2h0m7-12h0m15-13h0m12 18h0m3-7h0m8 15h0m58-20h0m28 14h0m6 6h0m6-21h0m3 8h0m2-7h0m8 1h0m18 21h0m1-7h0m0 1h0m8-5h0m1-3h0m0 10h0m3-1h0m0-11h0m3-7h0m1 20h0m13-22h0m33-3h0m6 9h0m1-5h0m7 6h0m1181 18h0m9-8h0m10-13h0m73-4h0m16 7h0m14 9h0m4 3h0m2-1h0m4-2h0m5 7h0m72-2h0m16-9h0m50-8h0m3 15h0m5 1h0m6 1h0m1-20h0m1 10h0m12 11h0m8-7h0m11-10h0m6 4h0m2 0h0m3 10h0m10-18h0m3-4h0m5 20h0m-65 45h0m-9 10h0m-6-13h0m-3 0h0m0 16h0m-4 2h0m-2-13h0m-5 8h0m0 7h0m-7-13h0m0 5h0m0-5h0m-6-4h0m0 18h0m-10-17h0m-47-3h0m-18 21h0m-3 0h0m-83-18h0m-82 20h0m-50-22h0m-7 10h0m-4-3h0m-3-3h0m-1 5h0m-7 7h0m-10 4h0m-993 4h0m-8 1h0m-3-2h0m-8-13h0m-9 1h0m-17-11h0m-10-5h0m-38 18h0m0 4h0m0 1h0m-3 5h0m-1-17h0m0 15h0m-1-21h0m-4 12h0m-5 3h0m-1 0h0m-2 9h0m-4-8h0m-5 1h0m-3 0h0m-33-13h0m-6-7h0m-1-2h0m-10 28h0m-2-12h0m-73 13h0m-5 0h0m-13-18h0m-22-11h0m-36 27h0m-21-16h0m-8 2h0m-2-4h0m-6 4h0m-2 1h0m0 5h0m0 2h0m0 2h0m-6-1h0m-3-7h0m-2 12h0m-40-35h0m5-8h0m2-9h0m4 4h0m0-8h0m5 7h0m8 2h0m0-4h0m1 0h0m1-4h0m6 2h0m3 5h0m0 3h0m4-10h0m3-1h0m58 18h0m5-12h0m5-6h0m1 7h0m0 3h0m7 13h0m4-5h0m81 1h0m2 7h0m11-17h0m5 14h0m2-10h0m1 7h0m1 4h0m4-12h0m11-10h0m0 4h0m2 6h0m4-4h0m4 10h0m1-18h0m0 14h0m1-2h0m2 16h0m2-27h0m7 26h0m0-26h0m9 23h0m4-4h0m51-17h0m1 1h0m4-5h0m8 3h0m11 19h0m0 1h0m1094 4h0m98-3h0m12 5h0m0-16h0m2-8h0m1 20h0m3-12h0m2 6h0m1 10h0m5-2h0m2-19h0m3 0h0m43-7h0m68 16h0m2 7h0m3-5h0m11-10h0m1-4h0m2 5h0m1 2h0m40 16h0m40-19h0m14-7h0m4 1h0m17 2h0m-54 56h0m-14 23h0m-7-9h0m-2-14h0m0 14h0m-6 6h0m-8 5h0m-5-10h0m-55-16h0m-39 15h0m-134 2h0m-11-7h0m-1 1h0m-6 5h0m-2 2h0m0-16h0m-4 28h0m-1-22h0m-3 9h0m-2 5h0m-31 7h0m-32-25h0m-9 2h0m-14 3h0m-926 20h0m-3-1h0m-21-17h0m-31 19h0m-9-2h0m-67-21h0m-10 16h0m-1-10h0m0-11h0m-8 4h0m-8-4h0m-1 7h0m0 10h0m0-5h0m-1 9h0m-4-1h0m-93 7h0m-12-8h0m-2-11h0m-14-6h0m-4 1h0m-30 21h0m-9-22h0m-3 1h0m-8-1h0m-7 17h0m-2 6h0m-2-2h0m0 4h0m-2-14h0m-6-4h0m-8 0h0m-4 5h0m-8 8h0m-2-3h0m-5 13h0m17 4h0m6-8h0m7 12h0m51 1h0m154-13h0m1 9h0m23 3h0m23 16h0m5 1h0m7-9h0m2 1h0m2 1h0m3-5h0m2-5h0m1 5h0m2 13h0m5-28h0m2 16h0m0-11h0m6 15h0m2 5h0m63-27h0m7 0h0m17 9h0m2-3h0m4 8h0m1 2h0m3 6h0m808 4h0m10 3h0m26-18h0m30 17h0m20 2h0m13-3h0m8 3h0m8-7h0m28 3h0m55-12h0m106 1h0m3 10h0m17-23h0m87 0h0m0 0h0m20 0h0m16 3h0m-72 65h0m-2 10h0m-9-10h0m-7 6h0m-87 8h0m-3-3h0m-26-9h0m-2-6h0m-3 7h0m-1-1h0m-7 13h0m-10 0h0m-112-19h0m-3 12h0m-1-6h0m-1 11h0m-8-5h0m-3-12h0m-4-5h0m-5-1h0m-51 16h0m-4 2h0m-5-14h0m-14-4h0m-104 26h0m-4-15h0m-29 6h0m-22 0h0m-23 11h0m-436 0h0m-21-4h0m-6-5h0m-7 1h0m-7-2h0m-3 7h0m-16-16h0m-6-1h0m-23-2h0m-6-3h0m-59 18h0m-11 7h0m-15 2h0m0-4h0m-14-4h0m-4 3h0m-33-23h0m-5-2h0m-20 16h0m-23-13h0m-43-3h0m-77 21h0m-2-11h0m-10-2h0m-2 5h0m-10-10h0m-23 26h0m-2-8h0m-16-7h0m-2 10h0m-7-10h0m-11 12h0m-80-40h0m10-3h0m11-1h0m18 9h0m53-1h0m18-11h0m1-4h0m3 3h0m3 8h0m14 5h0m5 1h0m1-4h0m7 7h0m82-23h0m7 17h0m9-12h0m2-6h0m3 2h0m2-1h0m2 12h0m0 5h0m0 11h0m1-17h0m0-10h0m1 17h0m1-18h0m5 17h0m3-15h0m15 23h0m5-11h0m2 8h0m6 0h0m0-22h0m2 18h0m6-1h0m24 5h0m1 3h0m9-3h0m2-8h0m0 11h0m6-8h0m2-17h0m61-1h0m2 7h0m32 16h0m6-7h0m4 12h0m3-10h0m678 6h0m32-11h0m93-3h0m8 16h0m4-12h0m4 6h0m0 1h0m5-20h0m4 18h0m8-5h0m3 1h0m46-5h0m109 12h0m46 63h0m-12 2h0m-8-6h0m-2-2h0m-1 9h0m0-7h0m-4 4h0m0-5h0m-1-13h0m-5 4h0m-10-2h0m-20 19h0m-2 0h0m0 0h0m-6-13h0m-23-15h0m-11 0h0m-9 2h0m-14 17h0m-27 8h0m-117-25h0m-18 3h0m-8-5h0m-71 22h0m-2 5h0m-1 1h0m-9-11h0m-73-18h0m-17 4h0m-2 1h0m-1-3h0m-16 8h0m-5 0h0m-16-2h0m-10-2h0m-2 11h0m-67 1h0m0 9h0m-23 1h0m-19-5h0m-41 2h0m-10 4h0m-36 0h0m-6-4h0m-38 5h0m-9-3h0m-6-3h0m-10-3h0m-15 5h0m-18-1h0m-22-6h0m-25-4h0m-43-11h0m-51 16h0m-38 7h0m-9-4h0m-1 2h0m-6 1h0m-73-12h0m-7 2h0m-1-13h0m-1 17h0m-1-9h0m-6-11h0m0 23h0m-1-9h0m-1 10h0m0-1h0m-2 1h0m-2-7h0m-20 10h0m-118-5h0m-20-2h0m-8-2h0m-5-1h0m-2 0h0m-11-12h0m-1-1h0m-75 9h0m-15-6h0m0 2h0m-1 20h0m0-24h0m-1 14h0m-3-7h0m-3-9h0m-1 26h0m-2-17h0m-3-7h0m0 13h0m-4 7h0m-8-2h0m0-21h0m-8-1h0m-1-1h0m12 38h0m12 5h0m7-1h0m8 15h0m3-4h0m1-2h0m1-7h0m2 0h0m3 11h0m3-9h0m6-14h0m1 9h0m6 11h0m2-12h0m46 6h0m25 10h0m28-22h0m0-2h0m7 21h0m2-18h0m12 11h0m4 6h0m6-6h0m10 12h0m101-16h0m87 17h0m6-20h0m3 14h0m0-14h0m6 6h0m2-11h0m1 2h0m55 17h0m4-12h0m13-4h0m73 21h0m7 1h0m62-10h0m27-19h0m11 3h0m28-1h0m3 1h0m24-1h0m3 2h0m65-3h0m23 0h0m139 19h0m57-7h0m3 10h0m0-2h0m1-2h0m1-9h0m4 12h0m1 2h0m1-4h0m1 1h0m1-20h0m0 0h0m1 20h0m2 8h0m1-15h0m10 9h0m3-5h0m8 4h0m8 3h0m7 2h0m176-3h0m17-6h0m9-5h0m7-10h0m70 3h0m4-3h0m4 13h0m9 1h0m15-2h0m1-8h0m20-5h0m6 18h0m3 7h0m2-14h0m1 13h0m5 2h0m2-27h0m-171 83h0m-3-13h0m-4 16h0m-1-9h0m-2-12h0m-3 23h0m-5-10h0m0-2h0m-1 0h0m-1 1h0m-1-3h0m-10 9h0m-67-11h0m0 0h0m-24 4h0m-40 12h0m-93-23h0m-4 1h0m0-5h0m-83 9h0m-48 1h0m-4 8h0m-11-19h0m0 5h0m-135 7h0m-1 8h0m-16-10h0m-33 9h0m-7-16h0m-1 4h0m-1 2h0m-2 11h0m-13-21h0m-13 21h0m-3-18h0m-2 3h0m-1 9h0m-4 13h0m-2-13h0m-2-9h0m-1 22h0m-51-25h0m-3 8h0m-72-10h0m-124 26h0m-3 2h0m-48-12h0m-3 7h0m-1-13h0m-10-3h0m-16-5h0m-11 18h0m-47-12h0m-2 6h0m-2 13h0m-4-6h0m0-12h0m-2 4h0m-1 12h0m-1-10h0m-4-14h0m0 18h0m0 9h0m-2-18h0m-1 7h0m-8-16h0m-10 2h0m-3 14h0m0-11h0m-6 8h0m-2 5h0m-18-13h0m-13 14h0m-25 2h0m-63-49h0m9-1h0m57 21h0m0-11h0m3 0h0m3 9h0m25 5h0m3-4h0m0 5h0m10-7h0m5 3h0m17-4h0m9-13h0m2 22h0m37-19h0m47 8h0m13 11h0m92-24h0m95 0h0m8 7h0m66 14h0m3-17h0m1 18h0m2-26h0m0 23h0m1-17h0m3 4h0m0 1h0m3 10h0m82 6h0m5-16h0m43-2h0m13-2h0m20 11h0m76-14h0m49 23h0m2-24h0m0 9h0m5 10h0m45-3h0m50-19h0m1 7h0m1 4h0m8 4h0m1 7h0m0-16h0m5 14h0m3-3h0m0 6h0m1-10h0m3-7h0m2-2h0m4 16h0m1-20h0m1 3h0m48 12h0m0-11h0m1 9h0m0-13h0m4 12h0m13 4h0m9-2h0m2-9h0m105 21h0m36-18h0m21 0h0m1 16h0m27 54h0m-6-4h0m-8-12h0m-5 11h0m-5 13h0m-18-19h0m-7 9h0m-4-4h0m-3 6h0m-5 4h0m-2-10h0m-42 5h0m-1 6h0m-6-5h0m-63-12h0m-14 8h0m-6-5h0m-15 15h0m-12-6h0m0 0h0m-9 6h0m-1 4h0m-11-2h0m-402-26h0m-169 24h0m-3 4h0m-15-5h0m-20-5h0m-1-9h0m-7 0h0m0 0h0m-4 4h0m-7-9h0m-10-2h0m-13-2h0m-83 16h0m-3-10h0m-5 3h0m-4-2h0m0 13h0m-7 0h0m-19 2h0m-5-1h0m-1 1h0m-3 2h0m-67-24h0m61 44h0m0-6h0m4 7h0m3 10h0m1-8h0m5 7h0m1-22h0m7 14h0m1-16h0m3 2h0m1-3h0m28 22h0m3-4h0m1-3h0m6 0h0m1-2h0m1-6h0m5-4h0m1 6h0m4 9h0m14 10h0m9-9h0m1 0h0m1 1h0m4 2h0m0-10h0m7-8h0m0 6h0m6-1h0m59 1h0m61-5h0m24 5h0m36 7h0m7 5h0m13-1h0m8 6h0m1-4h0m38 7h0m54-8h0m277 0h0m17-7h0m12-6h0m27-7h0m24-1h0m2 3h0m23 13h0m4 4h0m70 9h0m49-22h0m8 10h0m52-13h0m4 7h0m-94 57h0m-5-4h0m-10-4h0m-45 6h0m-17-2h0m-3 10h0m-1-11h0m-2 0h0m-1 0h0m-6-2h0m0 2h0m-46-2h0m-2 10h0m-9-9h0m-10-1h0m-6 6h0m-79 6h0m-56-1h0m-6-8h0m-74 24h0m-3-28h0m-8 23h0m-90-3h0m-6-5h0m-7-11h0m0 18h0m-4-10h0m-1-2h0m-1 8h0m-3-4h0m-38-8h0m-1 1h0m-6 1h0m-1 2h0m0 19h0m0-19h0m-11-2h0m-4 2h0m-77-6h0m-2 12h0m-3 8h0m-2 2h0m0 1h0m-4-4h0m-1-4h0m-1 6h0m-1-15h0m0 11h0m-1-5h0m0-1h0m-3 7h0m-4-5h0m-2-6h0m0 16h0m-4-3h0m-40-23h0m-137-28h0m48-2h0m96 21h0m40-2h0m136-16h0m3-2h0m17-1h0m36-1h0m36 0h0m14 9h0m4 3h0m49-9h0m8 7h0m6 11h0m62-8h0m0-11h0m23-1h0m112 21h0m1 0h0m21-4h0m32 9h0m3-4h0m1-18h0m2 22h0m0-19h0m1 7h0m0-4h0m2-6h0m0 19h0m0 2h0m2-7h0m2 9h0m2-3h0m3-23h0m1 25h0m0-8h0m1-5h0m6 7h0m54-6h0m7 3h0m1 6h0m3 0h0m1 2h0m5 2h0m1-9h0m-229 58h0m-9-13h0m-1-2h0m-1-1h0m-61 20h0m-4-19h0m-4-3h0m-1 12h0m-62-10h0m-9 0h0m-1 16h0m-2-17h0m-18 11h0m-19-11h0m-1 26h0m-6-15h0m-2 5h0m-1-2h0m-4-1h0m-2 15h0m-15-15h0m-24-5h0m-6-7h0m-2 27h0m-1-22h0m-3 8h0m-5-2h0m-1-12h0m-2 12h0m-6-9h0m-4 0h0m-19 13h0m-3-1h0m-4 1h0m-5 0h0m-5 3h0m0-19h0m-30 0h0m-84 2h0m-3 2h0m-5-2h0m-9 10h0m-20-12h0m151 32h0m66 7h0m12-1h0m5 2h0m29-9h0m131 2h0" stroke="#1f52a0" stroke-width="12" stroke-linecap="round" fill="none" opacity="0.9"/>
<path transform="scale(.1)" d="m4109 4071h0m-207 36h0m31 1h0m6-14h0m6-1h0m143 8h0m53-19h0m13 18h0m81-10h0m44 8h0m14 0h0m1-6h0m74 57h0m-3 9h0m-154 5h0m-51 5h0m-41-10h0m-104 4h0m-59-13h0m-157 20h0m-77-5h0m-34-2h0m57-24h0m124-8h0m12 0h0m1-5h0m7-10h0m1-3h0m37 8h0m5 9h0m9 9h0m3-8h0m8-11h0m274 10h0m60-8h0m78 2h0m5-7h0m8 6h0m9 8h0m160 53h0m-72 12h0m-8-11h0m-98 15h0m-9-3h0m-9-16h0m-10 12h0m-10 6h0m-40-11h0m-5-5h0m-31-1h0m-17-10h0m-240 6h0m-64-1h0m-82 10h0m-45 9h0m-62-12h0m-15-6h0m-23 20h0m-167 32h0m52-5h0m525 3h0m273-20h0m70-1h0m121 6h0m90 68h0m-30-1h0m-79-10h0m-223 21h0m-44-12h0m-136-12h0m-76 17h0m-32-3h0m-135-13h0m-2 13h0m-3-7h0m-1 6h0m-3 8h0m-33-10h0m0-1h0m-124 7h0m-146-13h0m-61-1h0m-37-33h0m10 20h0m171-21h0m210 23h0m49-8h0m15-9h0m11 3h0m27 9h0m21-18h0m54 15h0m77 10h0m62-12h0m253-13h0m17-4h0m35 24h0m237 36h0m-2 2h0m-1 0h0m-5 24h0m-24-1h0m-58-4h0m-68-14h0m-99 17h0m-62-6h0m-30 1h0m-61-17h0m-28 4h0m-19 21h0m-6-17h0m-134-4h0m-43 3h0m-29-8h0m-45 24h0m-41 2h0m-7 1h0m-203-12h0m-228-6h0m-157 34h0m110-4h0m8-10h0m266 4h0m55 25h0m2-2h0m102-25h0m11 1h0m79-2h0m115 0h0m39 0h0m2 19h0m2-2h0m36 0h0m54 5h0m6-4h0m116-5h0m4-8h0m9-1h0m16 20h0m215-10h0m2-7h0m157 60h0m-61 15h0m-14-19h0m-302 4h0m-10 0h0m-10-5h0m-9 1h0m-627-1h0m-73 7h0m-9 1h0m-61 7h0m-12-13h0m-37 22h0m-177-2h0m-45-8h0m-57-7h0m-9-17h0m115-19h0m24 16h0m206 8h0m26-1h0m92-1h0m22-11h0m1-2h0m87-7h0m499 16h0m23-14h0m53 17h0m32-7h0m235 4h0m85-23h0m8 9h0m51 71h0m-300 10h0m-26-2h0m-18-10h0m-861-8h0m-7 6h0m-145 8h0m-100-21h0m-18 24h0m-142 1h0m-12 24h0m18-7h0m16 13h0m76-11h0m20-16h0m188 25h0m30-17h0m31 9h0m10-14h0m6 11h0m930-6h0m0 13h0m10 3h0m13-10h0m79 10h0m50-14h0m8 6h0m136-2h0m31 7h0m-137 55h0m-10-4h0m-34 12h0m-52-6h0m-3 5h0m-1103-22h0m-2 4h0m-95 1h0m-18 22h0m-128-25h0m-5 5h0m-34 4h0m-11-2h0m-8-41h0m11 28h0m3-10h0m277-4h0m29-6h0m9-5h0m1022 4h0m6 8h0m89-5h0m2-4h0m147 10h0m133 14h0m19 49h0m-43 8h0m-8-1h0m-130-25h0m-17 21h0m-18-1h0m-3 7h0m-83-4h0m-25-4h0m-1158-11h0m-27 15h0m-10-1h0m-49-22h0m-47 0h0m-106 22h0m-2-5h0m-124 34h0m37 2h0m67-12h0m117-4h0m82 11h0m1332-18h0m11 4h0m46 19h0m74-18h0m16 21h0m60-3h0m1-16h0m10 5h0m4 1h0m45 75h0m-92-24h0m-102 24h0m-1-12h0m-83 7h0m-1353-18h0m-37-1h0m-74 3h0m-93 4h0m-10 5h0m-1-7h0m-70-14h0m299-9h0m1324 9h0m7-11h0m86-1h0m193 10h0m6 0h0m3-3h0m-24 68h0m-162-6h0m-54 5h0m-23-17h0m-1496 4h0m-103-6h0m94 48h0m1-12h0m63 12h0m10-24h0m4 11h0m7-3h0m1440-3h0m34-4h0m59 19h0m11-4h0m155 10h0m14-13h0m4 2h0m2-2h0m10 10h0m44 55h0m-13-5h0m-15 14h0m-19-11h0m-1 9h0m-52-4h0m-4-4h0m-78 4h0m-29-16h0m-77 21h0m-11-14h0m-1517-10h0m-182 3h0m-62 8h0m-4-12h0m-16 5h0m-10-4h0m8-8h0m200-5h0m1568-21h0m29 16h0m37-3h0m237 50h0m-17 6h0m-162 6h0m-9-2h0m-29 15h0m-3-15h0m-1607-10h0m-56 11h0m-35 8h0m-171-10h0m148 41h0m10-24h0m12 8h0m26 9h0m41 2h0m1661 7h0m18-11h0m23 14h0m162-16h0m38 73h0m-1935 3h0m-59-22h0m-2-7h0m-6 26h0m-8-8h0m-88 5h0m-32-30h0m51-11h0m3 4h0m75-4h0m84 17h0m1874-18h0m33 50h0m-68 12h0m-2 6h0m-111 6h0m-24-7h0m-25 10h0m-17-13h0m-1668-13h0m-11 21h0m-6-1h0m-38-9h0m-60 10h0m-53-13h0m-3-10h0m-3 9h0m-3-8h0m-68 4h0m-6 19h0m-20-2h0m18 33h0m7-11h0m24-7h0m1 1h0m5 7h0m1902 0h0m53 14h0m13-13h0m91-9h0m6-4h0m72 76h0m-3 4h0m-3-5h0m-135 1h0m-37-1h0m-47-15h0m-1 2h0m-1732 6h0m-96-9h0m-68 11h0m-3-12h0m-59 17h0m43-25h0m15-4h0m10-5h0m6 1h0m90 2h0m9-10h0m11 9h0m52-7h0m1723 17h0m36 1h0m36-26h0m-5 84h0m-1810-14h0m-7 11h0m-52-14h0m-35 2h0m-71-9h0m-6 3h0m-63 34h0m0-3h0m16 18h0m2-19h0m40 0h0m6 11h0m2-12h0m5 1h0m93 5h0m59 14h0m7-14h0m1 16h0m1764 5h0m70-16h0m149 11h0m40-1h0m-28 45h0m-216-1h0m0 8h0m-3-11h0m-1781-4h0m-10 13h0m-80 0h0m-165 8h0m35-24h0m13-1h0m23-3h0m17-7h0m9 7h0m93-19h0m14 2h0m11-4h0m33 8h0m1947-5h0m1 10h0m90-7h0m-93 55h0m-1943 24h0m-36-23h0m-39 5h0m-20 18h0m-71-23h0m-36 22h0m-13-4h0m-1 4h0m-7-3h0m-6-4h0m0-3h0m-8 9h0m-2 4h0m73 2h0m1952 24h0m91-2h0m5 0h0m61-5h0m3 10h0m7-5h0m85 5h0m-86 55h0m-82-2h0m-72 2h0m-8-9h0m-3 2h0m-1789-3h0m-15 1h0m-18-15h0m-37 7h0m-27 15h0m-67 4h0m-3-16h0m-27-6h0m29-5h0m7-12h0m146 8h0m2-12h0m1957 16h0m32-23h0m25 56h0m-157-1h0m-1851 9h0m-1 19h0m-5-3h0m-35-14h0m-26 13h0m-124 1h0m-42-16h0m79 38h0m1-17h0m94 2h0m1842 20h0m4-13h0m12 10h0m15 0h0m62-13h0m75 13h0m-16 62h0m-56-20h0m-3 1h0m-6 12h0m-12-12h0m-11 26h0m-15-27h0m-4 26h0m-1810-13h0m-166 3h0m-64-16h0m-11 0h0m19-12h0m48-19h0m62 18h0m100-8h0m3 4h0m1781 7h0m3-16h0m62 5h0m92-1h0m17 18h0m62-8h0m3 40h0m-16 6h0m-68-2h0m-5 12h0m-4 7h0m-53-14h0m-12-6h0m-19 11h0m-13-4h0m-62 8h0m-1918-4h0m-8 7h0m-9-20h0m-36-1h0m-26 1h0m2 58h0m27-28h0m8 6h0m39 3h0m82-2h0m82 18h0m5-1h0m1746-8h0m6-10h0m1-3h0m86 1h0m77-1h0m1 9h0m85 5h0m-20 68h0m-2-11h0m-76-13h0m-1 20h0m-5-21h0m-113 25h0m-1767-5h0m-9 8h0m-80-27h0m-5 5h0m-18-1h0m-62 21h0m-97-50h0m7 14h0m28 4h0m58 4h0m94-2h0m13-1h0m17-7h0m5-12h0m26 8h0m1748-13h0m44 13h0m152 7h0m-5 41h0m-137 21h0m-1 5h0m-3-5h0m-1837-8h0m-102-2h0m-30 7h0m-10-18h0m-24 14h0m12 42h0m8-6h0m219-15h0m0 12h0m7 5h0m1681 4h0m50-7h0m5-1h0m81 67h0m-70-21h0m-85-4h0m-4-1h0m-2 11h0m-1631 3h0m-20 9h0m-158-12h0m-1 10h0m-79-8h0m-12-40h0m24 6h0m2 3h0m5 5h0m42-19h0m122 13h0m49-1h0m8 5h0m7 6h0m2 3h0m1645-7h0m84-18h0m0 26h0m14-15h0m-50 74h0m-18-16h0m-46 3h0m-1658-8h0m-8 1h0m-32 12h0m-88 0h0m-75-10h0m-6 18h0m-4-23h0m18 52h0m76-14h0m0 7h0m178 3h0m3-10h0m1570 4h0m6 4h0m48 8h0m2-24h0m50 19h0m68-1h0m38-11h0m26 11h0m4-6h0m33-14h0m-27 89h0m-27-13h0m-21-12h0m-39 6h0m-114-10h0m-5 7h0m-12 7h0m-3-11h0m-61 22h0m-1499-19h0m-34-6h0m-162 28h0m-13-54h0m87 4h0m6 3h0m3-8h0m1637 21h0m9-19h0m36 23h0m171-29h0m6 13h0m-2 49h0m-28 18h0m-4-3h0m-8 11h0m-30-27h0m-9 11h0m-134 10h0m-46-7h0m-9 13h0m-1649-20h0m-57 20h0m-32-11h0m36 15h0m85 14h0m95-10h0m88 6h0m13 16h0m1400-8h0m21 7h0m37-17h0m6 1h0m9-3h0m119 6h0m15-9h0m78 4h0m21-1h0m-260 52h0m-90 20h0m-1309 9h0m-57-16h0m-247 3h0m-4-9h0m7-11h0m66 0h0m136-10h0m21 2h0m33-7h0m6-1h0m18 16h0m1355-7h0m34-5h0m27-11h0m0 12h0m57-2h0m145 8h0m29-20h0m-125 88h0m-8-21h0m-1458 16h0m-63-19h0m-13 15h0m-16-1h0m-190 37h0m28-1h0m57-8h0m6 2h0m3 3h0m6 6h0m53-23h0m20 4h0m12 12h0m1 2h0m16-17h0m29 12h0m5 2h0m30-16h0m1227 24h0m27-28h0m63 18h0m20 5h0m24-6h0m97 44h0m-62 9h0m-98-4h0m-157 9h0m-6 15h0m-1004-7h0m-36 5h0m-131-22h0m-95 11h0m-109 12h0m-26-51h0m26-2h0m80 12h0m8 6h0m83-4h0m28-5h0m1252-12h0m82 11h0m119 10h0m2-1h0m17 65h0m-58-26h0m-161 24h0m-1-19h0m-6 22h0m-39-14h0m-56 2h0m-925 12h0m-21-8h0m-12-5h0m-113-11h0m-9 15h0m-3-11h0m-17 12h0m-15-14h0m-91 13h0m-64-4h0m-1-2h0m18 36h0m27-14h0m39 3h0m2-5h0m163 10h0m11 14h0m18 2h0m67-28h0m17 4h0m843 8h0m50 15h0m244-27h0m7 24h0m-63 38h0m-26 22h0m-145-7h0m-63-3h0m-67-10h0m-37 1h0m-6-3h0m-10 18h0m-6-13h0m-8 5h0m-4-1h0m-9 5h0m-491 4h0m-47 3h0m-1 2h0m-53-21h0m-69 18h0m-239-18h0m-40 6h0m-20 6h0m-1-6h0m-4 8h0m-12-7h0m-7 3h0m-53-29h0m103-7h0m16 12h0m117-16h0m13 17h0m43 3h0m23-5h0m76-21h0m6 9h0m18 12h0m741 0h0m2-7h0m42-7h0m340 3h0m6 1h0m-96 63h0m0 0h0m-105-10h0m-156 1h0m-118 24h0m-26-3h0m-17 1h0m-48-21h0m-34 0h0m-54 13h0m-187 9h0m-30-10h0m-36-9h0m-84 1h0m-130-7h0m-27 25h0m-196 1h0m-16-21h0m-11 7h0m-82 4h0m-1-17h0m-7 15h0m-14 0h0m20 36h0m14-4h0m124-1h0m14-1h0m3 2h0m207-6h0m16 2h0m77-12h0m107 24h0m39-25h0m158 16h0m87-3h0m85 13h0m30-12h0m5-10h0m3 1h0m15 12h0m3 10h0m207-6h0m160-16h0m3 3h0m22-5h0m-180 84h0m-21-21h0m-73 4h0m-301-11h0m-304 15h0m-193 9h0m-18-3h0m-40-8h0m-91 5h0m-33-8h0m-58-10h0m-37-10h0m56-18h0m68 13h0m350-2h0m7-10h0m194 16h0m149-3h0m4-1h0m51-13h0m9 16h0m1-18h0m211 17h0m72-15h0m11 9h0m9 14h0m34 37h0m-57 11h0m-87 3h0m-18-11h0m-105 21h0m-20-9h0m-307-12h0m-18 1h0m-240 17h0m-173 3h0m-11-25h0m-9 0h0m-25 31h0m2 20h0m7-11h0m227-5h0m4 5h0m57 7h0m17 8h0m89 2h0m193-2h0m11-3h0m76-3h0m70-20h0m23 3h0m9 16h0m155-15h0m-294 66h0m-51 4h0m-61 6h0m-103-11h0m-34 18h0m-21-1h0m-148-6h0m-96-26h0m5-13h0m166 12h0m87-17h0m11-5h0m12 6h0m7 0h0m40 0h0m3-1h0m27 1h0m20 14h0m100-18h0m185 9h0m-102 64h0m-68-6h0m-51 13h0m-2 3h0m-90-23h0m-63 19h0m-36-17h0m-15 15h0m-25-11h0m50 27h0m2 0h0" stroke="#f2a04c" stroke-width="11" stroke-linecap="round" fill="none" opacity="0.9"/>
<path d="M296.2,575.6A123.6,123.6 0 0 1 284,518.7M298,574.7A121.6,121.6 0 0 1 286,518.8L289,518.8A118.6,118.6 0 0 0 300.7,573.4ZM302.4,572.7A116.8,116.8 0 0 1 290.8,518.9L304.6,519.3A103.0,103.0 0 0 0 314.8,566.7ZM316.3,565.9A101.3,101.3 0 0 1 306.3,519.3L320.4,519.7A87.2,87.2 0 0 0 329,559.8ZM284.1,516.8A123.6,123.6 0 0 1 298.2,464.4M286.1,516.9A121.6,121.6 0 0 1 300,465.3L302.7,466.7A118.6,118.6 0 0 0 289.1,517ZM290.9,517.1A116.8,116.8 0 0 1 304.3,467.6L316.5,474A103.0,103.0 0 0 0 304.7,517.6ZM306.4,517.7A101.3,101.3 0 0 1 318,474.8L330.5,481.4A87.2,87.2 0 0 0 320.5,518.3ZM299.2,462.7A123.6,123.6 0 0 1 329.7,426M300.9,463.6A121.6,121.6 0 0 1 331,427.6L332.9,429.9A118.6,118.6 0 0 0 303.6,465.1ZM305.1,465.9A116.8,116.8 0 0 1 334,431.3L342.7,442A103.0,103.0 0 0 0 317.2,472.6ZM318.7,473.4A101.3,101.3 0 0 1 343.8,443.3L352.7,454.3A87.2,87.2 0 0 0 331.1,480.2ZM331.3,424.8A123.6,123.6 0 0 1 372.8,403.4M332.5,426.4A121.6,121.6 0 0 1 373.4,405.3L374.2,408.2A118.6,118.6 0 0 0 334.4,428.7ZM335.5,430.1A116.8,116.8 0 0 1 374.7,409.9L378.6,423.2A103.0,103.0 0 0 0 344,441ZM345,442.3A101.3,101.3 0 0 1 379.1,424.8L383.1,438.3A87.2,87.2 0 0 0 353.7,453.4ZM374.7,402.9A123.6,123.6 0 0 1 419.9,399M375.2,404.8A121.6,121.6 0 0 1 419.7,401L419.4,404A118.6,118.6 0 0 0 376,407.7ZM376.5,409.4A116.8,116.8 0 0 1 419.2,405.8L417.8,419.5A103.0,103.0 0 0 0 380.2,422.7ZM380.6,424.4A101.3,101.3 0 0 1 417.6,421.2L416.2,435.2A87.2,87.2 0 0 0 384.4,438ZM421.8,399.2A123.6,123.6 0 0 1 464.5,412.3M421.6,401.2A121.6,121.6 0 0 1 463.6,414.1L462.2,416.7A118.6,118.6 0 0 0 421.2,404.2ZM421,406A116.8,116.8 0 0 1 461.4,418.3L455.1,430.6A103.0,103.0 0 0 0 419.4,419.7ZM419.2,421.4A101.3,101.3 0 0 1 454.3,432.1L447.8,444.6A87.2,87.2 0 0 0 417.6,435.4ZM466.3,413.2A123.6,123.6 0 0 1 500.3,440.2M465.3,415A121.6,121.6 0 0 1 498.8,441.6L496.5,443.5A118.6,118.6 0 0 0 463.9,417.6ZM463,419.2A116.8,116.8 0 0 1 495.2,444.7L484.8,453.9A103.0,103.0 0 0 0 456.5,431.3ZM455.7,432.8A101.3,101.3 0 0 1 483.6,455L473,464.3A87.2,87.2 0 0 0 449,445.2ZM501.6,441.7A123.6,123.6 0 0 1 521.8,474.7M500,443A121.6,121.6 0 0 1 519.9,475.5L517.2,476.6A118.6,118.6 0 0 0 497.8,444.9ZM496.4,446.1A116.8,116.8 0 0 1 515.5,477.3L502.8,482.6A103.0,103.0 0 0 0 485.9,455.1ZM484.6,456.2A101.3,101.3 0 0 1 501.2,483.2L488.2,488.6A87.2,87.2 0 0 0 473.9,465.3ZM522.5,476.5A123.6,123.6 0 0 1 530.9,512.8M520.7,477.2A121.6,121.6 0 0 1 528.9,513L525.9,513.2A118.6,118.6 0 0 0 517.9,478.3ZM516.2,479A116.8,116.8 0 0 1 524.1,513.3L510.3,514.4A103.0,103.0 0 0 0 503.4,484.1ZM501.8,484.7A101.3,101.3 0 0 1 508.6,514.5L494.6,515.5A87.2,87.2 0 0 0 488.7,489.9ZM531,514.8A123.6,123.6 0 0 1 527.1,553.7M529,514.9A121.6,121.6 0 0 1 525.1,553.2L522.2,552.4A118.6,118.6 0 0 0 526,515.1ZM524.2,515.2A116.8,116.8 0 0 1 520.5,551.9L507.2,548.4A103.0,103.0 0 0 0 510.4,516ZM508.7,516.1A101.3,101.3 0 0 1 505.5,548L491.9,544.4A87.2,87.2 0 0 0 494.7,516.9ZM526.6,555.6A123.6,123.6 0 0 1 511.5,588.9M524.6,555A121.6,121.6 0 0 1 509.9,587.8L507.3,586.2A118.6,118.6 0 0 0 521.7,554.2ZM520,553.7A116.8,116.8 0 0 1 505.8,585.2L494.2,577.7A103.0,103.0 0 0 0 506.7,550ZM505.1,549.5A101.3,101.3 0 0 1 492.8,576.8L480.9,569.2A87.2,87.2 0 0 0 491.5,545.7ZM510.5,590.5A123.6,123.6 0 0 1 486.4,617.2M508.8,589.4A121.6,121.6 0 0 1 485.1,615.7L483.2,613.4A118.6,118.6 0 0 0 506.3,587.7ZM504.8,586.7A116.8,116.8 0 0 1 482.1,612L473.3,601.3A103.0,103.0 0 0 0 493.3,579.1ZM491.9,578.1A101.3,101.3 0 0 1 472.2,600L463.2,589.2A87.2,87.2 0 0 0 480.2,570.3ZM484.9,618.4A123.6,123.6 0 0 1 453.8,636.6M483.7,616.9A121.6,121.6 0 0 1 453.1,634.8L451.9,632A118.6,118.6 0 0 0 481.8,614.5ZM480.7,613.1A116.8,116.8 0 0 1 451.3,630.3L446.1,617.5A103.0,103.0 0 0 0 472,602.4ZM471,601A101.3,101.3 0 0 1 445.5,616L440.2,602.9A87.2,87.2 0 0 0 462.1,590ZM452,637.3A123.6,123.6 0 0 1 415.5,645.3M451.3,635.5A121.6,121.6 0 0 1 415.4,643.4L415.2,640.4A118.6,118.6 0 0 0 450.2,632.7ZM449.6,631A116.8,116.8 0 0 1 415.1,638.6L414.2,624.8A103.0,103.0 0 0 0 444.6,618.1ZM444,616.5A101.3,101.3 0 0 1 414.1,623.1L413.2,609A87.2,87.2 0 0 0 438.9,603.4ZM413.6,645.5A123.6,123.6 0 0 1 382.5,643M413.5,643.5A121.6,121.6 0 0 1 382.9,641.1L383.5,638.1A118.6,118.6 0 0 0 413.3,640.5ZM413.2,638.7A116.8,116.8 0 0 1 383.9,636.4L386.7,622.9A103.0,103.0 0 0 0 412.6,624.9ZM412.5,623.2A101.3,101.3 0 0 1 387,621.2L389.9,607.4A87.2,87.2 0 0 0 411.8,609.1ZM380.6,642.6A123.6,123.6 0 0 1 352.9,632.8M381,640.7A121.6,121.6 0 0 1 353.7,631L355.1,628.3A118.6,118.6 0 0 0 381.7,637.7ZM382.1,636A116.8,116.8 0 0 1 355.9,626.7L362,614.3A103.0,103.0 0 0 0 385.1,622.5ZM385.5,620.9A101.3,101.3 0 0 1 362.7,612.8L369,600.2A87.2,87.2 0 0 0 388.6,607.1ZM351.1,631.9A123.6,123.6 0 0 1 327.5,616.1M352,630.2A121.6,121.6 0 0 1 328.8,614.6L330.7,612.3A118.6,118.6 0 0 0 353.4,627.5ZM354.2,625.9A116.8,116.8 0 0 1 331.9,610.9L340.8,600.4A103.0,103.0 0 0 0 360.5,613.6ZM361.3,612.1A101.3,101.3 0 0 1 341.9,599.1L351.1,588.4A87.2,87.2 0 0 0 367.8,599.6ZM326,614.8A123.6,123.6 0 0 1 307.7,594.7M327.3,613.3A121.6,121.6 0 0 1 309.3,593.6L311.7,591.8A118.6,118.6 0 0 0 329.3,611.1ZM330.5,609.7A116.8,116.8 0 0 1 313.2,590.7L324.3,582.6A103.0,103.0 0 0 0 339.6,599.4ZM340.7,598.1A101.3,101.3 0 0 1 325.7,581.6L337.1,573.3A87.2,87.2 0 0 0 350,587.5ZM306.5,593.2A123.6,123.6 0 0 1 297.1,577.3M308.2,592A121.6,121.6 0 0 1 298.9,576.4L301.6,575.1A118.6,118.6 0 0 0 310.6,590.3ZM312.1,589.2A116.8,116.8 0 0 1 303.2,574.3L315.5,568.1A103.0,103.0 0 0 0 323.4,581.3ZM324.8,580.3A101.3,101.3 0 0 1 317,567.4L329.6,561A87.2,87.2 0 0 0 336.3,572.2Z" fill="none" stroke="#333" stroke-width="0.55"/>
<path d="M296.2,575.6L295,576.2M290.5,561.6L289.2,562.1M286.6,547.1L285.2,547.3M284.4,532.1L283,532.2M284.1,516.8L282.7,516.7M285.7,501.8L284.3,501.5M289,487.1L287.7,486.7M294.2,472.9L292.9,472.3M299.2,462.7L297.9,462M307.2,449.9L306.1,449.1M316.7,438.2L315.7,437.3M327.6,427.8L326.7,426.7M331.3,424.8L330.4,423.7M343.7,416.2L343,415M357.1,409.2L356.5,407.9M371.2,403.9L370.8,402.6M374.7,402.9L374.3,401.5M389.4,399.7L389.2,398.4M404.5,398.4L404.4,397M419.6,399L419.7,397.6M421.8,399.2L421.9,397.8M436.6,401.9L437,400.5M451.1,406.3L451.6,405M466.3,413.2L466.9,412M479.1,421.2L479.9,420M490.8,430.6L491.8,429.6M501.6,441.7L502.6,440.8M510.6,453.7L511.8,453M518.2,466.8L519.5,466.2M522.5,476.5L523.8,476M527.2,490.8L528.6,490.5M530.1,505.7L531.5,505.5M531,514.8L532.4,514.7M530.9,529.9L532.3,530M529.1,544.8L530.4,545.1M526.6,555.6L527.9,555.9M521.6,569.8L522.9,570.3M514.9,583.3L516.1,584M510.5,590.5L511.6,591.3M501.4,602.5L502.4,603.4M490.9,613.4L491.8,614.4M484.9,618.4L485.8,619.5M472.6,627.1L473.3,628.3M459.3,634.3L459.9,635.5M452,637.3L452.5,638.7M437.6,641.9L438,643.3M422.8,644.7L423,646.1M413.6,645.5L413.6,646.9M398.5,645.3L398.4,646.7M383.5,643.2L383.2,644.6M380.6,642.6L380.3,644M366.1,638.4L365.6,639.7M351.1,631.9L350.5,633.2M338.1,624.2L337.4,625.4M326,614.8L325.1,615.9M315.3,604.2L314.2,605.1M306.5,593.2L305.4,594M298.6,580.3L297.4,581" stroke="#555" stroke-width="0.4"/>
<path d="M293.4,578.2A127.3,127.3 0 0 1 292.3,576M287.4,563.9A127.3,127.3 0 0 1 286.6,561.5M283.2,548.9A127.3,127.3 0 0 1 282.7,546.5M280.8,533.5A127.3,127.3 0 0 1 280.6,531.1M280.4,517.7A127.3,127.3 0 0 1 280.5,515.3M281.8,502.3A127.3,127.3 0 0 1 282.2,499.8M285.2,487.1A127.3,127.3 0 0 1 285.9,484.7M290.4,472.4A127.3,127.3 0 0 1 291.3,470.2M295.4,461.9A127.3,127.3 0 0 1 296.6,459.7M303.6,448.7A127.3,127.3 0 0 1 305,446.7M313.3,436.5A127.3,127.3 0 0 1 314.9,434.7M324.4,425.7A127.3,127.3 0 0 1 326.3,424.1M328.1,422.6A127.3,127.3 0 0 1 330,421.1M340.8,413.6A127.3,127.3 0 0 1 342.9,412.4M354.5,406.3A127.3,127.3 0 0 1 356.8,405.3M369,400.7A127.3,127.3 0 0 1 371.4,400M372.6,399.6A127.3,127.3 0 0 1 375,399M387.8,396.2A127.3,127.3 0 0 1 390.2,395.9M403.3,394.8A127.3,127.3 0 0 1 405.7,394.7M421.1,395.4A127.3,127.3 0 0 1 423.5,395.7M436.4,398A127.3,127.3 0 0 1 438.8,398.6M451.3,402.4A127.3,127.3 0 0 1 453.6,403.3M467,409.4A127.3,127.3 0 0 1 469.2,410.6M480.3,417.5A127.3,127.3 0 0 1 482.3,418.9M492.5,427.2A127.3,127.3 0 0 1 494.3,428.8M503.6,438.5A127.3,127.3 0 0 1 505.2,440.3M513.1,450.8A127.3,127.3 0 0 1 514.5,452.8M521,464.2A127.3,127.3 0 0 1 522.1,466.4M525.5,474.1A127.3,127.3 0 0 1 526.4,476.4M530.5,488.8A127.3,127.3 0 0 1 531.1,491.2M533.6,504.1A127.3,127.3 0 0 1 534,506.5M534.6,513.5A127.3,127.3 0 0 1 534.8,515.9M534.7,529A127.3,127.3 0 0 1 534.5,531.4M532.9,544.4A127.3,127.3 0 0 1 532.5,546.8M530.4,555.5A127.3,127.3 0 0 1 529.8,557.8M525.4,570.2A127.3,127.3 0 0 1 524.5,572.5M518.7,584.2A127.3,127.3 0 0 1 517.5,586.3M514.2,591.6A127.3,127.3 0 0 1 512.8,593.7M504.9,604.1A127.3,127.3 0 0 1 503.3,605.9M494.2,615.3A127.3,127.3 0 0 1 492.4,617M488.1,620.6A127.3,127.3 0 0 1 486.2,622.1M475.5,629.7A127.3,127.3 0 0 1 473.4,631M461.8,637.2A127.3,127.3 0 0 1 459.6,638.2M454.4,640.4A127.3,127.3 0 0 1 452.1,641.3M439.6,645.2A127.3,127.3 0 0 1 437.2,645.8M424.3,648.2A127.3,127.3 0 0 1 421.9,648.5M414.8,649.1A127.3,127.3 0 0 1 412.4,649.2M399.3,649A127.3,127.3 0 0 1 396.9,648.8M380.9,646.5A127.3,127.3 0 0 1 378.5,645.9M365.9,642.3A127.3,127.3 0 0 1 363.6,641.5M350.4,635.7A127.3,127.3 0 0 1 348.2,634.6M337,627.9A127.3,127.3 0 0 1 335,626.5M324.4,618.3A127.3,127.3 0 0 1 322.6,616.7M313.3,607.5A127.3,127.3 0 0 1 311.6,605.6M304.2,596.2A127.3,127.3 0 0 1 302.8,594.2M295.9,583A127.3,127.3 0 0 1 294.7,580.9" stroke="#999" stroke-width="1.1" fill="none"/>
<path d="M466.1,522 469.8,522.3 466.1,522.6 468.8,523 466.1,523.2 468.4,523.6 466.1,523.8 478.8,524.6 466,524.4 471.5,525 466,525.1 472.9,525.8 466,525.7 471.2,526.3 465.9,526.3 469.6,526.9 465.9,526.9 473.4,527.9 465.8,527.5 471.2,528.4 465.8,528.1 474.2,529.4 465.7,528.7 472.1,529.8 465.6,529.3 475.4,530.9 465.6,529.9 469.6,530.8 465.5,530.5 467.7,531.2 465.4,531.2 467.5,531.8 465.3,531.8 472.5,533.3 465.2,532.4 467.4,533.1 465.1,533 471.3,534.5 464.9,533.6 470.7,535.1 464.8,534.2 466.5,534.8 464.7,534.8 473,537 464.6,535.4 466.1,536 464.4,536 474.8,538.9 464.3,536.5 473.8,539.4 464.1,537.1 466.6,538.1 463.9,537.7 471,540.1 463.8,538.3 470.9,540.8 463.6,538.9 465.5,539.8 463.4,539.5 469.6,541.8 463.2,540.1 465.1,541 463,540.7 475,545.1 462.8,541.2 469.2,543.8 462.6,541.8 479.4,548.3 462.4,542.4 464,543.3 462.2,543 465.1,544.4 462,543.5 467.4,546 461.8,544.1 467,546.6 461.5,544.7 463.6,545.9 461.3,545.2 471.8,550.2 461,545.8 470.1,550.2 460.8,546.4 463.5,548 460.5,546.9 462.4,548.1 460.3,547.5 466,550.6 460,548 463.4,550 459.7,548.6 465.4,551.8 459.4,549.1 463.4,551.5 459.2,549.6 462.4,551.7 458.9,550.2 460.1,551.2 458.6,550.7 460.3,552.1 458.3,551.2 461.8,553.7 458,551.8 464.2,555.9 457.6,552.3 460.9,554.7 457.3,552.8 463.7,557.2 457,553.3 461.1,556.3 456.7,553.9 465.9,560.3 456.3,554.4 461.5,558.2 456,554.9 458.5,557 455.6,555.4 457.3,556.9 455.3,555.9 456.6,557.2 454.9,556.4 456.1,557.6 454.6,556.9 462.9,563.5 454.2,557.4 462.8,564.3 453.8,557.9 459.9,563 453.4,558.3 454.8,559.8 453.1,558.8 457.9,563.2 452.7,559.3 454.1,560.9 452.3,559.8 460.9,567.5 451.9,560.2 456.5,564.7 451.5,560.7 457.2,566.2 451.1,561.1 455.2,565.3 450.7,561.6 453.4,564.5 450.2,562 457.4,569.3 449.8,562.5 461.5,574.2 449.4,562.9 451.2,565.1 449,563.4 451.7,566.5 448.5,563.8 453.6,569.5 448.1,564.2 452.5,569.3 447.6,564.6 450.1,567.7 447.2,565.1 449.8,568.4 446.7,565.5 458,578.6 446.3,565.9 448,568.3 445.8,566.3 447.3,568.5 445.4,566.7 449.5,572.1 444.9,567.1 446.5,569.6 444.4,567.5 451.7,577 443.9,567.8 445.7,570.6 443.5,568.2 451.4,579 443,568.6 444.9,571.7 442.5,569 449,578.4 442,569.3 446.3,575.9 441.5,569.7 445.6,576 441,570 442.2,572.4 440.5,570.4 441.5,572.5 440,570.7 440.6,572.3 439.5,571.1 440.5,573.3 438.9,571.4 442.2,577.1 438.4,571.7 439.1,573.4 437.9,572 439.1,574.6 437.4,572.4 439.8,577.1 436.8,572.7 437.7,574.8 436.3,573 437.7,576 435.8,573.3 436.8,575.8 435.2,573.6 438.1,579.6 434.7,573.8 435.4,575.8 434.2,574.1 442,590.3 433.6,574.4 435.8,579.7 433.1,574.7 435.9,581.3 432.5,574.9 434.4,579.8 432,575.2 433.6,579.6 431.4,575.4 438.2,591.8 430.8,575.7 435.2,586.7 430.3,575.9 433.6,584.8 429.7,576.2 430,577.8 429.1,576.4 430.9,581.7 428.6,576.6 433.4,590.4 428,576.8 429.8,582.7 427.4,577 428.7,581.7 426.8,577.2 428.6,583.3 426.3,577.4 426.7,579.8 425.7,577.6 427.7,584.9 425.1,577.8 427.3,586.1 424.5,578 424.7,579.9 423.9,578.2 424.9,582.9 423.3,578.3 424.5,583.9 422.7,578.5 423.3,582 422.1,578.7 423.5,585.3 421.6,578.8 424.3,591.7 421,579 423.4,591.1 420.4,579.1 420.7,582.3 419.8,579.2 419.9,581.5 419.2,579.3 420.9,589.6 418.6,579.5 419.3,585.3 418,579.6 419.3,589.1 417.4,579.7 418.8,590.4 416.8,579.8 416.9,582.8 416.1,579.9 416.6,585.4 415.5,580 415.6,583.1 414.9,580 415.7,588.9 414.3,580.1 414.8,587 413.7,580.2 413.7,583 413.1,580.2 413.2,584.9 412.5,580.3 412.6,586 411.9,580.3 411.8,583.1 411.3,580.4 411.1,582.8 410.7,580.4 410.6,584.9 410,580.4 409.8,582.3 409.4,580.5 409.3,585.1 408.8,580.5 408.7,594.9 408.2,580.5 408,590 407.6,580.5 407.3,582.3 407,580.5 406.5,590 406.4,580.5 405.9,587.8 405.8,580.5 405.2,587.6 405.2,580.4 404.8,582.1 404.5,580.4 403.8,588.5 403.9,580.4 403.5,582.9 403.3,580.3 402.3,589.3 402.7,580.3 402.1,583.5 402.1,580.2 401.4,583.8 401.5,580.2 400.9,582.5 400.9,580.1 399.3,590.8 400.3,580 399.6,582.6 399.7,580 397.8,590.8 399.1,579.9 398,584.6 398.4,579.8 397.8,581.9 397.8,579.7 396.4,585.9 397.2,579.6 396,584.4 396.6,579.5 396,581 396,579.3 393.8,588.6 395.4,579.2 394.5,582 394.8,579.1 394.2,580.6 394.2,579 392,586.8 393.6,578.8 391.5,586 393.1,578.7 391.8,582.2 392.5,578.5 391.5,580.8 391.9,578.3 390.2,583 391.3,578.2 389.4,583.4 390.7,578 388.4,584.5 390.1,577.8 388.4,582.1 389.5,577.6 387.5,582.6 388.9,577.4 386.3,584.3 388.4,577.2 387.2,579.5 387.8,577 386.7,579.2 387.2,576.8 385.3,581 386.6,576.6 383.5,583.9 386.1,576.4 382.4,584.6 385.5,576.2 381.3,585.6 384.9,575.9 383,579.6 384.4,575.7 381.2,582.2 383.8,575.4 382.7,577.2 383.2,575.2 381.4,578.5 382.7,574.9 381.6,576.4 382.1,574.7 377.6,583.3 381.6,574.4 373.2,590.3 381,574.1 377.7,579.8 380.5,573.8 376.5,580.7 380,573.6 377.9,576.6 379.4,573.3 374.9,580.8 378.9,573 377.7,574.5 378.4,572.7 376.3,575.6 377.8,572.4 375.8,575.2 377.3,572 371.5,581 376.8,571.7 375.3,573.6 376.3,571.4 374.8,573.2 375.7,571.1 374.4,572.5 375.2,570.7 369.4,578.9 374.7,570.4 372.6,572.9 374.2,570 366.9,579.9 373.7,569.7 371.6,572.1 373.2,569.3 367.1,577.1 372.7,569 371,570.8 372.2,568.6 364.6,578.1 371.7,568.2 360.4,582.2 371.3,567.8 364,576.4 370.8,567.5 366.2,572.6 370.3,567.1 362.4,576 369.8,566.7 361.3,576.2 369.4,566.3 358.1,578.7 368.9,565.9 366.7,567.9 368.5,565.5 361.3,572.8 368,565.1 362,571 367.6,564.6 365,566.9 367.1,564.2 365.3,565.7 366.7,563.8 358,572.2 366.2,563.4 362.9,566.3 365.8,562.9 362,566.2 365.4,562.5 356.8,570.2 365,562 361.4,564.9 364.5,561.6 362.2,563.3 364.1,561.1 358.8,565.5 363.7,560.7 359.8,563.7 363.3,560.2 360.9,561.9 362.9,559.8 357.4,564 362.5,559.3 352.8,566.8 362.1,558.8 359.8,560.3 361.8,558.3 354.3,563.8 361.4,557.9 354.9,562.4 361,557.4 356.9,560.1 360.6,556.9 358.4,558.1 360.3,556.4 354.8,559.9 359.9,555.9 357.3,557.4 359.6,555.4 357.1,556.7 359.2,554.9 350.5,560.4 358.9,554.4 356.2,555.7 358.5,553.9 356.7,554.7 358.2,553.3 349.5,558.4 357.9,552.8 342.4,562 357.6,552.3 354.7,553.7 357.2,551.8 353.7,553.5 356.9,551.3 352.3,553.5 356.6,550.7 349.6,554.3 356.3,550.2 354.8,550.7 356,549.6 350.3,552.3 355.8,549.1 353.2,550.1 355.5,548.6 343.1,554.4 355.2,548 351.5,549.5 354.9,547.5 341.5,553.5 354.7,546.9 350.7,548.4 354.4,546.4 348.5,548.7 354.2,545.8 352.5,546.2 353.9,545.2 351.5,545.9 353.7,544.7 350.7,545.6 353.4,544.1 350,545.2 353.2,543.5 350.9,544.1 353,543 349.1,544.1 352.8,542.4 350.9,542.8 352.6,541.8 347.4,543.3 352.4,541.2 336.5,546.3 352.2,540.7 342.1,543.7 352,540.1 346.2,541.6 351.8,539.5 334.5,544.5 351.6,538.9 344.3,540.7 351.4,538.3 345.4,539.7 351.3,537.7 347,538.6 351.1,537.1 349.2,537.3 350.9,536.5 339.4,539.1 350.8,536 339.1,538.4 350.6,535.4 341.8,537.1 350.5,534.8 343.7,535.9 350.4,534.2 341.3,535.7 350.3,533.6 334.4,536.4 350.1,533 332.4,535.9 350,532.4 341.8,533.5 349.9,531.8 348.3,531.7 349.8,531.2 334.9,533.1 349.7,530.5 344.4,531 349.6,529.9 345.4,530.2 349.6,529.3 345.5,529.5 349.5,528.7 346.5,528.7 349.4,528.1 347.7,528 349.4,527.5 343.4,527.7 349.3,526.9 343.4,527.1 349.3,526.3 347.3,526.1 349.2,525.7 335.9,526.1 349.2,525.1 336.9,525.3 349.2,524.4 338.4,524.5 349.1,523.8 344.1,523.7 349.1,523.2 345.4,523 349.1,522.6 344.7,522.3 349.1,522 345.5,521.7 349.1,521.4 333.3,520.8 349.1,520.8 336,520.1 349.1,520.2 337.1,519.4 349.2,519.6 344.3,519 349.2,518.9 344.4,518.4 349.2,518.3 342.4,517.6 349.3,517.7 346.2,517.2 349.3,517.1 346.9,516.6 349.4,516.5 331.5,514.4 349.4,515.9 346.5,515.3 349.5,515.3 346.6,514.6 349.6,514.7 345,513.8 349.6,514.1 347.8,513.5 349.7,513.5 344.9,512.4 349.8,512.8 347.6,512.2 349.9,512.2 340.5,510.3 350,511.6 348.2,511 350.1,511 341.4,509 350.3,510.4 347.4,509.5 350.4,509.8 342,507.7 350.5,509.2 341.9,506.9 350.6,508.6 335.3,504.7 350.8,508 348.6,507.2 350.9,507.5 333.6,502.6 351.1,506.9 349,506 351.3,506.3 348,505 351.4,505.7 350,504.9 351.6,505.1 347.3,503.4 351.8,504.5 350.1,503.6 352,503.9 347.1,502 352.2,503.3 339.1,498.5 352.4,502.8 344.4,499.6 352.6,502.2 346.7,499.7 352.8,501.6 351.1,500.6 353,501 336.3,494.2 353.2,500.5 350,498.8 353.4,499.9 339.5,493.8 353.7,499.3 351.7,498.2 353.9,498.8 351.2,497.2 354.2,498.2 340.5,491.7 354.4,497.6 347.4,494.1 354.7,497.1 352.6,495.8 354.9,496.5 351.2,494.4 355.2,496 350.8,493.4 355.5,495.4 353.1,493.9 355.8,494.9 353.6,493.4 356,494.4 354.5,493.2 356.3,493.8 352.3,491.2 356.6,493.3 353.3,491 356.9,492.8 354.1,490.7 357.2,492.2 353.5,489.6 357.6,491.7 354.8,489.6 357.9,491.2 354.9,488.9 358.2,490.7 351.5,486 358.5,490.1 356.8,488.7 358.9,489.6 357.4,488.3 359.2,489.1 355.9,486.5 359.6,488.6 357.2,486.6 359.9,488.1 356.5,485.3 360.3,487.6 352,481.1 360.6,487.1 348.9,477.9 361,486.6 353.8,480.7 361.4,486.1 351.2,477.8 361.8,485.7 359.8,483.7 362.1,485.2 359.7,482.8 362.5,484.7 361.2,483.2 362.9,484.2 360.8,482 363.3,483.8 361.3,481.6 363.7,483.3 361.9,481.2 364.1,482.9 361.8,480.4 364.5,482.4 354.1,472.3 365,482 361.7,478.4 365.4,481.5 356.9,472.9 365.8,481.1 362.5,477.4 366.2,480.6 360.9,474.8 366.7,480.2 362.3,475.2 367.1,479.8 363.5,475.5 367.6,479.4 358.7,469.3 368,478.9 364.4,474.6 368.5,478.5 365.5,474.8 368.9,478.1 367.4,475.9 369.4,477.7 368.3,476 369.8,477.3 367.5,474 370.3,476.9 368.1,473.7 370.8,476.5 369.7,474.7 371.3,476.2 361.9,463.8 371.7,475.8 371,474.3 372.2,475.4 370,471.9 372.7,475 371.3,472.6 373.2,474.7 371.2,471.3 373.7,474.3 368.3,466.1 374.2,474 365,460 374.7,473.6 372.8,470.3 375.2,473.3 371.5,467.1 375.7,472.9 369.6,462.9 376.3,472.6 374.9,469.8 376.8,472.3 375,468.9 377.3,472 375.4,468.3 377.8,471.6 373.1,463 378.3,471.3 377,468.4 378.9,471 373.3,460.5 379.4,470.7 378.5,468.4 380,470.4 377.1,464.3 380.5,470.2 378,464.6 381,469.9 380.6,468.3 381.6,469.6 380.4,466.5 382.1,469.3 378.2,460.4 382.7,469.1 381.3,465.4 383.2,468.8 382.8,467.1 383.8,468.6 382.3,464.4 384.4,468.3 382.7,463.5 384.9,468.1 383.5,463.9 385.5,467.8 384.3,464 386.1,467.6 381.2,454.2 386.6,467.4 384.6,461.1 387.2,467.2 386.1,463.1 387.8,467 386.7,462.9 388.4,466.8 386,458.8 388.9,466.6 388.4,463.8 389.5,466.4 388.4,462 390.1,466.2 388,458.4 390.7,466 390.4,464.1 391.3,465.8 391,463.6 391.9,465.7 391.7,463.9 392.5,465.5 391.1,459 393.1,465.3 391.2,456.6 393.6,465.2 392.4,458.8 394.2,465 393.2,459.2 394.8,464.9 394.8,463.2 395.4,464.8 395,461.2 396,464.7 395.5,460.3 396.6,464.5 396.3,461.1 397.2,464.4 397.1,461.6 397.8,464.3 397.6,460.7 398.4,464.2 398.3,461.5 399.1,464.1 399.1,462.3 399.7,464 399.3,458.7 400.3,464 400.4,462.3 400.9,463.9 400.7,459.8 401.5,463.8 401.4,459.9 402.1,463.8 401.6,454.6 402.7,463.7 402.5,456.6 403.3,463.7 403.3,459.3 403.9,463.6 404.1,462.1 404.5,463.6 404.5,456.4 405.2,463.6 405.2,456.1 405.8,463.5 405.9,457.3 406.4,463.5 406.4,445.5 407,463.5 407.3,458.9 407.6,463.5 407.9,459.7 408.2,463.5 408.6,458.5 408.8,463.5 409.2,461.5 409.4,463.5 410,457.5 410,463.6 410.5,461.4 410.7,463.6 411.3,457 411.3,463.6 412,457.8 411.9,463.7 412.7,456.9 412.5,463.7 413,461.3 413.1,463.8 414.1,456.6 413.7,463.8 415.6,449.3 414.3,463.9 416.8,446.1 414.9,464 416.3,455.9 415.5,464 416.2,461.8 416.1,464.1 417.7,455.9 416.8,464.2 417.4,461.9 417.4,464.3 420.8,446.6 418,464.4 418.6,462.9 418.6,464.5 419.2,463 419.2,464.7 420.2,460.9 419.8,464.8 420.5,463 420.4,464.9 424.1,449.9 421,465 424.5,451.7 421.6,465.2 422.6,462.5 422.1,465.3 425.2,454.9 422.7,465.5 424,462.2 423.3,465.7 426.2,456.8 423.9,465.8 424.8,463.9 424.5,466 429.1,452.2 425.1,466.2 426.7,462.3 425.7,466.4 426.8,463.9 426.3,466.6 427.9,462.7 426.8,466.8 427.6,465.4 427.4,467 428.3,465.5 428,467.2 429.9,463.1 428.6,467.4 430.9,462.2 429.1,467.6 436.1,451 429.7,467.8 431.9,463.4 430.3,468.1 431.9,465.1 430.8,468.3 432.3,465.8 431.4,468.6 432.3,467.2 432,468.8 437.7,457.2 432.5,469.1 435.8,462.9 433.1,469.3 434.6,466.8 433.6,469.6 437.5,462.6 434.2,469.9 437.6,463.9 434.7,470.2 437.9,464.8 435.2,470.4 437.6,466.8 435.8,470.7 441.4,461.4 436.3,471 443.3,459.5 436.8,471.3 441.2,464.6 437.4,471.6 438.9,469.7 437.9,472 440.4,468.5 438.4,472.3 442,467.1 438.9,472.6 447.5,459.8 439.5,472.9 442.3,469.1 440,473.3 442.8,469.7 440.5,473.6 441.8,472.3 441,474 442.3,472.7 441.5,474.3 443.5,472.1 442,474.7 446.2,469.5 442.5,475 444.3,473.1 443,475.4 448.1,469.3 443.5,475.8 447.5,471.1 443.9,476.2 446.1,474 444.4,476.5 447.8,472.9 444.9,476.9 451.4,469.6 445.4,477.3 446.7,476.3 445.8,477.7 450,473.4 446.3,478.1 451.8,472.4 446.7,478.5 458.5,466.1 447.2,478.9 449.7,476.7 447.6,479.4 452.1,475.1 448.1,479.8 454.6,473.5 448.5,480.2 451,478.2 449,480.6 455.1,475 449.4,481.1 455.3,475.8 449.8,481.5 461.2,471.1 450.2,482 453.4,479.5 450.7,482.4 452.4,481.3 451.1,482.9 454.9,479.9 451.5,483.3 456.7,479.1 451.9,483.8 461.8,475.7 452.3,484.2 458.6,479.3 452.7,484.7 456.9,481.7 453.1,485.2 461.4,478.9 453.4,485.7 461.7,479.6 453.8,486.1 458.7,482.8 454.2,486.6 456.7,485.1 454.6,487.1 456,486.5 454.9,487.6 459.6,484.6 455.3,488.1 456.7,487.5 455.6,488.6 458.7,486.9 456,489.1 471.1,479.3 456.3,489.6 458.9,488.3 456.7,490.1 462.6,486.7 457,490.7 463.6,486.9 457.3,491.2 460.3,489.7 457.6,491.7 462.7,489 458,492.2 468,486.7 458.3,492.8 464.9,489.3 458.6,493.3 461.7,491.9 458.9,493.8 474.8,485.5 459.2,494.4 465.1,491.5 459.4,494.9 462,493.9 459.7,495.4 468,491.6 460,496 467.8,492.5 460.3,496.5 470.5,492 460.5,497.1 469.6,493.2 460.8,497.6 469,494.3 461,498.2 464.6,497 461.3,498.8 468.8,495.9 461.5,499.3 469.2,496.5 461.8,499.9 470.6,496.7 462,500.5 464.5,499.8 462.2,501 479.2,495 462.4,501.6 467.6,500 462.6,502.2 474.5,498.3 462.8,502.8 467.5,501.5 463,503.3 471.2,501 463.2,503.9 468.8,502.5 463.4,504.5 466.5,503.9 463.6,505.1 468.1,504.1 463.8,505.7 472.9,503.4 463.9,506.3 466.9,505.8 464.1,506.9 477.1,503.8 464.3,507.5 471.7,505.9 464.4,508 472.9,506.3 464.6,508.6 469.4,507.8 464.7,509.2 471.8,508 464.8,509.8 470.9,508.9 464.9,510.4 468.9,510 465.1,511 466.6,511.1 465.2,511.6 470.4,511 465.3,512.2 472.1,511.4 465.4,512.8 470.6,512.4 465.5,513.5 469.3,513.2 465.6,514.1 470.7,513.7 465.6,514.7 467.7,514.7 465.7,515.3 472,514.9 465.8,515.9 467.6,516 465.8,516.5 468,516.6 465.9,517.1 467.8,517.3 465.9,517.7 481.5,517 466,518.3 478.5,517.9 466,518.9 472.1,519 466,519.6 480.3,519.3 466.1,520.2 468.7,520.4 466.1,520.8 472.6,521 466.1,521.4 470.6,521.7ZM349.1,522a58.5,58.5 0 1 0 117.1,0a58.5,58.5 0 1 0 -117.1,0Z" fill="url(#spk1)" opacity="0.85" fill-rule="evenodd"/>
<path d="M466.1,522 469.5,522.2 466.1,522.4 467.2,522.6 466.1,522.8 467.9,523.1 466.1,523.2 467.7,523.5 466.1,523.6 470.3,524 466.1,524 469.8,524.4 466,524.4 472.4,524.9 466,524.9 467.2,525.1 466,525.3 468.3,525.6 466,525.7 467,525.9 466,526.1 467.5,526.4 465.9,526.5 468.6,526.9 465.9,526.9 466.9,527.2 465.9,527.3 467.4,527.6 465.8,527.7 469.3,528.3 465.8,528.1 468.6,528.6 465.7,528.5 467.3,528.9 465.7,528.9 468.8,529.5 465.6,529.3 470.5,530.2 465.6,529.7 466.6,530.1 465.5,530.1 470.4,531 465.5,530.5 469.3,531.3 465.4,530.9 467.4,531.5 465.3,531.4 466.7,531.8 465.3,531.8 473.7,533.4 465.2,532.2 467.1,532.7 465.1,532.6 466.3,533 465.1,533 466.2,533.4 465,533.4 470.4,534.7 464.9,533.8 468,534.6 464.8,534.2 469.6,535.4 464.7,534.6 468.7,535.7 464.6,535 467.4,535.8 464.6,535.4 473.9,537.8 464.5,535.8 466.5,536.5 464.4,536.2 467.2,537.1 464.3,536.5 469.3,538.1 464.2,536.9 467.3,538 464.1,537.3 469.5,539.1 463.9,537.7 466.8,538.8 463.8,538.1 467.5,539.4 463.7,538.5 464.7,539 463.6,538.9 465.1,539.6 463.5,539.3 465.2,540 463.4,539.7 464.4,540.2 463.2,540.1 464.7,540.8 463.1,540.5 464.2,541.1 463,540.9 464.6,541.6 462.8,541.2 466,542.6 462.7,541.6 464.6,542.5 462.6,542 464.5,542.9 462.4,542.4 463.8,543.1 462.3,542.8 463.8,543.6 462.1,543.2 469.2,546.1 462,543.5 465.2,545 461.8,543.9 464.8,545.3 461.7,544.3 462.9,545 461.5,544.7 465.3,546.5 461.4,545 462.6,545.8 461.2,545.4 463.1,546.5 461,545.8 470.1,550.1 460.9,546.2 463.9,547.8 460.7,546.5 463.3,548 460.5,546.9 463.9,548.7 460.4,547.3 465.2,549.8 460.2,547.6 464.2,549.9 460,548 461.4,548.9 459.8,548.4 460.7,549 459.6,548.7 461.2,549.8 459.4,549.1 460.9,550.1 459.3,549.5 460.5,550.4 459.1,549.8 465.9,553.8 458.9,550.2 464,553.3 458.7,550.5 460.2,551.7 458.5,550.9 461.5,552.8 458.3,551.2 460.1,552.5 458.1,551.6 463.9,555.3 457.8,552 459.9,553.4 457.6,552.3 459,553.4 457.4,552.7 458.7,553.7 457.2,553 459.6,554.8 457,553.3 458.3,554.5 456.8,553.7 459.3,555.6 456.6,554 461.8,557.8 456.3,554.4 458.1,555.8 456.1,554.7 457.3,555.8 455.9,555.1 464,560.9 455.6,555.4 457.7,557.1 455.4,555.7 456.3,556.6 455.2,556.1 456,556.9 454.9,556.4 455.8,557.3 454.7,556.7 457.3,558.9 454.4,557 458.1,560.1 454.2,557.4 455.9,558.9 453.9,557.7 454.7,558.6 453.7,558 455.3,559.5 453.4,558.3 461.1,564.7 453.2,558.7 455.2,560.6 452.9,559 460.1,565.2 452.7,559.3 456.9,563.1 452.4,559.6 453.1,560.4 452.1,559.9 455.1,562.7 451.9,560.2 454.6,562.8 451.6,560.5 453.6,562.6 451.3,560.8 452.5,562.2 451.1,561.1 453.5,563.6 450.8,561.4 451.6,562.5 450.5,561.7 452.1,563.5 450.2,562 451.9,563.9 450,562.3 455.9,568.3 449.7,562.6 453.8,567 449.4,562.9 450.5,564.3 449.1,563.2 450.9,565.3 448.8,563.5 449.7,564.7 448.5,563.8 453.2,568.9 448.2,564.1 452.2,568.5 447.9,564.4 449.1,565.8 447.6,564.6 449.8,567.3 447.3,564.9 449.4,567.5 447,565.2 447.8,566.4 446.7,565.5 449.6,568.9 446.4,565.7 448.2,568 446.1,566 449,569.6 445.8,566.3 447.5,568.6 445.5,566.5 446,567.4 445.2,566.8 446.3,568.4 444.9,567.1 445.4,568 444.6,567.3 449,573.2 444.3,567.6 447.9,572.5 443.9,567.8 447,572.1 443.6,568.1 444.6,569.7 443.3,568.3 443.8,569.4 443,568.6 446.4,573.6 442.6,568.8 447.3,575.4 442.3,569.1 442.9,570.2 442,569.3 443.3,571.6 441.7,569.6 442.2,570.6 441.3,569.8 443.7,573.6 441,570 443.4,573.8 440.7,570.3 441.2,571.5 440.3,570.5 441.6,572.7 440,570.7 441.4,573.3 439.6,571 440.4,572.5 439.3,571.2 442.3,576.3 438.9,571.4 440,573.5 438.6,571.6 439.3,573.1 438.3,571.8 439.6,574.4 437.9,572 439.9,575.7 437.6,572.2 438.2,573.7 437.2,572.5 438,574.2 436.9,572.7 441.6,581.4 436.5,572.9 438,576 436.1,573.1 437.1,575.2 435.8,573.3 436.9,575.8 435.4,573.5 435.9,574.7 435.1,573.7 435.6,575.2 434.7,573.8 435.4,575.7 434.3,574 435.6,576.9 434,574.2 434.5,575.8 433.6,574.4 434.1,575.9 433.2,574.6 433.6,575.7 432.9,574.8 434.1,577.9 432.5,574.9 433,576.5 432.1,575.1 434.7,581.2 431.8,575.3 433.9,580.6 431.4,575.4 431.7,576.6 431,575.6 431.5,577.2 430.6,575.8 431.9,579.2 430.3,575.9 430.7,577.5 429.9,576.1 430.2,577.4 429.5,576.2 432.1,583.4 429.1,576.4 430.1,579.3 428.8,576.5 429.5,579 428.4,576.7 429.8,581.1 428,576.8 429.5,581.6 427.6,577 427.9,578.5 427.2,577.1 427.4,578.4 426.8,577.2 427.4,579.5 426.5,577.4 427,579.6 426.1,577.5 426.7,580 425.7,577.6 426.7,581.6 425.3,577.8 426.2,581.3 424.9,577.9 427.6,587.5 424.5,578 424.7,579.3 424.1,578.1 424.5,580.3 423.7,578.2 424.1,580.2 423.3,578.3 424.7,583.9 422.9,578.5 423.2,580.1 422.5,578.6 422.7,580.1 422.1,578.7 422.5,581.1 421.8,578.8 422.1,581.1 421.4,578.9 421.6,580.6 421,579 421.1,580.6 420.6,579 421.9,586.1 420.2,579.1 420.5,581.5 419.8,579.2 420.7,584.9 419.4,579.3 419.7,582.2 419,579.4 419,580.5 418.6,579.5 420.2,589.3 418.2,579.5 418.9,584.8 417.8,579.6 419.1,588.8 417.4,579.7 418.3,586.9 417,579.7 417.6,585.2 416.5,579.8 416.6,581.3 416.1,579.9 416.3,582.5 415.7,579.9 415.8,581.5 415.3,580 415.4,582.2 414.9,580 414.9,581.2 414.5,580.1 414.6,582.2 414.1,580.1 415,590.1 413.7,580.2 413.7,581.9 413.3,580.2 413.5,584.9 412.9,580.3 412.9,582.7 412.5,580.3 412.5,582.6 412.1,580.3 412.5,588.9 411.7,580.4 412.1,590.3 411.3,580.4 411.2,583.3 410.9,580.4 410.9,584.5 410.5,580.4 410.3,581.8 410,580.4 409.9,582.3 409.6,580.5 409.7,589.8 409.2,580.5 409.1,583.6 408.8,580.5 408.7,583.4 408.4,580.5 408.3,584.8 408,580.5 407.8,581.6 407.6,580.5 407.4,583.6 407.2,580.5 407,583.2 406.8,580.5 406.5,586.1 406.4,580.5 406.1,581.9 406,580.5 405.5,589.2 405.6,580.5 405.3,581.7 405.2,580.4 404.9,581.9 404.7,580.4 404.4,583.6 404.3,580.4 403.9,584.1 403.9,580.4 403.6,582 403.5,580.4 403.2,581.6 403.1,580.3 402.4,586.6 402.7,580.3 402.4,581.9 402.3,580.3 401.8,583.4 401.9,580.2 401.4,583.5 401.5,580.2 401,582.4 401.1,580.1 400.5,583.2 400.7,580.1 400.1,582.8 400.3,580 399.1,587.5 399.9,580 399.5,581.5 399.5,579.9 398.7,583.9 399.1,579.9 398.6,581.5 398.7,579.8 398.1,582 398.2,579.7 397.4,583.3 397.8,579.7 397.3,581.5 397.4,579.6 396.9,581.5 397,579.5 396,583.8 396.6,579.5 396.2,580.6 396.2,579.4 395.5,581.8 395.8,579.3 393.6,589.1 395.4,579.2 393.1,589 395,579.1 394.6,580.2 394.6,579 394.1,580.5 394.2,579 393.6,580.6 393.8,578.9 391.9,586.1 393.4,578.8 391.8,584.6 393.1,578.7 391.3,584.5 392.7,578.6 391.9,580.5 392.3,578.5 391.7,579.8 391.9,578.3 390.2,583.4 391.5,578.2 390.2,581.9 391.1,578.1 390,581.2 390.7,578 387.6,587.5 390.3,577.9 389,581.2 389.9,577.8 389.4,578.7 389.5,577.6 387.7,582.4 389.1,577.5 388.3,579.2 388.7,577.4 387.4,580.7 388.4,577.2 385.6,584.5 388,577.1 387.3,578.3 387.6,577 387,578.1 387.2,576.8 386.6,577.9 386.8,576.7 385.6,579.4 386.4,576.5 385.6,578.1 386.1,576.4 384.7,579.3 385.7,576.2 384,579.9 385.3,576.1 384.5,577.4 384.9,575.9 383.4,579 384.6,575.8 383.7,577.3 384.2,575.6 382.9,577.9 383.8,575.4 380.9,581.4 383.4,575.3 381,580.2 383.1,575.1 382.4,576.1 382.7,574.9 381.5,576.9 382.3,574.8 381.4,576.3 382,574.6 381.3,575.4 381.6,574.4 379.4,578.4 381.2,574.2 379.5,577.2 380.9,574 379.9,575.5 380.5,573.8 378.3,577.5 380.1,573.7 378.6,576.1 379.8,573.5 378.5,575.4 379.4,573.3 378.7,574.1 379.1,573.1 378.3,574 378.7,572.9 375.5,578.1 378.3,572.7 374.8,578.3 378,572.5 376.3,574.8 377.6,572.2 374.7,576.7 377.3,572 375.5,574.6 376.9,571.8 376,572.9 376.6,571.6 375.7,572.6 376.3,571.4 375.1,572.9 375.9,571.2 372.2,576.5 375.6,571 372.7,574.9 375.2,570.7 371.9,575.4 374.9,570.5 371.1,575.8 374.5,570.3 373.5,571.4 374.2,570 373.1,571.3 373.9,569.8 373,570.7 373.5,569.6 370.7,573.2 373.2,569.3 369.4,574.2 372.9,569.1 371.4,570.8 372.6,568.8 370.4,571.4 372.2,568.6 371.2,569.6 371.9,568.3 367.2,574.1 371.6,568.1 367.8,572.5 371.3,567.8 364.9,575.5 370.9,567.6 367.6,571.3 370.6,567.3 366.6,571.9 370.3,567.1 369.5,567.8 370,566.8 367.1,569.9 369.7,566.5 368.2,567.9 369.4,566.3 364.4,571.7 369.1,566 365.7,569.5 368.8,565.7 364.7,569.9 368.5,565.5 364.9,569 368.2,565.2 366.8,566.3 367.9,564.9 364.5,568.2 367.6,564.6 366.5,565.4 367.3,564.4 363,568.5 367,564.1 362.8,568 366.7,563.8 365.4,564.8 366.4,563.5 362.6,567 366.1,563.2 364.2,564.8 365.8,562.9 364.3,564.1 365.5,562.6 361.9,565.8 365.2,562.3 363.9,563.3 365,562 364,562.6 364.7,561.7 363.4,562.6 364.4,561.4 362.8,562.6 364.1,561.1 359.7,564.9 363.9,560.8 356.8,566.8 363.6,560.5 362.1,561.6 363.3,560.2 360.6,562.3 363.1,559.9 361.2,561.2 362.8,559.6 355,565.8 362.5,559.3 360.2,560.9 362.3,559 356.1,563.7 362,558.7 360.9,559.3 361.8,558.3 354.2,564 361.5,558 360.2,558.8 361.3,557.7 354.1,562.9 361,557.4 359.5,558.3 360.8,557 359.6,557.6 360.5,556.7 358.5,557.9 360.3,556.4 356.8,558.6 360,556.1 358.4,557 359.8,555.7 357,557.4 359.6,555.4 357.2,556.8 359.3,555.1 357.4,556.1 359.1,554.7 356.4,556.2 358.9,554.4 357.3,555.1 358.6,554 355.2,556 358.4,553.7 357.5,554.1 358.2,553.3 352,557 358,553 355.5,554.3 357.8,552.7 354.2,554.6 357.6,552.3 353.8,554.3 357.4,552 354.1,553.6 357.1,551.6 355.2,552.5 356.9,551.2 355.8,551.7 356.7,550.9 353.5,552.5 356.5,550.5 354.7,551.3 356.3,550.2 354.6,550.9 356.1,549.8 351.2,552.3 355.9,549.5 352.3,551.2 355.8,549.1 354,549.8 355.6,548.7 353.8,549.4 355.4,548.4 353.3,549.2 355.2,548 353.1,548.8 355,547.6 353.3,548.3 354.8,547.3 353.6,547.7 354.7,546.9 352.5,547.7 354.5,546.5 347.3,549.6 354.3,546.2 350.9,547.5 354.2,545.8 348,548.3 354,545.4 350.9,546.5 353.8,545 352,545.6 353.7,544.7 350.9,545.6 353.5,544.3 352.5,544.5 353.4,543.9 351.6,544.4 353.2,543.5 350.9,544.2 353.1,543.2 350.1,544.1 352.9,542.8 349.5,543.8 352.8,542.4 350.4,543.1 352.6,542 350.3,542.6 352.5,541.6 350.9,542 352.4,541.2 349.9,541.9 352.2,540.9 345.9,542.7 352.1,540.5 347.5,541.8 352,540.1 350.5,540.3 351.8,539.7 350.6,539.9 351.7,539.3 349,539.9 351.6,538.9 348.3,539.7 351.5,538.5 349.5,538.9 351.4,538.1 346.4,539.3 351.3,537.7 347,538.7 351.1,537.3 347.5,538.1 351,536.9 349.4,537.2 350.9,536.5 349.4,536.7 350.8,536.2 349.8,536.2 350.7,535.8 349.1,535.9 350.6,535.4 348.1,535.7 350.6,535 345.1,536 350.5,534.6 349.3,534.6 350.4,534.2 348.1,534.4 350.3,533.8 346.9,534.2 350.2,533.4 348.7,533.5 350.1,533 346.3,533.5 350.1,532.6 347.4,532.8 350,532.2 348.3,532.2 349.9,531.8 346.4,532.1 349.9,531.4 348.8,531.3 349.8,530.9 345.5,531.4 349.7,530.5 345.2,531 349.7,530.1 348.4,530.1 349.6,529.7 347.3,529.8 349.6,529.3 348.1,529.3 349.5,528.9 340.9,529.7 349.5,528.5 346.7,528.6 349.4,528.1 348.3,528 349.4,527.7 347.7,527.7 349.3,527.3 343.8,527.6 349.3,526.9 346.8,526.9 349.3,526.5 344.4,526.6 349.2,526.1 345.6,526.1 349.2,525.7 339.2,526.1 349.2,525.3 346,525.2 349.2,524.9 341,525 349.2,524.4 342.8,524.5 349.1,524 345.9,523.9 349.1,523.6 345.1,523.5 349.1,523.2 346.4,523.1 349.1,522.8 343.8,522.7 349.1,522.4 346.2,522.2 349.1,522 342.6,521.8 349.1,521.6 344.8,521.3 349.1,521.2 346.6,520.9 349.1,520.8 347.4,520.5 349.1,520.4 347.4,520.1 349.1,520 345.7,519.6 349.2,519.6 344.7,519.1 349.2,519.1 346.4,518.8 349.2,518.7 345.8,518.3 349.2,518.3 347.5,518 349.2,517.9 348.1,517.6 349.3,517.5 347.5,517.2 349.3,517.1 347.6,516.7 349.3,516.7 347.4,516.3 349.4,516.3 346.5,515.8 349.4,515.9 348.1,515.5 349.5,515.5 347.9,515.1 349.5,515.1 345.7,514.4 349.6,514.7 345.7,514 349.6,514.3 348.5,513.9 349.7,513.9 347.5,513.3 349.7,513.5 346.9,512.8 349.8,513.1 347.6,512.5 349.9,512.6 348.4,512.2 349.9,512.2 347.7,511.6 350,511.8 343.5,510.5 350.1,511.4 347,510.7 350.1,511 346.4,510.1 350.2,510.6 344.7,509.3 350.3,510.2 345.9,509.1 350.4,509.8 348.3,509.2 350.5,509.4 349.5,509 350.6,509 348.6,508.4 350.6,508.6 346.5,507.4 350.7,508.2 345.3,506.7 350.8,507.8 342.8,505.6 350.9,507.5 348.8,506.7 351,507.1 346.9,505.7 351.1,506.7 348.4,505.7 351.3,506.3 348.2,505.2 351.4,505.9 349.9,505.2 351.5,505.5 350,504.8 351.6,505.1 349.4,504.2 351.7,504.7 350.8,504.2 351.8,504.3 350,503.5 352,503.9 348.5,502.6 352.1,503.5 350,502.6 352.2,503.1 350.9,502.5 352.4,502.8 350.1,501.7 352.5,502.4 351.3,501.7 352.6,502 349.6,500.6 352.8,501.6 351.8,501 352.9,501.2 350.9,500.2 353.1,500.8 350.3,499.6 353.2,500.5 352.3,499.9 353.4,500.1 350.2,498.6 353.5,499.7 352.3,499 353.7,499.3 351.5,498.2 353.8,499 352.9,498.3 354,498.6 352.1,497.5 354.2,498.2 352.8,497.4 354.3,497.8 352.6,496.8 354.5,497.5 350.6,495.4 354.7,497.1 352.8,496 354.8,496.7 351,494.6 355,496.4 350.4,493.8 355.2,496 353.8,495 355.4,495.6 354.4,494.9 355.6,495.3 354.7,494.6 355.8,494.9 353.3,493.4 355.9,494.5 347.2,489.6 356.1,494.2 354.5,493 356.3,493.8 353.4,491.9 356.5,493.5 352.6,491 356.7,493.1 353.8,491.2 356.9,492.7 353.3,490.4 357.1,492.4 350.2,488.1 357.4,492 356.1,491.1 357.6,491.7 356.8,491 357.8,491.3 356.7,490.4 358,491 357,490.1 358.2,490.7 355.2,488.5 358.4,490.3 356,488.5 358.6,490 357.4,488.9 358.9,489.6 355.8,487.3 359.1,489.3 355.5,486.6 359.3,488.9 358.3,488 359.6,488.6 357,486.6 359.8,488.3 356.4,485.6 360,487.9 359.1,487 360.3,487.6 356.3,484.4 360.5,487.3 353.4,481.7 360.8,487 359.9,486 361,486.6 360.3,485.8 361.3,486.3 359.9,485 361.5,486 358.7,483.5 361.8,485.7 355.1,480.1 362,485.3 360.4,483.8 362.3,485 359.3,482.3 362.5,484.7 361.7,483.8 362.8,484.4 360,481.8 363.1,484.1 360.6,481.7 363.3,483.8 362.5,482.8 363.6,483.5 360.3,480.3 363.9,483.2 359.8,479.3 364.1,482.9 361.9,480.6 364.4,482.6 363.6,481.5 364.7,482.3 357.5,475.3 365,482 361.7,478.6 365.2,481.7 363.9,480.1 365.5,481.4 364,479.6 365.8,481.1 364.4,479.4 366.1,480.8 364.3,478.7 366.4,480.5 365.1,478.9 366.7,480.2 362.9,476.1 367,479.9 363.5,476.1 367.3,479.6 366.5,478.6 367.6,479.4 361.7,472.8 367.9,479.1 365.7,476.4 368.2,478.8 364.8,474.8 368.5,478.5 366,475.4 368.8,478.3 367.3,476.3 369.1,478 366.5,474.7 369.4,477.7 363.6,470.7 369.7,477.5 368.7,476 370,477.2 367,473.2 370.3,476.9 368.7,474.6 370.6,476.7 369.2,474.5 370.9,476.4 369.6,474.4 371.3,476.2 368.9,472.8 371.6,475.9 370.7,474.4 371.9,475.7 368.7,471.1 372.2,475.4 369.2,471.1 372.6,475.2 372,474.1 372.9,474.9 369.4,469.9 373.2,474.7 372.4,473.2 373.5,474.4 372.3,472.3 373.9,474.2 372.2,471.4 374.2,474 373.2,472.1 374.5,473.7 374.1,472.7 374.9,473.5 372,468.8 375.2,473.3 374.6,471.9 375.6,473 374.9,471.6 375.9,472.8 373.5,468.6 376.3,472.6 375.4,470.8 376.6,472.4 373.6,467.1 376.9,472.2 375.1,468.7 377.3,472 376.6,470.3 377.6,471.8 377.3,470.8 378,471.5 374.1,464.4 378.4,471.3 377.9,470.2 378.7,471.1 376.9,467.5 379.1,470.9 378,468.6 379.4,470.7 377.5,466.8 379.8,470.5 378.2,467.1 380.1,470.3 378.7,467.2 380.5,470.2 379.5,467.7 380.9,470 378.9,465.6 381.2,469.8 380.9,468.6 381.6,469.6 381.1,468.1 382,469.4 380.5,465.9 382.3,469.2 381.7,467.5 382.7,469.1 381.6,466.2 383.1,468.9 382.2,466.5 383.4,468.7 382.5,466.1 383.8,468.6 383.1,466.3 384.2,468.4 382.7,464.4 384.6,468.2 384,466.3 384.9,468.1 383.6,464.4 385.3,467.9 384.8,466.2 385.7,467.8 385.2,466.1 386.1,467.6 385.8,466.3 386.4,467.5 386.1,466 386.8,467.3 386.6,466 387.2,467.2 386.4,464.4 387.6,467 386.3,462.8 388,466.9 387.7,465.4 388.4,466.8 388,465.2 388.7,466.6 388.1,464.1 389.1,466.5 388,462.5 389.5,466.4 386.7,456.8 389.9,466.2 389.3,463.5 390.3,466.1 390,464.3 390.7,466 390.5,464.7 391.1,465.9 390.9,464.4 391.5,465.8 391.2,464.2 391.9,465.7 391.7,464.2 392.3,465.5 392.2,464.5 392.7,465.4 392.1,462.6 393.1,465.3 392.8,463.6 393.4,465.2 391.3,455.7 393.8,465.1 393.4,462.2 394.2,465 393.6,461.2 394.6,465 394.5,463.6 395,464.9 394,459.1 395.4,464.8 395.1,462.2 395.8,464.7 394.9,458.8 396.2,464.6 395.9,461.6 396.6,464.5 396.4,462 397,464.5 396.8,462.1 397.4,464.4 397.4,462.9 397.8,464.3 397.9,463.2 398.2,464.3 397.2,456.5 398.7,464.2 398.5,461.6 399.1,464.1 398.5,459 399.5,464.1 399.4,461.8 399.9,464 399.9,462.8 400.3,464 400.1,460.6 400.7,463.9 400.7,462.8 401.1,463.9 401.1,462.5 401.5,463.8 401.4,460.8 401.9,463.8 401.9,461.9 402.3,463.7 401.6,453.8 402.7,463.7 402.8,462.4 403.1,463.7 403,459.2 403.5,463.6 403.5,460.4 403.9,463.6 403.8,458.9 404.3,463.6 404.5,462 404.7,463.6 404.8,460.8 405.2,463.6 405.3,461.1 405.6,463.5 405.7,461.1 406,463.5 406,457.8 406.4,463.5 406.4,453.5 406.8,463.5 407,461.6 407.2,463.5 407.4,460.2 407.6,463.5 407.8,460.2 408,463.5 408.3,459.3 408.4,463.5 408.8,455.4 408.8,463.5 409.1,462 409.2,463.5 409.5,462 409.6,463.5 410,460 410,463.6 410.3,462.2 410.5,463.6 410.7,462.1 410.9,463.6 411.1,462.4 411.3,463.6 411.5,462.6 411.7,463.6 412.1,461.2 412.1,463.7 412.5,460.5 412.5,463.7 412.9,461.9 412.9,463.7 413.3,462.1 413.3,463.8 413.9,459.9 413.7,463.8 414.3,460 414.1,463.9 414.6,461.5 414.5,463.9 415.2,460.2 414.9,464 416.1,456.9 415.3,464 416.2,459.4 415.7,464.1 416.4,460.8 416.1,464.1 416.9,460.6 416.5,464.2 417.9,456.8 417,464.3 417.5,462 417.4,464.3 418,461.5 417.8,464.4 418.6,461 418.2,464.5 419.6,457.9 418.6,464.5 419.8,459.5 419,464.6 419.4,463.5 419.4,464.7 419.9,463.3 419.8,464.8 420.4,463 420.2,464.9 421.3,460.7 420.6,465 421.4,462.1 421,465 421.6,463.3 421.4,465.1 421.9,463.9 421.8,465.2 422.9,461.6 422.1,465.3 423.3,461.6 422.5,465.4 424.8,457.9 422.9,465.5 423.8,463 423.3,465.7 424.2,463.2 423.7,465.8 424.3,464.7 424.1,465.9 424.6,464.9 424.5,466 425.4,463.8 424.9,466.1 425.7,464.3 425.3,466.2 426,464.7 425.7,466.4 426.3,465.3 426.1,466.5 429.1,458.2 426.5,466.6 428.4,461.6 426.8,466.8 428,463.9 427.2,466.9 430.2,459.2 427.6,467 431.3,457.7 428,467.2 429.5,463.8 428.4,467.3 429.2,465.7 428.8,467.5 429.3,466.5 429.1,467.6 431,463.6 429.5,467.8 430.7,465.5 429.9,467.9 431.4,464.7 430.3,468.1 433.2,461.8 430.6,468.2 431.4,467 431,468.4 432.5,465.6 431.4,468.6 433,465.5 431.8,468.7 433,466.4 432.1,468.9 432.8,467.9 432.5,469.1 433.6,467.3 432.9,469.2 433.9,467.6 433.2,469.4 435,466.2 433.6,469.6 436.3,464.6 434,469.8 435,468.1 434.3,470 436.3,466.7 434.7,470.2 435.7,468.6 435.1,470.3 439,463.4 435.4,470.5 438,466.2 435.8,470.7 437.4,468.3 436.1,470.9 437.5,468.9 436.5,471.1 437.6,469.6 436.9,471.3 438,469.8 437.2,471.5 442.2,463.5 437.6,471.8 438.9,469.9 437.9,472 439.5,469.7 438.3,472.2 443.7,463.8 438.6,472.4 440.7,469.5 438.9,472.6 440.7,470.3 439.3,472.8 440.7,471 439.6,473 440.6,471.9 440,473.3 441.3,471.7 440.3,473.5 442.9,470 440.7,473.7 442.7,471.1 441,474 443.7,470.5 441.3,474.2 442.4,473.1 441.7,474.4 443.5,472.2 442,474.7 446.5,468.9 442.3,474.9 443.9,473.1 442.6,475.2 445.1,472.2 443,475.4 443.9,474.5 443.3,475.7 449.4,468.1 443.6,475.9 445.8,473.5 443.9,476.2 445.1,475 444.3,476.4 445.3,475.4 444.6,476.7 446.6,474.5 444.9,476.9 446.9,474.8 445.2,477.2 446.2,476.4 445.5,477.5 452.2,470 445.8,477.7 450.5,472.7 446.1,478 447.9,476.3 446.4,478.3 447.5,477.4 446.7,478.5 450.4,474.7 447,478.8 449,477 447.3,479.1 450.2,476.3 447.6,479.4 449.7,477.5 447.9,479.6 449.3,478.5 448.2,479.9 452.1,476.2 448.5,480.2 455.7,473.2 448.8,480.5 450.1,479.5 449.1,480.8 451.3,478.9 449.4,481.1 451.1,479.7 449.7,481.4 455,476.6 450,481.7 452.1,479.9 450.2,482 454.8,478 450.5,482.3 454.9,478.5 450.8,482.6 452.3,481.5 451.1,482.9 454.7,479.8 451.3,483.2 453.2,481.8 451.6,483.5 457.4,478.7 451.9,483.8 454.1,482.2 452.1,484.1 456.2,480.9 452.4,484.4 453.9,483.4 452.7,484.7 454.2,483.7 452.9,485 455.5,483.2 453.2,485.3 461.1,479.3 453.4,485.7 455.6,484.2 453.7,486 454.9,485.3 453.9,486.3 456.3,484.7 454.2,486.6 455.9,485.6 454.4,487 456.9,485.4 454.7,487.3 457.1,485.7 454.9,487.6 457,486.3 455.2,487.9 456.9,487 455.4,488.3 456.8,487.6 455.6,488.6 458.9,486.6 455.9,488.9 458.5,487.4 456.1,489.3 457.6,488.5 456.3,489.6 460.3,487.3 456.6,490 457.6,489.5 456.8,490.3 460.5,488.2 457,490.7 460.4,488.7 457.2,491 461.6,488.5 457.4,491.3 459.4,490.4 457.6,491.7 460.8,490 457.8,492 462.4,489.6 458.1,492.4 466.8,487.5 458.3,492.7 460.7,491.6 458.5,493.1 459.5,492.7 458.7,493.5 461.1,492.3 458.9,493.8 461.7,492.5 459.1,494.2 464.3,491.6 459.3,494.5 464.6,491.9 459.4,494.9 461.7,494 459.6,495.3 462.2,494.2 459.8,495.6 462.1,494.7 460,496 463.7,494.4 460.2,496.4 462.3,495.6 460.4,496.7 463.7,495.4 460.5,497.1 461.9,496.7 460.7,497.5 463.1,496.6 460.9,497.8 469.5,494.2 461,498.2 462.9,497.6 461.2,498.6 464.8,497.2 461.4,499 464.7,497.8 461.5,499.3 466.8,497.4 461.7,499.7 466.9,497.8 461.8,500.1 467.2,498.2 462,500.5 464.1,499.9 462.1,500.8 464,500.3 462.3,501.2 466.1,500 462.4,501.6 466.6,500.3 462.6,502 468.2,500.2 462.7,502.4 463.8,502.2 462.8,502.8 464,502.6 463,503.1 466.3,502.3 463.1,503.5 469.9,501.5 463.2,503.9 472.8,501.1 463.4,504.3 467.5,503.2 463.5,504.7 465.8,504.2 463.6,505.1 464.9,504.9 463.7,505.5 467.1,504.7 463.8,505.9 469.6,504.5 463.9,506.3 466.3,505.8 464.1,506.7 467.8,505.9 464.2,507.1 470.6,505.6 464.3,507.5 465.4,507.4 464.4,507.8 469.1,506.9 464.5,508.2 466.3,508 464.6,508.6 466.7,508.4 464.6,509 466,508.9 464.7,509.4 467.5,509 464.8,509.8 467.8,509.4 464.9,510.2 469.6,509.5 465,510.6 466.4,510.6 465.1,511 466.3,511 465.1,511.4 471,510.6 465.2,511.8 468.5,511.5 465.3,512.2 467,512.2 465.3,512.6 472.2,511.8 465.4,513.1 466.8,513 465.5,513.5 468,513.3 465.5,513.9 467.2,513.8 465.6,514.3 467.3,514.2 465.6,514.7 466.7,514.7 465.7,515.1 470.6,514.7 465.7,515.5 472.3,515 465.8,515.9 469.5,515.7 465.8,516.3 467.2,516.4 465.9,516.7 468.3,516.7 465.9,517.1 467.9,517.1 465.9,517.5 469.1,517.5 466,517.9 469.4,517.9 466,518.3 468.3,518.4 466,518.7 467.7,518.8 466,519.1 471.5,519.1 466,519.6 467.6,519.7 466.1,520 468.2,520.1 466.1,520.4 468.7,520.5 466.1,520.8 467.7,521 466.1,521.2 469.1,521.4 466.1,521.6 469.2,521.8 466.1,522 476.1,522.2ZM349.1,522a58.5,58.5 0 1 0 117.1,0a58.5,58.5 0 1 0 -117.1,0Z" fill="#8a5cc2" opacity="0.6" fill-rule="evenodd"/>
<path d="M437.8,522 438.9,522.2 437.8,522.4 442.2,522.6 437.8,522.7 439.2,523 437.8,523.1 440.6,523.4 437.8,523.5 442,523.9 437.7,523.8 443.3,524.4 437.7,524.2 440.4,524.6 437.7,524.6 440.7,525 437.7,524.9 438.7,525.2 437.6,525.3 440.2,525.8 437.6,525.7 439.9,526.2 437.5,526 444,527.1 437.5,526.4 440.7,527.1 437.4,526.8 442.4,527.8 437.4,527.1 439.9,527.8 437.3,527.5 438.8,528 437.2,527.9 443.6,529.4 437.2,528.2 443,529.7 437.1,528.6 439.3,529.3 437,528.9 438.2,529.4 436.9,529.3 439.8,530.2 436.8,529.7 439.6,530.6 436.7,530 441.8,531.6 436.6,530.4 440.1,531.6 436.5,530.7 439.4,531.8 436.4,531.1 439.7,532.3 436.3,531.4 438.5,532.4 436.2,531.8 437.2,532.3 436.1,532.1 437.1,532.7 435.9,532.5 444.5,535.9 435.8,532.8 441.6,535.3 435.7,533.2 437.5,534.1 435.5,533.5 442.2,536.5 435.4,533.8 438.2,535.3 435.2,534.2 436.4,534.9 435.1,534.5 441,537.5 434.9,534.9 438,536.6 434.8,535.2 442.6,539.3 434.6,535.5 438.4,537.6 434.4,535.9 435.5,536.6 434.3,536.2 437.5,538.2 434.1,536.5 438.8,539.3 433.9,536.8 440.5,540.8 433.7,537.1 435.5,538.4 433.5,537.5 436.2,539.3 433.3,537.8 437.1,540.3 433.2,538.1 434.3,539.1 433,538.4 438.3,542.1 432.8,538.7 437.1,541.9 432.5,539 433.4,539.8 432.3,539.3 435.2,541.6 432.1,539.6 433.9,541.1 431.9,539.9 433.1,541 431.7,540.2 434.5,542.6 431.5,540.5 440.1,547.5 431.2,540.8 433.7,543 431,541.1 431.9,542.1 430.8,541.4 432.9,543.4 430.5,541.7 434.5,545.3 430.3,541.9 437.6,548.7 430,542.2 433.3,545.5 429.8,542.5 430.5,543.4 429.5,542.8 437.3,550.4 429.3,543 431.8,545.7 429,543.3 429.8,544.3 428.8,543.5 429.6,544.7 428.5,543.8 429.2,544.8 428.2,544.1 430.9,547.2 428,544.3 428.8,545.5 427.7,544.5 431.4,549 427.4,544.8 428.1,545.9 427.1,545 429.1,547.6 426.9,545.3 428.4,547.5 426.6,545.5 427.1,546.5 426.3,545.7 426.7,546.6 426,546 430.5,552.3 425.7,546.2 432.6,555.9 425.4,546.4 426.1,547.6 425.1,546.6 427.7,550.7 424.8,546.8 431.4,556.8 424.5,547 428.7,553.6 424.2,547.2 428,553.4 423.9,547.4 424.9,549.4 423.6,547.6 425.8,551.7 423.2,547.8 424.6,550.5 422.9,548 427.3,555.9 422.6,548.2 424.7,552.2 422.3,548.4 425.2,554.1 422,548.6 424.9,554.5 421.6,548.7 422.6,551 421.3,548.9 423.2,553.1 421,549.1 421.4,550.3 420.6,549.2 421.2,550.8 420.3,549.4 423.9,557.7 420,549.5 420.8,551.9 419.6,549.7 421.2,553.8 419.3,549.8 420.5,553.1 419,550 419.5,551.8 418.6,550.1 419.7,553.5 418.3,550.3 420.9,557.9 417.9,550.4 418.5,552.5 417.6,550.5 418.1,552.7 417.2,550.6 417.6,552.2 416.9,550.7 417.2,552.3 416.5,550.8 418.1,556.7 416.2,551 417.3,555.4 415.8,551.1 418.5,561.4 415.5,551.2 416.4,555.3 415.1,551.3 417.4,561.2 414.8,551.3 415,553.1 414.4,551.4 414.6,553 414,551.5 414.2,553.2 413.7,551.6 414,554 413.3,551.7 415.3,563.5 412.9,551.7 413.1,553.5 412.6,551.8 412.8,554.6 412.2,551.8 412.2,553 411.9,551.9 411.8,553 411.5,551.9 411.7,555.2 411.1,552 411.4,555.7 410.8,552 410.9,555.1 410.4,552.1 410.9,560.2 410,552.1 410.3,558.8 409.7,552.1 410.1,561.9 409.3,552.2 409.3,555.7 408.9,552.2 408.8,554.1 408.5,552.2 408.4,553.6 408.2,552.2 408.1,557.4 407.8,552.2 407.6,553.7 407.4,552.2 407.2,553.2 407.1,552.2 406.8,556.7 406.7,552.2 406.5,553.6 406.3,552.2 406,556 406,552.2 405.7,553.8 405.6,552.1 405.2,554.7 405.2,552.1 405,553.1 404.9,552.1 404.5,554.4 404.5,552 404.1,554.2 404.1,552 403.7,553.8 403.8,552 403.4,553.3 403.4,551.9 402.7,555.3 403,551.9 402.2,556.2 402.7,551.8 402.2,553.4 402.3,551.7 401.9,552.8 401.9,551.7 401.4,553.5 401.6,551.6 400.5,555.9 401.2,551.5 400.6,553.4 400.9,551.4 399.8,555.3 400.5,551.4 400,552.5 400.1,551.3 398.8,555.6 399.8,551.2 399.2,552.5 399.4,551.1 398.8,552.7 399.1,551 397.5,555.5 398.7,550.9 397.7,553.5 398.4,550.8 397,554.5 398,550.6 397.2,552.5 397.7,550.5 396.1,554.4 397.3,550.4 396.4,552.2 397,550.3 395.8,552.9 396.6,550.1 395.5,552.6 396.3,550 393.1,557.4 395.9,549.9 393.8,554.4 395.6,549.7 394.1,552.7 395.3,549.6 392.4,555.3 394.9,549.4 393.2,552.7 394.6,549.3 392.4,553.4 394.3,549.1 392.7,551.8 393.9,548.9 392.2,551.9 393.6,548.8 392.6,550.2 393.3,548.6 388.9,556.2 393,548.4 390.9,551.8 392.6,548.2 389.5,553.3 392.3,548 390.3,551.1 392,547.9 391.3,548.7 391.7,547.7 390.8,548.7 391.4,547.5 387.3,553.4 391.1,547.3 388.4,550.9 390.8,547.1 386.2,553.4 390.5,546.9 386,552.9 390.1,546.6 389,548 389.8,546.4 382.6,556 389.6,546.2 387.2,549.1 389.3,546 386.2,549.7 389,545.8 386.9,548.1 388.7,545.5 387.4,546.9 388.4,545.3 386.4,547.4 388.1,545.1 386.1,547.1 387.8,544.8 386.4,546.2 387.5,544.6 385.9,546.1 387.3,544.3 385.3,546.2 387,544.1 385.6,545.3 386.7,543.8 385.6,544.7 386.5,543.6 382.3,547.5 386.2,543.3 384.4,544.8 385.9,543.1 384.2,544.5 385.7,542.8 381.6,546.4 385.4,542.5 382,545.4 385.2,542.2 383,543.9 384.9,542 383.3,543.2 384.7,541.7 380.3,545.2 384.5,541.4 383,542.4 384.2,541.1 381.9,542.7 384,540.8 382,542.2 383.8,540.6 374.1,547.7 383.5,540.3 382,541.2 383.3,540 380.3,541.9 383.1,539.7 380.4,541.4 382.9,539.4 381.8,539.9 382.7,539.1 381.3,539.8 382.5,538.8 376.3,542.6 382.3,538.4 377.5,541.3 382.1,538.1 380.5,538.9 381.9,537.8 380.4,538.5 381.7,537.5 373.8,542 381.5,537.2 378.3,538.8 381.3,536.9 377.2,539 381.1,536.5 374.1,540.1 381,536.2 379.2,536.9 380.8,535.9 378,537.1 380.6,535.6 373.3,539 380.5,535.2 378.9,535.8 380.3,534.9 378.5,535.5 380.1,534.6 373.5,537.4 380,534.2 374.1,536.6 379.8,533.9 376.9,534.9 379.7,533.6 378.3,533.9 379.6,533.2 373.7,535.3 379.4,532.9 377.4,533.4 379.3,532.5 374.4,534.1 379.2,532.2 377.4,532.6 379,531.8 377.6,532.1 378.9,531.5 374.7,532.7 378.8,531.1 376.4,531.7 378.7,530.8 376.4,531.3 378.6,530.4 376,531 378.5,530.1 375.8,530.6 378.4,529.7 375.6,530.2 378.3,529.4 374.4,530.1 378.2,529 376.9,529.1 378.1,528.6 373.9,529.4 378.1,528.3 375.1,528.7 378,527.9 372.1,528.9 377.9,527.6 375.9,527.7 377.8,527.2 373.7,527.7 377.8,526.8 376.1,526.9 377.7,526.5 373.3,526.9 377.7,526.1 373.4,526.5 377.6,525.7 374.4,525.9 377.6,525.4 374.7,525.5 377.5,525 367.9,525.7 377.5,524.6 375.2,524.6 377.5,524.3 376.2,524.2 377.5,523.9 375.3,523.8 377.4,523.5 376.3,523.4 377.4,523.2 370,523.2 377.4,522.8 371.2,522.7 377.4,522.4 375.8,522.2 377.4,522.1 373.5,521.9 377.4,521.7 375.7,521.5 377.4,521.3 370.8,520.9 377.4,520.9 374.9,520.7 377.4,520.6 376.3,520.3 377.5,520.2 373.6,519.8 377.5,519.8 376.2,519.6 377.5,519.5 370,518.6 377.5,519.1 369,518 377.6,518.7 373.9,518.1 377.6,518.4 375.8,518 377.7,518 372.4,517.1 377.7,517.6 376.6,517.3 377.8,517.3 376.5,516.9 377.8,516.9 375.8,516.4 377.9,516.5 376.7,516.1 378,516.2 371.1,514.6 378,515.8 374,514.8 378.1,515.5 372.5,514 378.2,515.1 374.3,514 378.3,514.7 376.6,514.1 378.4,514.4 376.5,513.7 378.5,514 374.9,512.9 378.6,513.7 373.3,511.9 378.7,513.3 375.1,512 378.8,513 376.8,512.1 378.9,512.6 373.6,510.7 379,512.3 376.7,511.3 379.1,511.9 375.6,510.4 379.3,511.6 373.2,509.1 379.4,511.2 375.6,509.5 379.5,510.9 377,509.7 379.7,510.5 376.4,509 379.8,510.2 378.3,509.4 379.9,509.9 377.6,508.6 380.1,509.5 374.6,506.8 380.3,509.2 377.7,507.8 380.4,508.9 379.5,508.2 380.6,508.5 375.4,505.7 380.7,508.2 379.5,507.3 380.9,507.9 380,507.2 381.1,507.5 378.1,505.7 381.3,507.2 376.8,504.5 381.4,506.9 380.4,506.1 381.6,506.6 379.4,505 381.8,506.3 379.5,504.6 382,506 381,505.1 382.2,505.6 379.1,503.4 382.4,505.3 381,504.2 382.6,505 379.1,502.4 382.8,504.7 380.5,502.8 383,504.4 380.6,502.4 383.3,504.1 382,502.9 383.5,503.8 379.5,500.5 383.7,503.5 383,502.8 383.9,503.2 382.4,501.8 384.2,503 383.3,502 384.4,502.7 383.6,501.7 384.6,502.4 384,501.6 384.9,502.1 382.6,499.9 385.1,501.8 384.3,500.9 385.4,501.6 384.5,500.5 385.6,501.3 383.8,499.3 385.9,501 382.9,497.9 386.1,500.8 385.1,499.5 386.4,500.5 383.7,497.4 386.7,500.2 384.5,497.7 386.9,500 381.3,493.6 387.2,499.7 383.4,495.3 387.5,499.5 379.7,490.4 387.7,499.2 386.4,497.4 388,499 383.5,493.3 388.3,498.8 387.1,497 388.6,498.5 387.5,496.9 388.9,498.3 387.4,496.1 389.2,498.1 388.7,497.1 389.5,497.8 386.8,493.9 389.8,497.6 389.2,496.5 390.1,497.4 388.1,494.2 390.4,497.2 389.9,496.1 390.7,497 389.4,494.7 391,496.8 390.1,495.1 391.3,496.6 386.4,488.5 391.6,496.4 390.7,494.6 391.9,496.2 390.9,494.1 392.2,496 391.3,494.1 392.5,495.8 392,494.5 392.9,495.6 391.1,492 393.2,495.5 392.4,493.6 393.5,495.3 392.8,493.5 393.8,495.1 393.1,493.2 394.2,494.9 393.3,492.8 394.5,494.8 392.3,489.7 394.8,494.6 394.3,493 395.2,494.5 394.8,493.1 395.5,494.3 394.8,492.3 395.8,494.2 394.7,490.9 396.2,494 395.6,492.1 396.5,493.9 396.2,492.6 396.9,493.8 396.3,491.6 397.2,493.6 393.9,483.8 397.6,493.5 395.3,486.3 397.9,493.4 397.2,490.8 398.3,493.3 397.6,490.7 398.6,493.2 398.3,491.6 399,493.1 398,489 399.3,493 398.2,488.4 399.7,492.9 399.4,491 400,492.8 399.3,489 400.4,492.7 400.3,491.4 400.8,492.6 400.5,490.5 401.1,492.5 400.9,490.5 401.5,492.4 400.6,486.9 401.8,492.4 401.3,488.6 402.2,492.3 401.9,489.2 402.6,492.2 402.3,489.6 402.9,492.2 402.6,488.8 403.3,492.1 403.1,489.2 403.7,492.1 403.6,490.2 404,492 403.5,485.9 404.4,492 404,486.4 404.8,491.9 404.7,489.5 405.1,491.9 405.1,489.4 405.5,491.9 405.1,483.3 405.9,491.9 406,490.8 406.2,491.8 406.2,486.6 406.6,491.8 406.7,490.3 407,491.8 407.1,490.2 407.3,491.8 407.5,489.6 407.7,491.8 407.9,488 408.1,491.8 408.3,489.7 408.4,491.8 408.7,488.7 408.8,491.8 409.1,488.8 409.2,491.8 409.9,483.5 409.5,491.9 410,488.4 409.9,491.9 410.3,490 410.3,491.9 410.8,488 410.7,492 411.2,488.6 411,492 411.4,490 411.4,492 412.2,487.4 411.8,492.1 412.1,491.1 412.1,492.1 414.2,480.3 412.5,492.2 413.8,485.3 412.8,492.3 413.2,491.1 413.2,492.3 414.3,487.8 413.6,492.4 414,491.1 413.9,492.5 416.7,480.8 414.3,492.6 415.1,489.9 414.7,492.6 416,487.9 415,492.7 415.7,491 415.4,492.8 416.6,488.9 415.7,492.9 416.2,491.9 416.1,493 417.9,487.6 416.4,493.1 417.2,491.4 416.8,493.2 417.4,491.8 417.1,493.3 418.2,490.9 417.5,493.5 418.7,490.7 417.8,493.6 418.4,492.6 418.2,493.7 418.9,492.3 418.5,493.8 419.6,491.7 418.9,494 420.3,491 419.2,494.1 421.1,490.1 419.5,494.3 420.3,493 419.9,494.4 422.5,489 420.2,494.6 421.4,492.6 420.6,494.7 425.9,484 420.9,494.9 422.1,492.9 421.2,495 422.6,492.7 421.5,495.2 422.8,493.3 421.9,495.4 422.6,494.4 422.2,495.6 426.6,488.2 422.5,495.7 424.5,492.7 422.8,495.9 425.6,491.6 423.2,496.1 424.1,494.9 423.5,496.3 425.2,493.9 423.8,496.5 425,494.9 424.1,496.7 425.3,495.2 424.4,496.9 425.9,495 424.7,497.1 427.1,494.1 425,497.3 426.8,495.2 425.3,497.5 428.1,494 425.6,497.8 433,488.3 425.9,498 428.2,495.3 426.2,498.2 429.8,493.9 426.5,498.4 432.8,490.9 426.8,498.7 434.1,490.1 427.1,498.9 428.6,497.3 427.3,499.1 431.6,494.5 427.6,499.4 430.7,496.2 427.9,499.6 428.7,499 428.2,499.9 432.4,495.7 428.4,500.1 433.8,494.8 428.7,500.4 434.1,495.1 429,500.6 430.6,499.2 429.2,500.9 432.8,497.7 429.5,501.2 434,497.1 429.7,501.4 431.8,499.7 430,501.7 433,499.2 430.2,502 432.1,500.6 430.5,502.3 436.9,497 430.7,502.5 433.2,500.7 430.9,502.8 432.5,501.8 431.2,503.1 433.3,501.6 431.4,503.4 434.3,501.4 431.6,503.7 433.6,502.4 431.8,504 433.7,502.9 432.1,504.3 435.3,502.2 432.3,504.6 434.1,503.5 432.5,504.9 435,503.4 432.7,505.2 433.8,504.7 432.9,505.5 434.8,504.5 433.1,505.8 434.3,505.3 433.3,506.1 435.9,504.8 433.5,506.4 435.4,505.5 433.7,506.8 435.8,505.7 433.9,507.1 434.9,506.7 434,507.4 444.7,501.8 434.2,507.7 435.8,507.1 434.4,508.1 435.4,507.7 434.6,508.4 437.8,507 434.7,508.7 435.8,508.4 434.9,509 438.1,507.7 435,509.4 442.5,506.2 435.2,509.7 436.3,509.4 435.3,510.1 438,509.1 435.5,510.4 441.3,508.2 435.6,510.7 437.4,510.3 435.8,511.1 437.1,510.7 435.9,511.4 437.1,511.2 436,511.8 440.3,510.5 436.1,512.1 441.1,510.6 436.3,512.5 438.8,511.8 436.4,512.8 438.6,512.3 436.5,513.2 448,509.9 436.6,513.5 438.4,513.2 436.7,513.9 442.2,512.6 436.8,514.2 442.4,513 436.9,514.6 439.6,514.1 437,514.9 442.3,513.9 437,515.3 439.2,515 437.1,515.7 444.8,514.3 437.2,516 442.1,515.3 437.3,516.4 441.1,515.9 437.3,516.8 443.6,515.9 437.4,517.1 441.6,516.6 437.5,517.5 444.2,516.7 437.5,517.8 439.8,517.7 437.6,518.2 439.9,518.1 437.6,518.6 447,517.8 437.6,518.9 440.3,518.9 437.7,519.3 439.8,519.3 437.7,519.7 443.5,519.5 437.7,520.1 440,520.1 437.8,520.4 440.3,520.5 437.8,520.8 441.2,520.9 437.8,521.2 439.1,521.3 437.8,521.5 444.1,521.6 437.8,521.9 441.5,522.1ZM377.4,522a30.2,30.2 0 1 0 60.5,0a30.2,30.2 0 1 0 -60.5,0Z" fill="url(#spk2)" opacity="0.8" fill-rule="evenodd"/>
<path transform="scale(.1)" d="m3583 5539l-70 45m943-811l35-42m-324 1069l7 42m338-229l31 27m-142 69l45 68m216-596l95-6m-1105 451l-52 50m264-1004l-23-61m760 871l96 48m-1056-704l-36-33m1002 677l43 20m-6-420l47-12m-1029-254l-83-83m1070 627l69 16m-1223-60l-112 16m914 444l23 56m-236-13l0 44m-279-1152l-48-93m-222 842l-39 17m447-817l-23-96m-179 186l-37-55m656 23l44-79m-824 279l-70-45m628 943l8 76m90-1225l26-91m-519 1140l-60 87m706-1068l23-37m-13 1024l32 48m230-484l99 9m-1039-531l-50-66m992 514l68-2m-470 579l15 47m-515-109l-57 91m-88-951l-35-28m-41 632l-40 18m156-667l-36-35m708 975l39 83m10-1117l45-77m-505 1146l-25 88m103-72l-6 41" stroke="#ef8a8a" stroke-width="6" fill="none" opacity="0.75"/>
<circle cx="407.6" cy="522.0" r="84.3" fill="none" stroke="#555" stroke-width="0.7"/>
<circle cx="407.6" cy="522.0" r="58.3" fill="none" stroke="#555" stroke-width="0.8"/>
<circle cx="407.6" cy="522.0" r="55.8" fill="none" stroke="#555" stroke-width="0.8"/>
<circle cx="407.6" cy="522.0" r="30.0" fill="none" stroke="#555" stroke-width="0.8"/>
<path d="M355.3,547.7L331.9,559.2M380.7,535.2L357.5,546.6M349.3,520L323.3,519.1M377.6,521L351.8,520.1M356.2,494.4L333.3,482.1M381.2,507.8L358.4,495.6M371.2,476.4L355,456.1M388.9,498.6L372.8,478.4M391.6,465.9L384.5,440.9M399.4,493.1L392.3,468.3M413.8,464L416.6,438.2M410.8,492.2L413.6,466.5M434.9,470.5L447,447.5M421.6,495.5L433.7,472.7M451.6,483.8L471.3,466.7M430.3,502.3L449.7,485.4M461.6,500.1L485.7,490.4M435.4,510.7L459.3,501.1M465.8,518.1L491.7,516.4M437.5,520L463.3,518.3M463.8,537.4L488.9,544.2M436.5,529.9L461.4,536.7M456.4,553.9L478.1,568.2M432.7,538.4L454.3,552.6M444.4,567.2L460.8,587.4M426.5,545.3L442.8,565.3M429,576.2L438.5,600.4M418.6,549.9L428.1,573.9M410.9,580.2L412.3,606.2M409.3,552L410.7,577.7M395.3,579L389.8,604.4M401.3,551.3L395.8,576.5M381.4,574.1L369.7,597.3M394.1,548.8L382.5,571.8M369.5,566.1L352.4,585.7M388,544.7L371.1,564.2M360.2,555.9L339.1,571.1M383.2,539.5L362.2,554.5" stroke="#808080" stroke-width="1.1"/>
<text x="277.1" y="550" font-size="8.6" text-anchor="middle" dominant-baseline="central" transform="rotate(257.9 277.1 550)" fill="#333">1</text>
<text x="278.7" y="487.2" font-size="8.6" text-anchor="middle" dominant-baseline="central" transform="rotate(285.1 278.7 487.2)" fill="#333">2</text>
<text x="305.1" y="436.5" font-size="8.6" text-anchor="middle" dominant-baseline="central" transform="rotate(309.8 305.1 436.5)" fill="#333">3</text>
<text x="346.5" y="403.3" font-size="8.6" text-anchor="middle" dominant-baseline="central" transform="rotate(332.8 346.5 403.3)" fill="#333">4</text>
<text x="396.2" y="389" font-size="8.6" text-anchor="middle" dominant-baseline="central" transform="rotate(355.1 396.2 389)" fill="#333">5</text>
<text x="446.7" y="394.3" font-size="8.6" text-anchor="middle" dominant-baseline="central" transform="rotate(377 446.7 394.3)" fill="#333">6</text>
<text x="490.6" y="417.5" font-size="8.6" text-anchor="middle" dominant-baseline="central" transform="rotate(398.5 490.6 417.5)" fill="#333">7</text>
<text x="521.4" y="452.2" font-size="8.6" text-anchor="middle" dominant-baseline="central" transform="rotate(418.5 521.4 452.2)" fill="#333">8</text>
<text x="537.7" y="492.1" font-size="8.6" text-anchor="middle" dominant-baseline="central" transform="rotate(437.1 537.7 492.1)" fill="#333">9</text>
<text x="540.4" y="535.4" font-size="8.6" text-anchor="middle" dominant-baseline="central" transform="rotate(455.8 540.4 535.4)" fill="#333">10</text>
<text x="529.3" y="576.8" font-size="8.6" text-anchor="middle" dominant-baseline="central" transform="rotate(474.3 529.3 576.8)" fill="#333">11</text>
<text x="506.8" y="611.4" font-size="8.6" text-anchor="middle" dominant-baseline="central" transform="rotate(492 506.8 611.4)" fill="#333">12</text>
<text x="475" y="637.2" font-size="8.6" text-anchor="middle" dominant-baseline="central" transform="rotate(509.7 475 637.2)" fill="#333">13</text>
<text x="436.2" y="652.4" font-size="8.6" text-anchor="middle" dominant-baseline="central" transform="rotate(527.6 436.2 652.4)" fill="#333">14</text>
<text x="397.2" y="655.1" font-size="8.6" text-anchor="middle" dominant-baseline="central" transform="rotate(544.5 397.2 655.1)" fill="#333">15</text>
<text x="363.1" y="647.9" font-size="8.6" text-anchor="middle" dominant-baseline="central" transform="rotate(559.5 363.1 647.9)" fill="#333">16</text>
<text x="333.3" y="632.9" font-size="8.6" text-anchor="middle" dominant-baseline="central" transform="rotate(573.8 333.3 632.9)" fill="#333">17</text>
<text x="309" y="612" font-size="8.6" text-anchor="middle" dominant-baseline="central" transform="rotate(587.6 309 612)" fill="#333">18</text>
<text x="293" y="590.5" font-size="8.6" text-anchor="middle" dominant-baseline="central" transform="rotate(599.1 293 590.5)" fill="#333">19</text>
<path d="M437.8,520.7L533.5,516.7A126,126 0 0 1 529.4,554.4L436.8,529.8A30.2,30.2 0 0 0 437.8,520.7Z" fill="none" stroke="#222" stroke-width="1.1"/>
</g>
<path d="M592.7,445.3A274.8,274.8 0 0 1 601,444.2L601.5,448.5A270.5,270.5 0 0 0 593.3,449.6ZM610,443.2A274.8,274.8 0 0 1 614.8,442.9L615.1,447.2A270.5,270.5 0 0 0 610.4,447.5ZM620.1,442.6A274.8,274.8 0 0 1 624.9,442.4L625,446.6A270.5,270.5 0 0 0 620.3,446.8ZM630.2,442.2A274.8,274.8 0 0 1 632.1,442.2L632.1,446.5A270.5,270.5 0 0 0 630.2,446.5ZM633.3,442.2A274.8,274.8 0 0 1 636.4,442.2L636.4,446.5A270.5,270.5 0 0 0 633.3,446.5ZM649.3,442.6A274.8,274.8 0 0 1 658.4,443.3L658,447.6A270.5,270.5 0 0 0 649.1,446.9ZM670.3,444.6A274.8,274.8 0 0 1 675.3,445.3L674.7,449.6A270.5,270.5 0 0 0 669.8,448.9Z" fill="#111"/>
<path d="M593.3,449.6A270.5,270.5 0 0 1 674.7,449.6M594.2,455.2A264.8,264.8 0 0 1 673.8,455.2M598.6,484.1A235.6,235.6 0 0 1 669.4,484.1M599.3,488.7A230.9,230.9 0 0 1 668.7,488.7M603.9,518.9A200.4,200.4 0 0 1 664.1,518.9M604.6,523.8A195.4,195.4 0 0 1 663.4,523.8M613.8,584.3A134.2,134.2 0 0 1 654.2,584.3M614.6,589.2A129.3,129.3 0 0 1 653.4,589.2" fill="none" stroke="#333" stroke-width="0.7"/>
<path transform="scale(.1)" d="m6620 4646h0m-65-1h0m-10-15h0m-10 11h0m-78 4h0m-30 2h0m-28-6h0m-35-7h0m-29 16h0m-15-15h0m-129 0h0m-83 10h0m-41-6h0m-48 5h0m647 11h0m-7 18h0m-18-3h0m-3 3h0m-1-19h0m-16 4h0m-9 5h0m-10 8h0m-1 6h0m-3-12h0m-20 6h0m-5 1h0m-5 1h0m-4-10h0m-16 9h0m-1-10h0m-12-6h0m-8 21h0m-8-12h0m-55-4h0m-8-1h0m0-2h0m-4 13h0m-24-11h0m-1-4h0m-21 20h0m-6-8h0m0-6h0m-1 4h0m-5 9h0m-8-22h0m-1 6h0m-11 1h0m-5 1h0m0 7h0m-11 2h0m-16-12h0m-3 6h0m-16-11h0m-3 17h0m-86 5h0m-10-8h0m-10-15h0m-1 6h0m-9 17h0m-1-11h0m-4 14h0m-3 1h0m0-13h0m-70-3h0m-20 10h0m-27 2h0m-2-22h0m-3 10h0m-3-9h0m-4-2h0m0 14h0m-7 9h0m-12 5h0m-1-22h0m-1 8h0m-1 7h0m-11 0h0m-10 6h0m-9-1h0m-1-23h0m-4 8h0m25 38h0m5-18h0m1 23h0m6-1h0m26-9h0m2 3h0m11 4h0m4-19h0m42 18h0m8-14h0m94 1h0m9 9h0m72-14h0m14 2h0m12 9h0m10 13h0m9-25h0m5 5h0m13 11h0m13-16h0m46 19h0m2 6h0m15-21h0m14 11h0m53-13h0m22-1h0m10 18h0m16-3h0m12-12h0m18 14h0m13-18h0m4 17h0m2-20h0m3 17h0m9-4h0m7-9h0m3 25h0m10-14h0m0 2h0m5-12h0m9 14h0m-582 25h0m28-6h0m423-2h0m123 80h0m-35-6h0m-53-8h0m-17 0h0m-50-7h0m-122-2h0m-178-1h0m-71 6h0m-84 16h0m542 216h0m0 0h0m-47-4h0m-46-3h0m-48 4h0m0 0h0m-8 2h0m-20-5h0m-16-4h0m-3 7h0m-4-9h0m-5 11h0m-18-23h0m-20 20h0m-5-10h0m-10 7h0m-87-2h0m-117 9h0m-75-3h0m436-27h0m123 59h0m-10-7h0m-11-21h0m-6 20h0m-7-20h0m-5 11h0m-16 4h0m-6 1h0m-5 12h0m-2-4h0m-3-22h0m-5 20h0m-5-17h0m-16-2h0m-2 16h0m-4-13h0m-4 15h0m-9-12h0m-7 1h0m-1-4h0m-64 0h0m-2 20h0m-2 0h0m-10-23h0m-4 12h0m-4-10h0m-3 20h0m-9 0h0m-10 2h0m-1-13h0m0 13h0m-13-24h0m-1 20h0m-7-13h0m-9 7h0m-2-12h0m-11 1h0m-10-6h0m-76 25h0m-19-3h0m-10-9h0m-2 12h0m-6-23h0m-62 8h0m-6 3h0m-3 11h0m-8-1h0m-6 5h0m-8-5h0m-3-2h0m-22-22h0m-2 8h0m-15 0h0m-2 14h0m0-6h0m-16 2h0m-1 9h0m-5-3h0m0 21h0m11-11h0m8 2h0m10 7h0m3-5h0m55 3h0m6 14h0m6-3h0m6-9h0m0 4h0m58-8h0m26 9h0m83-3h0m5-9h0m14-2h0m6 11h0m5-4h0m0-6h0m2-4h0m25 17h0m1-10h0m33 1h0m6 2h0m4-10h0m16-1h0m42 15h0m6 6h0m1 1h0m2 7h0m15-24h0m1 17h0m22-14h0m11 1h0m19 3h0m14-6h0m13 8h0m1-9h0m7 4h0m11 4h0m-177 75h0m-26 1h0m-28-4h0m-49-2h0m-27 2h0m-83 2h0m-28 3h0m-132-53h0m48-4h0m30 8h0m254-8h0m214 69h0m-28-2h0m-24-1h0m-16-7h0m-44-1h0m-346 3h0m-67 3h0m-22 8h0" stroke="#1f52a0" stroke-width="21" stroke-linecap="round" fill="none" opacity="0.92"/>
<path transform="scale(.1)" d="m6416 4649h0m-54-5h0m-230 2h0m200-28h0m330 46h0m-3-7h0m-24 0h0m-41 3h0m-156 11h0m-26-10h0m-30-8h0m0 19h0m-20 1h0m-127-8h0m-25-7h0m-3-6h0m-16-2h0m-120 3h0m-8 11h0m0 7h0m-31 9h0m-15 16h0m18 1h0m40-15h0m21 22h0m347-21h0m7-2h0m1-1h0m88 9h0m98 19h0m11-17h0m18 18h0m-305 61h0m-90-1h0m267-48h0m61 61h0m-69-2h0m-103-4h0m-108 0h0m-211 10h0m424 209h0m-150 8h0m-137-8h0m-24 1h0m-92 10h0m-38 2h0m527 13h0m-35 11h0m-46 3h0m-12-1h0m-18 4h0m-12-24h0m-82 15h0m-18 8h0m-1-16h0m-69 3h0m-74-2h0m-6-2h0m-25 3h0m-4-9h0m0 20h0m-51 5h0m-9-23h0m-27 10h0m-55 8h0m7 8h0m63 1h0m17 26h0m4-16h0m4 5h0m81-7h0m77 3h0m191-10h0m40-3h0m8 4h0m5-5h0m-111 85h0m-105-3h0m-88 2h0m-25 3h0m-63 0h0m-114-51h0" stroke="#f2a04c" stroke-width="20" stroke-linecap="round" fill="none" opacity="0.9"/>
<path d="M615.9,579.7 615.2,571.8 616.4,579.6 615.6,570.9 617,579.6 615.4,564.6 617.5,579.5 615.7,561.7 618,579.4 616.4,562.6 618.6,579.4 618.2,573.4 619.1,579.3 617,557.4 619.6,579.2 619.2,572.7 620.1,579.2 619.9,573.8 620.7,579.1 620.6,575.5 621.2,579.1 620.8,571.4 621.7,579 621.6,574.9 622.3,579 622.1,573.9 622.8,579 622.3,569.8 623.3,578.9 622.6,566.2 623.9,578.9 623.3,566.8 624.4,578.8 624.4,575.2 624.9,578.8 625,575.4 625.4,578.8 625.4,573.8 626,578.7 625.8,570.5 626.5,578.7 626,563.8 627,578.7 626.7,565.2 627.6,578.6 626.9,558 628.1,578.6 628,569.8 628.6,578.6 628.5,569 629.2,578.6 629.3,573.3 629.7,578.6 629.8,573.1 630.2,578.6 630.4,574 630.8,578.5 630.9,570.6 631.3,578.5 631.4,569.4 631.8,578.5 632,570 632.4,578.5 632.6,572.3 632.9,578.5 633.1,571.9 633.4,578.5 633.7,573.6 634,578.5 634.2,564.5 634.5,578.5 634.8,569.8 635,578.5 635.4,566.5 635.5,578.5 636,564.7 636.1,578.5 636.4,573.4 636.6,578.5 637,574.7 637.1,578.5 637.5,573.4 637.7,578.5 638.5,560.1 638.2,578.6 638.9,565.4 638.7,578.6 639.2,572.2 639.3,578.6 640,565.9 639.8,578.6 640.3,572.9 640.3,578.6 641.4,562.6 640.9,578.7 641.3,575.1 641.4,578.7 642.3,567 641.9,578.7 643.5,556.8 642.5,578.8 643.1,572.2 643,578.8 643.7,571.8 643.5,578.8 644.1,574.9 644,578.9 644.7,573.8 644.6,578.9 645.2,574.2 645.1,578.9 645.8,573.7 645.6,579 646.2,575.6 646.2,579 646.9,573.8 646.7,579.1 647.3,575.4 647.2,579.1 648.3,571.4 647.8,579.2 648.7,572.9 648.3,579.2 649,574.6 648.8,579.3 651.4,557.8 649.3,579.4 650.2,574 649.9,579.4 651.1,571.6 650.4,579.5 652.8,562 650.9,579.5Z" fill="url(#zsp)" opacity="0.9"/>
<path d="M615.9,579.7 615.8,573.8 617.1,579.5 616.8,571.8 618.3,579.4 618.1,571.5 619.5,579.3 619.4,571.5 620.7,579.1 621,575.7 621.9,579 621.9,571.4 623.1,578.9 623.2,572 624.3,578.8 624.6,573.4 625.5,578.8 625.8,572.4 626.8,578.7 627,570.7 628,578.6 628.3,571.9 629.2,578.6 629.6,573.7 630.4,578.5 630.9,573 631.6,578.5 632.1,569.7 632.8,578.5 633.4,571.4 634,578.5 634.6,574.7 635.2,578.5 635.9,571.7 636.4,578.5 637.2,572.4 637.6,578.5 638.4,573.1 638.8,578.6 639.6,573.3 640,578.6 641.1,570.1 641.2,578.7 642.3,570.4 642.5,578.8 643.4,573.2 643.7,578.8 644.8,572.1 644.9,578.9 646,572.3 646.1,579 647.4,571.6 647.3,579.1 648.5,573 648.5,579.3 649.7,573.8 649.7,579.4 651.3,570.7 650.9,579.5Z" fill="#8a5cc2" opacity="0.55"/>
<path transform="scale(.1)" d="m6373 5785l11-479m-80 479l-5-173m48 173l1-124m55 125l7-160m-171 163l-13-174" stroke="#ef7b7b" stroke-width="7" fill="none" opacity="0.9"/>
<path d="M615.6,579A139.2,139.2 0 0 1 651,578.8" fill="none" stroke="#7a45b5" stroke-width="1.4" opacity="0.8"/>
<path d="M626.3,643.6 626.4,641.9 626.9,643.5 626.9,640.9 627.4,643.5 627.5,640.9 628,643.4 628,639.8 628.6,643.4 628.8,642.4 629.2,643.4 629.1,637.6 629.8,643.3 629.9,641.6 630.3,643.3 630.5,640.7 630.9,643.3 631.1,640.6 631.5,643.2 631.6,638.6 632.1,643.2 632.3,642.3 632.6,643.2 632.9,642.1 633.2,643.2 633.5,640.8 633.8,643.2 634.1,641.4 634.4,643.2 634.8,634.2 635,643.2 635.4,634.2 635.5,643.2 635.9,640.6 636.1,643.2 636.5,642.1 636.7,643.2 637.2,637.9 637.3,643.3 637.6,642.9 637.9,643.3 638.3,640.9 638.4,643.3 638.8,642.2 639,643.4 639.3,643 639.6,643.4 640.1,641.2 640.2,643.5 640.5,643 640.8,643.5 641.1,642.7 641.3,643.6Z" fill="#9a6ccc" opacity="0.75"/>
<path d="M625.6,643.3A74.2,74.2 0 0 1 642.4,643.3" fill="none" stroke="#9a6ccc" stroke-width="0.9" opacity="0.6"/>
<text x="634.7" y="528.9" font-size="6.2" text-anchor="middle" textLength="21.5" lengthAdjust="spacingAndGlyphs">FOXA1</text>
<text x="635.2" y="595.4" font-size="6.2" text-anchor="middle" textLength="24.5" lengthAdjust="spacingAndGlyphs">HNF4G</text>
<path d="M592.4,443.3A276.8,276.8 0 0 1 675.6,443.3L644.3,649.2A68.6,68.6 0 0 0 623.7,649.2Z" fill="none" stroke="#111" stroke-width="1.5" stroke-linejoin="round"/>
<rect x="532.2" y="358.4" width="101.5" height="65" fill="#fff" stroke="#888" stroke-width="0.6"/>
<text x="537" y="366.5" font-size="7.8" textLength="83.6" lengthAdjust="spacingAndGlyphs">FOXA1 and HNF4G loops</text>
<text x="537.7" y="403" font-size="7.8" textLength="90.1" lengthAdjust="spacingAndGlyphs">FOXA1 and HNF4G binding</text>
<circle cx="543" cy="374.1" r="0.9" fill="#f39a3e"/>
<text x="548.6" y="376.5" font-size="7.8" textLength="15.7" lengthAdjust="spacingAndGlyphs">Mets</text>
<circle cx="543" cy="382.9" r="0.9" fill="#2a3f9a"/>
<text x="548.6" y="385.3" font-size="7.8" textLength="21" lengthAdjust="spacingAndGlyphs">Tumor</text>
<circle cx="543" cy="409.1" r="0.9" fill="#d42a2a"/>
<text x="548.6" y="411.5" font-size="7.8" textLength="15.7" lengthAdjust="spacingAndGlyphs">Mets</text>
<circle cx="543" cy="418.3" r="0.9" fill="#2a3f9a"/>
<text x="548.6" y="420.7" font-size="7.8" textLength="21" lengthAdjust="spacingAndGlyphs">Tumor</text>
</svg></body></html>
